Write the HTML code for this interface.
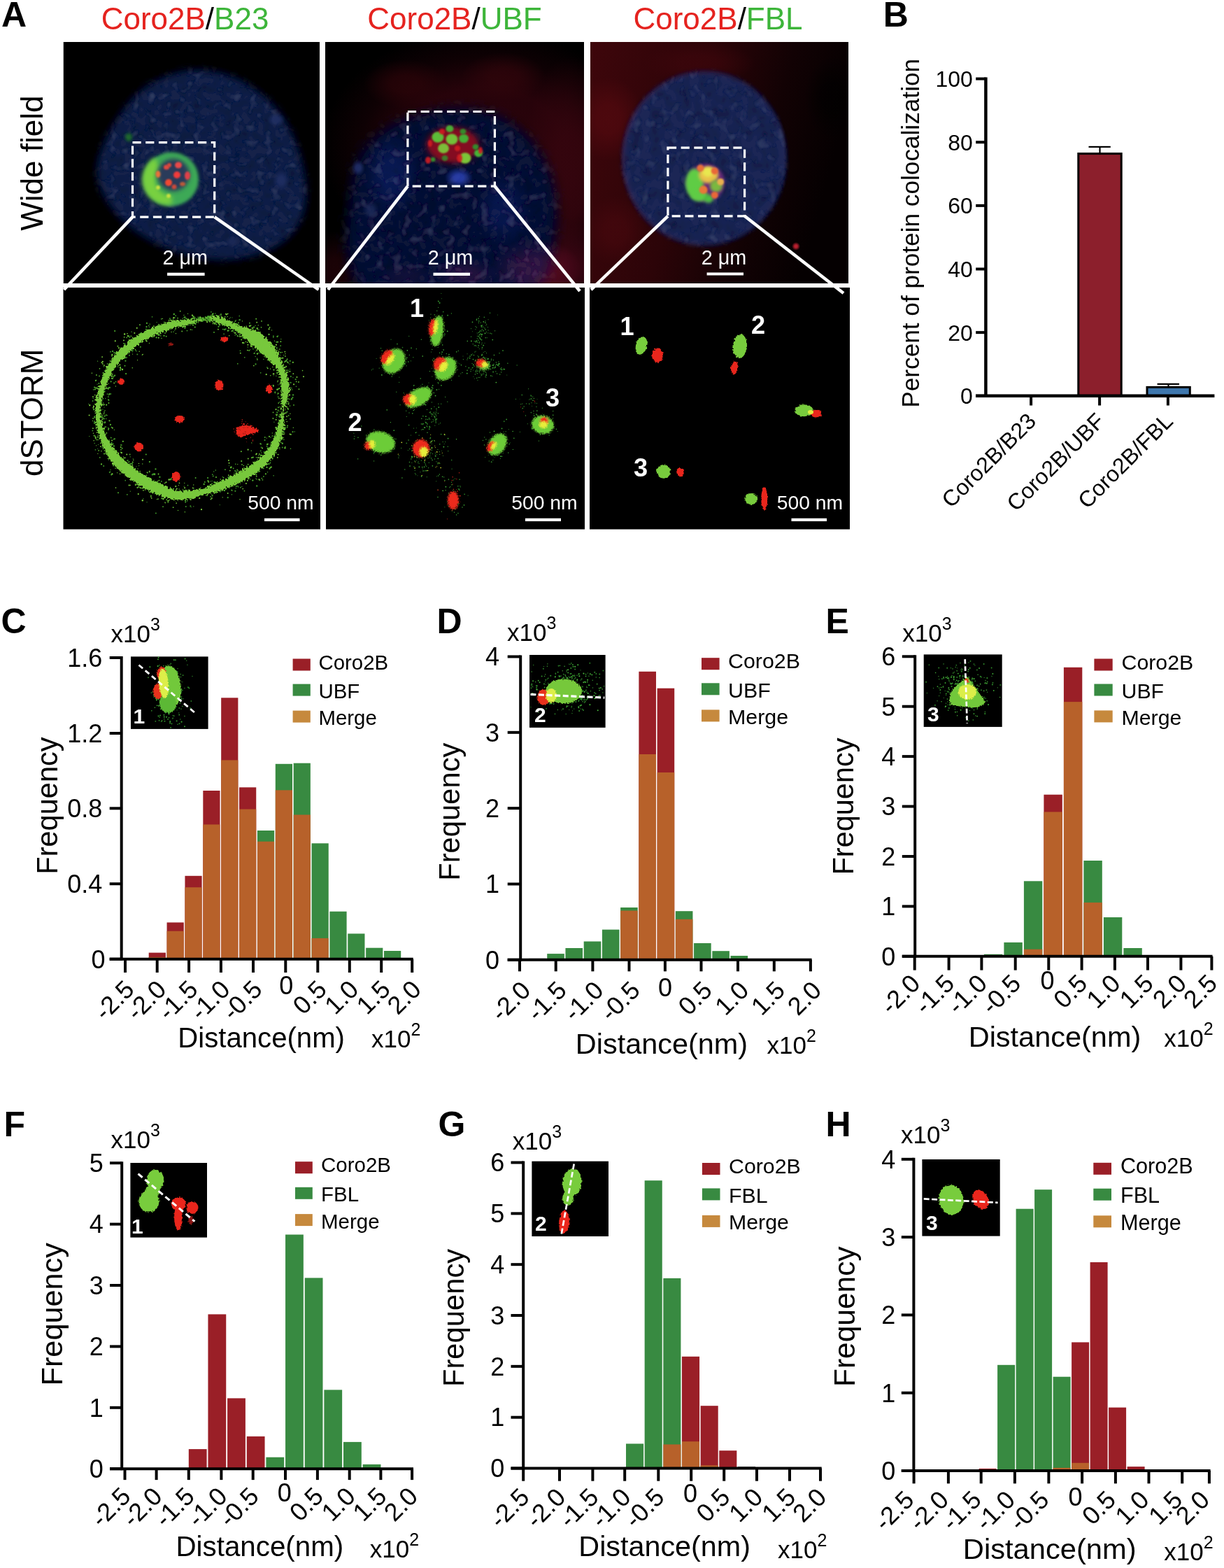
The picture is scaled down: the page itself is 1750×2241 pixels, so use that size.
<!DOCTYPE html><html><head><meta charset="utf-8"><title>Figure</title><style>html,body{margin:0;padding:0;background:#fff;}svg{display:block;}</style></head><body>
<svg xmlns="http://www.w3.org/2000/svg" width="1750" height="2241" viewBox="0 0 1750 2241" font-family='"Liberation Sans", Arial, sans-serif'>
<defs>
<radialGradient id="redbg2" cx="0.5" cy="0.35" r="0.75"><stop offset="0" stop-color="#2a0509"/><stop offset="0.5" stop-color="#22040a"/><stop offset="0.8" stop-color="#100204"/><stop offset="1" stop-color="#000"/></radialGradient>
<linearGradient id="redbg3" x1="0" y1="0" x2="1" y2="0.25"><stop offset="0" stop-color="#3e060b"/><stop offset="0.45" stop-color="#2c0408"/><stop offset="0.75" stop-color="#120204"/><stop offset="1" stop-color="#050001"/></linearGradient>
<filter id="blur05" x="-50%" y="-50%" width="200%" height="200%"><feGaussianBlur stdDeviation="0.6"/></filter>
<filter id="blur1" x="-50%" y="-50%" width="200%" height="200%"><feGaussianBlur stdDeviation="1.2"/></filter>
<filter id="blur2" x="-50%" y="-50%" width="200%" height="200%"><feGaussianBlur stdDeviation="2"/></filter>
<filter id="blur3" x="-50%" y="-50%" width="200%" height="200%"><feGaussianBlur stdDeviation="3"/></filter>
<filter id="blur4" x="-50%" y="-50%" width="200%" height="200%"><feGaussianBlur stdDeviation="4"/></filter>
<filter id="blur8" x="-50%" y="-50%" width="200%" height="200%"><feGaussianBlur stdDeviation="8"/></filter>
<filter id="blur20" x="-60%" y="-60%" width="220%" height="220%"><feGaussianBlur stdDeviation="20"/></filter>
<filter id="blur12" x="-50%" y="-50%" width="200%" height="200%"><feGaussianBlur stdDeviation="12"/></filter>
<filter id="nucblur" x="-30%" y="-30%" width="160%" height="160%"><feGaussianBlur in="SourceGraphic" stdDeviation="6" result="b"/><feTurbulence type="fractalNoise" baseFrequency="0.09" numOctaves="2" seed="7" result="t"/><feGaussianBlur in="t" stdDeviation="0.8" result="t2"/><feColorMatrix in="t2" type="matrix" values="0 0 0 0 0  0 0 0 0 0  0 0 0 0 0  0.8 0 0 0 -0.33" result="d"/><feComposite in="d" in2="b" operator="in" result="dm"/><feColorMatrix in="t2" type="matrix" values="0 0 0 0 0.1  0 0 0 0 0.13  0 0 0 0 0.28  0 0.7 0 0 -0.38" result="l"/><feComposite in="l" in2="b" operator="in" result="lm"/><feMerge><feMergeNode in="b"/><feMergeNode in="dm"/><feMergeNode in="lm"/></feMerge></filter>
<filter id="nucblur2" x="-30%" y="-30%" width="160%" height="160%"><feGaussianBlur in="SourceGraphic" stdDeviation="9" result="b"/><feTurbulence type="fractalNoise" baseFrequency="0.08" numOctaves="2" seed="4" result="t"/><feGaussianBlur in="t" stdDeviation="0.8" result="t2"/><feColorMatrix in="t2" type="matrix" values="0 0 0 0 0  0 0 0 0 0  0 0 0 0 0  0.8 0 0 0 -0.33" result="d"/><feComposite in="d" in2="b" operator="in" result="dm"/><feColorMatrix in="t2" type="matrix" values="0 0 0 0 0.1  0 0 0 0 0.13  0 0 0 0 0.28  0 0.7 0 0 -0.38" result="l"/><feComposite in="l" in2="b" operator="in" result="lm"/><feMerge><feMergeNode in="b"/><feMergeNode in="dm"/><feMergeNode in="lm"/></feMerge></filter>
<filter id="nucblur3" x="-30%" y="-30%" width="160%" height="160%"><feGaussianBlur in="SourceGraphic" stdDeviation="3" result="b"/><feTurbulence type="fractalNoise" baseFrequency="0.07" numOctaves="2" seed="11" result="t"/><feGaussianBlur in="t" stdDeviation="0.8" result="t2"/><feColorMatrix in="t2" type="matrix" values="0 0 0 0 0  0 0 0 0 0  0 0 0 0 0  0.8 0 0 0 -0.33" result="d"/><feComposite in="d" in2="b" operator="in" result="dm"/><feColorMatrix in="t2" type="matrix" values="0 0 0 0 0.1  0 0 0 0 0.13  0 0 0 0 0.28  0 0.7 0 0 -0.38" result="l"/><feComposite in="l" in2="b" operator="in" result="lm"/><feMerge><feMergeNode in="b"/><feMergeNode in="dm"/><feMergeNode in="lm"/></feMerge></filter>
<filter id="soft0" x="-50%" y="-50%" width="200%" height="200%"><feGaussianBlur stdDeviation="0.5"/></filter>
<filter id="soft1" x="-50%" y="-50%" width="200%" height="200%"><feGaussianBlur stdDeviation="1.5"/></filter>
<filter id="speck" x="-20%" y="-20%" width="140%" height="140%"><feTurbulence type="fractalNoise" baseFrequency="0.35" numOctaves="2" seed="3" result="n"/><feDisplacementMap in="SourceGraphic" in2="n" scale="9" xChannelSelector="R" yChannelSelector="G"/></filter>
<filter id="speck2" x="-50%" y="-50%" width="200%" height="200%"><feTurbulence type="fractalNoise" baseFrequency="0.5" numOctaves="2" seed="5" result="n"/><feDisplacementMap in="SourceGraphic" in2="n" scale="4" xChannelSelector="R" yChannelSelector="G"/></filter>
<filter id="speck3" x="-20%" y="-20%" width="140%" height="140%"><feGaussianBlur stdDeviation="1.3" result="b"/><feTurbulence type="fractalNoise" baseFrequency="0.6" numOctaves="1" seed="9" result="n"/><feDisplacementMap in="b" in2="n" scale="6" xChannelSelector="R" yChannelSelector="G"/></filter>
<filter id="speck5" x="-20%" y="-20%" width="140%" height="140%"><feTurbulence type="fractalNoise" baseFrequency="0.7" numOctaves="1" seed="21" result="n"/><feDisplacementMap in="SourceGraphic" in2="n" scale="5" xChannelSelector="R" yChannelSelector="G"/></filter>
<filter id="speck4" x="-20%" y="-20%" width="140%" height="140%"><feTurbulence type="fractalNoise" baseFrequency="0.3" numOctaves="2" seed="2" result="n"/><feDisplacementMap in="SourceGraphic" in2="n" scale="4" xChannelSelector="R" yChannelSelector="G"/></filter>
</defs>
<rect x="0" y="0" width="1750" height="2241" fill="#fff"/>
<text x="1.9" y="37.5" font-size="50" text-anchor="start" font-weight="bold" fill="#000">A</text>
<text x="264.5" y="41.8" font-size="44" text-anchor="middle"><tspan fill="#e5231f">Coro2B</tspan><tspan fill="#000">/</tspan><tspan fill="#3db53a">B23</tspan></text>
<text x="650" y="41.8" font-size="44" text-anchor="middle"><tspan fill="#e5231f">Coro2B</tspan><tspan fill="#000">/</tspan><tspan fill="#3db53a">UBF</tspan></text>
<text x="1026.5" y="41.8" font-size="44" text-anchor="middle"><tspan fill="#e5231f">Coro2B</tspan><tspan fill="#000">/</tspan><tspan fill="#3db53a">FBL</tspan></text>
<text x="60.9" y="233.1" font-size="44" text-anchor="middle" fill="#000" transform="rotate(-90 60.9 233.1)">Wide field</text>
<text x="60.9" y="589.8" font-size="44" text-anchor="middle" fill="#000" transform="rotate(-90 60.9 589.8)">dSTORM</text>
<svg x="90.5" y="60" width="366.5" height="345" viewBox="90.5 60 366.5 345" overflow="hidden">
<rect x="90.5" y="60" width="366.5" height="345" fill="#000"/>
<path d="M150 200 C160 178.33 180 146.67 200 130 C220 113.33 246.67 103 270 100 C293.33 97 318.33 102 340 112 C361.67 122 384.67 140.33 400 160 C415.33 179.67 426 206.67 432 230 C438 253.33 441.33 280 436 300 C430.67 320 417.67 338 400 350 C382.33 362 355 370.33 330 372 C305 373.67 275 368.67 250 360 C225 351.33 198.33 336.67 180 320 C161.67 303.33 145 280 140 260 C135 240 140 221.67 150 200Z" fill="#16214a" filter="url(#nucblur)"/>
<ellipse cx="395" cy="171" rx="13" ry="10" fill="url(#sg0)"/>
<ellipse cx="402" cy="258" rx="12" ry="15" fill="url(#sg0)"/>
<ellipse cx="332" cy="345" rx="10" ry="9" fill="url(#sg1)"/>
<ellipse cx="245" cy="256" rx="39" ry="38.5" fill="#3da957" filter="url(#blur2)"/>
<path d="M222 225 A36 36 0 0 0 246 292 L246 280 A24 24 0 0 1 228 240 Z" fill="#78d040" filter="url(#blur3)"/>
<ellipse cx="248" cy="250" rx="23" ry="23" fill="#2a3a5a" filter="url(#blur3)"/>
<ellipse cx="226" cy="249" rx="3.5" ry="5" fill="#e8703a" filter="url(#blur1)"/>
<ellipse cx="238" cy="239" rx="4" ry="3.5" fill="#e04a40" filter="url(#blur1)"/>
<ellipse cx="255" cy="236" rx="5" ry="4.5" fill="#e84a4a" filter="url(#blur1)"/>
<ellipse cx="253" cy="250" rx="5" ry="5" fill="#f03a3a" filter="url(#blur1)"/>
<ellipse cx="241" cy="261" rx="5" ry="5" fill="#f04a30" filter="url(#blur1)"/>
<ellipse cx="268" cy="251" rx="4" ry="6" fill="#e0404a" filter="url(#blur1)"/>
<ellipse cx="249" cy="267" rx="3.5" ry="3.5" fill="#c84a3a" filter="url(#blur1)"/>
<ellipse cx="261" cy="263" rx="4" ry="3" fill="#b85a3a" filter="url(#blur1)"/>
<ellipse cx="242" cy="236" rx="3" ry="3" fill="#d84a3a" filter="url(#blur1)"/>
<ellipse cx="226" cy="268" rx="3" ry="3" fill="#c8e040" filter="url(#blur1)"/>
<ellipse cx="241" cy="280" rx="3" ry="3" fill="#c8e040" filter="url(#blur1)"/>
<ellipse cx="184" cy="196" rx="5" ry="6" fill="#1f6b2a" filter="url(#blur2)"/>
<rect x="189.5" y="203.7" width="117.2" height="106.4" fill="none" stroke="#fff" stroke-width="3.2" stroke-dasharray="12.2 6.5"/>
</svg>
<svg x="465" y="60" width="370" height="345" viewBox="465 60 370 345" overflow="hidden">
<rect x="465" y="60" width="370" height="345" fill="#000"/>
<mask id="m2"><rect x="465" y="60" width="370" height="345" fill="#fff"/><path d="M498 300 C500.5 275.83 501.67 245.33 512 225 C522.33 204.67 540.33 189.5 560 178 C579.67 166.5 606.67 159 630 156 C653.33 153 679.17 153.5 700 160 C720.83 166.5 740 179.17 755 195 C770 210.83 783.33 232.5 790 255 C796.67 277.5 798.33 304.17 795 330 C791.67 355.83 794.17 391.67 770 410 C745.83 428.33 690 436.67 650 440 C610 443.33 555.5 441.67 530 430 C504.5 418.33 502.33 391.67 497 370 C491.67 348.33 495.5 324.17 498 300Z" fill="#000" filter="url(#blur8)"/></mask>
<g mask="url(#m2)">
<ellipse cx="690" cy="210" rx="230" ry="170" fill="url(#sg2)"/>
<ellipse cx="815" cy="250" rx="70" ry="170" fill="url(#sg3)"/>
<ellipse cx="790" cy="385" rx="110" ry="70" fill="url(#sg4)"/>
<ellipse cx="580" cy="120" rx="60" ry="35" fill="url(#sg5)"/>
<ellipse cx="720" cy="110" rx="60" ry="35" fill="url(#sg6)"/>
<ellipse cx="480" cy="390" rx="50" ry="60" fill="url(#sg7)"/>
</g>
<path d="M498 300 C500.5 275.83 501.67 245.33 512 225 C522.33 204.67 540.33 189.5 560 178 C579.67 166.5 606.67 159 630 156 C653.33 153 679.17 153.5 700 160 C720.83 166.5 740 179.17 755 195 C770 210.83 783.33 232.5 790 255 C796.67 277.5 798.33 304.17 795 330 C791.67 355.83 794.17 391.67 770 410 C745.83 428.33 690 436.67 650 440 C610 443.33 555.5 441.67 530 430 C504.5 418.33 502.33 391.67 497 370 C491.67 348.33 495.5 324.17 498 300Z" fill="#0f1839" filter="url(#nucblur2)" style="mix-blend-mode:screen"/>
<ellipse cx="765" cy="385" rx="65" ry="45" fill="url(#sg8)" style="mix-blend-mode:screen"/>
<ellipse cx="665" cy="392" rx="45" ry="25" fill="url(#sg9)" style="mix-blend-mode:screen"/>
<ellipse cx="580" cy="395" rx="40" ry="20" fill="url(#sg10)" style="mix-blend-mode:screen"/>
<ellipse cx="560" cy="250" rx="40" ry="60" fill="url(#sg11)" style="mix-blend-mode:screen"/>
<ellipse cx="720" cy="300" rx="40" ry="50" fill="url(#sg12)" style="mix-blend-mode:screen"/>
<ellipse cx="512" cy="240" rx="10" ry="12" fill="url(#sg13)"/>
<ellipse cx="530" cy="300" rx="12" ry="14" fill="url(#sg14)"/>
<ellipse cx="656" cy="254" rx="20" ry="15" fill="url(#sg15)"/>
<ellipse cx="648" cy="208" rx="48" ry="35" fill="url(#sg16)"/>
<ellipse cx="647" cy="207" rx="36" ry="24" fill="#8a1020" filter="url(#blur3)" opacity="0.9"/>
<ellipse cx="626" cy="196" rx="8.5" ry="7.65" fill="#5cbc38" filter="url(#blur1)"/>
<ellipse cx="643" cy="184" rx="5.5" ry="4.95" fill="#48ac34" filter="url(#blur1)"/>
<ellipse cx="646" cy="199" rx="8.5" ry="7.65" fill="#72c038" filter="url(#blur1)"/>
<ellipse cx="663" cy="198" rx="7" ry="6.3" fill="#44ac34" filter="url(#blur1)"/>
<ellipse cx="662" cy="188" rx="4.5" ry="4.05" fill="#358a2c" filter="url(#blur1)"/>
<ellipse cx="634" cy="212" rx="8" ry="7.2" fill="#7cbc38" filter="url(#blur1)"/>
<ellipse cx="665" cy="226" rx="8.5" ry="7.65" fill="#7cc438" filter="url(#blur1)"/>
<ellipse cx="684" cy="219" rx="6" ry="5.4" fill="#46b436" filter="url(#blur1)"/>
<ellipse cx="680" cy="210" rx="4.5" ry="4.05" fill="#358a2c" filter="url(#blur1)"/>
<ellipse cx="619" cy="228" rx="3.5" ry="3.15" fill="#358a2c" filter="url(#blur1)"/>
<ellipse cx="636" cy="226" rx="4.5" ry="4.05" fill="#407c2c" filter="url(#blur1)"/>
<ellipse cx="612" cy="229" rx="4" ry="5" fill="#d01a22" filter="url(#blur1)" opacity="0.9"/>
<ellipse cx="687" cy="215" rx="3" ry="5" fill="#d01a22" filter="url(#blur1)" opacity="0.9"/>
<ellipse cx="657" cy="226" rx="4" ry="6" fill="#d01a22" filter="url(#blur1)" opacity="0.9"/>
<ellipse cx="632" cy="188" rx="4" ry="4" fill="#d01a22" filter="url(#blur1)" opacity="0.9"/>
<ellipse cx="654" cy="212" rx="4" ry="4" fill="#d01a22" filter="url(#blur1)" opacity="0.9"/>
<ellipse cx="615" cy="205" rx="3" ry="5" fill="#d01a22" filter="url(#blur1)" opacity="0.9"/>
<rect x="582.9" y="159.5" width="124.5" height="106.6" fill="none" stroke="#fff" stroke-width="3.2" stroke-dasharray="12.2 6.5"/>
</svg>
<svg x="844" y="60" width="369" height="345" viewBox="844 60 369 345" overflow="hidden">
<rect x="844" y="60" width="369" height="345" fill="#000"/>
<mask id="m3"><rect x="844" y="60" width="369" height="345" fill="#fff"/><ellipse cx="1007" cy="226.5" rx="116" ry="123" fill="#000" filter="url(#blur4)"/></mask>
<g mask="url(#m3)">
<rect x="844" y="60" width="369" height="345" fill="url(#redbg3)"/>
<ellipse cx="870" cy="170" rx="50" ry="60" fill="url(#sg17)"/>
<ellipse cx="880" cy="330" rx="45" ry="50" fill="url(#sg18)"/>
<ellipse cx="1000" cy="90" rx="80" ry="30" fill="url(#sg19)"/>
<ellipse cx="1190" cy="140" rx="40" ry="60" fill="url(#sg20)"/>
</g>
<circle cx="1007" cy="226.5" r="122" fill="#1a2654" filter="url(#nucblur3)" style="mix-blend-mode:screen" transform="translate(1007 226.5) scale(0.97 1.025) translate(-1007 -226.5)"/>
<ellipse cx="1138" cy="352" rx="6" ry="6" fill="url(#sg21)"/>
<ellipse cx="1009" cy="261" rx="27" ry="27" fill="#8a2a8a" filter="url(#blur2)" opacity="0.7"/>
<ellipse cx="993" cy="262" rx="13" ry="21" fill="#5fcc44" filter="url(#blur2)"/>
<ellipse cx="1000" cy="280" rx="12" ry="8" fill="#5fcc44" filter="url(#blur2)"/>
<ellipse cx="1013" cy="250" rx="14" ry="12" fill="#e8c048" filter="url(#blur2)"/>
<ellipse cx="1012" cy="246" rx="8" ry="7" fill="#e8e850" filter="url(#blur2)"/>
<ellipse cx="1024" cy="266" rx="9" ry="9" fill="#7ab840" filter="url(#blur2)"/>
<ellipse cx="1013" cy="284" rx="7" ry="6" fill="#4cc040" filter="url(#blur2)"/>
<ellipse cx="1001.4" cy="240.2" rx="5" ry="5" fill="#e87038" filter="url(#blur1)"/>
<ellipse cx="1021.8" cy="244.4" rx="5" ry="5" fill="#e86838" filter="url(#blur1)"/>
<ellipse cx="1005.6" cy="271.2" rx="6" ry="6" fill="#e87838" filter="url(#blur1)"/>
<ellipse cx="1021.8" cy="278.9" rx="5" ry="5" fill="#e86838" filter="url(#blur1)"/>
<ellipse cx="1030.2" cy="259.9" rx="5" ry="5" fill="#e8b050" filter="url(#blur1)"/>
<rect x="954.9" y="211.1" width="109.7" height="97.7" fill="none" stroke="#fff" stroke-width="3.2" stroke-dasharray="12.2 6.5"/>
</svg>
<rect x="90.5" y="411" width="367.5" height="345.5" fill="#000"/>
<rect x="466" y="411" width="370" height="345.5" fill="#000"/>
<rect x="843" y="411" width="372" height="345.5" fill="#000"/>
<svg x="90.5" y="411" width="367.5" height="345.5" viewBox="90.5 411 367.5 345.5" overflow="hidden">
<circle cx="377.69" cy="498.94" r="1.16" fill="#78c83c"/><circle cx="336.76" cy="663.29" r="0.82" fill="#4aa82c"/><circle cx="361.28" cy="483.31" r="0.81" fill="#4aa82c"/><circle cx="137.37" cy="543.43" r="0.95" fill="#3a8f28"/><circle cx="171.51" cy="677.18" r="0.79" fill="#78c83c"/><circle cx="331.95" cy="453.97" r="0.6" fill="#3a8f28"/><circle cx="172.17" cy="664.1" r="0.66" fill="#3a8f28"/><circle cx="208.55" cy="681.18" r="1.18" fill="#4aa82c"/><circle cx="402.34" cy="617.28" r="1.04" fill="#4aa82c"/><circle cx="213.56" cy="683.3" r="0.91" fill="#3a8f28"/><circle cx="139.22" cy="615.05" r="0.69" fill="#5eb832"/><circle cx="281.17" cy="706.47" r="0.69" fill="#78c83c"/><circle cx="400.62" cy="626.04" r="1.2" fill="#3a8f28"/><circle cx="198.33" cy="684.03" r="0.73" fill="#78c83c"/><circle cx="279.67" cy="458.2" r="0.8" fill="#3a8f28"/><circle cx="364.16" cy="504.58" r="0.82" fill="#4aa82c"/><circle cx="142.98" cy="593.65" r="0.74" fill="#78c83c"/><circle cx="174.1" cy="662.41" r="0.92" fill="#4aa82c"/><circle cx="275.37" cy="459.87" r="1.1" fill="#4aa82c"/><circle cx="149.81" cy="556.9" r="0.64" fill="#3a8f28"/><circle cx="321.44" cy="465.66" r="0.82" fill="#5eb832"/><circle cx="191.62" cy="684.54" r="0.94" fill="#4aa82c"/><circle cx="275.37" cy="451.31" r="0.79" fill="#3a8f28"/><circle cx="178.5" cy="522.79" r="0.98" fill="#4aa82c"/><circle cx="234.7" cy="702.28" r="0.68" fill="#78c83c"/><circle cx="280.54" cy="461.03" r="0.76" fill="#5eb832"/><circle cx="385.55" cy="467.95" r="0.98" fill="#5eb832"/><circle cx="164.07" cy="509.37" r="0.76" fill="#5eb832"/><circle cx="344.91" cy="476.13" r="0.79" fill="#78c83c"/><circle cx="292.58" cy="457.08" r="0.87" fill="#78c83c"/><circle cx="263.16" cy="695.11" r="0.62" fill="#5eb832"/><circle cx="204.85" cy="712.69" r="0.71" fill="#3a8f28"/><circle cx="404.75" cy="594.73" r="0.65" fill="#3a8f28"/><circle cx="389.62" cy="655.67" r="0.85" fill="#5eb832"/><circle cx="157.62" cy="673.89" r="0.72" fill="#3a8f28"/><circle cx="149.07" cy="648.48" r="1.07" fill="#5eb832"/><circle cx="391.91" cy="603.25" r="0.69" fill="#3a8f28"/><circle cx="235.94" cy="717.88" r="0.7" fill="#78c83c"/><circle cx="375.42" cy="685.84" r="0.93" fill="#4aa82c"/><circle cx="391.74" cy="501.15" r="1.07" fill="#5eb832"/><circle cx="166.52" cy="644.09" r="0.87" fill="#4aa82c"/><circle cx="350.59" cy="481.05" r="1.12" fill="#5eb832"/><circle cx="401.52" cy="584.57" r="0.88" fill="#78c83c"/><circle cx="200.8" cy="495.85" r="1.08" fill="#3a8f28"/><circle cx="149.47" cy="604.12" r="1.17" fill="#3a8f28"/><circle cx="137.83" cy="554.67" r="1.16" fill="#5eb832"/><circle cx="394.81" cy="644.58" r="0.64" fill="#3a8f28"/><circle cx="264.12" cy="697.24" r="1.05" fill="#78c83c"/><circle cx="182.58" cy="658.08" r="1.15" fill="#3a8f28"/><circle cx="241.72" cy="714.79" r="0.7" fill="#4aa82c"/><circle cx="331.43" cy="463.83" r="0.94" fill="#5eb832"/><circle cx="141.51" cy="596.92" r="0.73" fill="#4aa82c"/><circle cx="358.06" cy="674.86" r="0.94" fill="#3a8f28"/><circle cx="340.99" cy="461.38" r="0.91" fill="#5eb832"/><circle cx="278.65" cy="453.59" r="0.9" fill="#3a8f28"/><circle cx="162.11" cy="539.07" r="0.8" fill="#5eb832"/><circle cx="345.51" cy="476.82" r="0.76" fill="#3a8f28"/><circle cx="186.49" cy="693.45" r="0.61" fill="#78c83c"/><circle cx="303.76" cy="448.99" r="0.62" fill="#78c83c"/><circle cx="389.96" cy="524.53" r="0.74" fill="#78c83c"/><circle cx="236.99" cy="703.21" r="0.8" fill="#4aa82c"/><circle cx="132.89" cy="612.14" r="0.91" fill="#78c83c"/><circle cx="222.72" cy="470.09" r="1.07" fill="#3a8f28"/><circle cx="357.49" cy="466.1" r="0.9" fill="#78c83c"/><circle cx="171.85" cy="528.91" r="1.14" fill="#4aa82c"/><circle cx="203.36" cy="507.22" r="0.76" fill="#5eb832"/><circle cx="403.79" cy="639.47" r="1.01" fill="#3a8f28"/><circle cx="148.48" cy="598.32" r="1.19" fill="#4aa82c"/><circle cx="262.43" cy="461.2" r="1.1" fill="#4aa82c"/><circle cx="344.09" cy="674.36" r="0.7" fill="#3a8f28"/><circle cx="392.47" cy="624.32" r="1.01" fill="#4aa82c"/><circle cx="326.7" cy="467.81" r="0.9" fill="#3a8f28"/><circle cx="420.07" cy="549.37" r="1.08" fill="#78c83c"/><circle cx="155.41" cy="612.39" r="0.88" fill="#5eb832"/><circle cx="410.89" cy="561.97" r="0.89" fill="#78c83c"/><circle cx="288" cy="728.21" r="1.15" fill="#78c83c"/><circle cx="156.92" cy="646" r="1.07" fill="#5eb832"/><circle cx="139.51" cy="605.29" r="1" fill="#4aa82c"/><circle cx="268.78" cy="456.37" r="1.17" fill="#78c83c"/><circle cx="393.21" cy="643.95" r="0.61" fill="#3a8f28"/><circle cx="146.86" cy="593.83" r="0.66" fill="#78c83c"/><circle cx="368.32" cy="658.2" r="0.68" fill="#4aa82c"/><circle cx="226.78" cy="696.16" r="0.63" fill="#78c83c"/><circle cx="156.35" cy="630.47" r="1.03" fill="#4aa82c"/><circle cx="197.72" cy="483.29" r="0.85" fill="#3a8f28"/><circle cx="372.19" cy="499.82" r="1" fill="#4aa82c"/><circle cx="277.03" cy="454.84" r="1.04" fill="#5eb832"/><circle cx="232.28" cy="455.44" r="0.68" fill="#78c83c"/><circle cx="403.45" cy="575.72" r="0.84" fill="#78c83c"/><circle cx="405.07" cy="617.2" r="1.16" fill="#3a8f28"/><circle cx="184.78" cy="666.34" r="1.13" fill="#4aa82c"/><circle cx="323.65" cy="688.81" r="0.93" fill="#4aa82c"/><circle cx="322.8" cy="698.85" r="1.03" fill="#78c83c"/><circle cx="236.4" cy="699.44" r="0.98" fill="#5eb832"/><circle cx="189.76" cy="660.54" r="1.08" fill="#5eb832"/><circle cx="387.52" cy="500.16" r="0.87" fill="#5eb832"/><circle cx="145.2" cy="594.69" r="1.08" fill="#4aa82c"/><circle cx="191.73" cy="685.96" r="0.69" fill="#3a8f28"/><circle cx="306.33" cy="702.58" r="0.73" fill="#78c83c"/><circle cx="391.11" cy="534.33" r="1.18" fill="#78c83c"/><circle cx="354.22" cy="496" r="0.73" fill="#3a8f28"/><circle cx="192.95" cy="484.73" r="1.2" fill="#4aa82c"/><circle cx="139.54" cy="516.15" r="0.71" fill="#4aa82c"/><circle cx="203.75" cy="662.97" r="0.68" fill="#5eb832"/><circle cx="177.26" cy="503.67" r="0.89" fill="#5eb832"/><circle cx="276.81" cy="723.83" r="0.62" fill="#5eb832"/><circle cx="395.66" cy="497.32" r="1.17" fill="#3a8f28"/><circle cx="338.57" cy="462.8" r="1.04" fill="#3a8f28"/><circle cx="159.44" cy="632.94" r="1.11" fill="#3a8f28"/><circle cx="354.38" cy="492.73" r="1.02" fill="#78c83c"/><circle cx="273.46" cy="705.4" r="1.14" fill="#3a8f28"/><circle cx="408.82" cy="562.22" r="0.65" fill="#78c83c"/><circle cx="222.9" cy="733.55" r="0.99" fill="#3a8f28"/><circle cx="300.12" cy="704.47" r="0.61" fill="#3a8f28"/><circle cx="137.94" cy="597.4" r="0.99" fill="#3a8f28"/><circle cx="210.59" cy="699.42" r="0.9" fill="#3a8f28"/><circle cx="386.73" cy="536.8" r="0.82" fill="#5eb832"/><circle cx="254.09" cy="454.71" r="0.88" fill="#5eb832"/><circle cx="138.83" cy="568.01" r="1.14" fill="#4aa82c"/><circle cx="161.03" cy="540.93" r="0.86" fill="#4aa82c"/><circle cx="360.42" cy="468.52" r="0.85" fill="#78c83c"/><circle cx="295.58" cy="454.76" r="0.85" fill="#78c83c"/><circle cx="196.76" cy="686.02" r="0.8" fill="#5eb832"/><circle cx="387.04" cy="625.22" r="0.81" fill="#3a8f28"/><circle cx="386.68" cy="638.81" r="0.64" fill="#78c83c"/><circle cx="322.64" cy="470.4" r="1.07" fill="#3a8f28"/><circle cx="338.33" cy="469.39" r="1.09" fill="#4aa82c"/><circle cx="320.96" cy="471" r="1.17" fill="#3a8f28"/><circle cx="142.38" cy="556.35" r="1.11" fill="#3a8f28"/><circle cx="237.67" cy="480.65" r="1" fill="#4aa82c"/><circle cx="162.63" cy="627.84" r="0.77" fill="#5eb832"/><circle cx="410.11" cy="514.17" r="0.72" fill="#4aa82c"/><circle cx="397.89" cy="613.68" r="1.16" fill="#4aa82c"/><circle cx="266.35" cy="455.43" r="1.08" fill="#4aa82c"/><circle cx="344.8" cy="473.21" r="0.68" fill="#3a8f28"/><circle cx="311.89" cy="470.65" r="0.97" fill="#78c83c"/><circle cx="401.96" cy="628.21" r="0.8" fill="#5eb832"/><circle cx="360.5" cy="479.26" r="1.07" fill="#78c83c"/><circle cx="281.68" cy="459.11" r="0.72" fill="#3a8f28"/><circle cx="162.4" cy="665.62" r="0.67" fill="#78c83c"/><circle cx="135.09" cy="602.25" r="0.9" fill="#4aa82c"/><circle cx="304.06" cy="455.47" r="0.77" fill="#78c83c"/><circle cx="407.53" cy="613.35" r="1.05" fill="#5eb832"/><circle cx="297.05" cy="683.05" r="1.06" fill="#4aa82c"/><circle cx="405.45" cy="572.98" r="0.94" fill="#5eb832"/><circle cx="155.52" cy="553.92" r="0.96" fill="#4aa82c"/><circle cx="396.86" cy="622.97" r="0.97" fill="#4aa82c"/><circle cx="382.85" cy="651.16" r="0.95" fill="#3a8f28"/><circle cx="222.82" cy="697.21" r="1.14" fill="#3a8f28"/><circle cx="159.56" cy="610.67" r="0.87" fill="#4aa82c"/><circle cx="363.18" cy="489.89" r="1.15" fill="#78c83c"/><circle cx="339.8" cy="519.8" r="0.85" fill="#4aa82c"/><circle cx="213.74" cy="673.8" r="1.04" fill="#78c83c"/><circle cx="299.05" cy="456.06" r="0.86" fill="#78c83c"/><circle cx="299.26" cy="452.74" r="0.93" fill="#4aa82c"/><circle cx="259.06" cy="458.47" r="0.99" fill="#5eb832"/><circle cx="412.02" cy="551.64" r="0.87" fill="#5eb832"/><circle cx="147.63" cy="537.9" r="1.2" fill="#3a8f28"/><circle cx="152.19" cy="578.63" r="1.12" fill="#5eb832"/><circle cx="185.88" cy="664.71" r="0.79" fill="#4aa82c"/><circle cx="230.08" cy="700.51" r="0.99" fill="#4aa82c"/><circle cx="126.63" cy="577.34" r="0.69" fill="#3a8f28"/><circle cx="417.85" cy="556.9" r="0.61" fill="#5eb832"/><circle cx="381.19" cy="626.09" r="0.6" fill="#78c83c"/><circle cx="346.01" cy="663.95" r="0.87" fill="#5eb832"/><circle cx="278.51" cy="455.04" r="0.91" fill="#5eb832"/><circle cx="174.93" cy="528.28" r="1.1" fill="#78c83c"/><circle cx="404.92" cy="550.97" r="0.95" fill="#5eb832"/><circle cx="390.39" cy="597.97" r="0.97" fill="#5eb832"/><circle cx="410.67" cy="610.64" r="0.85" fill="#4aa82c"/><circle cx="150.34" cy="549.49" r="1.07" fill="#78c83c"/><circle cx="386.37" cy="658.28" r="0.63" fill="#4aa82c"/><circle cx="379.86" cy="677.37" r="1.08" fill="#5eb832"/><circle cx="150.67" cy="541.95" r="1.11" fill="#78c83c"/><circle cx="414.75" cy="515.9" r="1.11" fill="#3a8f28"/><circle cx="364.19" cy="670.41" r="1.18" fill="#5eb832"/><circle cx="150.89" cy="539.27" r="0.72" fill="#4aa82c"/><circle cx="204.76" cy="695.39" r="0.64" fill="#78c83c"/><circle cx="239.34" cy="464.9" r="0.76" fill="#4aa82c"/><circle cx="309.51" cy="463.71" r="0.85" fill="#4aa82c"/><circle cx="231.24" cy="712.14" r="0.88" fill="#78c83c"/><circle cx="385.93" cy="513.36" r="1.06" fill="#78c83c"/><circle cx="380.73" cy="535.23" r="1.11" fill="#78c83c"/><circle cx="325.71" cy="704.96" r="0.99" fill="#78c83c"/><circle cx="283.33" cy="456.64" r="1.16" fill="#78c83c"/><circle cx="391.52" cy="536.83" r="0.61" fill="#3a8f28"/><circle cx="393.73" cy="624.86" r="0.74" fill="#4aa82c"/><circle cx="410.53" cy="567.33" r="0.71" fill="#78c83c"/><circle cx="365.5" cy="520.51" r="1.15" fill="#3a8f28"/><circle cx="398.22" cy="576.12" r="0.91" fill="#5eb832"/><circle cx="230.99" cy="483.49" r="0.7" fill="#5eb832"/><circle cx="385.72" cy="648.19" r="0.73" fill="#78c83c"/><circle cx="156.48" cy="601.31" r="1.16" fill="#5eb832"/><circle cx="162.58" cy="527.16" r="1.15" fill="#5eb832"/><circle cx="139.64" cy="607.92" r="0.81" fill="#4aa82c"/><circle cx="397.73" cy="624.03" r="0.65" fill="#5eb832"/><circle cx="372.99" cy="650.69" r="1.11" fill="#3a8f28"/><circle cx="309.6" cy="451.01" r="1" fill="#5eb832"/><circle cx="411.59" cy="532.56" r="0.6" fill="#5eb832"/><circle cx="314.62" cy="688.27" r="0.6" fill="#78c83c"/><circle cx="387.64" cy="500.03" r="1.08" fill="#5eb832"/><circle cx="378.54" cy="629.12" r="1.1" fill="#3a8f28"/><circle cx="238.77" cy="706.91" r="0.93" fill="#3a8f28"/><circle cx="371.36" cy="686.23" r="1" fill="#3a8f28"/><circle cx="160.17" cy="508.87" r="0.9" fill="#5eb832"/><circle cx="167.84" cy="652.68" r="1.19" fill="#3a8f28"/><circle cx="171.78" cy="507.83" r="0.94" fill="#5eb832"/><circle cx="395.2" cy="642.13" r="0.85" fill="#4aa82c"/><circle cx="164.15" cy="473.11" r="1.03" fill="#4aa82c"/><circle cx="373.51" cy="639.32" r="0.8" fill="#4aa82c"/><circle cx="412.42" cy="552.39" r="0.61" fill="#5eb832"/><circle cx="192.32" cy="475.98" r="1.07" fill="#78c83c"/><circle cx="325.71" cy="711.05" r="1.17" fill="#3a8f28"/><circle cx="248.41" cy="698.23" r="0.63" fill="#78c83c"/><circle cx="162.77" cy="641.02" r="1.04" fill="#5eb832"/><circle cx="215.9" cy="710.05" r="0.87" fill="#78c83c"/><circle cx="253.28" cy="463.86" r="0.71" fill="#5eb832"/><circle cx="204.15" cy="506.51" r="0.81" fill="#78c83c"/><circle cx="389.77" cy="622.92" r="0.67" fill="#5eb832"/><circle cx="279.7" cy="462.66" r="1.07" fill="#3a8f28"/><circle cx="396.46" cy="481.04" r="1.16" fill="#4aa82c"/><circle cx="183.42" cy="503.71" r="0.99" fill="#3a8f28"/><circle cx="347.48" cy="482.65" r="1.07" fill="#4aa82c"/><circle cx="182.01" cy="476.78" r="0.84" fill="#78c83c"/><circle cx="199.15" cy="502.17" r="0.73" fill="#78c83c"/><circle cx="411.73" cy="569.91" r="1.12" fill="#3a8f28"/><circle cx="160.83" cy="534.86" r="0.88" fill="#78c83c"/><circle cx="304.56" cy="460.53" r="0.69" fill="#78c83c"/><circle cx="303.64" cy="708.38" r="1.05" fill="#4aa82c"/><circle cx="272.32" cy="723.28" r="1.01" fill="#3a8f28"/><circle cx="293.94" cy="457.39" r="0.62" fill="#5eb832"/><circle cx="373.51" cy="467.8" r="0.85" fill="#5eb832"/><circle cx="361.33" cy="686.58" r="1.17" fill="#4aa82c"/><circle cx="137.66" cy="589.14" r="0.91" fill="#3a8f28"/><circle cx="418.49" cy="617.25" r="1.09" fill="#4aa82c"/><circle cx="381.84" cy="634.95" r="0.98" fill="#4aa82c"/><circle cx="264.69" cy="467.36" r="1.02" fill="#78c83c"/><circle cx="266.11" cy="462.47" r="1.04" fill="#3a8f28"/><circle cx="239.46" cy="695.8" r="0.85" fill="#5eb832"/><circle cx="291.7" cy="692.04" r="1.19" fill="#4aa82c"/><circle cx="160.12" cy="508.04" r="0.71" fill="#78c83c"/><circle cx="261.14" cy="712.19" r="0.88" fill="#3a8f28"/><circle cx="296.11" cy="458.48" r="0.93" fill="#78c83c"/><circle cx="160.41" cy="677.43" r="1.15" fill="#78c83c"/><circle cx="221.94" cy="689.53" r="1.11" fill="#4aa82c"/><circle cx="228.5" cy="701.75" r="0.77" fill="#5eb832"/><circle cx="149.56" cy="620.39" r="0.78" fill="#5eb832"/><circle cx="367.83" cy="478.17" r="0.72" fill="#3a8f28"/><circle cx="273.25" cy="456.16" r="0.94" fill="#5eb832"/><circle cx="181.2" cy="510.91" r="0.71" fill="#78c83c"/><circle cx="149.09" cy="540.07" r="1.16" fill="#4aa82c"/><circle cx="146.72" cy="596.6" r="1.09" fill="#4aa82c"/><circle cx="204.94" cy="695.06" r="0.82" fill="#5eb832"/><circle cx="264.78" cy="714.99" r="0.84" fill="#78c83c"/><circle cx="278.42" cy="458.7" r="0.87" fill="#4aa82c"/><circle cx="367.23" cy="648.34" r="0.69" fill="#4aa82c"/><circle cx="391.88" cy="630.76" r="0.63" fill="#78c83c"/><circle cx="153.35" cy="535.03" r="0.64" fill="#4aa82c"/><circle cx="222.41" cy="690.42" r="1.13" fill="#3a8f28"/><circle cx="397.65" cy="562.37" r="1.13" fill="#5eb832"/><circle cx="341.53" cy="688.46" r="0.94" fill="#78c83c"/><circle cx="401.36" cy="488.16" r="1.02" fill="#5eb832"/><circle cx="357.63" cy="685.11" r="0.76" fill="#4aa82c"/><circle cx="341.6" cy="690.01" r="0.72" fill="#78c83c"/><circle cx="209.46" cy="487.3" r="1.15" fill="#78c83c"/><circle cx="301.86" cy="445.8" r="0.91" fill="#3a8f28"/><circle cx="255.23" cy="465.29" r="0.87" fill="#5eb832"/><circle cx="421.25" cy="616.88" r="0.75" fill="#3a8f28"/><circle cx="339.76" cy="663.55" r="0.64" fill="#78c83c"/><circle cx="336.03" cy="476.13" r="0.85" fill="#78c83c"/><circle cx="146.23" cy="602.7" r="1.03" fill="#4aa82c"/><circle cx="143.26" cy="587.64" r="0.64" fill="#3a8f28"/><circle cx="288.45" cy="457.98" r="0.83" fill="#5eb832"/><circle cx="137.65" cy="565.45" r="0.72" fill="#78c83c"/><circle cx="134.09" cy="581.06" r="0.9" fill="#5eb832"/><circle cx="143.17" cy="588.53" r="0.67" fill="#3a8f28"/><circle cx="372.04" cy="488.94" r="1.05" fill="#4aa82c"/><circle cx="132.44" cy="573.44" r="0.65" fill="#3a8f28"/><circle cx="245.03" cy="474.49" r="0.78" fill="#5eb832"/><circle cx="137.63" cy="611.67" r="0.96" fill="#78c83c"/><circle cx="368.39" cy="667.74" r="0.86" fill="#78c83c"/><circle cx="294.32" cy="454.72" r="1.13" fill="#4aa82c"/><circle cx="276.45" cy="461.8" r="1.07" fill="#78c83c"/><circle cx="292.85" cy="454.86" r="0.73" fill="#78c83c"/><circle cx="343.84" cy="696.63" r="0.91" fill="#4aa82c"/><circle cx="150.03" cy="538.63" r="1.09" fill="#5eb832"/><circle cx="221.12" cy="677.27" r="1.07" fill="#5eb832"/><circle cx="157.35" cy="526.54" r="1.12" fill="#5eb832"/><circle cx="382.55" cy="674.69" r="0.8" fill="#3a8f28"/><circle cx="281.01" cy="458.32" r="0.76" fill="#4aa82c"/><circle cx="215.38" cy="688.02" r="1.18" fill="#5eb832"/><circle cx="388.26" cy="653.97" r="1.13" fill="#78c83c"/><circle cx="372.71" cy="650.67" r="0.76" fill="#3a8f28"/><circle cx="401.61" cy="534.75" r="1.1" fill="#5eb832"/><circle cx="327.91" cy="459" r="1.15" fill="#78c83c"/><circle cx="227.38" cy="686.52" r="0.89" fill="#78c83c"/><circle cx="154.98" cy="614.03" r="0.93" fill="#4aa82c"/><circle cx="356.41" cy="465.34" r="0.78" fill="#3a8f28"/><circle cx="197.29" cy="489.44" r="1.13" fill="#3a8f28"/><circle cx="387.92" cy="633.05" r="0.63" fill="#3a8f28"/><circle cx="386.57" cy="527.32" r="0.73" fill="#5eb832"/><circle cx="397.04" cy="649.6" r="0.69" fill="#78c83c"/><circle cx="210.94" cy="696.09" r="0.77" fill="#5eb832"/><circle cx="297.46" cy="456.32" r="1.14" fill="#3a8f28"/><circle cx="366.05" cy="670.97" r="1.02" fill="#3a8f28"/><circle cx="152.96" cy="531.78" r="0.95" fill="#78c83c"/><circle cx="313.71" cy="461.52" r="1" fill="#4aa82c"/><circle cx="305.01" cy="458.55" r="0.71" fill="#78c83c"/><circle cx="199.23" cy="478.83" r="0.68" fill="#5eb832"/><circle cx="410.14" cy="554.05" r="1.17" fill="#5eb832"/><circle cx="142.6" cy="627.11" r="1.04" fill="#5eb832"/><circle cx="135.84" cy="556.42" r="1.03" fill="#5eb832"/><circle cx="238.92" cy="466.1" r="1.19" fill="#3a8f28"/><circle cx="155.44" cy="576.09" r="1.01" fill="#5eb832"/><circle cx="366.83" cy="660.91" r="1.11" fill="#4aa82c"/><circle cx="386.72" cy="668.15" r="1.07" fill="#3a8f28"/><circle cx="361.07" cy="672.71" r="0.94" fill="#4aa82c"/><circle cx="318.46" cy="456.17" r="1.13" fill="#78c83c"/><circle cx="407.93" cy="505.64" r="0.68" fill="#78c83c"/><circle cx="406.67" cy="591.18" r="1.02" fill="#78c83c"/><circle cx="261.41" cy="464.62" r="1" fill="#5eb832"/><circle cx="194.97" cy="666.84" r="0.66" fill="#3a8f28"/><circle cx="148.6" cy="524.06" r="0.77" fill="#3a8f28"/><circle cx="174.44" cy="514.11" r="0.6" fill="#4aa82c"/><circle cx="397.44" cy="512.67" r="0.9" fill="#78c83c"/><circle cx="210.45" cy="693.64" r="0.81" fill="#3a8f28"/><circle cx="329.61" cy="466.66" r="0.96" fill="#5eb832"/><circle cx="226.21" cy="469.93" r="0.78" fill="#5eb832"/><circle cx="241.24" cy="460.71" r="0.94" fill="#4aa82c"/><circle cx="366.19" cy="455.71" r="0.95" fill="#5eb832"/><circle cx="163.61" cy="516.23" r="0.89" fill="#3a8f28"/><circle cx="360.23" cy="653.92" r="0.95" fill="#5eb832"/><circle cx="228.39" cy="681.78" r="1.18" fill="#3a8f28"/><circle cx="291.77" cy="457.88" r="0.78" fill="#4aa82c"/><circle cx="128.29" cy="579.27" r="1.15" fill="#78c83c"/><circle cx="369.31" cy="654.11" r="1.16" fill="#78c83c"/><circle cx="146.83" cy="516.86" r="1.16" fill="#78c83c"/><circle cx="400.09" cy="601.98" r="0.81" fill="#3a8f28"/><circle cx="246.8" cy="704.92" r="0.89" fill="#3a8f28"/><circle cx="148.6" cy="591.44" r="0.82" fill="#78c83c"/><circle cx="247.64" cy="725.14" r="0.96" fill="#5eb832"/><circle cx="296.74" cy="454.2" r="0.85" fill="#78c83c"/><circle cx="249.57" cy="685.27" r="1.13" fill="#3a8f28"/><circle cx="127.79" cy="623.56" r="0.65" fill="#4aa82c"/><circle cx="191.49" cy="488.46" r="0.63" fill="#5eb832"/><circle cx="177.11" cy="508.87" r="1.07" fill="#3a8f28"/><circle cx="305.67" cy="674.02" r="0.7" fill="#3a8f28"/><circle cx="315.84" cy="459.9" r="0.98" fill="#78c83c"/><circle cx="379.39" cy="661.24" r="0.67" fill="#5eb832"/><circle cx="336.39" cy="459.21" r="0.9" fill="#4aa82c"/><circle cx="329.56" cy="470.09" r="0.9" fill="#3a8f28"/><circle cx="262.08" cy="458.12" r="1.11" fill="#3a8f28"/><circle cx="200.64" cy="477.16" r="1.09" fill="#5eb832"/><circle cx="369.72" cy="474.51" r="0.68" fill="#4aa82c"/><circle cx="148.75" cy="613.52" r="0.88" fill="#5eb832"/><circle cx="365.16" cy="489.17" r="1.17" fill="#3a8f28"/><circle cx="242.88" cy="685.25" r="1.07" fill="#3a8f28"/><circle cx="401.46" cy="551.94" r="1.04" fill="#4aa82c"/><circle cx="171.41" cy="510.87" r="0.81" fill="#5eb832"/><circle cx="294.7" cy="456.28" r="0.69" fill="#78c83c"/><circle cx="151.12" cy="610.22" r="0.9" fill="#5eb832"/><circle cx="165.31" cy="552.01" r="0.66" fill="#78c83c"/><circle cx="384.52" cy="477.99" r="1.14" fill="#5eb832"/><circle cx="403.95" cy="620.23" r="0.7" fill="#4aa82c"/><circle cx="364.6" cy="488.6" r="0.95" fill="#78c83c"/><circle cx="307.31" cy="458.05" r="1.07" fill="#3a8f28"/><circle cx="155.27" cy="564.74" r="0.6" fill="#78c83c"/><circle cx="157.28" cy="524.02" r="0.6" fill="#5eb832"/><circle cx="341.87" cy="457.16" r="0.77" fill="#3a8f28"/><circle cx="177.58" cy="500.42" r="0.92" fill="#4aa82c"/><circle cx="388.43" cy="502.89" r="0.95" fill="#3a8f28"/><circle cx="139.26" cy="554.61" r="0.95" fill="#3a8f28"/><circle cx="303.8" cy="678.23" r="0.93" fill="#3a8f28"/><circle cx="331.3" cy="473.17" r="0.91" fill="#5eb832"/><circle cx="368.22" cy="468.68" r="0.72" fill="#78c83c"/><circle cx="141" cy="561.92" r="0.78" fill="#78c83c"/><circle cx="348.32" cy="665.54" r="0.82" fill="#5eb832"/><circle cx="304.61" cy="462.4" r="0.95" fill="#78c83c"/><circle cx="189.57" cy="506.05" r="0.61" fill="#78c83c"/><circle cx="292.84" cy="689.38" r="0.62" fill="#3a8f28"/><circle cx="281.58" cy="455.73" r="0.7" fill="#5eb832"/><circle cx="359.82" cy="632.92" r="0.66" fill="#78c83c"/><circle cx="334.64" cy="474.97" r="0.76" fill="#78c83c"/><circle cx="135.34" cy="595" r="0.84" fill="#4aa82c"/><circle cx="336.66" cy="475.5" r="1.05" fill="#5eb832"/><circle cx="415.48" cy="641.28" r="0.78" fill="#4aa82c"/><circle cx="276.9" cy="697.86" r="0.92" fill="#3a8f28"/><circle cx="133.32" cy="582.71" r="0.98" fill="#78c83c"/><circle cx="144.81" cy="579.89" r="1.03" fill="#78c83c"/><circle cx="139.96" cy="605.34" r="0.62" fill="#4aa82c"/><circle cx="361.77" cy="672.23" r="1.11" fill="#78c83c"/><circle cx="264.97" cy="467.54" r="0.83" fill="#3a8f28"/><circle cx="308.11" cy="703.83" r="1.06" fill="#5eb832"/><circle cx="379.24" cy="662.95" r="1.15" fill="#5eb832"/><circle cx="265.43" cy="712.23" r="1.04" fill="#5eb832"/><circle cx="197.54" cy="682.91" r="0.77" fill="#4aa82c"/><circle cx="309.75" cy="458.79" r="0.66" fill="#4aa82c"/><circle cx="190.14" cy="682.27" r="0.79" fill="#5eb832"/><circle cx="311.48" cy="458.87" r="1.06" fill="#5eb832"/><circle cx="325.31" cy="452.48" r="0.78" fill="#5eb832"/><circle cx="390.93" cy="551.72" r="1.04" fill="#78c83c"/><circle cx="408.28" cy="516.36" r="1.18" fill="#78c83c"/><circle cx="266.88" cy="462.53" r="0.7" fill="#78c83c"/><circle cx="397.79" cy="634.67" r="1.13" fill="#78c83c"/><circle cx="172.89" cy="500.51" r="0.88" fill="#5eb832"/><circle cx="185.3" cy="675.15" r="1.14" fill="#3a8f28"/><circle cx="397.67" cy="567.26" r="0.91" fill="#3a8f28"/><circle cx="404.05" cy="547.23" r="0.78" fill="#3a8f28"/><circle cx="396.36" cy="534.12" r="0.8" fill="#5eb832"/><circle cx="361.79" cy="653.64" r="1.16" fill="#4aa82c"/><circle cx="258.14" cy="457.78" r="1.11" fill="#78c83c"/><circle cx="404.31" cy="611.19" r="1.01" fill="#5eb832"/><circle cx="339.39" cy="467.37" r="1.03" fill="#5eb832"/><circle cx="288.49" cy="456.65" r="0.82" fill="#3a8f28"/><circle cx="370.73" cy="486.58" r="1.02" fill="#4aa82c"/><circle cx="163.19" cy="513.96" r="0.77" fill="#78c83c"/><circle cx="348.96" cy="668.57" r="0.68" fill="#78c83c"/><circle cx="339.08" cy="683.79" r="0.92" fill="#78c83c"/><circle cx="236.34" cy="702.9" r="1.1" fill="#78c83c"/><circle cx="307.18" cy="703.43" r="0.69" fill="#3a8f28"/><circle cx="164.75" cy="666.31" r="0.66" fill="#4aa82c"/><circle cx="279.8" cy="458.71" r="1.12" fill="#3a8f28"/><circle cx="335.99" cy="479" r="0.64" fill="#4aa82c"/><circle cx="261.55" cy="466.11" r="0.65" fill="#4aa82c"/><circle cx="327.7" cy="479.72" r="0.8" fill="#78c83c"/><circle cx="406.78" cy="618.91" r="0.66" fill="#78c83c"/><circle cx="300.19" cy="456.58" r="0.92" fill="#3a8f28"/><circle cx="418.85" cy="517.89" r="1.11" fill="#5eb832"/><circle cx="407.53" cy="516.49" r="1.09" fill="#3a8f28"/><circle cx="172.18" cy="663.76" r="0.8" fill="#78c83c"/><circle cx="321.83" cy="689.39" r="0.93" fill="#78c83c"/><circle cx="401.18" cy="593.36" r="1.06" fill="#4aa82c"/><circle cx="264.62" cy="711.67" r="1.2" fill="#78c83c"/><circle cx="157.33" cy="535.45" r="1.01" fill="#5eb832"/><circle cx="133.52" cy="619.24" r="0.76" fill="#78c83c"/><circle cx="204.05" cy="656.75" r="0.99" fill="#78c83c"/><circle cx="177.14" cy="491.15" r="0.62" fill="#78c83c"/><circle cx="387.57" cy="632.29" r="0.95" fill="#3a8f28"/><circle cx="186.21" cy="652.85" r="0.61" fill="#5eb832"/><circle cx="259.1" cy="463.85" r="0.82" fill="#4aa82c"/><circle cx="400.83" cy="611.59" r="1.02" fill="#4aa82c"/><circle cx="323.93" cy="449.42" r="1.13" fill="#78c83c"/><circle cx="375.08" cy="659" r="0.85" fill="#4aa82c"/><circle cx="176.03" cy="662.26" r="0.64" fill="#5eb832"/><circle cx="155.68" cy="527.65" r="0.63" fill="#4aa82c"/><circle cx="405.62" cy="596" r="0.94" fill="#5eb832"/><circle cx="196.57" cy="514.68" r="0.65" fill="#78c83c"/><circle cx="396.88" cy="592.24" r="0.77" fill="#5eb832"/><circle cx="367.38" cy="488.32" r="0.94" fill="#4aa82c"/><circle cx="411.38" cy="583.38" r="0.93" fill="#78c83c"/><circle cx="340.67" cy="695.91" r="0.72" fill="#4aa82c"/><circle cx="305.74" cy="455.26" r="1" fill="#4aa82c"/><circle cx="150.11" cy="602.5" r="0.7" fill="#4aa82c"/><circle cx="226.75" cy="482.82" r="0.98" fill="#78c83c"/><circle cx="298.76" cy="458.04" r="1.04" fill="#5eb832"/><circle cx="178.12" cy="477.53" r="1.19" fill="#78c83c"/><circle cx="408.69" cy="590.25" r="1.01" fill="#78c83c"/><circle cx="180.1" cy="534.16" r="1.04" fill="#4aa82c"/><circle cx="274.33" cy="455.16" r="1.01" fill="#4aa82c"/><circle cx="264.46" cy="453.39" r="1.08" fill="#5eb832"/><circle cx="396.83" cy="630.83" r="0.87" fill="#3a8f28"/><circle cx="395.45" cy="502.15" r="0.81" fill="#3a8f28"/><circle cx="331.43" cy="706.86" r="0.79" fill="#3a8f28"/><circle cx="168.45" cy="494.78" r="1.09" fill="#5eb832"/><circle cx="297.57" cy="686.7" r="0.82" fill="#78c83c"/><circle cx="172.12" cy="524.8" r="0.99" fill="#3a8f28"/><circle cx="144.22" cy="575.73" r="1.14" fill="#5eb832"/><circle cx="300.72" cy="452.53" r="0.77" fill="#3a8f28"/><circle cx="149.71" cy="623.18" r="0.71" fill="#4aa82c"/><circle cx="274.64" cy="471.49" r="0.62" fill="#4aa82c"/><circle cx="377.82" cy="657.72" r="0.94" fill="#4aa82c"/><circle cx="356.13" cy="501.06" r="1.02" fill="#4aa82c"/><circle cx="243.9" cy="463.23" r="0.86" fill="#3a8f28"/><circle cx="314.62" cy="702.51" r="1.19" fill="#3a8f28"/><circle cx="391.53" cy="504.13" r="1.07" fill="#5eb832"/><circle cx="354.45" cy="669.04" r="0.75" fill="#4aa82c"/><circle cx="174.88" cy="655.71" r="0.95" fill="#78c83c"/><circle cx="414.49" cy="527.65" r="0.65" fill="#3a8f28"/><circle cx="301.51" cy="713.45" r="1.02" fill="#5eb832"/><circle cx="252.83" cy="460.11" r="1.1" fill="#78c83c"/><circle cx="311.84" cy="459.77" r="0.99" fill="#78c83c"/><circle cx="287.93" cy="453.91" r="0.76" fill="#5eb832"/><circle cx="163.39" cy="504.22" r="1.13" fill="#3a8f28"/><circle cx="283.52" cy="453.69" r="1.09" fill="#3a8f28"/><circle cx="181.94" cy="667.56" r="0.75" fill="#78c83c"/><circle cx="340.2" cy="690.24" r="1.06" fill="#78c83c"/><circle cx="290.88" cy="455.66" r="0.94" fill="#5eb832"/><circle cx="318.21" cy="453.48" r="0.88" fill="#3a8f28"/><circle cx="172.66" cy="638.93" r="0.97" fill="#78c83c"/><circle cx="284.35" cy="455.6" r="1.06" fill="#5eb832"/><circle cx="321.77" cy="462.66" r="0.81" fill="#3a8f28"/><circle cx="149.39" cy="643.98" r="0.7" fill="#78c83c"/><circle cx="218.18" cy="687.97" r="0.97" fill="#4aa82c"/><circle cx="150.65" cy="569.48" r="0.75" fill="#3a8f28"/><circle cx="407.93" cy="509.06" r="0.88" fill="#78c83c"/><circle cx="268.46" cy="693.63" r="0.9" fill="#3a8f28"/><circle cx="154.86" cy="567.18" r="0.85" fill="#3a8f28"/><circle cx="271.57" cy="462.46" r="0.95" fill="#78c83c"/><circle cx="383.37" cy="464.62" r="1.1" fill="#78c83c"/><circle cx="298.93" cy="452.32" r="1.11" fill="#4aa82c"/><circle cx="339.91" cy="694.75" r="0.83" fill="#5eb832"/><circle cx="221.96" cy="688.83" r="1.19" fill="#78c83c"/><circle cx="287.37" cy="456.09" r="0.6" fill="#5eb832"/><circle cx="296.78" cy="456.49" r="0.71" fill="#5eb832"/><circle cx="274" cy="462.27" r="0.64" fill="#4aa82c"/><circle cx="294.68" cy="455.29" r="1.02" fill="#3a8f28"/><circle cx="416.36" cy="571.49" r="0.62" fill="#3a8f28"/><circle cx="213.46" cy="467.47" r="0.81" fill="#3a8f28"/><circle cx="262.25" cy="707.46" r="1.11" fill="#78c83c"/><circle cx="353.88" cy="500.55" r="0.92" fill="#78c83c"/><circle cx="147.97" cy="554.37" r="0.93" fill="#4aa82c"/><circle cx="303.05" cy="691.11" r="0.94" fill="#4aa82c"/><circle cx="299.52" cy="458.79" r="0.66" fill="#5eb832"/><circle cx="301.18" cy="687.94" r="0.61" fill="#5eb832"/><circle cx="151.5" cy="535.82" r="1.18" fill="#5eb832"/><circle cx="201.58" cy="476.11" r="1.2" fill="#3a8f28"/><circle cx="384.56" cy="470.36" r="1.16" fill="#78c83c"/><circle cx="149.64" cy="594.7" r="1.1" fill="#4aa82c"/><circle cx="405.51" cy="538.83" r="0.68" fill="#3a8f28"/><circle cx="403.32" cy="532.6" r="0.98" fill="#4aa82c"/><circle cx="419.35" cy="611.23" r="0.7" fill="#5eb832"/><circle cx="157.24" cy="524.41" r="0.77" fill="#3a8f28"/><circle cx="270.01" cy="700.01" r="0.85" fill="#4aa82c"/><circle cx="374.36" cy="683.69" r="0.83" fill="#5eb832"/><circle cx="350.08" cy="474.04" r="1.03" fill="#5eb832"/><circle cx="383.57" cy="640.4" r="1.11" fill="#4aa82c"/><circle cx="182.91" cy="663.6" r="0.83" fill="#78c83c"/><circle cx="133.91" cy="580.63" r="1.09" fill="#78c83c"/><circle cx="201.55" cy="691.67" r="0.67" fill="#5eb832"/><circle cx="136.19" cy="577.87" r="0.85" fill="#3a8f28"/><circle cx="387.28" cy="510.02" r="0.68" fill="#5eb832"/><circle cx="265.77" cy="700.66" r="1.05" fill="#3a8f28"/><circle cx="249.97" cy="454.18" r="0.81" fill="#3a8f28"/><circle cx="303.26" cy="455.39" r="1.04" fill="#3a8f28"/><circle cx="151.08" cy="635.39" r="0.83" fill="#5eb832"/><circle cx="196.51" cy="696.97" r="1.15" fill="#5eb832"/><circle cx="165.57" cy="665.79" r="0.8" fill="#78c83c"/><circle cx="350.27" cy="483.83" r="1.16" fill="#78c83c"/><circle cx="423.49" cy="552.33" r="0.83" fill="#3a8f28"/><circle cx="232.67" cy="474.16" r="1.17" fill="#4aa82c"/><circle cx="300.91" cy="454.32" r="1.03" fill="#78c83c"/><circle cx="184.63" cy="669.02" r="1.19" fill="#78c83c"/><circle cx="261.29" cy="463.03" r="0.6" fill="#3a8f28"/><circle cx="151.74" cy="648.47" r="1.07" fill="#4aa82c"/><circle cx="318.23" cy="464.42" r="1.02" fill="#5eb832"/><circle cx="287.63" cy="455.62" r="0.97" fill="#5eb832"/><circle cx="383.34" cy="513.87" r="0.85" fill="#3a8f28"/><circle cx="400.34" cy="522.97" r="1.06" fill="#3a8f28"/><circle cx="268.09" cy="459" r="0.77" fill="#78c83c"/><circle cx="349.74" cy="510.84" r="0.89" fill="#3a8f28"/><circle cx="204.34" cy="480.49" r="1.18" fill="#5eb832"/><circle cx="318.2" cy="681.31" r="0.67" fill="#4aa82c"/><circle cx="227.27" cy="708.43" r="0.72" fill="#5eb832"/><circle cx="395.07" cy="640.91" r="1.04" fill="#5eb832"/><circle cx="294.57" cy="702.13" r="0.61" fill="#3a8f28"/><circle cx="189.51" cy="500.65" r="1.13" fill="#3a8f28"/><circle cx="189.18" cy="500.4" r="1.16" fill="#3a8f28"/><circle cx="422.67" cy="542.24" r="1.13" fill="#3a8f28"/><circle cx="190.32" cy="655.57" r="0.6" fill="#4aa82c"/><circle cx="226.22" cy="698.23" r="1.09" fill="#3a8f28"/><circle cx="367.4" cy="665.74" r="0.84" fill="#4aa82c"/><circle cx="394.89" cy="592.5" r="0.91" fill="#78c83c"/><circle cx="299.4" cy="455.21" r="0.94" fill="#5eb832"/><circle cx="210.06" cy="717.66" r="0.61" fill="#3a8f28"/><circle cx="402.04" cy="592.46" r="1.17" fill="#4aa82c"/><circle cx="146.11" cy="510.17" r="0.9" fill="#78c83c"/><circle cx="399.89" cy="499.12" r="0.83" fill="#5eb832"/><circle cx="275.66" cy="697.37" r="0.91" fill="#78c83c"/><circle cx="284.24" cy="457.74" r="0.84" fill="#4aa82c"/><circle cx="402.11" cy="566.19" r="0.71" fill="#4aa82c"/><circle cx="162.79" cy="537.62" r="0.92" fill="#4aa82c"/><circle cx="374.32" cy="502.34" r="1.13" fill="#5eb832"/><circle cx="147.46" cy="623.73" r="0.95" fill="#78c83c"/><circle cx="367.21" cy="694.47" r="1.17" fill="#3a8f28"/><circle cx="383.3" cy="634.48" r="0.62" fill="#5eb832"/><circle cx="283.79" cy="708.07" r="0.62" fill="#3a8f28"/><circle cx="304.47" cy="449.57" r="0.83" fill="#78c83c"/><circle cx="309.58" cy="459.84" r="0.85" fill="#3a8f28"/><circle cx="397.28" cy="544.16" r="0.77" fill="#78c83c"/><circle cx="165.52" cy="697.13" r="0.78" fill="#78c83c"/><circle cx="226.41" cy="697.62" r="0.69" fill="#4aa82c"/><circle cx="403.49" cy="567.07" r="0.9" fill="#3a8f28"/><circle cx="296.2" cy="460.33" r="1.12" fill="#78c83c"/><circle cx="331.2" cy="466.45" r="1.03" fill="#3a8f28"/><circle cx="149.91" cy="586.79" r="0.75" fill="#5eb832"/><circle cx="184.66" cy="663.19" r="1.06" fill="#5eb832"/><circle cx="339.6" cy="466.41" r="0.82" fill="#5eb832"/><circle cx="142.71" cy="653.93" r="0.86" fill="#4aa82c"/><circle cx="351.91" cy="690.97" r="1.02" fill="#78c83c"/><circle cx="403.12" cy="554.88" r="0.88" fill="#4aa82c"/><circle cx="169.4" cy="669.39" r="0.65" fill="#4aa82c"/><circle cx="394.04" cy="636" r="0.64" fill="#3a8f28"/><circle cx="139.8" cy="641.28" r="0.61" fill="#3a8f28"/><circle cx="177.38" cy="654.57" r="0.95" fill="#78c83c"/><circle cx="389.49" cy="519.68" r="0.77" fill="#78c83c"/><circle cx="235.18" cy="460.69" r="0.67" fill="#5eb832"/><circle cx="267.8" cy="714.28" r="0.99" fill="#3a8f28"/><circle cx="195.75" cy="468.81" r="1.09" fill="#78c83c"/><circle cx="410.42" cy="588.68" r="1.16" fill="#3a8f28"/><circle cx="357.94" cy="671.91" r="1.18" fill="#3a8f28"/><circle cx="344.31" cy="684.27" r="0.75" fill="#4aa82c"/><circle cx="169.4" cy="667.93" r="1.02" fill="#78c83c"/><circle cx="387.43" cy="643.25" r="0.75" fill="#78c83c"/><circle cx="302.71" cy="693.85" r="0.65" fill="#78c83c"/><circle cx="201.89" cy="483.22" r="0.98" fill="#3a8f28"/><circle cx="386.83" cy="489.79" r="1.06" fill="#5eb832"/><circle cx="399.25" cy="615.4" r="1.18" fill="#5eb832"/><circle cx="367.18" cy="666.3" r="0.76" fill="#4aa82c"/><circle cx="252.81" cy="698.6" r="1.03" fill="#78c83c"/><circle cx="204.11" cy="485.43" r="0.86" fill="#78c83c"/><circle cx="241.63" cy="685.46" r="1.18" fill="#78c83c"/><circle cx="363.36" cy="505.11" r="0.98" fill="#4aa82c"/><circle cx="164.42" cy="659.15" r="0.97" fill="#4aa82c"/><circle cx="394.77" cy="634.94" r="0.89" fill="#3a8f28"/><circle cx="386.34" cy="511.53" r="1.15" fill="#78c83c"/><circle cx="164.08" cy="658.61" r="0.77" fill="#5eb832"/><circle cx="204.92" cy="700.8" r="0.88" fill="#78c83c"/><circle cx="280.24" cy="458.63" r="1.18" fill="#5eb832"/><circle cx="326.87" cy="686.46" r="0.72" fill="#4aa82c"/><circle cx="392.88" cy="634.54" r="1.05" fill="#78c83c"/><circle cx="350.87" cy="674.36" r="0.9" fill="#5eb832"/><circle cx="253.38" cy="458.4" r="0.8" fill="#5eb832"/><circle cx="240.22" cy="468.06" r="0.94" fill="#4aa82c"/><circle cx="360.03" cy="493.01" r="1.09" fill="#78c83c"/><circle cx="334.85" cy="679.67" r="0.71" fill="#4aa82c"/><circle cx="182.52" cy="503.98" r="0.64" fill="#5eb832"/><circle cx="350.62" cy="676.7" r="0.75" fill="#3a8f28"/><circle cx="249.85" cy="704.2" r="0.99" fill="#3a8f28"/><circle cx="312.82" cy="694.43" r="1.03" fill="#3a8f28"/><circle cx="176.68" cy="507.41" r="0.89" fill="#5eb832"/><circle cx="142.4" cy="595.29" r="0.61" fill="#78c83c"/><circle cx="174.62" cy="640.78" r="1.07" fill="#4aa82c"/><circle cx="163.39" cy="614.3" r="0.66" fill="#5eb832"/><circle cx="167.67" cy="675.64" r="0.68" fill="#5eb832"/><circle cx="357.46" cy="672.43" r="0.7" fill="#3a8f28"/><circle cx="381.34" cy="645.44" r="0.93" fill="#4aa82c"/><circle cx="296.2" cy="453.94" r="0.82" fill="#5eb832"/><circle cx="172.36" cy="501.78" r="0.75" fill="#3a8f28"/><circle cx="366.04" cy="489.83" r="0.73" fill="#78c83c"/><circle cx="406.95" cy="579.29" r="1.07" fill="#78c83c"/><circle cx="189.3" cy="525.77" r="0.83" fill="#5eb832"/><circle cx="408.02" cy="611.45" r="0.96" fill="#4aa82c"/><circle cx="370.8" cy="648.93" r="0.88" fill="#78c83c"/><circle cx="272.53" cy="471.12" r="0.92" fill="#5eb832"/><circle cx="173.09" cy="500.02" r="1.02" fill="#4aa82c"/><circle cx="401.36" cy="629.06" r="0.98" fill="#4aa82c"/><circle cx="372.39" cy="634.16" r="1.08" fill="#4aa82c"/><circle cx="329.71" cy="667.82" r="0.82" fill="#5eb832"/><circle cx="292.78" cy="688.82" r="0.9" fill="#4aa82c"/><circle cx="398.48" cy="516.5" r="0.78" fill="#5eb832"/><circle cx="192.97" cy="669.97" r="0.67" fill="#3a8f28"/><circle cx="213.42" cy="696.88" r="1.11" fill="#4aa82c"/><circle cx="367.79" cy="492.6" r="1.15" fill="#5eb832"/><circle cx="132.95" cy="567" r="0.92" fill="#78c83c"/><circle cx="260.23" cy="473.53" r="0.91" fill="#5eb832"/><circle cx="328.09" cy="455.13" r="0.64" fill="#5eb832"/><circle cx="297.44" cy="452.75" r="0.95" fill="#4aa82c"/><circle cx="304.31" cy="680.87" r="0.74" fill="#4aa82c"/><circle cx="404.22" cy="540.38" r="0.66" fill="#4aa82c"/><circle cx="394.99" cy="631.67" r="1.04" fill="#5eb832"/><circle cx="215.89" cy="470.52" r="0.83" fill="#78c83c"/><circle cx="139.92" cy="624.61" r="1.1" fill="#5eb832"/><circle cx="300.11" cy="458.92" r="0.99" fill="#4aa82c"/><circle cx="405.89" cy="602.23" r="0.83" fill="#3a8f28"/><circle cx="401.1" cy="608.32" r="0.99" fill="#4aa82c"/><circle cx="398.98" cy="527.89" r="0.89" fill="#5eb832"/><circle cx="242.42" cy="704.69" r="0.82" fill="#3a8f28"/><circle cx="403.33" cy="565.62" r="0.65" fill="#78c83c"/><circle cx="240.32" cy="715.82" r="1.13" fill="#78c83c"/><circle cx="375.07" cy="640.59" r="1" fill="#78c83c"/><circle cx="331.22" cy="700.6" r="1.03" fill="#3a8f28"/><circle cx="411.09" cy="552.03" r="1.08" fill="#78c83c"/><circle cx="363.56" cy="473.75" r="0.66" fill="#5eb832"/><circle cx="301.32" cy="453.37" r="1.14" fill="#5eb832"/><circle cx="415.92" cy="621.08" r="1.02" fill="#5eb832"/><circle cx="404.47" cy="597.42" r="0.94" fill="#78c83c"/><circle cx="342.26" cy="684.29" r="0.79" fill="#78c83c"/><circle cx="407.44" cy="640.23" r="1.18" fill="#5eb832"/><circle cx="187.39" cy="480.44" r="0.91" fill="#5eb832"/><circle cx="244.93" cy="457.95" r="1.13" fill="#78c83c"/><circle cx="146.3" cy="639.33" r="0.81" fill="#4aa82c"/><circle cx="156.79" cy="675.07" r="1.07" fill="#3a8f28"/><circle cx="384.96" cy="623.88" r="1.04" fill="#5eb832"/><circle cx="370.46" cy="685.31" r="1.14" fill="#78c83c"/><circle cx="410.78" cy="554.36" r="1.1" fill="#78c83c"/><circle cx="343.44" cy="501.41" r="0.79" fill="#3a8f28"/><circle cx="372.99" cy="634.7" r="1.04" fill="#3a8f28"/><circle cx="286.17" cy="453.46" r="1.17" fill="#78c83c"/><circle cx="199.79" cy="485.81" r="0.8" fill="#4aa82c"/><circle cx="433.98" cy="538.23" r="1.07" fill="#78c83c"/><circle cx="223.64" cy="482.48" r="1.14" fill="#4aa82c"/><circle cx="394.73" cy="526.01" r="0.98" fill="#5eb832"/><circle cx="329.34" cy="453.77" r="0.65" fill="#3a8f28"/><circle cx="197.75" cy="706.1" r="1.09" fill="#78c83c"/><circle cx="413.85" cy="564.4" r="1.19" fill="#78c83c"/><circle cx="275.35" cy="455.13" r="0.87" fill="#78c83c"/><circle cx="290.97" cy="698.94" r="0.7" fill="#5eb832"/><circle cx="398.02" cy="649.65" r="0.8" fill="#5eb832"/><circle cx="395.43" cy="488.88" r="1.13" fill="#3a8f28"/><circle cx="196.13" cy="692.12" r="1.01" fill="#5eb832"/><circle cx="397.98" cy="509.33" r="0.62" fill="#4aa82c"/><circle cx="290.32" cy="457.42" r="0.98" fill="#5eb832"/><circle cx="310.63" cy="688.55" r="0.83" fill="#4aa82c"/><circle cx="248.37" cy="454.16" r="1.18" fill="#78c83c"/><circle cx="272.45" cy="706.26" r="0.61" fill="#5eb832"/><circle cx="306.98" cy="458.3" r="0.96" fill="#4aa82c"/><circle cx="345.52" cy="475.92" r="0.9" fill="#4aa82c"/><circle cx="363.13" cy="490.63" r="1.11" fill="#4aa82c"/><circle cx="281.79" cy="460.44" r="0.61" fill="#78c83c"/><circle cx="156.54" cy="563.27" r="1.2" fill="#4aa82c"/><circle cx="163.43" cy="655.11" r="0.98" fill="#78c83c"/><circle cx="175.48" cy="509.64" r="1.01" fill="#4aa82c"/><circle cx="156.53" cy="633.92" r="0.99" fill="#78c83c"/><circle cx="354.29" cy="477.31" r="1.02" fill="#3a8f28"/><circle cx="232.29" cy="472.31" r="0.96" fill="#3a8f28"/><circle cx="337.34" cy="697.66" r="0.64" fill="#4aa82c"/><circle cx="362.73" cy="482.71" r="0.89" fill="#4aa82c"/><circle cx="140.67" cy="598.17" r="0.7" fill="#3a8f28"/><circle cx="244.16" cy="685.48" r="0.9" fill="#5eb832"/><circle cx="291.59" cy="457.33" r="0.98" fill="#4aa82c"/><circle cx="391.56" cy="634.62" r="0.71" fill="#78c83c"/><circle cx="169.07" cy="524.88" r="0.64" fill="#3a8f28"/><circle cx="371.13" cy="673.53" r="1.08" fill="#4aa82c"/><circle cx="393.36" cy="632.37" r="1" fill="#3a8f28"/><circle cx="163.22" cy="547.42" r="0.9" fill="#78c83c"/><circle cx="179.82" cy="672.13" r="0.69" fill="#3a8f28"/><circle cx="293.35" cy="452.77" r="0.8" fill="#3a8f28"/><circle cx="387.76" cy="514.82" r="0.91" fill="#4aa82c"/><circle cx="182.21" cy="672.01" r="0.91" fill="#5eb832"/><circle cx="402.79" cy="602.04" r="0.68" fill="#4aa82c"/><circle cx="268.94" cy="464.28" r="0.96" fill="#5eb832"/><circle cx="212.71" cy="465.51" r="0.8" fill="#5eb832"/><circle cx="352.95" cy="669.63" r="0.81" fill="#4aa82c"/><circle cx="167.32" cy="513.92" r="0.85" fill="#4aa82c"/><circle cx="279.64" cy="682.97" r="1" fill="#4aa82c"/><circle cx="349.44" cy="467.21" r="1.05" fill="#78c83c"/><circle cx="405.63" cy="560.78" r="0.88" fill="#3a8f28"/><circle cx="207.48" cy="688.02" r="0.78" fill="#3a8f28"/><circle cx="299.22" cy="704.04" r="1.16" fill="#78c83c"/><circle cx="316.68" cy="458.33" r="1.12" fill="#4aa82c"/><circle cx="182.07" cy="667.14" r="0.98" fill="#78c83c"/><circle cx="366.99" cy="661.98" r="1.04" fill="#3a8f28"/><circle cx="349.59" cy="687.22" r="0.81" fill="#5eb832"/><circle cx="382.38" cy="634.97" r="1.12" fill="#5eb832"/><circle cx="133.21" cy="569.27" r="0.78" fill="#3a8f28"/><circle cx="408.7" cy="567.36" r="0.62" fill="#4aa82c"/><circle cx="345.82" cy="467.96" r="0.75" fill="#78c83c"/><circle cx="258.88" cy="708.26" r="0.79" fill="#4aa82c"/><circle cx="173.03" cy="636.11" r="0.98" fill="#5eb832"/><circle cx="158.65" cy="545.36" r="1.07" fill="#4aa82c"/><circle cx="269.89" cy="456.96" r="0.99" fill="#3a8f28"/><circle cx="409.49" cy="577.02" r="1.03" fill="#4aa82c"/><circle cx="139.23" cy="592.44" r="1.07" fill="#3a8f28"/><circle cx="383.41" cy="492.64" r="0.99" fill="#5eb832"/><circle cx="414.47" cy="580.12" r="0.81" fill="#4aa82c"/><circle cx="179.05" cy="654.32" r="0.92" fill="#5eb832"/><circle cx="395.89" cy="532.89" r="0.81" fill="#4aa82c"/><circle cx="310.23" cy="696.65" r="0.7" fill="#78c83c"/><circle cx="367.67" cy="668.02" r="1.17" fill="#78c83c"/><circle cx="288.93" cy="700.66" r="0.83" fill="#78c83c"/><circle cx="303.87" cy="454.79" r="0.82" fill="#5eb832"/><circle cx="156.9" cy="553.9" r="1.19" fill="#3a8f28"/><circle cx="326.8" cy="679.19" r="0.87" fill="#78c83c"/><circle cx="302.18" cy="703" r="0.81" fill="#4aa82c"/><circle cx="327.64" cy="696.99" r="1.05" fill="#5eb832"/><circle cx="314.49" cy="461.87" r="0.63" fill="#5eb832"/><circle cx="256.44" cy="690.36" r="0.95" fill="#78c83c"/><circle cx="367.24" cy="479.44" r="0.71" fill="#3a8f28"/><circle cx="137.65" cy="636.86" r="0.64" fill="#78c83c"/><circle cx="208.79" cy="649.57" r="1" fill="#4aa82c"/><circle cx="311.82" cy="694.01" r="0.72" fill="#78c83c"/><circle cx="185.03" cy="481.97" r="0.66" fill="#3a8f28"/><circle cx="385" cy="510.48" r="0.92" fill="#4aa82c"/><circle cx="273.08" cy="724.81" r="0.62" fill="#4aa82c"/><circle cx="148.95" cy="559.2" r="0.63" fill="#3a8f28"/><circle cx="145" cy="663.39" r="1.12" fill="#5eb832"/><circle cx="351.38" cy="488.45" r="0.72" fill="#78c83c"/><circle cx="160.7" cy="540.73" r="1.05" fill="#5eb832"/><circle cx="283.58" cy="460.98" r="0.78" fill="#4aa82c"/><circle cx="396.64" cy="616.02" r="0.86" fill="#3a8f28"/><circle cx="160.68" cy="528.99" r="0.93" fill="#4aa82c"/><circle cx="184.52" cy="485.72" r="0.77" fill="#78c83c"/><circle cx="214.9" cy="474.74" r="0.69" fill="#78c83c"/><circle cx="219.83" cy="470.88" r="0.99" fill="#5eb832"/><circle cx="405.54" cy="507.63" r="0.67" fill="#4aa82c"/><circle cx="270.57" cy="706.11" r="1.05" fill="#5eb832"/><circle cx="148.85" cy="559.16" r="1.02" fill="#3a8f28"/><circle cx="163.25" cy="511.33" r="1.1" fill="#5eb832"/><circle cx="242.9" cy="455.32" r="1.05" fill="#3a8f28"/><circle cx="262.99" cy="450.57" r="0.72" fill="#5eb832"/><circle cx="267.49" cy="472.55" r="0.87" fill="#4aa82c"/><circle cx="142.9" cy="589.97" r="0.72" fill="#78c83c"/><circle cx="394.08" cy="512.88" r="0.95" fill="#4aa82c"/><circle cx="233.96" cy="697.94" r="1.13" fill="#3a8f28"/><circle cx="166.1" cy="654.23" r="0.67" fill="#3a8f28"/><circle cx="408.15" cy="525.71" r="0.69" fill="#4aa82c"/><circle cx="228.66" cy="707.31" r="0.87" fill="#4aa82c"/><circle cx="348.49" cy="472.67" r="0.89" fill="#78c83c"/><circle cx="153.41" cy="532.16" r="0.67" fill="#78c83c"/><circle cx="254.23" cy="712.29" r="1.03" fill="#78c83c"/><circle cx="296.78" cy="700.7" r="0.87" fill="#78c83c"/><circle cx="418.95" cy="539.63" r="0.71" fill="#3a8f28"/><circle cx="225.3" cy="688.98" r="1.05" fill="#4aa82c"/><circle cx="377" cy="661.46" r="1.19" fill="#3a8f28"/><circle cx="311.01" cy="452.38" r="0.85" fill="#78c83c"/><circle cx="363.45" cy="674.13" r="1.16" fill="#78c83c"/><circle cx="321.95" cy="457.96" r="1.15" fill="#78c83c"/><circle cx="304.74" cy="448.06" r="0.93" fill="#5eb832"/><circle cx="318.21" cy="710.84" r="0.71" fill="#78c83c"/><circle cx="193.58" cy="499.91" r="0.82" fill="#78c83c"/><circle cx="219.74" cy="689.32" r="1.17" fill="#5eb832"/><circle cx="165.63" cy="504.35" r="1.13" fill="#4aa82c"/><circle cx="391.23" cy="502.12" r="0.7" fill="#3a8f28"/><circle cx="380.07" cy="647.85" r="1.05" fill="#78c83c"/><circle cx="302.9" cy="452.31" r="0.61" fill="#78c83c"/><circle cx="294.54" cy="458.26" r="0.81" fill="#78c83c"/><circle cx="152.5" cy="533.41" r="0.72" fill="#4aa82c"/><circle cx="219.96" cy="677.9" r="1.16" fill="#4aa82c"/><circle cx="404.55" cy="549.56" r="0.61" fill="#78c83c"/><circle cx="366.61" cy="678.04" r="0.9" fill="#4aa82c"/><circle cx="252.1" cy="464.36" r="0.69" fill="#4aa82c"/><circle cx="220.63" cy="690.06" r="0.62" fill="#78c83c"/><circle cx="218.01" cy="678.36" r="1.18" fill="#3a8f28"/><circle cx="247.58" cy="456.22" r="0.71" fill="#4aa82c"/><circle cx="368.05" cy="671.96" r="0.75" fill="#3a8f28"/><circle cx="397.09" cy="488.73" r="1.1" fill="#5eb832"/><circle cx="244.7" cy="684.37" r="1.09" fill="#4aa82c"/><circle cx="231.59" cy="704.48" r="0.68" fill="#5eb832"/><circle cx="394.04" cy="643.71" r="0.65" fill="#4aa82c"/><circle cx="299.28" cy="694.72" r="0.95" fill="#4aa82c"/><circle cx="324.03" cy="697.51" r="0.81" fill="#5eb832"/><circle cx="415.78" cy="538.08" r="1.1" fill="#3a8f28"/><circle cx="195.49" cy="681.6" r="1.18" fill="#4aa82c"/><circle cx="221.92" cy="705.25" r="1.05" fill="#5eb832"/><circle cx="416.65" cy="554.61" r="0.97" fill="#3a8f28"/><circle cx="408.99" cy="523.78" r="1.1" fill="#78c83c"/><circle cx="386.9" cy="493.39" r="0.86" fill="#4aa82c"/><circle cx="159.67" cy="540.67" r="1.04" fill="#4aa82c"/><circle cx="306.86" cy="462.35" r="0.87" fill="#78c83c"/><circle cx="301.05" cy="709.8" r="0.87" fill="#4aa82c"/><circle cx="197.93" cy="478.23" r="0.72" fill="#5eb832"/><circle cx="260.88" cy="460.3" r="0.99" fill="#78c83c"/><circle cx="148.65" cy="578.35" r="1.08" fill="#78c83c"/><circle cx="208.9" cy="470.83" r="1.03" fill="#4aa82c"/><circle cx="388.2" cy="647.29" r="1.06" fill="#3a8f28"/><circle cx="370.38" cy="498.56" r="0.86" fill="#4aa82c"/><circle cx="392.39" cy="644.13" r="0.68" fill="#78c83c"/><circle cx="178.4" cy="502.52" r="0.72" fill="#78c83c"/><circle cx="174.66" cy="509.27" r="1.17" fill="#4aa82c"/><circle cx="312.37" cy="466.99" r="0.98" fill="#4aa82c"/><circle cx="147.03" cy="578.96" r="0.9" fill="#3a8f28"/><circle cx="244.21" cy="467.59" r="0.6" fill="#78c83c"/><circle cx="136.81" cy="543.95" r="0.95" fill="#5eb832"/><circle cx="322.91" cy="448.82" r="0.96" fill="#78c83c"/><circle cx="251.25" cy="695.07" r="1.14" fill="#78c83c"/><circle cx="432.53" cy="529.63" r="0.83" fill="#5eb832"/><circle cx="409.63" cy="539.96" r="0.65" fill="#5eb832"/><circle cx="294.62" cy="453.18" r="0.97" fill="#3a8f28"/><circle cx="330.52" cy="468.55" r="0.93" fill="#5eb832"/><circle cx="147.62" cy="611.71" r="0.78" fill="#5eb832"/><circle cx="401.15" cy="494.13" r="0.97" fill="#3a8f28"/><circle cx="224.58" cy="478.84" r="0.61" fill="#3a8f28"/><circle cx="367.23" cy="460.77" r="0.97" fill="#78c83c"/><circle cx="182.07" cy="668.46" r="0.79" fill="#3a8f28"/><circle cx="328.78" cy="672.58" r="0.85" fill="#78c83c"/><circle cx="362.06" cy="664.2" r="1.07" fill="#5eb832"/><circle cx="402.44" cy="591.41" r="0.94" fill="#3a8f28"/><circle cx="163.96" cy="627.18" r="1.01" fill="#4aa82c"/><circle cx="245.54" cy="466.83" r="0.9" fill="#5eb832"/><circle cx="131.4" cy="533.24" r="0.73" fill="#78c83c"/><circle cx="323.9" cy="690.49" r="0.98" fill="#5eb832"/><circle cx="140.14" cy="621.67" r="0.77" fill="#4aa82c"/><circle cx="410.24" cy="602.42" r="0.79" fill="#78c83c"/><circle cx="292.04" cy="456.73" r="0.66" fill="#78c83c"/><circle cx="178.5" cy="491.64" r="1.1" fill="#3a8f28"/><circle cx="148.21" cy="666" r="1.07" fill="#3a8f28"/><circle cx="150.42" cy="603.89" r="0.81" fill="#5eb832"/><circle cx="410" cy="529.2" r="1.05" fill="#4aa82c"/><circle cx="241.35" cy="701.41" r="0.74" fill="#3a8f28"/><circle cx="226.42" cy="696.77" r="0.98" fill="#3a8f28"/><circle cx="382.34" cy="640.38" r="0.68" fill="#5eb832"/><circle cx="170.01" cy="513.12" r="0.75" fill="#5eb832"/><circle cx="371.17" cy="670.2" r="0.93" fill="#5eb832"/><circle cx="228.21" cy="479.49" r="0.73" fill="#5eb832"/><circle cx="165.61" cy="545.58" r="0.91" fill="#4aa82c"/><circle cx="178.51" cy="660.52" r="1.13" fill="#4aa82c"/><circle cx="248.78" cy="449.03" r="1.2" fill="#4aa82c"/><circle cx="297.35" cy="452.23" r="1.16" fill="#4aa82c"/><circle cx="367" cy="674.35" r="0.79" fill="#5eb832"/><circle cx="145.46" cy="518.2" r="0.98" fill="#78c83c"/><circle cx="145.6" cy="554.76" r="1.02" fill="#78c83c"/><circle cx="172.87" cy="646.59" r="1.01" fill="#4aa82c"/><circle cx="370" cy="471.53" r="0.77" fill="#4aa82c"/><circle cx="285.53" cy="703.77" r="0.61" fill="#4aa82c"/><circle cx="138.3" cy="580.45" r="0.92" fill="#5eb832"/><circle cx="231.81" cy="473.03" r="0.95" fill="#4aa82c"/><circle cx="366.7" cy="648.59" r="1.16" fill="#78c83c"/><circle cx="333.67" cy="669.48" r="0.87" fill="#4aa82c"/><circle cx="280.2" cy="459.17" r="0.92" fill="#3a8f28"/><circle cx="378.52" cy="509.43" r="1.04" fill="#5eb832"/><circle cx="190.75" cy="657.45" r="0.76" fill="#78c83c"/><circle cx="251.47" cy="476.63" r="0.71" fill="#78c83c"/><circle cx="426.96" cy="546.01" r="0.94" fill="#5eb832"/><circle cx="399.21" cy="555.16" r="1.05" fill="#5eb832"/><circle cx="397.46" cy="515.61" r="0.91" fill="#5eb832"/><circle cx="216.27" cy="693.79" r="0.67" fill="#78c83c"/><circle cx="313.53" cy="465.38" r="0.97" fill="#3a8f28"/><circle cx="199.92" cy="464.19" r="0.98" fill="#5eb832"/><circle cx="169.01" cy="704.24" r="1.02" fill="#4aa82c"/><circle cx="389.36" cy="634.16" r="1.03" fill="#4aa82c"/><circle cx="165.98" cy="507.67" r="0.72" fill="#5eb832"/><circle cx="336.9" cy="472.09" r="0.83" fill="#4aa82c"/><circle cx="203.88" cy="641.01" r="0.98" fill="#3a8f28"/><circle cx="151.78" cy="593.21" r="0.96" fill="#4aa82c"/><circle cx="400.47" cy="592.52" r="0.93" fill="#78c83c"/><circle cx="183.3" cy="491.05" r="1.06" fill="#5eb832"/><circle cx="232.6" cy="466.96" r="0.83" fill="#78c83c"/><circle cx="212.56" cy="701.97" r="0.83" fill="#4aa82c"/><circle cx="403.5" cy="602.02" r="0.97" fill="#78c83c"/><circle cx="261.09" cy="455.22" r="0.66" fill="#5eb832"/><circle cx="365.15" cy="509.51" r="0.67" fill="#4aa82c"/><circle cx="387.09" cy="498.63" r="0.99" fill="#78c83c"/><circle cx="270.24" cy="460.96" r="1.09" fill="#4aa82c"/><circle cx="264.05" cy="467.58" r="0.9" fill="#3a8f28"/><circle cx="185.9" cy="676.16" r="0.83" fill="#78c83c"/><circle cx="400.66" cy="534.73" r="0.77" fill="#4aa82c"/><circle cx="394.69" cy="625.29" r="0.79" fill="#5eb832"/><circle cx="367.21" cy="478.97" r="0.71" fill="#4aa82c"/><circle cx="191.64" cy="484.89" r="0.93" fill="#5eb832"/><circle cx="198.22" cy="695.67" r="0.75" fill="#5eb832"/><circle cx="410.22" cy="572.62" r="0.66" fill="#78c83c"/><circle cx="253.45" cy="461.33" r="0.84" fill="#3a8f28"/><circle cx="286.76" cy="458.67" r="0.84" fill="#5eb832"/><circle cx="387.93" cy="667.56" r="0.96" fill="#78c83c"/><circle cx="358.43" cy="465.27" r="1" fill="#5eb832"/><circle cx="400.59" cy="619.49" r="0.8" fill="#78c83c"/><circle cx="363.9" cy="482.67" r="0.67" fill="#4aa82c"/><circle cx="265.59" cy="458.89" r="0.71" fill="#4aa82c"/><circle cx="138.32" cy="581.18" r="0.67" fill="#4aa82c"/><circle cx="283.96" cy="458.59" r="1.16" fill="#78c83c"/><circle cx="226.55" cy="677.48" r="0.91" fill="#78c83c"/><circle cx="346.99" cy="489.99" r="1.13" fill="#78c83c"/><circle cx="139.46" cy="590.13" r="0.83" fill="#5eb832"/><circle cx="194.05" cy="693.14" r="0.93" fill="#4aa82c"/><circle cx="136.87" cy="554.3" r="0.82" fill="#5eb832"/><circle cx="402.35" cy="622.86" r="0.97" fill="#78c83c"/><circle cx="239.02" cy="465.34" r="1.1" fill="#4aa82c"/><circle cx="304.14" cy="452.15" r="1.07" fill="#4aa82c"/><circle cx="277.34" cy="459.29" r="0.65" fill="#5eb832"/><circle cx="276.63" cy="452.45" r="1.2" fill="#5eb832"/><circle cx="382.2" cy="663.26" r="0.81" fill="#3a8f28"/><circle cx="223.1" cy="471.02" r="0.94" fill="#3a8f28"/><circle cx="161.51" cy="661.92" r="1.01" fill="#78c83c"/><circle cx="362.02" cy="671.89" r="0.94" fill="#3a8f28"/><circle cx="351" cy="474.17" r="0.65" fill="#78c83c"/><circle cx="399.11" cy="618.09" r="0.85" fill="#78c83c"/><circle cx="326.8" cy="682.13" r="1.11" fill="#4aa82c"/><circle cx="383.99" cy="655.42" r="1.18" fill="#78c83c"/><circle cx="406.97" cy="570.79" r="0.71" fill="#78c83c"/><circle cx="160.44" cy="522.76" r="1.19" fill="#3a8f28"/><circle cx="359.78" cy="677.21" r="0.68" fill="#5eb832"/><circle cx="263.14" cy="464.48" r="0.71" fill="#5eb832"/><circle cx="287.88" cy="457.1" r="1.13" fill="#4aa82c"/><circle cx="298.85" cy="458.6" r="1.05" fill="#5eb832"/><circle cx="210.23" cy="675.11" r="0.67" fill="#5eb832"/><circle cx="214.15" cy="463.31" r="0.72" fill="#4aa82c"/><circle cx="368.07" cy="666.72" r="0.73" fill="#78c83c"/><circle cx="376.62" cy="669.27" r="1.11" fill="#3a8f28"/><circle cx="140.88" cy="583.28" r="1.04" fill="#4aa82c"/><circle cx="194.08" cy="686.85" r="0.82" fill="#78c83c"/><circle cx="157.96" cy="606.99" r="1.15" fill="#4aa82c"/><circle cx="408.29" cy="570.67" r="1.06" fill="#4aa82c"/><circle cx="382.8" cy="485.78" r="0.67" fill="#78c83c"/><circle cx="171.64" cy="504.22" r="1.12" fill="#5eb832"/><circle cx="186.67" cy="494.03" r="0.96" fill="#5eb832"/><circle cx="331.98" cy="701.22" r="0.6" fill="#5eb832"/><circle cx="379" cy="655.92" r="0.78" fill="#4aa82c"/><circle cx="218.54" cy="704.39" r="1.12" fill="#5eb832"/><circle cx="281.99" cy="703.83" r="0.84" fill="#3a8f28"/><circle cx="404.12" cy="594.77" r="0.94" fill="#78c83c"/><circle cx="316.62" cy="690.44" r="0.63" fill="#4aa82c"/><circle cx="264.1" cy="453.61" r="0.62" fill="#78c83c"/><circle cx="417.14" cy="570.15" r="1.15" fill="#4aa82c"/><circle cx="410.1" cy="541.41" r="0.75" fill="#4aa82c"/><circle cx="358.82" cy="487.85" r="0.8" fill="#4aa82c"/><circle cx="222.48" cy="670.43" r="1.12" fill="#4aa82c"/><circle cx="370.03" cy="651.06" r="0.71" fill="#5eb832"/><circle cx="346.7" cy="480.24" r="1.15" fill="#78c83c"/><circle cx="396.35" cy="556.81" r="1.19" fill="#5eb832"/><circle cx="407.96" cy="584.7" r="0.63" fill="#78c83c"/><circle cx="261.36" cy="699.35" r="0.65" fill="#5eb832"/><circle cx="369.62" cy="668.22" r="1.17" fill="#78c83c"/><circle cx="164.04" cy="513.48" r="0.85" fill="#5eb832"/><circle cx="401.33" cy="503.81" r="1.1" fill="#4aa82c"/><circle cx="336.21" cy="672.9" r="1.09" fill="#3a8f28"/><circle cx="249.46" cy="684.08" r="0.6" fill="#4aa82c"/><circle cx="361.26" cy="468.66" r="0.79" fill="#5eb832"/><circle cx="394.86" cy="537.15" r="0.73" fill="#3a8f28"/><circle cx="320.9" cy="701.14" r="1.1" fill="#4aa82c"/><circle cx="184.68" cy="693.59" r="1.08" fill="#78c83c"/><circle cx="157.18" cy="519.01" r="0.76" fill="#78c83c"/><circle cx="412.93" cy="575.28" r="0.71" fill="#4aa82c"/><circle cx="247.56" cy="700.8" r="1.06" fill="#4aa82c"/><circle cx="194.21" cy="680.85" r="1.08" fill="#78c83c"/><circle cx="230.52" cy="472.23" r="0.65" fill="#78c83c"/><circle cx="370.03" cy="504.32" r="0.64" fill="#5eb832"/><circle cx="185.65" cy="649.54" r="0.94" fill="#4aa82c"/><circle cx="341.26" cy="687.17" r="0.91" fill="#78c83c"/><circle cx="165.83" cy="665.68" r="0.62" fill="#4aa82c"/><circle cx="347.4" cy="474.51" r="0.94" fill="#3a8f28"/><circle cx="262.8" cy="463.49" r="1.2" fill="#4aa82c"/><circle cx="360.22" cy="664.03" r="0.63" fill="#78c83c"/><circle cx="331.04" cy="469.26" r="0.94" fill="#3a8f28"/><circle cx="155.51" cy="572.02" r="1.02" fill="#3a8f28"/><circle cx="399.12" cy="594.7" r="0.86" fill="#5eb832"/><circle cx="334.96" cy="676.32" r="0.75" fill="#4aa82c"/><circle cx="216.11" cy="477.85" r="1.01" fill="#5eb832"/><circle cx="202.81" cy="478.22" r="0.96" fill="#5eb832"/><circle cx="164.13" cy="536.7" r="1.1" fill="#4aa82c"/><circle cx="308.83" cy="689.35" r="0.76" fill="#3a8f28"/><circle cx="173.88" cy="636.06" r="0.86" fill="#3a8f28"/><circle cx="169.16" cy="665.53" r="0.65" fill="#3a8f28"/><circle cx="372.65" cy="532.77" r="0.89" fill="#3a8f28"/><circle cx="356.88" cy="672.41" r="1.07" fill="#5eb832"/><circle cx="424.48" cy="539.03" r="1.05" fill="#78c83c"/><circle cx="152.36" cy="618.46" r="0.61" fill="#78c83c"/><circle cx="321.92" cy="671.22" r="0.88" fill="#4aa82c"/><circle cx="184.96" cy="507.91" r="1.01" fill="#3a8f28"/><circle cx="364.23" cy="662.29" r="0.99" fill="#78c83c"/><circle cx="234.52" cy="479.83" r="1.16" fill="#4aa82c"/><circle cx="285.78" cy="458.04" r="1.14" fill="#4aa82c"/><circle cx="413.63" cy="558.86" r="0.86" fill="#78c83c"/><circle cx="135.04" cy="604.45" r="1.18" fill="#3a8f28"/><circle cx="397.74" cy="626.36" r="0.67" fill="#4aa82c"/><circle cx="236.36" cy="690.03" r="0.66" fill="#5eb832"/><circle cx="225.91" cy="465.79" r="1.03" fill="#3a8f28"/><circle cx="175.85" cy="630.83" r="1.15" fill="#5eb832"/><circle cx="399.71" cy="629.03" r="1.14" fill="#78c83c"/><circle cx="160.1" cy="537.46" r="1.19" fill="#5eb832"/><circle cx="375.68" cy="499.45" r="1.18" fill="#78c83c"/><circle cx="414.42" cy="530.81" r="1.13" fill="#5eb832"/><circle cx="362.46" cy="660.76" r="0.82" fill="#78c83c"/><circle cx="302.09" cy="693.14" r="1.08" fill="#3a8f28"/><circle cx="314.96" cy="695.05" r="0.85" fill="#5eb832"/><circle cx="337.76" cy="695.08" r="0.99" fill="#4aa82c"/><circle cx="347.24" cy="698.6" r="0.91" fill="#78c83c"/><circle cx="155.67" cy="531.13" r="0.68" fill="#5eb832"/><circle cx="188.91" cy="669.57" r="0.63" fill="#3a8f28"/><circle cx="209.91" cy="487.65" r="0.69" fill="#78c83c"/><circle cx="315.78" cy="449.9" r="1.05" fill="#4aa82c"/><circle cx="335.36" cy="469.71" r="0.7" fill="#3a8f28"/><circle cx="216.14" cy="689.15" r="0.93" fill="#4aa82c"/><circle cx="201.87" cy="486.35" r="0.98" fill="#78c83c"/><circle cx="221.17" cy="472.75" r="0.93" fill="#4aa82c"/><circle cx="405.64" cy="589.87" r="0.96" fill="#5eb832"/><circle cx="181.91" cy="503.42" r="0.67" fill="#78c83c"/><circle cx="221.27" cy="678.1" r="1.04" fill="#4aa82c"/><circle cx="171.32" cy="521.47" r="1.09" fill="#78c83c"/><circle cx="153.63" cy="520.08" r="0.95" fill="#4aa82c"/><circle cx="179.43" cy="515.79" r="1.08" fill="#4aa82c"/><circle cx="398.53" cy="502.79" r="0.93" fill="#78c83c"/><circle cx="152.41" cy="535.19" r="1.15" fill="#78c83c"/><circle cx="310.59" cy="697.5" r="1.02" fill="#3a8f28"/><circle cx="251.1" cy="469.7" r="1.05" fill="#5eb832"/><circle cx="135.16" cy="553.61" r="1.15" fill="#4aa82c"/><circle cx="226.56" cy="479.42" r="0.72" fill="#5eb832"/><circle cx="395.21" cy="611.99" r="1.2" fill="#5eb832"/><circle cx="403.98" cy="523.79" r="0.64" fill="#78c83c"/><circle cx="342.99" cy="713.8" r="0.79" fill="#5eb832"/><circle cx="340.17" cy="672.38" r="0.73" fill="#78c83c"/><circle cx="260.93" cy="712.7" r="0.66" fill="#78c83c"/><circle cx="397.88" cy="549.89" r="0.71" fill="#3a8f28"/><circle cx="135.17" cy="633.58" r="0.78" fill="#3a8f28"/><circle cx="394.9" cy="492.87" r="1.15" fill="#78c83c"/><circle cx="173.9" cy="647.13" r="1.07" fill="#78c83c"/><circle cx="318.32" cy="694.57" r="0.66" fill="#3a8f28"/><circle cx="171.84" cy="525.48" r="1.02" fill="#78c83c"/><circle cx="318.29" cy="689.58" r="0.68" fill="#5eb832"/><circle cx="387.08" cy="637.6" r="1.05" fill="#5eb832"/><circle cx="236.01" cy="476.12" r="0.89" fill="#5eb832"/><circle cx="382.76" cy="526.39" r="0.92" fill="#78c83c"/><circle cx="299.7" cy="454.04" r="0.73" fill="#78c83c"/><circle cx="274.92" cy="450.6" r="1.12" fill="#78c83c"/><circle cx="402.23" cy="573.4" r="1.02" fill="#78c83c"/><circle cx="383.69" cy="644.33" r="0.71" fill="#4aa82c"/><circle cx="212.8" cy="689.14" r="0.86" fill="#5eb832"/><circle cx="397.79" cy="505.44" r="1.13" fill="#3a8f28"/><circle cx="148.86" cy="628.7" r="0.74" fill="#3a8f28"/><circle cx="359.29" cy="644.27" r="0.72" fill="#5eb832"/><circle cx="306.64" cy="693" r="1.2" fill="#78c83c"/><circle cx="306.33" cy="702.21" r="0.63" fill="#5eb832"/><circle cx="406.89" cy="611.23" r="0.87" fill="#5eb832"/><circle cx="150.21" cy="634.54" r="1.06" fill="#4aa82c"/><circle cx="393.31" cy="560.02" r="0.8" fill="#4aa82c"/><circle cx="184.4" cy="480.68" r="1.17" fill="#3a8f28"/><circle cx="251.2" cy="451.34" r="0.97" fill="#3a8f28"/><circle cx="402.96" cy="525.23" r="0.78" fill="#5eb832"/><circle cx="346.4" cy="472.82" r="1.13" fill="#5eb832"/><circle cx="166.18" cy="649.91" r="0.75" fill="#4aa82c"/><circle cx="204.3" cy="678.95" r="1.13" fill="#4aa82c"/><circle cx="394.58" cy="647.1" r="1.09" fill="#5eb832"/><circle cx="330.04" cy="668.44" r="1.04" fill="#5eb832"/><circle cx="185.56" cy="487.3" r="0.62" fill="#4aa82c"/><circle cx="142.05" cy="581.68" r="1.18" fill="#5eb832"/><circle cx="265.23" cy="717.67" r="1.06" fill="#3a8f28"/><circle cx="181.95" cy="658.43" r="0.68" fill="#3a8f28"/><circle cx="366.06" cy="484.17" r="0.66" fill="#4aa82c"/><circle cx="224.33" cy="713.66" r="0.67" fill="#5eb832"/><circle cx="244.4" cy="709.07" r="0.76" fill="#4aa82c"/><circle cx="233.42" cy="713.41" r="1.1" fill="#5eb832"/><circle cx="406.43" cy="524.86" r="1.16" fill="#4aa82c"/><circle cx="230.82" cy="687.95" r="1.03" fill="#3a8f28"/><circle cx="134.16" cy="629.83" r="0.78" fill="#78c83c"/><circle cx="419.33" cy="534.15" r="0.92" fill="#78c83c"/><circle cx="369.1" cy="673.89" r="0.93" fill="#4aa82c"/><circle cx="318.04" cy="453.74" r="0.94" fill="#78c83c"/><circle cx="159.94" cy="642.63" r="1.08" fill="#3a8f28"/><circle cx="272.9" cy="457.35" r="0.79" fill="#78c83c"/><circle cx="309.54" cy="694.84" r="0.67" fill="#4aa82c"/><circle cx="372.65" cy="644.4" r="0.95" fill="#3a8f28"/><circle cx="366.17" cy="649.61" r="0.9" fill="#78c83c"/><circle cx="286.45" cy="454.8" r="1.15" fill="#5eb832"/><circle cx="174.61" cy="511.32" r="1.13" fill="#4aa82c"/><circle cx="234.64" cy="467.84" r="0.64" fill="#78c83c"/><circle cx="285.61" cy="699.09" r="1.07" fill="#5eb832"/><circle cx="336.42" cy="470.03" r="0.73" fill="#5eb832"/><circle cx="231.21" cy="712.86" r="0.79" fill="#3a8f28"/><circle cx="290.58" cy="454.37" r="0.88" fill="#5eb832"/><circle cx="219.19" cy="677.23" r="0.98" fill="#3a8f28"/><circle cx="219.91" cy="466.23" r="0.95" fill="#78c83c"/><circle cx="300.42" cy="454" r="0.62" fill="#5eb832"/><circle cx="214.41" cy="481.25" r="0.89" fill="#3a8f28"/><circle cx="315.24" cy="684.94" r="0.74" fill="#78c83c"/><circle cx="296.18" cy="708.38" r="0.83" fill="#4aa82c"/><circle cx="306.41" cy="454.61" r="0.97" fill="#4aa82c"/><circle cx="140.48" cy="635.45" r="0.61" fill="#3a8f28"/><circle cx="398.94" cy="610" r="1.13" fill="#4aa82c"/><circle cx="362.41" cy="478.95" r="0.7" fill="#78c83c"/><circle cx="240.72" cy="471.9" r="0.71" fill="#3a8f28"/><circle cx="264.41" cy="469.1" r="0.88" fill="#5eb832"/><circle cx="277.84" cy="457.53" r="1.07" fill="#78c83c"/><circle cx="338.3" cy="673.65" r="0.77" fill="#3a8f28"/><circle cx="365.01" cy="465.31" r="0.66" fill="#5eb832"/><circle cx="186.29" cy="702.09" r="0.64" fill="#5eb832"/><circle cx="365.42" cy="677.05" r="0.69" fill="#4aa82c"/><circle cx="381.43" cy="667.84" r="1.04" fill="#78c83c"/><circle cx="297.54" cy="453.65" r="0.73" fill="#78c83c"/><circle cx="281.13" cy="456.12" r="0.92" fill="#5eb832"/><circle cx="399.02" cy="569.34" r="0.91" fill="#78c83c"/><circle cx="229.18" cy="703.08" r="0.99" fill="#78c83c"/><circle cx="198.48" cy="662.41" r="0.72" fill="#78c83c"/><circle cx="279.53" cy="463.42" r="0.81" fill="#3a8f28"/><circle cx="147.42" cy="550.6" r="0.75" fill="#4aa82c"/><circle cx="169.97" cy="497.23" r="1.1" fill="#78c83c"/><circle cx="366.63" cy="653.76" r="0.85" fill="#4aa82c"/><circle cx="260.54" cy="458.4" r="0.69" fill="#78c83c"/><circle cx="297.27" cy="687.53" r="1" fill="#4aa82c"/><circle cx="402.08" cy="511.97" r="0.88" fill="#78c83c"/><circle cx="337.73" cy="477.94" r="0.93" fill="#4aa82c"/><circle cx="385.16" cy="514.02" r="0.63" fill="#4aa82c"/><circle cx="156.02" cy="645.95" r="0.79" fill="#5eb832"/><circle cx="162.48" cy="637.21" r="0.81" fill="#5eb832"/><circle cx="137.91" cy="536.02" r="0.93" fill="#5eb832"/><circle cx="167.43" cy="513.74" r="1.13" fill="#78c83c"/><circle cx="384.72" cy="649.37" r="0.73" fill="#3a8f28"/><circle cx="249.84" cy="471.91" r="0.71" fill="#4aa82c"/><circle cx="277.34" cy="461.69" r="0.97" fill="#5eb832"/><circle cx="391.16" cy="495.15" r="0.92" fill="#5eb832"/><circle cx="148.86" cy="547.73" r="0.96" fill="#5eb832"/><circle cx="395.65" cy="593.78" r="0.97" fill="#5eb832"/><circle cx="308.98" cy="682.07" r="1.02" fill="#5eb832"/><circle cx="158.53" cy="625.27" r="0.73" fill="#4aa82c"/><circle cx="367.12" cy="685.24" r="0.63" fill="#5eb832"/><circle cx="135.1" cy="596.08" r="1.06" fill="#4aa82c"/><circle cx="142" cy="537.45" r="0.87" fill="#5eb832"/><circle cx="136.87" cy="604.01" r="1.09" fill="#4aa82c"/><circle cx="136.78" cy="626.38" r="0.99" fill="#78c83c"/><circle cx="353.93" cy="686.87" r="1.03" fill="#78c83c"/><circle cx="281.8" cy="457.37" r="0.8" fill="#5eb832"/><circle cx="253.19" cy="463.75" r="0.78" fill="#78c83c"/><circle cx="324.3" cy="463.38" r="1.11" fill="#4aa82c"/><circle cx="332.82" cy="472.64" r="1.17" fill="#4aa82c"/><circle cx="240.31" cy="717.77" r="0.86" fill="#5eb832"/><circle cx="162.99" cy="508.25" r="0.62" fill="#5eb832"/><circle cx="314.26" cy="721.57" r="0.62" fill="#3a8f28"/><circle cx="352.01" cy="481.34" r="0.77" fill="#5eb832"/><circle cx="162.71" cy="658.22" r="0.97" fill="#78c83c"/><circle cx="339.7" cy="480.39" r="0.97" fill="#78c83c"/><circle cx="149.69" cy="530.28" r="1.01" fill="#3a8f28"/><circle cx="164.8" cy="487.29" r="1.13" fill="#78c83c"/><circle cx="199.11" cy="675.59" r="1.12" fill="#3a8f28"/><circle cx="143.85" cy="638.16" r="0.93" fill="#78c83c"/><circle cx="204.76" cy="681.17" r="0.61" fill="#4aa82c"/><circle cx="207.07" cy="683.65" r="1.02" fill="#3a8f28"/><circle cx="136.02" cy="623.19" r="0.78" fill="#78c83c"/><circle cx="238.2" cy="707.39" r="1.16" fill="#5eb832"/><circle cx="325.67" cy="448.42" r="0.84" fill="#78c83c"/><circle cx="289.11" cy="458.35" r="0.7" fill="#3a8f28"/><circle cx="297.28" cy="455.4" r="0.63" fill="#5eb832"/><circle cx="290.66" cy="456.22" r="0.69" fill="#4aa82c"/><circle cx="220.29" cy="686.53" r="0.76" fill="#4aa82c"/><circle cx="394.14" cy="638.96" r="0.95" fill="#4aa82c"/><circle cx="314.7" cy="458.24" r="0.78" fill="#78c83c"/><circle cx="224.09" cy="460.67" r="0.64" fill="#3a8f28"/><circle cx="134.17" cy="585.19" r="1.18" fill="#4aa82c"/><circle cx="386.5" cy="654.86" r="0.76" fill="#78c83c"/><circle cx="176.88" cy="674.9" r="0.94" fill="#3a8f28"/><circle cx="288.86" cy="459.21" r="1.09" fill="#3a8f28"/><circle cx="154.33" cy="526.21" r="0.88" fill="#4aa82c"/><circle cx="165.96" cy="649.73" r="0.99" fill="#5eb832"/><circle cx="367.04" cy="469.14" r="0.84" fill="#4aa82c"/><circle cx="390.86" cy="482.2" r="0.79" fill="#4aa82c"/><circle cx="209.45" cy="467.22" r="1.14" fill="#4aa82c"/><circle cx="148.91" cy="522.15" r="0.98" fill="#78c83c"/><circle cx="162.07" cy="527.88" r="0.66" fill="#4aa82c"/><circle cx="403.94" cy="522.34" r="0.84" fill="#78c83c"/><circle cx="334.82" cy="461.27" r="0.79" fill="#78c83c"/><circle cx="160.15" cy="629.39" r="1" fill="#78c83c"/><circle cx="227.34" cy="478.27" r="0.67" fill="#3a8f28"/><circle cx="148.88" cy="559.44" r="0.77" fill="#4aa82c"/><circle cx="334.97" cy="684.05" r="1.13" fill="#3a8f28"/><circle cx="290.9" cy="456.62" r="1.11" fill="#4aa82c"/><circle cx="394.98" cy="592.63" r="0.7" fill="#4aa82c"/><circle cx="213.88" cy="660.04" r="1.13" fill="#4aa82c"/><circle cx="427.45" cy="556.29" r="0.92" fill="#5eb832"/><circle cx="223.53" cy="700.47" r="0.84" fill="#3a8f28"/><circle cx="393.2" cy="628.8" r="1.03" fill="#78c83c"/><circle cx="357.6" cy="499.8" r="0.67" fill="#4aa82c"/><circle cx="409.01" cy="599.39" r="0.71" fill="#5eb832"/><circle cx="343.84" cy="504.71" r="1.07" fill="#5eb832"/><circle cx="401.6" cy="601.12" r="1.12" fill="#5eb832"/><circle cx="394.13" cy="611.04" r="0.92" fill="#78c83c"/><circle cx="360.82" cy="678.73" r="0.66" fill="#3a8f28"/><circle cx="359.93" cy="667.27" r="0.73" fill="#5eb832"/><circle cx="369.54" cy="665.19" r="0.99" fill="#4aa82c"/><circle cx="304.23" cy="699.58" r="0.71" fill="#4aa82c"/><circle cx="327.42" cy="665.58" r="0.68" fill="#3a8f28"/><circle cx="152.62" cy="525.05" r="0.98" fill="#3a8f28"/><circle cx="397.43" cy="480.11" r="0.79" fill="#3a8f28"/><circle cx="406.29" cy="617.19" r="0.77" fill="#3a8f28"/><circle cx="204.07" cy="697.72" r="1.01" fill="#5eb832"/><circle cx="356.96" cy="461.77" r="0.99" fill="#4aa82c"/><circle cx="400.25" cy="624.89" r="0.68" fill="#3a8f28"/><circle cx="283.36" cy="455.35" r="0.72" fill="#5eb832"/><circle cx="275.03" cy="460.7" r="0.82" fill="#78c83c"/><circle cx="369.83" cy="486.53" r="0.91" fill="#3a8f28"/><circle cx="175.94" cy="674.62" r="0.77" fill="#5eb832"/><circle cx="390.76" cy="648.95" r="0.87" fill="#78c83c"/><circle cx="313.31" cy="692.6" r="0.68" fill="#3a8f28"/><circle cx="181.69" cy="663.89" r="0.64" fill="#5eb832"/><circle cx="167.43" cy="510.61" r="1.05" fill="#5eb832"/><circle cx="154.48" cy="542.35" r="1.05" fill="#4aa82c"/><circle cx="184.87" cy="660.1" r="0.89" fill="#4aa82c"/><circle cx="272.05" cy="459.43" r="0.88" fill="#5eb832"/><circle cx="363.26" cy="667.44" r="0.79" fill="#4aa82c"/><circle cx="134.64" cy="622.65" r="1.11" fill="#4aa82c"/><circle cx="320.11" cy="477.36" r="0.79" fill="#5eb832"/><circle cx="361.94" cy="498.92" r="0.83" fill="#3a8f28"/><circle cx="399.28" cy="619.96" r="0.95" fill="#3a8f28"/><circle cx="263.57" cy="453.66" r="1.18" fill="#3a8f28"/><circle cx="165.03" cy="669.15" r="0.79" fill="#5eb832"/><circle cx="369.22" cy="464.89" r="0.64" fill="#78c83c"/><circle cx="300.7" cy="703.07" r="0.62" fill="#5eb832"/><circle cx="392.48" cy="623.31" r="1.14" fill="#3a8f28"/><circle cx="368.13" cy="470" r="1.12" fill="#5eb832"/><circle cx="206.3" cy="480.18" r="1.01" fill="#4aa82c"/><circle cx="153.17" cy="593.62" r="0.7" fill="#5eb832"/><circle cx="396.3" cy="531.74" r="0.69" fill="#4aa82c"/><circle cx="371.75" cy="478.35" r="0.78" fill="#5eb832"/><circle cx="149.81" cy="553.07" r="0.67" fill="#5eb832"/><circle cx="397.37" cy="633.99" r="0.7" fill="#78c83c"/><circle cx="350.75" cy="673.52" r="1.04" fill="#4aa82c"/><circle cx="383.54" cy="663.06" r="0.92" fill="#3a8f28"/><circle cx="263.36" cy="463.57" r="0.91" fill="#5eb832"/><circle cx="179.48" cy="511.21" r="1.17" fill="#3a8f28"/><circle cx="182.9" cy="480.19" r="1.14" fill="#78c83c"/><circle cx="238.23" cy="714.15" r="0.89" fill="#5eb832"/><circle cx="392.73" cy="504.16" r="0.94" fill="#5eb832"/><circle cx="299.88" cy="455.81" r="0.75" fill="#5eb832"/><circle cx="339.7" cy="479.75" r="0.91" fill="#3a8f28"/><circle cx="302.84" cy="712.08" r="0.96" fill="#78c83c"/><circle cx="388.55" cy="471.96" r="0.63" fill="#5eb832"/><circle cx="144.64" cy="577.13" r="1.07" fill="#78c83c"/><circle cx="385.19" cy="514.91" r="0.7" fill="#5eb832"/><circle cx="392.57" cy="487.22" r="0.73" fill="#4aa82c"/><circle cx="144.88" cy="556.12" r="0.8" fill="#78c83c"/><circle cx="145.28" cy="560.13" r="0.88" fill="#4aa82c"/><circle cx="155.35" cy="657.12" r="0.76" fill="#3a8f28"/><circle cx="310.54" cy="458.77" r="0.86" fill="#4aa82c"/><circle cx="411.27" cy="517.63" r="1.07" fill="#5eb832"/><circle cx="153.18" cy="542.79" r="1.05" fill="#3a8f28"/><circle cx="386.42" cy="661.5" r="0.9" fill="#4aa82c"/><circle cx="375.99" cy="654.93" r="1.06" fill="#3a8f28"/><circle cx="139.95" cy="628.51" r="0.85" fill="#5eb832"/><circle cx="303.28" cy="687.46" r="0.74" fill="#3a8f28"/><circle cx="176.84" cy="501.8" r="0.78" fill="#3a8f28"/><circle cx="322.77" cy="453.29" r="0.77" fill="#3a8f28"/><circle cx="177.69" cy="481.84" r="0.96" fill="#5eb832"/><circle cx="364.62" cy="491.62" r="1.14" fill="#78c83c"/><circle cx="320.22" cy="691.94" r="1.15" fill="#78c83c"/><circle cx="302.43" cy="458.37" r="0.94" fill="#4aa82c"/><circle cx="240.3" cy="461.44" r="1.05" fill="#5eb832"/><circle cx="173.97" cy="513.41" r="0.67" fill="#78c83c"/><circle cx="320.08" cy="461.51" r="0.77" fill="#5eb832"/><circle cx="394.2" cy="618.43" r="0.88" fill="#4aa82c"/><circle cx="154.75" cy="555.65" r="1.12" fill="#5eb832"/><circle cx="418.38" cy="568.06" r="1.18" fill="#3a8f28"/><circle cx="381.06" cy="656.27" r="0.68" fill="#5eb832"/><circle cx="279.28" cy="462.91" r="0.61" fill="#5eb832"/><circle cx="198.64" cy="665.63" r="0.6" fill="#4aa82c"/><circle cx="274.04" cy="461.94" r="0.94" fill="#78c83c"/><circle cx="402.09" cy="606.49" r="1.06" fill="#5eb832"/><circle cx="385.48" cy="669.84" r="1.14" fill="#5eb832"/><circle cx="237.62" cy="689.33" r="0.97" fill="#78c83c"/><circle cx="152.98" cy="619.09" r="0.66" fill="#4aa82c"/><circle cx="210.74" cy="675.57" r="0.98" fill="#5eb832"/><circle cx="365.33" cy="486" r="0.8" fill="#78c83c"/><circle cx="396.85" cy="545.64" r="0.74" fill="#5eb832"/><circle cx="342.7" cy="689.31" r="0.79" fill="#3a8f28"/><circle cx="261.6" cy="458.59" r="1.19" fill="#4aa82c"/><circle cx="400.69" cy="513.77" r="1.15" fill="#3a8f28"/><circle cx="305.02" cy="697.5" r="1.16" fill="#4aa82c"/><circle cx="161.08" cy="502.09" r="1.16" fill="#4aa82c"/><circle cx="181.24" cy="649.54" r="1.04" fill="#78c83c"/><circle cx="384.02" cy="651.31" r="0.98" fill="#3a8f28"/><circle cx="289.12" cy="456.93" r="0.6" fill="#4aa82c"/><circle cx="273.12" cy="456.23" r="0.84" fill="#5eb832"/><circle cx="137.27" cy="608.73" r="0.82" fill="#4aa82c"/><circle cx="272.68" cy="714.04" r="1.15" fill="#78c83c"/><circle cx="181.22" cy="482.39" r="0.89" fill="#4aa82c"/><circle cx="354.6" cy="642.69" r="1.08" fill="#78c83c"/><circle cx="222.96" cy="704.83" r="1.08" fill="#3a8f28"/><circle cx="349.43" cy="701.59" r="0.91" fill="#4aa82c"/><circle cx="235.1" cy="690.63" r="0.68" fill="#78c83c"/><circle cx="389.69" cy="654.89" r="0.88" fill="#5eb832"/><circle cx="297.46" cy="453.83" r="1.14" fill="#3a8f28"/><circle cx="376.89" cy="680.91" r="1.02" fill="#3a8f28"/><circle cx="383.31" cy="650.7" r="0.79" fill="#4aa82c"/><circle cx="141.26" cy="581.83" r="1.08" fill="#78c83c"/><circle cx="160.45" cy="513.84" r="1.03" fill="#5eb832"/><circle cx="399.58" cy="639.87" r="1.16" fill="#3a8f28"/><circle cx="321.36" cy="463.85" r="0.97" fill="#3a8f28"/><circle cx="356.85" cy="466.14" r="0.96" fill="#78c83c"/><circle cx="145.04" cy="619.99" r="0.75" fill="#4aa82c"/><circle cx="381.9" cy="525.02" r="0.88" fill="#3a8f28"/><circle cx="287.17" cy="457.05" r="0.71" fill="#5eb832"/><circle cx="285.15" cy="457.28" r="0.66" fill="#5eb832"/><circle cx="266.22" cy="461.83" r="0.7" fill="#4aa82c"/><circle cx="373.15" cy="651.23" r="0.65" fill="#5eb832"/><circle cx="406.04" cy="607.55" r="0.66" fill="#78c83c"/><circle cx="326.31" cy="682.53" r="1.06" fill="#3a8f28"/><circle cx="405.58" cy="529.01" r="1.17" fill="#5eb832"/><circle cx="339.14" cy="671.31" r="0.92" fill="#4aa82c"/><circle cx="378.04" cy="648.2" r="0.75" fill="#5eb832"/><circle cx="185.18" cy="496.66" r="0.75" fill="#78c83c"/><circle cx="162.23" cy="637.56" r="0.67" fill="#4aa82c"/><circle cx="176.81" cy="490.78" r="0.78" fill="#4aa82c"/><circle cx="394.61" cy="637.85" r="1.17" fill="#3a8f28"/><circle cx="394.54" cy="585.16" r="1.05" fill="#78c83c"/><circle cx="158.63" cy="523.76" r="0.85" fill="#3a8f28"/><circle cx="298.22" cy="688.82" r="1.05" fill="#78c83c"/><circle cx="383.46" cy="643.4" r="1.02" fill="#5eb832"/><circle cx="377.63" cy="646.22" r="1" fill="#3a8f28"/><circle cx="161.19" cy="515.23" r="1.05" fill="#4aa82c"/><circle cx="254.53" cy="729.48" r="0.72" fill="#5eb832"/><circle cx="342.02" cy="464.78" r="0.86" fill="#3a8f28"/><circle cx="380.87" cy="664.61" r="1.02" fill="#3a8f28"/><circle cx="386.34" cy="496.6" r="0.89" fill="#78c83c"/><circle cx="398.84" cy="630.09" r="1.08" fill="#3a8f28"/><circle cx="147.55" cy="547.31" r="1.05" fill="#78c83c"/><circle cx="139.06" cy="549.19" r="0.63" fill="#3a8f28"/><circle cx="256.01" cy="702.58" r="1.07" fill="#4aa82c"/><circle cx="229.74" cy="476.59" r="0.89" fill="#78c83c"/><circle cx="215.84" cy="708.39" r="0.98" fill="#4aa82c"/><circle cx="226.86" cy="471.53" r="0.61" fill="#5eb832"/><circle cx="293.43" cy="457.58" r="0.92" fill="#4aa82c"/><circle cx="135.14" cy="597.04" r="0.79" fill="#4aa82c"/><circle cx="158.34" cy="562.97" r="0.89" fill="#3a8f28"/><circle cx="288.24" cy="455.67" r="0.72" fill="#4aa82c"/><circle cx="287.62" cy="454.95" r="0.79" fill="#3a8f28"/><circle cx="224.32" cy="475.68" r="0.88" fill="#78c83c"/><circle cx="277.79" cy="461.13" r="1.12" fill="#78c83c"/><circle cx="258.67" cy="463.48" r="0.7" fill="#3a8f28"/><circle cx="383.13" cy="645.12" r="0.96" fill="#3a8f28"/><circle cx="140.97" cy="591.04" r="1.05" fill="#78c83c"/><circle cx="404.47" cy="522.57" r="1.17" fill="#78c83c"/><circle cx="410.67" cy="513.14" r="0.9" fill="#4aa82c"/><circle cx="230.75" cy="455.88" r="0.83" fill="#4aa82c"/><circle cx="209.52" cy="679.25" r="0.75" fill="#78c83c"/><circle cx="189.44" cy="665.04" r="0.9" fill="#78c83c"/><circle cx="265.02" cy="715.62" r="1.13" fill="#4aa82c"/><circle cx="401.17" cy="519.81" r="1.08" fill="#5eb832"/><circle cx="286.06" cy="456.54" r="0.95" fill="#5eb832"/><circle cx="197.05" cy="669.9" r="0.7" fill="#5eb832"/><circle cx="237.7" cy="469.96" r="0.89" fill="#4aa82c"/><circle cx="180.96" cy="671.1" r="1.12" fill="#4aa82c"/><circle cx="311.13" cy="693.73" r="1.1" fill="#3a8f28"/><circle cx="185.59" cy="482.45" r="0.78" fill="#3a8f28"/><circle cx="151.22" cy="550.15" r="1.1" fill="#78c83c"/><circle cx="248.14" cy="474.33" r="0.75" fill="#4aa82c"/><circle cx="391.52" cy="528.59" r="1.08" fill="#5eb832"/><circle cx="149.83" cy="559.85" r="0.81" fill="#5eb832"/><circle cx="228.59" cy="700.91" r="1.07" fill="#5eb832"/><circle cx="275.29" cy="462.65" r="0.89" fill="#4aa82c"/><circle cx="342.86" cy="478.65" r="0.95" fill="#4aa82c"/><circle cx="386.61" cy="639.34" r="0.69" fill="#3a8f28"/><circle cx="162.07" cy="665.42" r="0.97" fill="#4aa82c"/><circle cx="175.09" cy="527.93" r="1.12" fill="#78c83c"/><circle cx="340.77" cy="464.26" r="0.73" fill="#3a8f28"/><circle cx="306.22" cy="689.05" r="1.14" fill="#3a8f28"/><circle cx="399.98" cy="538.74" r="0.87" fill="#78c83c"/><circle cx="153.65" cy="543.09" r="1.06" fill="#5eb832"/><circle cx="202.52" cy="477.98" r="0.87" fill="#3a8f28"/><circle cx="375.87" cy="493.37" r="1.2" fill="#78c83c"/><circle cx="368.38" cy="670.5" r="1.14" fill="#5eb832"/><circle cx="398.94" cy="531.65" r="1.12" fill="#5eb832"/><circle cx="410.3" cy="534.02" r="0.63" fill="#3a8f28"/><circle cx="249.24" cy="458.82" r="0.88" fill="#3a8f28"/><circle cx="243.42" cy="457.28" r="0.89" fill="#4aa82c"/><circle cx="398.07" cy="620.41" r="0.98" fill="#3a8f28"/><circle cx="161.42" cy="634.58" r="1.15" fill="#4aa82c"/><circle cx="149.66" cy="548.35" r="0.73" fill="#4aa82c"/><circle cx="138.09" cy="576.5" r="1.05" fill="#78c83c"/><circle cx="157.4" cy="654.92" r="0.86" fill="#5eb832"/><circle cx="401.83" cy="577.29" r="0.78" fill="#78c83c"/><circle cx="264.53" cy="460.24" r="1.14" fill="#3a8f28"/><circle cx="355.17" cy="485.23" r="1.04" fill="#3a8f28"/><circle cx="233.65" cy="465.47" r="0.92" fill="#78c83c"/><circle cx="393.32" cy="561.27" r="1" fill="#4aa82c"/><circle cx="179.36" cy="669.3" r="1.11" fill="#3a8f28"/><circle cx="148.08" cy="561.03" r="0.73" fill="#78c83c"/><circle cx="336.92" cy="673.94" r="0.8" fill="#3a8f28"/><circle cx="163" cy="637.58" r="1.14" fill="#4aa82c"/><circle cx="374.21" cy="501.8" r="0.61" fill="#3a8f28"/><circle cx="387.22" cy="499.34" r="1.16" fill="#4aa82c"/><circle cx="326.93" cy="658.12" r="1.02" fill="#78c83c"/><circle cx="336.35" cy="701.78" r="1.14" fill="#3a8f28"/><circle cx="366.01" cy="684.08" r="0.76" fill="#4aa82c"/><circle cx="139.84" cy="648.31" r="0.68" fill="#78c83c"/><circle cx="412.63" cy="593.84" r="0.89" fill="#5eb832"/><circle cx="399.78" cy="595.93" r="1.09" fill="#4aa82c"/><circle cx="366.75" cy="680.85" r="0.97" fill="#5eb832"/><circle cx="334.29" cy="685.65" r="0.72" fill="#3a8f28"/><circle cx="194.7" cy="501.65" r="0.83" fill="#3a8f28"/><circle cx="188.26" cy="485.55" r="0.79" fill="#78c83c"/><circle cx="381.67" cy="637.75" r="1.01" fill="#3a8f28"/><circle cx="312.99" cy="695" r="0.8" fill="#78c83c"/><circle cx="382.31" cy="658.6" r="0.84" fill="#4aa82c"/><circle cx="290.26" cy="706.02" r="1.1" fill="#78c83c"/><circle cx="243.29" cy="461.54" r="0.86" fill="#3a8f28"/><circle cx="366.54" cy="671.88" r="1.17" fill="#5eb832"/><circle cx="406.9" cy="557.27" r="1.1" fill="#5eb832"/><circle cx="160.37" cy="506.84" r="1.16" fill="#78c83c"/><circle cx="372.91" cy="665.76" r="0.65" fill="#3a8f28"/><circle cx="189.59" cy="672.26" r="0.98" fill="#3a8f28"/><circle cx="182.89" cy="490.76" r="0.85" fill="#78c83c"/><circle cx="268.56" cy="448.42" r="0.64" fill="#5eb832"/><circle cx="189" cy="662.77" r="1.17" fill="#3a8f28"/><circle cx="140.95" cy="589.99" r="0.61" fill="#4aa82c"/><circle cx="266.1" cy="703.26" r="0.73" fill="#78c83c"/><circle cx="397.38" cy="625.64" r="0.95" fill="#3a8f28"/><circle cx="189.59" cy="502.73" r="0.65" fill="#3a8f28"/><circle cx="215.1" cy="691.21" r="1.08" fill="#4aa82c"/><circle cx="345.2" cy="485.54" r="1.07" fill="#5eb832"/><circle cx="132.61" cy="573.05" r="0.96" fill="#3a8f28"/><circle cx="284.23" cy="455.09" r="0.73" fill="#3a8f28"/><circle cx="371.73" cy="658.5" r="0.68" fill="#78c83c"/><circle cx="370.65" cy="479.91" r="0.84" fill="#5eb832"/><circle cx="390.13" cy="515.18" r="0.65" fill="#3a8f28"/><circle cx="366.85" cy="492.31" r="1.11" fill="#3a8f28"/><circle cx="352.71" cy="666.53" r="1.13" fill="#5eb832"/><circle cx="151.73" cy="598.6" r="0.73" fill="#4aa82c"/><circle cx="196.34" cy="506.54" r="1.01" fill="#3a8f28"/><circle cx="395.93" cy="623.04" r="1.18" fill="#4aa82c"/><circle cx="308.42" cy="450.93" r="0.64" fill="#4aa82c"/><circle cx="244.74" cy="464.77" r="0.68" fill="#4aa82c"/><circle cx="144.96" cy="644.79" r="0.75" fill="#78c83c"/><circle cx="168.81" cy="669.44" r="1.08" fill="#3a8f28"/><circle cx="136.45" cy="571.4" r="1.18" fill="#78c83c"/><circle cx="411.71" cy="531.4" r="0.62" fill="#78c83c"/><circle cx="313.44" cy="454.8" r="1.04" fill="#5eb832"/><circle cx="143.81" cy="550.4" r="0.65" fill="#5eb832"/><circle cx="376.47" cy="506.2" r="1" fill="#78c83c"/><circle cx="399.97" cy="581.63" r="0.6" fill="#78c83c"/><circle cx="136.44" cy="642.77" r="0.86" fill="#3a8f28"/><circle cx="241.61" cy="467.78" r="0.87" fill="#5eb832"/><circle cx="364.87" cy="481.87" r="0.93" fill="#4aa82c"/><circle cx="143.99" cy="614.07" r="1.02" fill="#78c83c"/><circle cx="312.82" cy="455.81" r="0.66" fill="#4aa82c"/><circle cx="165.56" cy="649.81" r="1.08" fill="#3a8f28"/><circle cx="157.61" cy="642.56" r="0.82" fill="#3a8f28"/><circle cx="160.87" cy="611.64" r="0.98" fill="#78c83c"/><circle cx="217.54" cy="452.89" r="0.8" fill="#3a8f28"/><circle cx="213.89" cy="675.34" r="0.63" fill="#3a8f28"/><circle cx="146.77" cy="519.9" r="0.88" fill="#78c83c"/><circle cx="205.05" cy="684.15" r="1.03" fill="#3a8f28"/><circle cx="173.17" cy="664.88" r="0.63" fill="#5eb832"/><circle cx="411.95" cy="584.87" r="1.14" fill="#4aa82c"/><circle cx="213.49" cy="490.54" r="0.73" fill="#5eb832"/><circle cx="217.84" cy="688.85" r="1.02" fill="#5eb832"/><circle cx="398.93" cy="603.54" r="1.2" fill="#5eb832"/><circle cx="154.33" cy="633.32" r="0.93" fill="#3a8f28"/><circle cx="140.84" cy="613.53" r="0.94" fill="#4aa82c"/><circle cx="141.11" cy="643.94" r="0.87" fill="#5eb832"/><circle cx="399.93" cy="641.87" r="0.64" fill="#78c83c"/><circle cx="405.24" cy="567.67" r="0.76" fill="#5eb832"/><circle cx="245.27" cy="466.16" r="0.99" fill="#4aa82c"/><circle cx="280.98" cy="708.76" r="1.17" fill="#78c83c"/><circle cx="146.82" cy="585.15" r="0.72" fill="#3a8f28"/><circle cx="153.52" cy="563.2" r="0.86" fill="#3a8f28"/><circle cx="318.73" cy="470.53" r="0.89" fill="#4aa82c"/><circle cx="188.07" cy="474.26" r="0.67" fill="#4aa82c"/><circle cx="385.2" cy="491.3" r="0.93" fill="#78c83c"/><circle cx="396.24" cy="589.46" r="1.14" fill="#3a8f28"/><circle cx="307.84" cy="461.77" r="0.77" fill="#78c83c"/><circle cx="410.16" cy="535.79" r="0.79" fill="#3a8f28"/><circle cx="276.27" cy="461.17" r="1.14" fill="#78c83c"/><circle cx="261.28" cy="467.25" r="1.18" fill="#78c83c"/><circle cx="387.4" cy="502.39" r="0.66" fill="#78c83c"/><circle cx="377.52" cy="489.43" r="0.79" fill="#3a8f28"/><circle cx="146.27" cy="602.71" r="0.79" fill="#78c83c"/><circle cx="256.11" cy="699.09" r="0.72" fill="#5eb832"/><circle cx="308.7" cy="459.53" r="1.08" fill="#5eb832"/><circle cx="346.49" cy="458.91" r="0.64" fill="#78c83c"/><circle cx="373.76" cy="647.23" r="0.64" fill="#5eb832"/><circle cx="423.69" cy="545.39" r="0.9" fill="#5eb832"/><circle cx="285.84" cy="458.18" r="0.93" fill="#78c83c"/><circle cx="285.26" cy="711.88" r="1.14" fill="#78c83c"/><circle cx="391.04" cy="509.51" r="0.8" fill="#4aa82c"/><circle cx="401.91" cy="576.82" r="0.98" fill="#4aa82c"/><circle cx="225.69" cy="700.91" r="0.92" fill="#5eb832"/><circle cx="235.27" cy="702.71" r="0.72" fill="#5eb832"/><circle cx="395.24" cy="623.78" r="1.12" fill="#4aa82c"/><circle cx="186.03" cy="490.21" r="0.9" fill="#5eb832"/><circle cx="136.83" cy="584.84" r="0.74" fill="#78c83c"/><circle cx="159.65" cy="643.35" r="0.71" fill="#4aa82c"/><circle cx="362.6" cy="664.14" r="1.06" fill="#3a8f28"/><circle cx="147.57" cy="533.1" r="1.04" fill="#5eb832"/><circle cx="154.99" cy="571.19" r="0.93" fill="#4aa82c"/><circle cx="397.55" cy="586.35" r="0.9" fill="#5eb832"/><circle cx="261.76" cy="701.34" r="0.8" fill="#4aa82c"/><circle cx="297.07" cy="696.03" r="1.15" fill="#78c83c"/><circle cx="226.03" cy="713.15" r="0.85" fill="#5eb832"/><circle cx="191.6" cy="687.5" r="0.97" fill="#4aa82c"/><circle cx="204.7" cy="696.41" r="0.94" fill="#78c83c"/><circle cx="403.14" cy="573.9" r="1.14" fill="#5eb832"/><circle cx="144.7" cy="622.72" r="1.13" fill="#78c83c"/><circle cx="397.63" cy="556.29" r="1.02" fill="#5eb832"/><circle cx="395.36" cy="596.62" r="0.66" fill="#3a8f28"/><circle cx="414.54" cy="620.46" r="0.99" fill="#78c83c"/><circle cx="337.96" cy="685.48" r="1.08" fill="#78c83c"/><circle cx="321.84" cy="687.9" r="0.8" fill="#3a8f28"/><circle cx="271.75" cy="464.77" r="0.79" fill="#3a8f28"/><circle cx="149.05" cy="588.92" r="1.03" fill="#3a8f28"/><circle cx="256.75" cy="705.68" r="0.92" fill="#4aa82c"/><circle cx="390.71" cy="550.85" r="1.13" fill="#4aa82c"/><circle cx="245.23" cy="707.32" r="0.69" fill="#5eb832"/><circle cx="183.38" cy="660.42" r="0.77" fill="#5eb832"/><circle cx="365.5" cy="488.34" r="0.72" fill="#78c83c"/><circle cx="144.75" cy="621.18" r="0.7" fill="#5eb832"/><circle cx="407.86" cy="638.49" r="0.79" fill="#5eb832"/><circle cx="310.23" cy="450.97" r="0.99" fill="#4aa82c"/><circle cx="306.21" cy="454.18" r="1.04" fill="#78c83c"/><circle cx="159.33" cy="678.42" r="1.07" fill="#4aa82c"/><circle cx="376.88" cy="660.65" r="0.79" fill="#3a8f28"/><circle cx="258.5" cy="458.52" r="0.85" fill="#4aa82c"/><circle cx="127.61" cy="593.46" r="1.03" fill="#78c83c"/><circle cx="396.3" cy="507.63" r="0.88" fill="#3a8f28"/><circle cx="390.07" cy="636.18" r="1.14" fill="#3a8f28"/><circle cx="348.06" cy="684.26" r="0.63" fill="#78c83c"/><circle cx="273.82" cy="704.43" r="1" fill="#78c83c"/><circle cx="187.7" cy="684.02" r="0.86" fill="#4aa82c"/><circle cx="193.28" cy="681.52" r="1.09" fill="#5eb832"/><circle cx="138.43" cy="618.11" r="0.78" fill="#78c83c"/><circle cx="352.22" cy="466.35" r="0.75" fill="#78c83c"/><circle cx="148.5" cy="540.29" r="0.82" fill="#78c83c"/><circle cx="177.09" cy="497.57" r="1.1" fill="#78c83c"/><circle cx="319.83" cy="459.32" r="1.03" fill="#3a8f28"/><circle cx="290.72" cy="455.22" r="0.66" fill="#4aa82c"/><circle cx="198.04" cy="695.8" r="0.86" fill="#5eb832"/><circle cx="377.74" cy="645.82" r="0.68" fill="#4aa82c"/><circle cx="276" cy="464.77" r="0.97" fill="#5eb832"/><circle cx="278.74" cy="467.59" r="1.05" fill="#4aa82c"/><circle cx="225.17" cy="699.87" r="0.97" fill="#3a8f28"/><circle cx="132.44" cy="601.55" r="0.7" fill="#5eb832"/><circle cx="280.81" cy="460.26" r="0.85" fill="#5eb832"/><circle cx="147.16" cy="563.5" r="0.78" fill="#78c83c"/><circle cx="263.77" cy="690.44" r="0.66" fill="#5eb832"/><circle cx="403.8" cy="633.71" r="1.18" fill="#4aa82c"/><circle cx="257.67" cy="444.79" r="0.92" fill="#5eb832"/><circle cx="414.87" cy="591.23" r="0.66" fill="#78c83c"/><circle cx="406.06" cy="531.63" r="0.95" fill="#78c83c"/><circle cx="402.07" cy="565.34" r="0.9" fill="#78c83c"/><circle cx="372.68" cy="650.51" r="0.85" fill="#5eb832"/><circle cx="159.28" cy="516.73" r="1.17" fill="#3a8f28"/><circle cx="212.01" cy="471.74" r="1.06" fill="#4aa82c"/><circle cx="231.76" cy="471.81" r="0.91" fill="#78c83c"/><circle cx="298.06" cy="700.86" r="0.71" fill="#4aa82c"/><circle cx="181.81" cy="706.85" r="0.86" fill="#4aa82c"/><circle cx="329.26" cy="460.02" r="1.16" fill="#78c83c"/><circle cx="397.85" cy="620.55" r="1.03" fill="#5eb832"/><circle cx="407.33" cy="502.64" r="0.91" fill="#78c83c"/><circle cx="372.23" cy="662.83" r="0.96" fill="#4aa82c"/><circle cx="276.72" cy="693.04" r="0.69" fill="#5eb832"/><circle cx="193.78" cy="693.11" r="1.06" fill="#5eb832"/><circle cx="334.59" cy="461.96" r="0.94" fill="#4aa82c"/><circle cx="359.83" cy="654.58" r="0.75" fill="#5eb832"/><circle cx="274.89" cy="458.73" r="0.98" fill="#78c83c"/><circle cx="246.24" cy="469.37" r="1.11" fill="#5eb832"/><circle cx="339.62" cy="687.56" r="0.96" fill="#3a8f28"/><circle cx="270.85" cy="701.78" r="1.04" fill="#78c83c"/><circle cx="303.84" cy="449.14" r="1.11" fill="#4aa82c"/><circle cx="200.25" cy="696.79" r="0.88" fill="#78c83c"/><circle cx="399" cy="538.88" r="0.87" fill="#5eb832"/><circle cx="233.03" cy="724.18" r="0.9" fill="#4aa82c"/><circle cx="384.55" cy="663.17" r="1.14" fill="#3a8f28"/><circle cx="411.13" cy="608.51" r="0.95" fill="#4aa82c"/><circle cx="147.03" cy="570.23" r="0.71" fill="#3a8f28"/><circle cx="323.14" cy="461.27" r="0.72" fill="#5eb832"/><circle cx="397.94" cy="582.27" r="0.99" fill="#4aa82c"/><circle cx="300.3" cy="457.24" r="0.66" fill="#4aa82c"/><circle cx="138.21" cy="572.83" r="0.98" fill="#78c83c"/><circle cx="169.35" cy="522.67" r="0.61" fill="#78c83c"/><circle cx="402.03" cy="584.95" r="0.67" fill="#78c83c"/><circle cx="285.3" cy="456.8" r="0.82" fill="#78c83c"/><circle cx="401.81" cy="558.56" r="0.94" fill="#5eb832"/><circle cx="264.34" cy="731.7" r="0.77" fill="#5eb832"/><circle cx="172.97" cy="642.77" r="0.85" fill="#5eb832"/><circle cx="367.89" cy="514.02" r="0.94" fill="#4aa82c"/><circle cx="286.47" cy="458.35" r="1" fill="#78c83c"/><circle cx="395.6" cy="635.9" r="1.13" fill="#78c83c"/><circle cx="158.31" cy="519.95" r="1.15" fill="#5eb832"/><circle cx="191.69" cy="483.11" r="0.71" fill="#78c83c"/><circle cx="302.51" cy="456.88" r="0.98" fill="#78c83c"/><circle cx="141.35" cy="585.53" r="0.77" fill="#78c83c"/><circle cx="299.59" cy="458.1" r="0.75" fill="#5eb832"/><circle cx="386.62" cy="668.2" r="1.05" fill="#4aa82c"/><circle cx="303.75" cy="451.51" r="1.01" fill="#78c83c"/><circle cx="342.23" cy="451.66" r="0.83" fill="#3a8f28"/><circle cx="158.06" cy="671.36" r="0.64" fill="#4aa82c"/><circle cx="166.15" cy="507.5" r="0.75" fill="#3a8f28"/><circle cx="204.2" cy="478.02" r="0.89" fill="#4aa82c"/><circle cx="271.12" cy="708.74" r="0.77" fill="#78c83c"/><circle cx="306.27" cy="705.21" r="0.82" fill="#78c83c"/><circle cx="367.67" cy="512.14" r="0.63" fill="#5eb832"/><circle cx="306.25" cy="461.15" r="0.8" fill="#5eb832"/><circle cx="404.68" cy="606.41" r="0.72" fill="#4aa82c"/><circle cx="325.79" cy="472.63" r="1.02" fill="#78c83c"/><circle cx="342.84" cy="457.14" r="1.14" fill="#3a8f28"/><circle cx="381.89" cy="668.11" r="0.86" fill="#3a8f28"/><circle cx="345.2" cy="659.04" r="1.09" fill="#5eb832"/><circle cx="391.13" cy="679.87" r="0.82" fill="#3a8f28"/><circle cx="150.02" cy="535.57" r="0.68" fill="#5eb832"/><circle cx="368.82" cy="485.15" r="0.75" fill="#78c83c"/><circle cx="229.03" cy="464.42" r="0.6" fill="#5eb832"/><circle cx="140.7" cy="577" r="0.61" fill="#78c83c"/><circle cx="409.51" cy="515.16" r="0.99" fill="#4aa82c"/><circle cx="409.76" cy="531.92" r="0.92" fill="#5eb832"/><circle cx="404.32" cy="559.21" r="0.63" fill="#5eb832"/><circle cx="307.25" cy="689.36" r="1.05" fill="#5eb832"/><circle cx="145.58" cy="611.48" r="1.13" fill="#3a8f28"/><circle cx="342.52" cy="481.01" r="0.92" fill="#5eb832"/><circle cx="215.36" cy="479.67" r="0.8" fill="#78c83c"/><circle cx="153.25" cy="554.69" r="0.98" fill="#4aa82c"/><circle cx="149.01" cy="581.98" r="0.65" fill="#3a8f28"/><circle cx="244.42" cy="712.49" r="1.15" fill="#5eb832"/><circle cx="312.07" cy="454.73" r="0.88" fill="#5eb832"/><circle cx="394.37" cy="630.25" r="0.69" fill="#4aa82c"/><circle cx="171.56" cy="503.81" r="0.78" fill="#5eb832"/><circle cx="140.53" cy="552.38" r="0.94" fill="#78c83c"/><circle cx="404.23" cy="511.66" r="1.17" fill="#5eb832"/><circle cx="393.45" cy="641.11" r="1.02" fill="#4aa82c"/><circle cx="397.19" cy="523.55" r="0.86" fill="#5eb832"/><circle cx="216.73" cy="712.18" r="0.82" fill="#78c83c"/><circle cx="300.89" cy="692.96" r="1.12" fill="#78c83c"/><circle cx="171.72" cy="509.5" r="1" fill="#78c83c"/><circle cx="203.8" cy="715.19" r="1.19" fill="#78c83c"/><circle cx="187.09" cy="662.67" r="1.03" fill="#4aa82c"/><circle cx="375.79" cy="491.42" r="0.65" fill="#78c83c"/><circle cx="351.29" cy="678.3" r="1.02" fill="#78c83c"/><circle cx="266.29" cy="701.28" r="0.67" fill="#5eb832"/><circle cx="302.63" cy="706.53" r="0.62" fill="#3a8f28"/><circle cx="396.6" cy="563.99" r="0.61" fill="#3a8f28"/><circle cx="367.98" cy="505.49" r="1.18" fill="#5eb832"/><circle cx="333.15" cy="682.66" r="0.64" fill="#5eb832"/><circle cx="401.84" cy="484.67" r="0.62" fill="#5eb832"/><circle cx="224.24" cy="689.49" r="0.79" fill="#78c83c"/><circle cx="256.12" cy="461.85" r="0.98" fill="#5eb832"/><circle cx="290.39" cy="456.37" r="0.68" fill="#5eb832"/><circle cx="344.4" cy="480.99" r="0.93" fill="#78c83c"/><circle cx="385.56" cy="497.84" r="0.97" fill="#78c83c"/><circle cx="178.99" cy="664.49" r="1.14" fill="#78c83c"/><circle cx="301.82" cy="450.67" r="0.93" fill="#4aa82c"/><circle cx="225.35" cy="475.11" r="0.85" fill="#78c83c"/><circle cx="286.62" cy="707.8" r="0.79" fill="#3a8f28"/><circle cx="252.34" cy="459.05" r="0.96" fill="#5eb832"/><circle cx="297.4" cy="454.05" r="0.78" fill="#4aa82c"/><circle cx="397.58" cy="625.83" r="0.93" fill="#5eb832"/><circle cx="339.82" cy="674.62" r="0.7" fill="#5eb832"/><circle cx="366.44" cy="663.06" r="0.78" fill="#3a8f28"/><circle cx="280.39" cy="455.27" r="0.66" fill="#3a8f28"/><circle cx="197.8" cy="684.79" r="0.63" fill="#5eb832"/><circle cx="169.53" cy="504.83" r="0.66" fill="#3a8f28"/><circle cx="412.51" cy="577.28" r="1.11" fill="#78c83c"/><circle cx="306" cy="474.88" r="0.98" fill="#4aa82c"/><circle cx="404" cy="524.92" r="0.66" fill="#78c83c"/><circle cx="138.49" cy="589.54" r="0.79" fill="#78c83c"/><circle cx="376.51" cy="653.62" r="0.73" fill="#3a8f28"/><circle cx="307.29" cy="462.82" r="1.06" fill="#5eb832"/><circle cx="386.88" cy="653.9" r="1.02" fill="#78c83c"/><circle cx="204.69" cy="685.23" r="0.62" fill="#5eb832"/><circle cx="374.01" cy="458.99" r="0.87" fill="#5eb832"/><circle cx="290.22" cy="454.78" r="1.18" fill="#5eb832"/><circle cx="338.82" cy="473.08" r="1.18" fill="#4aa82c"/><circle cx="391.65" cy="652.47" r="1.01" fill="#3a8f28"/><circle cx="278.55" cy="459.07" r="1.18" fill="#5eb832"/><circle cx="415.09" cy="598.79" r="1.12" fill="#3a8f28"/><circle cx="384.51" cy="509.95" r="1.03" fill="#3a8f28"/><circle cx="289.64" cy="454.74" r="1.01" fill="#5eb832"/><circle cx="403.12" cy="522.01" r="0.79" fill="#78c83c"/><circle cx="167.66" cy="650.62" r="0.82" fill="#3a8f28"/><circle cx="337.2" cy="457.88" r="0.74" fill="#5eb832"/><circle cx="157.97" cy="502.73" r="0.91" fill="#3a8f28"/><circle cx="390.9" cy="480.53" r="1.08" fill="#3a8f28"/><circle cx="305.3" cy="680.25" r="0.78" fill="#3a8f28"/><circle cx="142.16" cy="599.78" r="0.81" fill="#78c83c"/><circle cx="371.7" cy="497.41" r="0.62" fill="#4aa82c"/><circle cx="378.77" cy="624.95" r="0.93" fill="#4aa82c"/><circle cx="234.53" cy="460.59" r="0.78" fill="#4aa82c"/><circle cx="294.66" cy="453.91" r="0.95" fill="#78c83c"/><circle cx="291.69" cy="701.29" r="0.81" fill="#3a8f28"/><circle cx="388.41" cy="642.07" r="0.91" fill="#3a8f28"/><circle cx="387.94" cy="490.89" r="1.15" fill="#5eb832"/><circle cx="142.46" cy="526.78" r="0.85" fill="#5eb832"/><circle cx="300.11" cy="460.29" r="0.73" fill="#78c83c"/><circle cx="340.89" cy="475.25" r="0.65" fill="#5eb832"/><circle cx="274.19" cy="456.88" r="0.75" fill="#5eb832"/><circle cx="375.73" cy="657.79" r="1.05" fill="#3a8f28"/><circle cx="344.62" cy="682.08" r="1.04" fill="#4aa82c"/><circle cx="412.12" cy="529.27" r="0.8" fill="#4aa82c"/><circle cx="392.45" cy="634.12" r="1.18" fill="#5eb832"/><circle cx="392.16" cy="494.48" r="0.78" fill="#4aa82c"/><circle cx="197.14" cy="676.89" r="0.64" fill="#4aa82c"/><circle cx="414.26" cy="520.03" r="0.64" fill="#5eb832"/><circle cx="288.95" cy="458.84" r="0.83" fill="#4aa82c"/><circle cx="154.36" cy="611.15" r="0.63" fill="#3a8f28"/><circle cx="344.88" cy="645.17" r="1.02" fill="#5eb832"/><circle cx="348.41" cy="490.18" r="1.13" fill="#5eb832"/><circle cx="390.52" cy="589.41" r="0.85" fill="#5eb832"/><circle cx="366.47" cy="678.93" r="0.63" fill="#78c83c"/><circle cx="393.02" cy="512.88" r="1" fill="#4aa82c"/><circle cx="187.15" cy="686.18" r="0.61" fill="#3a8f28"/><circle cx="179.24" cy="686.72" r="0.86" fill="#3a8f28"/><circle cx="395.13" cy="610.84" r="1.09" fill="#5eb832"/><circle cx="397.27" cy="520.26" r="0.72" fill="#78c83c"/><circle cx="322.25" cy="687.95" r="0.68" fill="#3a8f28"/><circle cx="135.79" cy="564.62" r="0.81" fill="#78c83c"/><circle cx="209.89" cy="461.94" r="1.12" fill="#4aa82c"/><circle cx="144.54" cy="596.41" r="1.08" fill="#5eb832"/><circle cx="275.81" cy="462.02" r="1.19" fill="#5eb832"/><circle cx="240.35" cy="469.02" r="1.16" fill="#3a8f28"/><circle cx="372.49" cy="504.23" r="1.13" fill="#3a8f28"/><circle cx="410.12" cy="595.26" r="0.95" fill="#78c83c"/><circle cx="405.06" cy="625.55" r="0.89" fill="#5eb832"/><circle cx="255.39" cy="693.73" r="0.61" fill="#78c83c"/><circle cx="147.62" cy="637.97" r="0.95" fill="#5eb832"/><circle cx="414.02" cy="570.45" r="0.7" fill="#5eb832"/><circle cx="187.81" cy="494.54" r="1.17" fill="#5eb832"/><circle cx="337.18" cy="692.14" r="0.66" fill="#4aa82c"/><circle cx="403.93" cy="596.7" r="0.77" fill="#5eb832"/><circle cx="167.88" cy="523.7" r="0.69" fill="#3a8f28"/><circle cx="218.25" cy="689.17" r="1.03" fill="#78c83c"/><circle cx="268.33" cy="703.13" r="1.15" fill="#3a8f28"/><circle cx="241.56" cy="457.85" r="0.93" fill="#78c83c"/><circle cx="147.45" cy="559.16" r="1.14" fill="#78c83c"/><circle cx="172.53" cy="526.77" r="1.04" fill="#5eb832"/><circle cx="290.63" cy="456.98" r="0.83" fill="#5eb832"/><circle cx="276.4" cy="461.45" r="0.61" fill="#78c83c"/><circle cx="133.04" cy="598.08" r="0.84" fill="#78c83c"/><circle cx="362.23" cy="670.95" r="0.74" fill="#4aa82c"/><circle cx="330.7" cy="667.61" r="1.15" fill="#5eb832"/><circle cx="343.88" cy="471.49" r="1.15" fill="#5eb832"/><circle cx="288.27" cy="458.68" r="1.1" fill="#78c83c"/><circle cx="235.11" cy="467.66" r="0.75" fill="#78c83c"/><circle cx="252.46" cy="705.45" r="1.2" fill="#78c83c"/><circle cx="371.98" cy="478.47" r="0.94" fill="#3a8f28"/><circle cx="297.1" cy="695.78" r="1.13" fill="#5eb832"/><circle cx="184.82" cy="666.42" r="1.15" fill="#78c83c"/><circle cx="132.35" cy="615.51" r="0.94" fill="#3a8f28"/><circle cx="363.06" cy="467.7" r="1.16" fill="#4aa82c"/><circle cx="272.46" cy="462.05" r="0.75" fill="#78c83c"/><circle cx="404.29" cy="618.7" r="0.89" fill="#5eb832"/><circle cx="407.75" cy="608.43" r="0.89" fill="#3a8f28"/><circle cx="273.6" cy="458.52" r="0.78" fill="#78c83c"/><circle cx="133.72" cy="556.84" r="0.86" fill="#3a8f28"/><circle cx="186.41" cy="486.9" r="0.77" fill="#4aa82c"/><circle cx="152.64" cy="632.74" r="1.18" fill="#3a8f28"/><circle cx="136.63" cy="625.11" r="1.17" fill="#5eb832"/><circle cx="376.92" cy="513.56" r="0.78" fill="#3a8f28"/><circle cx="394.65" cy="599.7" r="1.03" fill="#78c83c"/><circle cx="319.54" cy="682.72" r="0.97" fill="#4aa82c"/><circle cx="392.47" cy="646.1" r="1.19" fill="#78c83c"/><circle cx="357.82" cy="669.01" r="0.73" fill="#78c83c"/><circle cx="420.01" cy="578.89" r="0.93" fill="#4aa82c"/><circle cx="191.62" cy="678.55" r="1.02" fill="#5eb832"/><circle cx="316.01" cy="448.6" r="0.79" fill="#3a8f28"/><circle cx="355.75" cy="683.16" r="0.7" fill="#5eb832"/><circle cx="152.87" cy="539.49" r="1.18" fill="#3a8f28"/><circle cx="366.74" cy="658.6" r="0.64" fill="#3a8f28"/><circle cx="402.71" cy="592.63" r="1" fill="#5eb832"/><circle cx="345.83" cy="695.39" r="0.67" fill="#3a8f28"/><circle cx="387.14" cy="490.16" r="0.6" fill="#78c83c"/><circle cx="286.1" cy="456.01" r="0.91" fill="#5eb832"/><circle cx="406.71" cy="531.43" r="1.01" fill="#3a8f28"/><circle cx="367.86" cy="661.3" r="0.87" fill="#5eb832"/><circle cx="389.37" cy="618.93" r="0.66" fill="#5eb832"/><circle cx="400.22" cy="604.05" r="1.06" fill="#4aa82c"/><circle cx="335.22" cy="462.48" r="0.72" fill="#4aa82c"/><circle cx="290.12" cy="458.96" r="0.7" fill="#3a8f28"/><circle cx="149.43" cy="538" r="0.92" fill="#5eb832"/><circle cx="287.46" cy="457.35" r="1.06" fill="#78c83c"/><circle cx="380.39" cy="651.5" r="0.96" fill="#3a8f28"/><circle cx="409.14" cy="566.33" r="0.78" fill="#4aa82c"/><circle cx="161.61" cy="515.71" r="0.93" fill="#5eb832"/><circle cx="415.6" cy="546.89" r="1.11" fill="#3a8f28"/><circle cx="158.91" cy="625.84" r="0.82" fill="#4aa82c"/><circle cx="265.78" cy="724.05" r="1.01" fill="#3a8f28"/><circle cx="323.13" cy="463.41" r="0.68" fill="#5eb832"/><circle cx="297.13" cy="455.51" r="0.73" fill="#4aa82c"/><circle cx="402.25" cy="546.56" r="1" fill="#78c83c"/><circle cx="308.66" cy="704.14" r="1.04" fill="#5eb832"/><circle cx="225.99" cy="473.2" r="1.09" fill="#4aa82c"/><circle cx="267.7" cy="716.24" r="0.75" fill="#3a8f28"/><circle cx="354.67" cy="663.65" r="0.88" fill="#5eb832"/><circle cx="365.27" cy="501.95" r="0.65" fill="#3a8f28"/><circle cx="140.89" cy="610.25" r="0.82" fill="#5eb832"/><circle cx="402.67" cy="610.65" r="1.11" fill="#4aa82c"/><circle cx="331.94" cy="468.9" r="0.77" fill="#78c83c"/><circle cx="244.2" cy="470.25" r="0.64" fill="#78c83c"/><circle cx="326.8" cy="472.28" r="1.13" fill="#3a8f28"/><circle cx="396.78" cy="653.92" r="0.86" fill="#78c83c"/><circle cx="307.87" cy="447.99" r="0.77" fill="#4aa82c"/><circle cx="265.9" cy="710.2" r="0.87" fill="#3a8f28"/><circle cx="362.8" cy="522.67" r="0.81" fill="#78c83c"/><circle cx="173.85" cy="664.41" r="0.66" fill="#3a8f28"/><circle cx="236.36" cy="718.83" r="0.79" fill="#5eb832"/><circle cx="280.7" cy="457.88" r="1.16" fill="#78c83c"/><circle cx="137.85" cy="628.38" r="0.86" fill="#4aa82c"/><circle cx="398.93" cy="587.63" r="0.73" fill="#4aa82c"/><circle cx="199.35" cy="693.7" r="0.99" fill="#5eb832"/><circle cx="344.3" cy="673.26" r="1.02" fill="#78c83c"/><circle cx="342.87" cy="674.21" r="1.13" fill="#5eb832"/><circle cx="139.76" cy="555.94" r="0.67" fill="#3a8f28"/><circle cx="374.87" cy="656.74" r="0.84" fill="#4aa82c"/><circle cx="147.79" cy="575.96" r="0.7" fill="#5eb832"/><circle cx="419.07" cy="564.42" r="1.19" fill="#3a8f28"/><circle cx="399.43" cy="574.79" r="0.83" fill="#3a8f28"/><circle cx="147.51" cy="641.07" r="0.8" fill="#5eb832"/><circle cx="142.76" cy="623.88" r="0.65" fill="#3a8f28"/><circle cx="292.76" cy="456.53" r="0.89" fill="#5eb832"/><circle cx="296.92" cy="453.36" r="1.09" fill="#4aa82c"/><circle cx="348.11" cy="483.23" r="0.77" fill="#4aa82c"/><circle cx="304.4" cy="455.59" r="1.06" fill="#4aa82c"/><circle cx="385.1" cy="508.38" r="0.69" fill="#5eb832"/><circle cx="309.14" cy="462.38" r="0.62" fill="#3a8f28"/><circle cx="274.76" cy="455.65" r="0.62" fill="#5eb832"/><circle cx="316.01" cy="456.17" r="0.86" fill="#78c83c"/><circle cx="141.42" cy="547.99" r="0.93" fill="#4aa82c"/><circle cx="406.26" cy="612.4" r="1.15" fill="#4aa82c"/><circle cx="142.72" cy="563.85" r="1.08" fill="#4aa82c"/><circle cx="226.58" cy="477.93" r="1.12" fill="#4aa82c"/><circle cx="156.28" cy="628.85" r="0.67" fill="#5eb832"/><circle cx="375.16" cy="496.37" r="0.7" fill="#5eb832"/><circle cx="403.53" cy="503.61" r="0.66" fill="#78c83c"/><circle cx="297.45" cy="457.23" r="0.89" fill="#3a8f28"/><circle cx="176.96" cy="486.43" r="0.97" fill="#78c83c"/><circle cx="327.56" cy="661.66" r="1.01" fill="#78c83c"/><circle cx="317.95" cy="686.34" r="0.78" fill="#3a8f28"/><circle cx="412.26" cy="518.94" r="0.64" fill="#5eb832"/><circle cx="354.77" cy="655.54" r="0.92" fill="#78c83c"/><circle cx="155.3" cy="548.11" r="0.64" fill="#78c83c"/><circle cx="188.12" cy="491.04" r="0.78" fill="#3a8f28"/><circle cx="252.15" cy="719.05" r="0.86" fill="#78c83c"/><circle cx="291.16" cy="700.51" r="1.19" fill="#78c83c"/><circle cx="405.78" cy="628.17" r="0.77" fill="#5eb832"/><circle cx="316.55" cy="686.72" r="0.84" fill="#4aa82c"/><circle cx="229.94" cy="479.96" r="0.73" fill="#4aa82c"/><circle cx="310.63" cy="691.02" r="0.68" fill="#3a8f28"/><circle cx="142.38" cy="608.55" r="0.96" fill="#4aa82c"/><circle cx="137.62" cy="568.34" r="1.15" fill="#5eb832"/><circle cx="140.24" cy="618.13" r="0.74" fill="#3a8f28"/><circle cx="308.3" cy="672.05" r="0.8" fill="#4aa82c"/><circle cx="310.29" cy="703.64" r="0.89" fill="#78c83c"/><circle cx="321.2" cy="700.7" r="1.02" fill="#4aa82c"/><circle cx="405.2" cy="599.48" r="0.77" fill="#3a8f28"/><circle cx="372.42" cy="497.58" r="0.94" fill="#78c83c"/><circle cx="389.17" cy="623.18" r="0.65" fill="#5eb832"/><circle cx="143.9" cy="552.24" r="0.71" fill="#4aa82c"/><circle cx="228.09" cy="703.22" r="0.77" fill="#4aa82c"/><circle cx="195.32" cy="482.99" r="0.6" fill="#4aa82c"/>
<g filter="url(#speck)" fill="#78c83c">
<circle cx="270" cy="460" r="3.5"/>
<circle cx="267.75" cy="460.4" r="3.7"/>
<circle cx="265.23" cy="460.8" r="3.9"/>
<circle cx="262.48" cy="461.22" r="4.1"/>
<circle cx="259.54" cy="461.68" r="4.3"/>
<circle cx="256.44" cy="462.19" r="4.5"/>
<circle cx="253.22" cy="462.76" r="4.7"/>
<circle cx="249.93" cy="463.41" r="4.9"/>
<circle cx="246.61" cy="464.16" r="5.1"/>
<circle cx="243.28" cy="465.02" r="5.3"/>
<circle cx="240" cy="466" r="5.5"/>
<circle cx="236.67" cy="467.11" r="5.55"/>
<circle cx="233.21" cy="468.33" r="5.6"/>
<circle cx="229.65" cy="469.65" r="5.65"/>
<circle cx="226.02" cy="471.06" r="5.7"/>
<circle cx="222.38" cy="472.56" r="5.75"/>
<circle cx="218.74" cy="474.14" r="5.8"/>
<circle cx="215.14" cy="475.78" r="5.85"/>
<circle cx="211.63" cy="477.47" r="5.9"/>
<circle cx="208.24" cy="479.22" r="5.95"/>
<circle cx="205" cy="481" r="6"/>
<circle cx="201.88" cy="482.83" r="6.05"/>
<circle cx="198.82" cy="484.74" r="6.1"/>
<circle cx="195.83" cy="486.7" r="6.15"/>
<circle cx="192.91" cy="488.73" r="6.2"/>
<circle cx="190.06" cy="490.81" r="6.25"/>
<circle cx="187.29" cy="492.95" r="6.3"/>
<circle cx="184.59" cy="495.14" r="6.35"/>
<circle cx="181.98" cy="497.38" r="6.4"/>
<circle cx="179.44" cy="499.67" r="6.45"/>
<circle cx="177" cy="502" r="6.5"/>
<circle cx="174.64" cy="504.38" r="6.35"/>
<circle cx="172.36" cy="506.82" r="6.2"/>
<circle cx="170.16" cy="509.31" r="6.05"/>
<circle cx="168.04" cy="511.85" r="5.9"/>
<circle cx="166" cy="514.44" r="5.75"/>
<circle cx="164.04" cy="517.07" r="5.6"/>
<circle cx="162.16" cy="519.75" r="5.45"/>
<circle cx="160.36" cy="522.46" r="5.3"/>
<circle cx="158.64" cy="525.22" r="5.15"/>
<circle cx="157" cy="528" r="5"/>
<circle cx="155.44" cy="530.83" r="4.95"/>
<circle cx="153.98" cy="533.71" r="4.9"/>
<circle cx="152.59" cy="536.64" r="4.85"/>
<circle cx="151.29" cy="539.62" r="4.8"/>
<circle cx="150.06" cy="542.62" r="4.75"/>
<circle cx="148.91" cy="545.66" r="4.7"/>
<circle cx="147.83" cy="548.73" r="4.65"/>
<circle cx="146.82" cy="551.81" r="4.6"/>
<circle cx="145.88" cy="554.9" r="4.55"/>
<circle cx="145" cy="558" r="4.5"/>
<circle cx="144.16" cy="561.11" r="4.4"/>
<circle cx="143.36" cy="564.24" r="4.3"/>
<circle cx="142.61" cy="567.39" r="4.2"/>
<circle cx="141.92" cy="570.56" r="4.1"/>
<circle cx="141.31" cy="573.75" r="4"/>
<circle cx="140.8" cy="576.96" r="3.9"/>
<circle cx="140.4" cy="580.19" r="3.8"/>
<circle cx="140.12" cy="583.44" r="3.7"/>
<circle cx="139.98" cy="586.71" r="3.6"/>
<circle cx="140" cy="590" r="3.5"/>
<circle cx="140.16" cy="593.33" r="3.65"/>
<circle cx="140.46" cy="596.72" r="3.8"/>
<circle cx="140.87" cy="600.15" r="3.95"/>
<circle cx="141.41" cy="603.6" r="4.1"/>
<circle cx="142.06" cy="607.06" r="4.25"/>
<circle cx="142.83" cy="610.52" r="4.4"/>
<circle cx="143.71" cy="613.96" r="4.55"/>
<circle cx="144.7" cy="617.36" r="4.7"/>
<circle cx="145.8" cy="620.71" r="4.85"/>
<circle cx="147" cy="624" r="5"/>
<circle cx="148.31" cy="627.25" r="5.25"/>
<circle cx="149.74" cy="630.49" r="5.5"/>
<circle cx="151.28" cy="633.71" r="5.75"/>
<circle cx="152.93" cy="636.9" r="6"/>
<circle cx="154.69" cy="640.06" r="6.25"/>
<circle cx="156.55" cy="643.18" r="6.5"/>
<circle cx="158.52" cy="646.24" r="6.75"/>
<circle cx="160.58" cy="649.23" r="7"/>
<circle cx="162.75" cy="652.16" r="7.25"/>
<circle cx="165" cy="655" r="7.5"/>
<circle cx="167.38" cy="657.77" r="7.6"/>
<circle cx="169.9" cy="660.5" r="7.7"/>
<circle cx="172.54" cy="663.16" r="7.8"/>
<circle cx="175.29" cy="665.77" r="7.9"/>
<circle cx="178.12" cy="668.31" r="8"/>
<circle cx="181.03" cy="670.79" r="8.1"/>
<circle cx="183.99" cy="673.2" r="8.2"/>
<circle cx="186.98" cy="675.54" r="8.3"/>
<circle cx="189.99" cy="677.81" r="8.4"/>
<circle cx="193" cy="680" r="8.5"/>
<circle cx="196.05" cy="682.12" r="8.45"/>
<circle cx="199.18" cy="684.18" r="8.4"/>
<circle cx="202.37" cy="686.17" r="8.35"/>
<circle cx="205.61" cy="688.09" r="8.3"/>
<circle cx="208.88" cy="689.94" r="8.25"/>
<circle cx="212.15" cy="691.71" r="8.2"/>
<circle cx="215.42" cy="693.41" r="8.15"/>
<circle cx="218.66" cy="695.02" r="8.1"/>
<circle cx="221.86" cy="696.56" r="8.05"/>
<circle cx="225" cy="698" r="8"/>
<circle cx="228.06" cy="699.39" r="7.9"/>
<circle cx="231.05" cy="700.75" r="7.8"/>
<circle cx="233.99" cy="702.06" r="7.7"/>
<circle cx="236.9" cy="703.3" r="7.6"/>
<circle cx="239.81" cy="704.44" r="7.5"/>
<circle cx="242.74" cy="705.46" r="7.4"/>
<circle cx="245.7" cy="706.35" r="7.3"/>
<circle cx="248.71" cy="707.09" r="7.2"/>
<circle cx="251.81" cy="707.64" r="7.1"/>
<circle cx="255" cy="708" r="7"/>
<circle cx="258.32" cy="708.13" r="6.75"/>
<circle cx="261.74" cy="708.06" r="6.5"/>
<circle cx="265.26" cy="707.79" r="6.25"/>
<circle cx="268.83" cy="707.37" r="6"/>
<circle cx="272.44" cy="706.81" r="5.75"/>
<circle cx="276.05" cy="706.15" r="5.5"/>
<circle cx="279.64" cy="705.41" r="5.25"/>
<circle cx="283.18" cy="704.62" r="5"/>
<circle cx="286.64" cy="703.81" r="4.75"/>
<circle cx="290" cy="703" r="4.5"/>
<circle cx="293.27" cy="702.16" r="4.7"/>
<circle cx="296.49" cy="701.23" r="4.9"/>
<circle cx="299.66" cy="700.24" r="5.1"/>
<circle cx="302.78" cy="699.18" r="5.3"/>
<circle cx="305.88" cy="698.06" r="5.5"/>
<circle cx="308.94" cy="696.9" r="5.7"/>
<circle cx="311.97" cy="695.71" r="5.9"/>
<circle cx="314.99" cy="694.49" r="6.1"/>
<circle cx="318" cy="693.25" r="6.3"/>
<circle cx="321" cy="692" r="6.5"/>
<circle cx="324" cy="690.74" r="6.55"/>
<circle cx="326.99" cy="689.46" r="6.6"/>
<circle cx="329.97" cy="688.15" r="6.65"/>
<circle cx="332.94" cy="686.81" r="6.7"/>
<circle cx="335.88" cy="685.44" r="6.75"/>
<circle cx="338.78" cy="684.03" r="6.8"/>
<circle cx="341.66" cy="682.59" r="6.85"/>
<circle cx="344.49" cy="681.1" r="6.9"/>
<circle cx="347.27" cy="679.58" r="6.95"/>
<circle cx="350" cy="678" r="7"/>
<circle cx="352.7" cy="676.38" r="6.95"/>
<circle cx="355.38" cy="674.72" r="6.9"/>
<circle cx="358.05" cy="673.02" r="6.85"/>
<circle cx="360.67" cy="671.28" r="6.8"/>
<circle cx="363.25" cy="669.5" r="6.75"/>
<circle cx="365.77" cy="667.68" r="6.7"/>
<circle cx="368.21" cy="665.82" r="6.65"/>
<circle cx="370.58" cy="663.92" r="6.6"/>
<circle cx="372.84" cy="661.98" r="6.55"/>
<circle cx="375" cy="660" r="6.5"/>
<circle cx="377.06" cy="657.97" r="6.4"/>
<circle cx="379.04" cy="655.89" r="6.3"/>
<circle cx="380.94" cy="653.76" r="6.2"/>
<circle cx="382.76" cy="651.58" r="6.1"/>
<circle cx="384.5" cy="649.38" r="6"/>
<circle cx="386.16" cy="647.14" r="5.9"/>
<circle cx="387.74" cy="644.87" r="5.8"/>
<circle cx="389.24" cy="642.59" r="5.7"/>
<circle cx="390.66" cy="640.3" r="5.6"/>
<circle cx="392" cy="638" r="5.5"/>
<circle cx="393.25" cy="635.68" r="5.4"/>
<circle cx="394.41" cy="633.33" r="5.3"/>
<circle cx="395.48" cy="630.95" r="5.2"/>
<circle cx="396.46" cy="628.54" r="5.1"/>
<circle cx="397.38" cy="626.12" r="5"/>
<circle cx="398.22" cy="623.7" r="4.9"/>
<circle cx="398.99" cy="621.26" r="4.8"/>
<circle cx="399.71" cy="618.83" r="4.7"/>
<circle cx="400.38" cy="616.41" r="4.6"/>
<circle cx="401" cy="614" r="4.5"/>
<circle cx="401.54" cy="611.64" r="4.2"/>
<circle cx="401.97" cy="609.36" r="3.9"/>
<circle cx="402.31" cy="607.12" r="3.6"/>
<circle cx="402.58" cy="604.88" r="3.3"/>
<circle cx="402.81" cy="602.62" r="3"/>
<circle cx="403.02" cy="600.32" r="2.7"/>
<circle cx="403.22" cy="597.94" r="2.4"/>
<circle cx="403.43" cy="595.44" r="2.1"/>
<circle cx="403.69" cy="592.8" r="1.8"/>
<circle cx="404" cy="590" r="1.5"/>
<circle cx="404.4" cy="586.98" r="1.95"/>
<circle cx="404.9" cy="583.74" r="2.4"/>
<circle cx="405.44" cy="580.35" r="2.85"/>
<circle cx="406.01" cy="576.83" r="3.3"/>
<circle cx="406.56" cy="573.25" r="3.75"/>
<circle cx="407.07" cy="569.65" r="4.2"/>
<circle cx="407.5" cy="566.07" r="4.65"/>
<circle cx="407.82" cy="562.58" r="5.1"/>
<circle cx="408" cy="559.2" r="5.55"/>
<circle cx="408" cy="556" r="6"/>
<circle cx="407.85" cy="552.93" r="5.85"/>
<circle cx="407.58" cy="549.94" r="5.7"/>
<circle cx="407.22" cy="547" r="5.55"/>
<circle cx="406.75" cy="544.13" r="5.4"/>
<circle cx="406.19" cy="541.31" r="5.25"/>
<circle cx="405.53" cy="538.55" r="5.1"/>
<circle cx="404.78" cy="535.84" r="4.95"/>
<circle cx="403.94" cy="533.18" r="4.8"/>
<circle cx="403.01" cy="530.57" r="4.65"/>
<circle cx="402" cy="528" r="4.5"/>
<circle cx="400.89" cy="525.48" r="4.95"/>
<circle cx="399.67" cy="523.03" r="5.4"/>
<circle cx="398.35" cy="520.64" r="5.85"/>
<circle cx="396.94" cy="518.3" r="6.3"/>
<circle cx="395.44" cy="516" r="6.75"/>
<circle cx="393.86" cy="513.74" r="7.2"/>
<circle cx="392.22" cy="511.52" r="7.65"/>
<circle cx="390.53" cy="509.33" r="8.1"/>
<circle cx="388.78" cy="507.16" r="8.55"/>
<circle cx="387" cy="505" r="9"/>
<circle cx="385.17" cy="502.86" r="9.2"/>
<circle cx="383.26" cy="500.74" r="9.4"/>
<circle cx="381.3" cy="498.65" r="9.6"/>
<circle cx="379.27" cy="496.59" r="9.8"/>
<circle cx="377.19" cy="494.56" r="10"/>
<circle cx="375.05" cy="492.57" r="10.2"/>
<circle cx="372.86" cy="490.61" r="10.4"/>
<circle cx="370.62" cy="488.7" r="10.6"/>
<circle cx="368.33" cy="486.82" r="10.8"/>
<circle cx="366" cy="485" r="11"/>
<circle cx="363.61" cy="483.22" r="10.3"/>
<circle cx="361.14" cy="481.48" r="9.6"/>
<circle cx="358.6" cy="479.78" r="8.9"/>
<circle cx="356.01" cy="478.12" r="8.2"/>
<circle cx="353.38" cy="476.5" r="7.5"/>
<circle cx="350.71" cy="474.92" r="6.8"/>
<circle cx="348.03" cy="473.38" r="6.1"/>
<circle cx="345.34" cy="471.88" r="5.4"/>
<circle cx="342.66" cy="470.42" r="4.7"/>
<circle cx="340" cy="469" r="4"/>
<circle cx="337.3" cy="467.59" r="4.1"/>
<circle cx="334.5" cy="466.18" r="4.2"/>
<circle cx="331.66" cy="464.79" r="4.3"/>
<circle cx="328.79" cy="463.43" r="4.4"/>
<circle cx="325.94" cy="462.12" r="4.5"/>
<circle cx="323.13" cy="460.89" r="4.6"/>
<circle cx="320.4" cy="459.74" r="4.7"/>
<circle cx="317.78" cy="458.7" r="4.8"/>
<circle cx="315.3" cy="457.78" r="4.9"/>
<circle cx="313" cy="457" r="5"/>
<circle cx="310.88" cy="456.37" r="4.5"/>
<circle cx="308.91" cy="455.88" r="4"/>
<circle cx="307.07" cy="455.51" r="3.5"/>
<circle cx="305.34" cy="455.24" r="3"/>
<circle cx="303.69" cy="455.06" r="2.5"/>
<circle cx="302.1" cy="454.96" r="2"/>
<circle cx="300.56" cy="454.92" r="1.5"/>
<circle cx="277.92" cy="458.68" r="1.4"/>
<circle cx="277" cy="458.81" r="1.75"/>
<circle cx="276" cy="458.96" r="2.1"/>
<circle cx="274.86" cy="459.14" r="2.45"/>
<circle cx="273.52" cy="459.36" r="2.8"/>
<circle cx="271.92" cy="459.64" r="3.15"/>
</g>
<g filter="url(#speck2)">
<ellipse cx="321" cy="485" rx="6" ry="3.5" fill="#e8261e"/>
<ellipse cx="173.5" cy="545.6" rx="4.5" ry="4.5" fill="#e8261e"/>
<ellipse cx="313.5" cy="550.6" rx="6" ry="7.5" fill="#e8261e"/>
<ellipse cx="385" cy="556" rx="4.5" ry="6.5" fill="#e8261e"/>
<ellipse cx="257" cy="599" rx="7" ry="5" fill="#e8261e"/>
<ellipse cx="345" cy="617" rx="7" ry="6" fill="#e8261e"/>
<ellipse cx="198.5" cy="639" rx="6.5" ry="6.5" fill="#e8261e"/>
<ellipse cx="251.7" cy="681" rx="6" ry="7" fill="#e8261e"/>
<path d="M338 611 Q350 606 358 609 Q368 613 371 617 Q358 620 350 623 Q341 627 338 620 Z" fill="#e8261e" filter="url(#blur05)"/>
<ellipse cx="244" cy="492" rx="4" ry="2" fill="#e8261e" opacity="0.6"/>
<circle cx="359.81" cy="608.66" r="0.75" fill="#e8261e"/><circle cx="342.24" cy="622.67" r="0.54" fill="#b01c16"/><circle cx="352.38" cy="626.75" r="0.75" fill="#b01c16"/><circle cx="353.03" cy="630.6" r="0.65" fill="#b01c16"/><circle cx="354.25" cy="610.94" r="0.89" fill="#b01c16"/><circle cx="350.03" cy="620.27" r="0.84" fill="#b01c16"/><circle cx="359.4" cy="618.65" r="0.67" fill="#e8261e"/><circle cx="335.67" cy="618.14" r="0.6" fill="#b01c16"/><circle cx="356.49" cy="610.41" r="0.72" fill="#e8261e"/><circle cx="349.18" cy="611.98" r="0.67" fill="#b01c16"/><circle cx="363.17" cy="613.86" r="0.61" fill="#e8261e"/><circle cx="367.38" cy="614.19" r="0.86" fill="#b01c16"/><circle cx="350.94" cy="602.8" r="0.64" fill="#e8261e"/><circle cx="347.93" cy="619.65" r="0.82" fill="#b01c16"/><circle cx="342.75" cy="615.38" r="0.68" fill="#b01c16"/><circle cx="357.86" cy="607.56" r="0.65" fill="#b01c16"/><circle cx="349.21" cy="606.54" r="0.85" fill="#b01c16"/><circle cx="348.77" cy="618.83" r="0.73" fill="#e8261e"/><circle cx="343.48" cy="614.49" r="0.54" fill="#b01c16"/><circle cx="335.24" cy="616.35" r="0.69" fill="#e8261e"/><circle cx="356.49" cy="617.21" r="0.8" fill="#e8261e"/><circle cx="334.27" cy="612.89" r="0.82" fill="#b01c16"/><circle cx="366.44" cy="612.14" r="0.84" fill="#b01c16"/><circle cx="353.07" cy="610.48" r="0.54" fill="#b01c16"/><circle cx="357.92" cy="610.51" r="0.85" fill="#e8261e"/><circle cx="346.37" cy="600" r="0.68" fill="#e8261e"/><circle cx="366.07" cy="612.72" r="0.77" fill="#e8261e"/><circle cx="346.02" cy="605.15" r="0.77" fill="#e8261e"/><circle cx="362.06" cy="613.05" r="0.68" fill="#e8261e"/><circle cx="353.59" cy="605.09" r="0.73" fill="#b01c16"/><circle cx="341.68" cy="620.73" r="0.67" fill="#b01c16"/><circle cx="357.88" cy="618.43" r="0.72" fill="#e8261e"/><circle cx="346.07" cy="602.65" r="0.62" fill="#e8261e"/><circle cx="344.2" cy="609.14" r="0.56" fill="#b01c16"/><circle cx="355.74" cy="609.24" r="0.7" fill="#e8261e"/><circle cx="352.38" cy="616.83" r="0.57" fill="#e8261e"/><circle cx="348.43" cy="605.21" r="0.71" fill="#b01c16"/><circle cx="348.75" cy="605.64" r="0.84" fill="#e8261e"/><circle cx="363.38" cy="613.47" r="0.56" fill="#b01c16"/><circle cx="344.71" cy="624.77" r="0.66" fill="#e8261e"/><circle cx="360.45" cy="618.94" r="0.63" fill="#b01c16"/><circle cx="358.23" cy="625.1" r="0.58" fill="#e8261e"/><circle cx="338.17" cy="611.56" r="0.8" fill="#e8261e"/><circle cx="361.73" cy="620.82" r="0.89" fill="#e8261e"/><circle cx="361.38" cy="630.07" r="0.74" fill="#e8261e"/><circle cx="352.16" cy="606.78" r="0.77" fill="#b01c16"/><circle cx="346.16" cy="615.33" r="0.7" fill="#e8261e"/><circle cx="350.67" cy="617.24" r="0.71" fill="#b01c16"/><circle cx="352.01" cy="620.04" r="0.68" fill="#e8261e"/><circle cx="342.88" cy="616.16" r="0.76" fill="#e8261e"/><circle cx="349.82" cy="611.31" r="0.83" fill="#e8261e"/><circle cx="360.89" cy="618.3" r="0.74" fill="#b01c16"/><circle cx="339.94" cy="621.12" r="0.88" fill="#b01c16"/><circle cx="342.45" cy="621.11" r="0.87" fill="#b01c16"/><circle cx="351.94" cy="617.34" r="0.63" fill="#b01c16"/><circle cx="361.61" cy="612.55" r="0.61" fill="#b01c16"/><circle cx="348.69" cy="610.47" r="0.83" fill="#b01c16"/><circle cx="341.53" cy="612.93" r="0.82" fill="#b01c16"/><circle cx="353.2" cy="610.04" r="0.52" fill="#e8261e"/><circle cx="346.25" cy="616.12" r="0.78" fill="#e8261e"/>
</g>
</svg>
<svg x="466" y="411" width="370" height="345.5" viewBox="466 411 370 345.5" overflow="hidden">
<circle cx="628.28" cy="433.31" r="0.76" fill="#3aa032"/><circle cx="626.27" cy="464.04" r="0.53" fill="#2f8a2a"/><circle cx="632.51" cy="480.5" r="0.53" fill="#2f8a2a"/><circle cx="620.2" cy="512.4" r="0.8" fill="#2a7a26"/><circle cx="625.09" cy="489.31" r="0.6" fill="#46b03a"/><circle cx="630.42" cy="453.33" r="0.69" fill="#3aa032"/><circle cx="625.71" cy="456" r="0.85" fill="#46b03a"/><circle cx="626.72" cy="439.33" r="0.6" fill="#3aa032"/><circle cx="626.93" cy="459.46" r="0.89" fill="#3aa032"/><circle cx="615.37" cy="487.01" r="0.68" fill="#2f8a2a"/><circle cx="628.94" cy="481.37" r="0.63" fill="#46b03a"/><circle cx="626.62" cy="430.28" r="0.86" fill="#2f8a2a"/><circle cx="632.86" cy="465.01" r="0.71" fill="#2f8a2a"/><circle cx="628.93" cy="472.55" r="0.81" fill="#46b03a"/><circle cx="613.33" cy="457.82" r="0.62" fill="#2a7a26"/><circle cx="621.28" cy="449.82" r="0.88" fill="#2a7a26"/><circle cx="618.14" cy="456.69" r="0.63" fill="#2f8a2a"/><circle cx="640.07" cy="450.65" r="0.85" fill="#3aa032"/><circle cx="622.83" cy="519.46" r="0.9" fill="#2a7a26"/><circle cx="632.42" cy="475.01" r="0.82" fill="#3aa032"/><circle cx="630.38" cy="463.41" r="0.69" fill="#46b03a"/><circle cx="634.18" cy="474.39" r="0.64" fill="#3aa032"/><circle cx="602.45" cy="485.29" r="0.81" fill="#2f8a2a"/><circle cx="618.61" cy="514.68" r="0.68" fill="#46b03a"/><circle cx="620.15" cy="477.12" r="0.69" fill="#46b03a"/><circle cx="616.09" cy="485.28" r="0.9" fill="#2a7a26"/><circle cx="622.93" cy="452.2" r="0.57" fill="#2f8a2a"/><circle cx="631.94" cy="452.04" r="0.8" fill="#3aa032"/><circle cx="620.77" cy="475.14" r="0.7" fill="#2f8a2a"/><circle cx="645.45" cy="448.04" r="0.67" fill="#2f8a2a"/><circle cx="636.06" cy="471.43" r="0.68" fill="#2f8a2a"/><circle cx="625.44" cy="491.82" r="0.64" fill="#3aa032"/><circle cx="626.3" cy="464.89" r="0.66" fill="#2a7a26"/><circle cx="631.91" cy="469.19" r="0.85" fill="#46b03a"/><circle cx="623.39" cy="463.57" r="0.87" fill="#2f8a2a"/><circle cx="626.9" cy="472.35" r="0.76" fill="#46b03a"/><circle cx="635.98" cy="477.62" r="0.87" fill="#2a7a26"/><circle cx="617.81" cy="499.5" r="0.63" fill="#46b03a"/><circle cx="630.88" cy="419.34" r="0.59" fill="#2a7a26"/><circle cx="616.45" cy="503.03" r="0.5" fill="#46b03a"/><circle cx="625.76" cy="484.2" r="0.58" fill="#46b03a"/><circle cx="632.67" cy="493.02" r="0.76" fill="#46b03a"/><circle cx="627.82" cy="491.83" r="0.82" fill="#3aa032"/><circle cx="614.83" cy="461.05" r="0.82" fill="#2a7a26"/><circle cx="631.5" cy="457.95" r="0.79" fill="#3aa032"/><circle cx="620.41" cy="464.5" r="0.83" fill="#46b03a"/><circle cx="639.76" cy="473.48" r="0.88" fill="#46b03a"/><circle cx="624.52" cy="479.08" r="0.89" fill="#46b03a"/><circle cx="624.77" cy="444.33" r="0.77" fill="#2f8a2a"/><circle cx="633.03" cy="465.29" r="0.58" fill="#2a7a26"/><circle cx="626.98" cy="481.58" r="0.65" fill="#2f8a2a"/><circle cx="630.97" cy="481.49" r="0.62" fill="#3aa032"/><circle cx="632.33" cy="450.7" r="0.76" fill="#3aa032"/><circle cx="631.33" cy="426.81" r="0.51" fill="#2f8a2a"/><circle cx="615.99" cy="449.11" r="0.59" fill="#46b03a"/><circle cx="631.48" cy="470.77" r="0.63" fill="#3aa032"/><circle cx="625.57" cy="474.33" r="0.79" fill="#46b03a"/><circle cx="626.67" cy="458.8" r="0.82" fill="#3aa032"/><circle cx="635.6" cy="479.86" r="0.68" fill="#3aa032"/><circle cx="624.27" cy="468.39" r="0.54" fill="#3aa032"/><circle cx="628.74" cy="432.97" r="0.89" fill="#2f8a2a"/><circle cx="619.96" cy="457.62" r="0.57" fill="#2f8a2a"/><circle cx="625.49" cy="481.41" r="0.81" fill="#3aa032"/><circle cx="624.97" cy="476.18" r="0.78" fill="#3aa032"/><circle cx="616.26" cy="491.83" r="0.66" fill="#46b03a"/><circle cx="625.73" cy="476.53" r="0.59" fill="#2f8a2a"/><circle cx="625.88" cy="489.7" r="0.65" fill="#2a7a26"/><circle cx="626.88" cy="471.57" r="0.64" fill="#2a7a26"/><circle cx="633.72" cy="445.62" r="0.86" fill="#2a7a26"/><circle cx="629.61" cy="481.42" r="0.81" fill="#46b03a"/><circle cx="628.82" cy="483.02" r="0.61" fill="#2f8a2a"/><circle cx="630.99" cy="490.06" r="0.57" fill="#2f8a2a"/><circle cx="626.77" cy="483.7" r="0.56" fill="#46b03a"/><circle cx="615.49" cy="454.19" r="0.63" fill="#2a7a26"/><circle cx="621.95" cy="469.97" r="0.67" fill="#2a7a26"/><circle cx="624.64" cy="477.38" r="0.88" fill="#2f8a2a"/><circle cx="628.74" cy="483.77" r="0.78" fill="#46b03a"/><circle cx="619.22" cy="481.26" r="0.87" fill="#2a7a26"/><circle cx="630.74" cy="461.93" r="0.69" fill="#46b03a"/><circle cx="628.61" cy="486.5" r="0.53" fill="#2f8a2a"/><circle cx="623.14" cy="467.27" r="0.51" fill="#46b03a"/><circle cx="621.63" cy="477.07" r="0.64" fill="#46b03a"/><circle cx="626.1" cy="467.43" r="0.76" fill="#3aa032"/><circle cx="626.28" cy="496.31" r="0.61" fill="#2a7a26"/><circle cx="619.5" cy="488.52" r="0.79" fill="#3aa032"/><circle cx="627.77" cy="456.32" r="0.74" fill="#2f8a2a"/><circle cx="622.58" cy="474.91" r="0.65" fill="#46b03a"/><circle cx="627.53" cy="431.08" r="0.64" fill="#46b03a"/><circle cx="626.7" cy="462.72" r="0.79" fill="#46b03a"/><circle cx="631.61" cy="478.17" r="0.78" fill="#3aa032"/>
<circle cx="567.95" cy="491.6" r="0.87" fill="#2f8a2a"/><circle cx="533.17" cy="527.39" r="0.59" fill="#2f8a2a"/><circle cx="568.79" cy="503.83" r="0.77" fill="#46b03a"/><circle cx="564.57" cy="527.61" r="0.5" fill="#46b03a"/><circle cx="546.21" cy="512.95" r="0.7" fill="#2f8a2a"/><circle cx="560.74" cy="522.76" r="0.9" fill="#2a7a26"/><circle cx="558.27" cy="530.59" r="0.67" fill="#2a7a26"/><circle cx="551.46" cy="510.3" r="0.73" fill="#46b03a"/><circle cx="570.89" cy="539.09" r="0.6" fill="#2a7a26"/><circle cx="580.97" cy="522.86" r="0.65" fill="#46b03a"/><circle cx="547.29" cy="514.88" r="0.87" fill="#2a7a26"/><circle cx="554.24" cy="514.13" r="0.8" fill="#2a7a26"/><circle cx="578.91" cy="520.26" r="0.68" fill="#46b03a"/><circle cx="580.76" cy="517.49" r="0.59" fill="#2a7a26"/><circle cx="546.28" cy="501.25" r="0.7" fill="#3aa032"/><circle cx="567.98" cy="511.38" r="0.51" fill="#2f8a2a"/><circle cx="573.02" cy="508.26" r="0.56" fill="#46b03a"/><circle cx="562.9" cy="512.35" r="0.82" fill="#2f8a2a"/><circle cx="569.56" cy="498.81" r="0.58" fill="#2f8a2a"/><circle cx="552.65" cy="526.51" r="0.55" fill="#2f8a2a"/><circle cx="604.21" cy="509.06" r="0.83" fill="#46b03a"/><circle cx="559.66" cy="522.97" r="0.55" fill="#3aa032"/><circle cx="587.44" cy="515.84" r="0.64" fill="#2f8a2a"/><circle cx="561.62" cy="514.51" r="0.66" fill="#2a7a26"/><circle cx="550.75" cy="515.14" r="0.57" fill="#46b03a"/><circle cx="567.39" cy="520.11" r="0.83" fill="#2f8a2a"/><circle cx="580.75" cy="513.45" r="0.62" fill="#3aa032"/><circle cx="583.81" cy="517.05" r="0.86" fill="#2f8a2a"/><circle cx="550.01" cy="533" r="0.56" fill="#2a7a26"/><circle cx="563.14" cy="532.5" r="0.78" fill="#3aa032"/><circle cx="549.55" cy="522.14" r="0.71" fill="#2a7a26"/><circle cx="576.58" cy="521.38" r="0.69" fill="#2a7a26"/><circle cx="548.9" cy="518.41" r="0.9" fill="#2a7a26"/><circle cx="561.28" cy="517.22" r="0.82" fill="#46b03a"/><circle cx="552.27" cy="522.21" r="0.7" fill="#46b03a"/><circle cx="571.08" cy="518.1" r="0.89" fill="#2a7a26"/><circle cx="561.35" cy="535.55" r="0.69" fill="#3aa032"/><circle cx="543.82" cy="511.33" r="0.77" fill="#46b03a"/><circle cx="577.18" cy="508.44" r="0.52" fill="#46b03a"/><circle cx="558.67" cy="500.83" r="0.79" fill="#46b03a"/><circle cx="560.01" cy="502.02" r="0.77" fill="#2f8a2a"/><circle cx="559.04" cy="485.17" r="0.55" fill="#2f8a2a"/><circle cx="588.03" cy="497.42" r="0.83" fill="#3aa032"/><circle cx="576.31" cy="511.22" r="0.87" fill="#46b03a"/><circle cx="595.35" cy="498.66" r="0.64" fill="#46b03a"/><circle cx="544.55" cy="497.74" r="0.7" fill="#2f8a2a"/><circle cx="575.24" cy="515.16" r="0.74" fill="#3aa032"/><circle cx="584.76" cy="480.5" r="0.64" fill="#2a7a26"/><circle cx="531.36" cy="528.86" r="0.65" fill="#2f8a2a"/><circle cx="570.86" cy="523.73" r="0.74" fill="#3aa032"/><circle cx="542.19" cy="526.15" r="0.56" fill="#3aa032"/><circle cx="552.01" cy="501.61" r="0.61" fill="#3aa032"/><circle cx="557.26" cy="534.7" r="0.88" fill="#2f8a2a"/><circle cx="556" cy="532.44" r="0.65" fill="#2f8a2a"/><circle cx="573.93" cy="509.02" r="0.7" fill="#2a7a26"/><circle cx="545.86" cy="535.89" r="0.84" fill="#46b03a"/><circle cx="564.24" cy="497.28" r="0.54" fill="#2a7a26"/><circle cx="574.36" cy="505.63" r="0.9" fill="#2a7a26"/><circle cx="559.74" cy="508.89" r="0.84" fill="#2f8a2a"/><circle cx="568.96" cy="501.74" r="0.79" fill="#2f8a2a"/><circle cx="550.71" cy="525.77" r="0.77" fill="#2f8a2a"/><circle cx="577.77" cy="516.52" r="0.81" fill="#3aa032"/><circle cx="575.52" cy="496.47" r="0.84" fill="#2a7a26"/><circle cx="551.42" cy="520.43" r="0.89" fill="#2f8a2a"/><circle cx="563.38" cy="503.48" r="0.76" fill="#2f8a2a"/><circle cx="560.17" cy="530.88" r="0.88" fill="#3aa032"/><circle cx="570.62" cy="524.86" r="0.56" fill="#46b03a"/><circle cx="576.25" cy="515.76" r="0.84" fill="#3aa032"/><circle cx="564.42" cy="512.68" r="0.8" fill="#2a7a26"/><circle cx="575.95" cy="521.36" r="0.89" fill="#2a7a26"/><circle cx="581.86" cy="511.2" r="0.81" fill="#46b03a"/><circle cx="582.39" cy="500.83" r="0.85" fill="#46b03a"/><circle cx="565.61" cy="509.99" r="0.5" fill="#2a7a26"/><circle cx="561.25" cy="530.16" r="0.51" fill="#2f8a2a"/><circle cx="557.24" cy="513.74" r="0.51" fill="#46b03a"/><circle cx="575.89" cy="506.63" r="0.53" fill="#2a7a26"/><circle cx="568.74" cy="527.97" r="0.79" fill="#46b03a"/><circle cx="556.34" cy="507.15" r="0.78" fill="#2f8a2a"/><circle cx="562.1" cy="529.56" r="0.54" fill="#3aa032"/><circle cx="538.15" cy="512.34" r="0.56" fill="#2f8a2a"/><circle cx="555.83" cy="528.08" r="0.66" fill="#2a7a26"/><circle cx="560.23" cy="538.17" r="0.81" fill="#2a7a26"/><circle cx="570.61" cy="546.41" r="0.67" fill="#2a7a26"/><circle cx="585.34" cy="507.4" r="0.63" fill="#3aa032"/><circle cx="569.3" cy="517.32" r="0.82" fill="#2f8a2a"/><circle cx="590.91" cy="510.74" r="0.64" fill="#2f8a2a"/><circle cx="559.67" cy="528.19" r="0.56" fill="#3aa032"/><circle cx="557.19" cy="506.81" r="0.8" fill="#2f8a2a"/><circle cx="545.89" cy="522.28" r="0.73" fill="#2a7a26"/><circle cx="578.64" cy="519.31" r="0.87" fill="#46b03a"/>
<circle cx="601.24" cy="540.99" r="0.75" fill="#3aa032"/><circle cx="612.97" cy="559.09" r="0.58" fill="#3aa032"/><circle cx="631.35" cy="537.69" r="0.55" fill="#2a7a26"/><circle cx="642.82" cy="529.08" r="0.7" fill="#2a7a26"/><circle cx="614.49" cy="530.69" r="0.61" fill="#46b03a"/><circle cx="632.17" cy="503.22" r="0.9" fill="#3aa032"/><circle cx="634.09" cy="500.08" r="0.83" fill="#46b03a"/><circle cx="630.47" cy="528.57" r="0.59" fill="#46b03a"/><circle cx="647.76" cy="515.81" r="0.51" fill="#2a7a26"/><circle cx="639.8" cy="532.7" r="0.53" fill="#2a7a26"/><circle cx="660.72" cy="532.26" r="0.59" fill="#2a7a26"/><circle cx="627.66" cy="556.18" r="0.54" fill="#46b03a"/><circle cx="621.06" cy="522.88" r="0.76" fill="#2f8a2a"/><circle cx="617.88" cy="537.99" r="0.57" fill="#3aa032"/><circle cx="628.56" cy="504.33" r="0.8" fill="#2f8a2a"/><circle cx="643.17" cy="524.89" r="0.58" fill="#46b03a"/><circle cx="637.59" cy="521.93" r="0.6" fill="#2a7a26"/><circle cx="627.34" cy="537.78" r="0.7" fill="#3aa032"/><circle cx="625.6" cy="536.89" r="0.69" fill="#2a7a26"/><circle cx="620.24" cy="516.3" r="0.84" fill="#2f8a2a"/><circle cx="646.42" cy="527.3" r="0.7" fill="#2f8a2a"/><circle cx="653" cy="516.06" r="0.66" fill="#3aa032"/><circle cx="643.38" cy="520.9" r="0.55" fill="#3aa032"/><circle cx="622.66" cy="542.26" r="0.67" fill="#2a7a26"/><circle cx="613" cy="547.06" r="0.57" fill="#2a7a26"/><circle cx="634.21" cy="528.73" r="0.84" fill="#2f8a2a"/><circle cx="617.29" cy="526.37" r="0.59" fill="#2a7a26"/><circle cx="641.22" cy="518.77" r="0.62" fill="#2a7a26"/><circle cx="632.53" cy="511.1" r="0.63" fill="#3aa032"/><circle cx="638.35" cy="505.46" r="0.69" fill="#2f8a2a"/><circle cx="640.07" cy="512.21" r="0.66" fill="#2a7a26"/><circle cx="657.21" cy="519.9" r="0.56" fill="#2a7a26"/><circle cx="623.68" cy="539.98" r="0.85" fill="#2f8a2a"/><circle cx="644.44" cy="532.57" r="0.87" fill="#3aa032"/><circle cx="628.01" cy="512.71" r="0.57" fill="#2f8a2a"/><circle cx="637.37" cy="523.75" r="0.54" fill="#2f8a2a"/><circle cx="642.18" cy="532.39" r="0.59" fill="#2a7a26"/><circle cx="649.91" cy="517.36" r="0.87" fill="#2a7a26"/><circle cx="652.47" cy="523.01" r="0.52" fill="#46b03a"/><circle cx="658.8" cy="534.04" r="0.56" fill="#3aa032"/><circle cx="625.73" cy="529.75" r="0.7" fill="#2a7a26"/><circle cx="639.42" cy="521.78" r="0.61" fill="#46b03a"/><circle cx="638.48" cy="513.52" r="0.55" fill="#2a7a26"/><circle cx="633.02" cy="524.53" r="0.8" fill="#3aa032"/><circle cx="655.34" cy="501.52" r="0.75" fill="#2f8a2a"/><circle cx="647.49" cy="510.68" r="0.78" fill="#2f8a2a"/><circle cx="625.83" cy="522.05" r="0.53" fill="#46b03a"/><circle cx="652.72" cy="502.87" r="0.86" fill="#2f8a2a"/><circle cx="659.45" cy="521.78" r="0.78" fill="#46b03a"/><circle cx="627.06" cy="528.58" r="0.85" fill="#3aa032"/><circle cx="633.65" cy="528.48" r="0.73" fill="#2f8a2a"/><circle cx="662.36" cy="513.64" r="0.57" fill="#3aa032"/><circle cx="622.21" cy="532.3" r="0.86" fill="#3aa032"/><circle cx="631.32" cy="506.1" r="0.8" fill="#2a7a26"/><circle cx="628.12" cy="518.23" r="0.88" fill="#3aa032"/><circle cx="622.68" cy="534.72" r="0.81" fill="#2a7a26"/><circle cx="650.77" cy="532.73" r="0.56" fill="#3aa032"/><circle cx="628.25" cy="523.25" r="0.65" fill="#2a7a26"/><circle cx="640.41" cy="523.46" r="0.59" fill="#2a7a26"/><circle cx="632.2" cy="514.93" r="0.89" fill="#2a7a26"/><circle cx="644.11" cy="534.35" r="0.81" fill="#2a7a26"/><circle cx="629.03" cy="538.01" r="0.71" fill="#3aa032"/><circle cx="645.54" cy="543.5" r="0.69" fill="#2a7a26"/><circle cx="619.44" cy="530.45" r="0.8" fill="#2f8a2a"/><circle cx="608.11" cy="565.28" r="0.51" fill="#46b03a"/><circle cx="652.05" cy="516.82" r="0.71" fill="#2f8a2a"/><circle cx="630.92" cy="550.8" r="0.87" fill="#3aa032"/><circle cx="632.81" cy="509.96" r="0.88" fill="#2a7a26"/><circle cx="641.94" cy="506.62" r="0.8" fill="#46b03a"/><circle cx="661.29" cy="532.53" r="0.65" fill="#2a7a26"/><circle cx="654.42" cy="528.06" r="0.59" fill="#2a7a26"/><circle cx="632.42" cy="527.5" r="0.68" fill="#2f8a2a"/><circle cx="643.07" cy="523.12" r="0.61" fill="#2a7a26"/><circle cx="633.15" cy="533.25" r="0.58" fill="#46b03a"/><circle cx="640.79" cy="527.2" r="0.72" fill="#2a7a26"/><circle cx="642.86" cy="512.74" r="0.64" fill="#46b03a"/><circle cx="627.59" cy="523.51" r="0.66" fill="#2a7a26"/><circle cx="641.64" cy="509.63" r="0.81" fill="#3aa032"/><circle cx="636.54" cy="539.33" r="0.52" fill="#2f8a2a"/><circle cx="642.43" cy="532.86" r="0.86" fill="#2a7a26"/><circle cx="629.66" cy="522.75" r="0.83" fill="#2a7a26"/><circle cx="632.4" cy="540.01" r="0.58" fill="#46b03a"/><circle cx="656.09" cy="537.52" r="0.71" fill="#2a7a26"/><circle cx="640.98" cy="535.09" r="0.55" fill="#2a7a26"/><circle cx="654.99" cy="518.96" r="0.57" fill="#2a7a26"/><circle cx="621.66" cy="514.13" r="0.69" fill="#2f8a2a"/><circle cx="642.71" cy="528.64" r="0.57" fill="#46b03a"/><circle cx="638.37" cy="522.01" r="0.54" fill="#2a7a26"/><circle cx="633.41" cy="528.38" r="0.57" fill="#3aa032"/><circle cx="634.72" cy="528.31" r="0.87" fill="#46b03a"/>
<circle cx="618.77" cy="554.98" r="0.81" fill="#3aa032"/><circle cx="611.12" cy="570.31" r="0.71" fill="#46b03a"/><circle cx="603.37" cy="571.99" r="0.78" fill="#2a7a26"/><circle cx="603.92" cy="549.2" r="0.74" fill="#2f8a2a"/><circle cx="617.58" cy="553.66" r="0.83" fill="#46b03a"/><circle cx="598.14" cy="561.32" r="0.58" fill="#46b03a"/><circle cx="590.36" cy="569.4" r="0.6" fill="#2f8a2a"/><circle cx="589.8" cy="567.65" r="0.75" fill="#3aa032"/><circle cx="607.11" cy="577.86" r="0.81" fill="#3aa032"/><circle cx="589.74" cy="571.09" r="0.69" fill="#2f8a2a"/><circle cx="596.03" cy="573.54" r="0.67" fill="#2f8a2a"/><circle cx="591.63" cy="551.62" r="0.6" fill="#2a7a26"/><circle cx="603.01" cy="571.74" r="0.54" fill="#46b03a"/><circle cx="587.72" cy="573.59" r="0.56" fill="#3aa032"/><circle cx="586.11" cy="569.72" r="0.7" fill="#2a7a26"/><circle cx="588.26" cy="573.2" r="0.73" fill="#46b03a"/><circle cx="601.79" cy="551.05" r="0.55" fill="#2f8a2a"/><circle cx="608.97" cy="554.26" r="0.68" fill="#2f8a2a"/><circle cx="593.84" cy="566.01" r="0.64" fill="#2f8a2a"/><circle cx="587.49" cy="579.02" r="0.55" fill="#2f8a2a"/><circle cx="589.75" cy="590.77" r="0.89" fill="#2f8a2a"/><circle cx="608.6" cy="578.72" r="0.86" fill="#3aa032"/><circle cx="586.38" cy="568.61" r="0.85" fill="#2f8a2a"/><circle cx="617.42" cy="574.88" r="0.68" fill="#2f8a2a"/><circle cx="591.86" cy="550.82" r="0.79" fill="#46b03a"/><circle cx="618.68" cy="550.89" r="0.89" fill="#3aa032"/><circle cx="624.65" cy="556.97" r="0.8" fill="#3aa032"/><circle cx="611.71" cy="557.91" r="0.8" fill="#2f8a2a"/><circle cx="610.56" cy="585.55" r="0.56" fill="#46b03a"/><circle cx="585.02" cy="589.94" r="0.74" fill="#2a7a26"/><circle cx="590.02" cy="567.12" r="0.69" fill="#46b03a"/><circle cx="609.41" cy="553.17" r="0.76" fill="#2f8a2a"/><circle cx="605.71" cy="577.68" r="0.74" fill="#2a7a26"/><circle cx="615.6" cy="564.9" r="0.86" fill="#2f8a2a"/><circle cx="594.56" cy="578.88" r="0.56" fill="#2f8a2a"/><circle cx="592.5" cy="585.42" r="0.53" fill="#3aa032"/><circle cx="588.6" cy="566.72" r="0.59" fill="#2f8a2a"/><circle cx="591.13" cy="556.69" r="0.85" fill="#46b03a"/><circle cx="592.96" cy="574.23" r="0.75" fill="#46b03a"/><circle cx="608.48" cy="563.15" r="0.58" fill="#2f8a2a"/><circle cx="606.28" cy="564.86" r="0.55" fill="#2a7a26"/><circle cx="601.39" cy="575.51" r="0.63" fill="#2a7a26"/><circle cx="603.33" cy="569.64" r="0.72" fill="#2a7a26"/><circle cx="598.52" cy="574" r="0.53" fill="#2a7a26"/><circle cx="584.98" cy="568.91" r="0.85" fill="#2a7a26"/><circle cx="607.17" cy="561.5" r="0.6" fill="#2a7a26"/><circle cx="602.5" cy="564.62" r="0.54" fill="#2a7a26"/><circle cx="613.89" cy="566.15" r="0.78" fill="#46b03a"/><circle cx="626.72" cy="547.98" r="0.64" fill="#46b03a"/><circle cx="590.96" cy="577.98" r="0.61" fill="#3aa032"/><circle cx="598.84" cy="568.62" r="0.85" fill="#46b03a"/><circle cx="626.3" cy="546.77" r="0.83" fill="#2f8a2a"/><circle cx="566.8" cy="560.19" r="0.7" fill="#2a7a26"/><circle cx="587.49" cy="576.67" r="0.51" fill="#2f8a2a"/><circle cx="599.61" cy="563.36" r="0.62" fill="#46b03a"/><circle cx="580.74" cy="566.4" r="0.7" fill="#2a7a26"/><circle cx="610.05" cy="562.4" r="0.68" fill="#2a7a26"/><circle cx="584.5" cy="572.97" r="0.78" fill="#3aa032"/><circle cx="598.91" cy="569.81" r="0.57" fill="#2f8a2a"/><circle cx="580.71" cy="577.57" r="0.86" fill="#3aa032"/><circle cx="607.45" cy="564.77" r="0.76" fill="#2f8a2a"/><circle cx="602.63" cy="572.91" r="0.87" fill="#3aa032"/><circle cx="611.23" cy="564.59" r="0.71" fill="#2a7a26"/><circle cx="620.25" cy="561.44" r="0.77" fill="#46b03a"/><circle cx="610.79" cy="552.92" r="0.83" fill="#3aa032"/><circle cx="580.69" cy="587.36" r="0.76" fill="#2a7a26"/><circle cx="615.89" cy="568.35" r="0.63" fill="#46b03a"/><circle cx="622.55" cy="565.56" r="0.9" fill="#46b03a"/><circle cx="592.28" cy="572.45" r="0.79" fill="#2f8a2a"/><circle cx="612.91" cy="557.74" r="0.55" fill="#2a7a26"/><circle cx="578.09" cy="567.22" r="0.67" fill="#2f8a2a"/><circle cx="577.14" cy="561.65" r="0.55" fill="#3aa032"/><circle cx="584.37" cy="565.44" r="0.64" fill="#2f8a2a"/><circle cx="572.06" cy="578.65" r="0.58" fill="#46b03a"/><circle cx="607.41" cy="567.3" r="0.61" fill="#46b03a"/><circle cx="602.04" cy="559.77" r="0.56" fill="#46b03a"/><circle cx="604.02" cy="569.86" r="0.75" fill="#46b03a"/><circle cx="608.97" cy="561.85" r="0.61" fill="#46b03a"/><circle cx="617.52" cy="556.89" r="0.88" fill="#2f8a2a"/><circle cx="553.27" cy="585.92" r="0.8" fill="#3aa032"/><circle cx="623.92" cy="557.19" r="0.63" fill="#46b03a"/><circle cx="587.79" cy="576.37" r="0.79" fill="#2f8a2a"/><circle cx="613.78" cy="563.05" r="0.52" fill="#3aa032"/><circle cx="589.51" cy="578.11" r="0.74" fill="#3aa032"/><circle cx="611.31" cy="551.18" r="0.58" fill="#2f8a2a"/><circle cx="591.25" cy="586.55" r="0.81" fill="#3aa032"/><circle cx="584.66" cy="574.96" r="0.75" fill="#2f8a2a"/><circle cx="581.28" cy="595.45" r="0.62" fill="#2f8a2a"/><circle cx="595.65" cy="566.3" r="0.63" fill="#2a7a26"/><circle cx="602.71" cy="567.79" r="0.86" fill="#2f8a2a"/>
<circle cx="536.57" cy="637.14" r="0.76" fill="#3aa032"/><circle cx="553.62" cy="635.09" r="0.55" fill="#46b03a"/><circle cx="534.33" cy="631.75" r="0.66" fill="#2a7a26"/><circle cx="534.43" cy="636.2" r="0.53" fill="#3aa032"/><circle cx="550.95" cy="638.17" r="0.68" fill="#2f8a2a"/><circle cx="529.81" cy="621.59" r="0.84" fill="#3aa032"/><circle cx="554.1" cy="622.93" r="0.5" fill="#2f8a2a"/><circle cx="570.3" cy="651.3" r="0.64" fill="#46b03a"/><circle cx="559.9" cy="645.48" r="0.56" fill="#46b03a"/><circle cx="560.54" cy="641.51" r="0.77" fill="#2a7a26"/><circle cx="555.17" cy="628.71" r="0.62" fill="#2a7a26"/><circle cx="534.84" cy="614.05" r="0.71" fill="#3aa032"/><circle cx="531.75" cy="629.86" r="0.84" fill="#2f8a2a"/><circle cx="534.57" cy="658.96" r="0.63" fill="#3aa032"/><circle cx="541.15" cy="620.8" r="0.72" fill="#2f8a2a"/><circle cx="559.38" cy="628.15" r="0.56" fill="#2f8a2a"/><circle cx="547.2" cy="638.27" r="0.73" fill="#3aa032"/><circle cx="550.69" cy="637.92" r="0.53" fill="#3aa032"/><circle cx="553.33" cy="641.26" r="0.53" fill="#3aa032"/><circle cx="560.13" cy="625" r="0.64" fill="#46b03a"/><circle cx="562.97" cy="639.29" r="0.55" fill="#3aa032"/><circle cx="529.97" cy="619.68" r="0.88" fill="#46b03a"/><circle cx="563.27" cy="615.24" r="0.88" fill="#3aa032"/><circle cx="516.8" cy="609.02" r="0.78" fill="#2f8a2a"/><circle cx="536.87" cy="630.83" r="0.83" fill="#46b03a"/><circle cx="524.11" cy="641.52" r="0.7" fill="#3aa032"/><circle cx="547.05" cy="644.88" r="0.5" fill="#2f8a2a"/><circle cx="555.78" cy="638.76" r="0.61" fill="#3aa032"/><circle cx="547.93" cy="626.41" r="0.75" fill="#3aa032"/><circle cx="557.85" cy="630.08" r="0.79" fill="#46b03a"/><circle cx="544.77" cy="650.81" r="0.7" fill="#2f8a2a"/><circle cx="534.52" cy="648.1" r="0.82" fill="#2a7a26"/><circle cx="505.83" cy="619.14" r="0.61" fill="#2f8a2a"/><circle cx="522.21" cy="638.63" r="0.75" fill="#46b03a"/><circle cx="542.22" cy="626.94" r="0.5" fill="#3aa032"/><circle cx="539.48" cy="634.17" r="0.62" fill="#46b03a"/><circle cx="564.32" cy="641.47" r="0.7" fill="#2f8a2a"/><circle cx="523.59" cy="621.96" r="0.6" fill="#46b03a"/><circle cx="564.37" cy="630.89" r="0.78" fill="#3aa032"/><circle cx="550.26" cy="639.26" r="0.88" fill="#3aa032"/><circle cx="511.61" cy="655.89" r="0.79" fill="#2a7a26"/><circle cx="549.74" cy="641.94" r="0.66" fill="#46b03a"/><circle cx="506.45" cy="627.06" r="0.88" fill="#2a7a26"/><circle cx="531.04" cy="637.47" r="0.89" fill="#46b03a"/><circle cx="562.28" cy="631.48" r="0.71" fill="#3aa032"/><circle cx="535.08" cy="646.2" r="0.89" fill="#2f8a2a"/><circle cx="537.8" cy="623.06" r="0.77" fill="#2a7a26"/><circle cx="548.34" cy="619.16" r="0.88" fill="#3aa032"/><circle cx="552.36" cy="630.05" r="0.61" fill="#3aa032"/><circle cx="543.89" cy="636.51" r="0.72" fill="#46b03a"/><circle cx="555.21" cy="620.49" r="0.6" fill="#2f8a2a"/><circle cx="555.93" cy="644.14" r="0.77" fill="#2f8a2a"/><circle cx="551.66" cy="629.97" r="0.9" fill="#2f8a2a"/><circle cx="547.69" cy="637.05" r="0.73" fill="#2f8a2a"/><circle cx="552.84" cy="645.93" r="0.56" fill="#2a7a26"/><circle cx="553.33" cy="630.66" r="0.64" fill="#2a7a26"/><circle cx="545.69" cy="635.67" r="0.71" fill="#2a7a26"/><circle cx="544.42" cy="633.14" r="0.72" fill="#46b03a"/><circle cx="565.97" cy="627.45" r="0.65" fill="#46b03a"/><circle cx="558.41" cy="603.7" r="0.63" fill="#46b03a"/><circle cx="545.72" cy="638.07" r="0.54" fill="#3aa032"/><circle cx="551.01" cy="631.04" r="0.88" fill="#2a7a26"/><circle cx="550.65" cy="628.49" r="0.58" fill="#2a7a26"/><circle cx="537.81" cy="638.32" r="0.68" fill="#2a7a26"/><circle cx="554" cy="629.66" r="0.66" fill="#2f8a2a"/><circle cx="552.37" cy="621.97" r="0.84" fill="#3aa032"/><circle cx="528.01" cy="637.15" r="0.56" fill="#2f8a2a"/><circle cx="558.17" cy="632.64" r="0.66" fill="#2a7a26"/><circle cx="535.13" cy="627.06" r="0.82" fill="#46b03a"/><circle cx="581.24" cy="633.38" r="0.89" fill="#2a7a26"/><circle cx="536.65" cy="645.45" r="0.75" fill="#3aa032"/><circle cx="542.7" cy="620.8" r="0.77" fill="#3aa032"/><circle cx="544.43" cy="649.3" r="0.53" fill="#2a7a26"/><circle cx="543.73" cy="645.25" r="0.88" fill="#2f8a2a"/><circle cx="534.67" cy="643.62" r="0.56" fill="#2a7a26"/><circle cx="573.67" cy="640.52" r="0.73" fill="#2a7a26"/><circle cx="548.82" cy="638.63" r="0.6" fill="#46b03a"/><circle cx="569.9" cy="654.2" r="0.75" fill="#2a7a26"/><circle cx="506.88" cy="623.66" r="0.67" fill="#2f8a2a"/><circle cx="540.89" cy="637.22" r="0.76" fill="#2f8a2a"/><circle cx="547.66" cy="633.71" r="0.51" fill="#3aa032"/><circle cx="540.29" cy="631.1" r="0.61" fill="#46b03a"/><circle cx="552.42" cy="620.26" r="0.75" fill="#2f8a2a"/><circle cx="511.96" cy="625.32" r="0.82" fill="#3aa032"/><circle cx="552.42" cy="634" r="0.7" fill="#2f8a2a"/><circle cx="550.29" cy="639.26" r="0.67" fill="#3aa032"/><circle cx="558.57" cy="627.09" r="0.75" fill="#2a7a26"/><circle cx="555.79" cy="640.92" r="0.61" fill="#46b03a"/><circle cx="532.87" cy="629.03" r="0.81" fill="#2a7a26"/><circle cx="539.82" cy="616.72" r="0.57" fill="#2f8a2a"/>
<circle cx="717.52" cy="612.41" r="0.85" fill="#3aa032"/><circle cx="698.26" cy="635.98" r="0.55" fill="#46b03a"/><circle cx="709.56" cy="626.89" r="0.74" fill="#2a7a26"/><circle cx="711.84" cy="647.15" r="0.65" fill="#2f8a2a"/><circle cx="702.06" cy="649.39" r="0.9" fill="#46b03a"/><circle cx="690.47" cy="629.47" r="0.82" fill="#2a7a26"/><circle cx="711.97" cy="631.29" r="0.58" fill="#2a7a26"/><circle cx="724.56" cy="625.62" r="0.76" fill="#2f8a2a"/><circle cx="713" cy="634.95" r="0.58" fill="#2f8a2a"/><circle cx="723.13" cy="616.84" r="0.64" fill="#46b03a"/><circle cx="717.98" cy="631.21" r="0.89" fill="#2a7a26"/><circle cx="715.96" cy="652.21" r="0.84" fill="#46b03a"/><circle cx="710.29" cy="646.79" r="0.57" fill="#2f8a2a"/><circle cx="714.61" cy="621.63" r="0.74" fill="#2f8a2a"/><circle cx="714.75" cy="624.96" r="0.87" fill="#46b03a"/><circle cx="708.54" cy="634.68" r="0.82" fill="#2f8a2a"/><circle cx="716.92" cy="626.4" r="0.89" fill="#2a7a26"/><circle cx="706.84" cy="630.51" r="0.89" fill="#2f8a2a"/><circle cx="710.98" cy="638.8" r="0.79" fill="#2f8a2a"/><circle cx="706.36" cy="645.64" r="0.58" fill="#2f8a2a"/><circle cx="709.04" cy="643.67" r="0.65" fill="#2f8a2a"/><circle cx="713.03" cy="631.53" r="0.74" fill="#46b03a"/><circle cx="715.41" cy="655.48" r="0.63" fill="#2a7a26"/><circle cx="719.05" cy="634.38" r="0.8" fill="#46b03a"/><circle cx="715.2" cy="632.89" r="0.68" fill="#46b03a"/><circle cx="711.2" cy="651.05" r="0.69" fill="#3aa032"/><circle cx="698.89" cy="641.15" r="0.78" fill="#2a7a26"/><circle cx="720.29" cy="636" r="0.68" fill="#2f8a2a"/><circle cx="702.41" cy="660.17" r="0.68" fill="#46b03a"/><circle cx="728.27" cy="634.54" r="0.87" fill="#2a7a26"/><circle cx="713.7" cy="640.52" r="0.6" fill="#2f8a2a"/><circle cx="734.84" cy="626.33" r="0.82" fill="#3aa032"/><circle cx="719.14" cy="637.85" r="0.61" fill="#2f8a2a"/><circle cx="719.1" cy="647.87" r="0.53" fill="#3aa032"/><circle cx="698.19" cy="650.27" r="0.5" fill="#2a7a26"/><circle cx="711.83" cy="645.42" r="0.79" fill="#46b03a"/><circle cx="720.19" cy="622.78" r="0.85" fill="#3aa032"/><circle cx="704.83" cy="657.56" r="0.64" fill="#3aa032"/><circle cx="712.54" cy="643.77" r="0.73" fill="#2f8a2a"/><circle cx="717.61" cy="639.37" r="0.78" fill="#2f8a2a"/><circle cx="699.49" cy="645.37" r="0.65" fill="#3aa032"/><circle cx="692.69" cy="625.02" r="0.79" fill="#2a7a26"/><circle cx="700.49" cy="617.93" r="0.74" fill="#2f8a2a"/><circle cx="709.64" cy="638.61" r="0.77" fill="#2f8a2a"/><circle cx="711.52" cy="648.14" r="0.75" fill="#46b03a"/><circle cx="703.1" cy="660.32" r="0.72" fill="#2a7a26"/><circle cx="701.2" cy="636.2" r="0.6" fill="#3aa032"/><circle cx="703.04" cy="627.53" r="0.87" fill="#2f8a2a"/><circle cx="693.75" cy="653.47" r="0.54" fill="#3aa032"/><circle cx="701.33" cy="648.68" r="0.56" fill="#2a7a26"/><circle cx="720.64" cy="642.66" r="0.58" fill="#3aa032"/><circle cx="733.18" cy="616.47" r="0.8" fill="#3aa032"/><circle cx="702.48" cy="633.01" r="0.83" fill="#2a7a26"/><circle cx="708.25" cy="635.09" r="0.56" fill="#2f8a2a"/><circle cx="719.75" cy="641.14" r="0.57" fill="#3aa032"/><circle cx="694.91" cy="627.96" r="0.73" fill="#3aa032"/><circle cx="722.85" cy="627.45" r="0.7" fill="#3aa032"/><circle cx="707" cy="624.57" r="0.57" fill="#46b03a"/><circle cx="704.09" cy="639.76" r="0.68" fill="#3aa032"/><circle cx="715.99" cy="637.52" r="0.72" fill="#2f8a2a"/><circle cx="706.44" cy="635.41" r="0.54" fill="#2f8a2a"/><circle cx="717.78" cy="652.19" r="0.75" fill="#2f8a2a"/><circle cx="724.15" cy="599.44" r="0.84" fill="#3aa032"/><circle cx="710.01" cy="639.11" r="0.63" fill="#2a7a26"/><circle cx="706.55" cy="616.39" r="0.85" fill="#46b03a"/><circle cx="720.07" cy="617.11" r="0.72" fill="#2a7a26"/><circle cx="692.51" cy="636.04" r="0.69" fill="#46b03a"/><circle cx="714.54" cy="620.5" r="0.78" fill="#2f8a2a"/><circle cx="713.55" cy="641.75" r="0.65" fill="#3aa032"/><circle cx="716.25" cy="639.26" r="0.81" fill="#3aa032"/><circle cx="697.8" cy="643.48" r="0.65" fill="#3aa032"/><circle cx="720.74" cy="602.25" r="0.88" fill="#2a7a26"/><circle cx="697.45" cy="644.54" r="0.64" fill="#2a7a26"/><circle cx="717.64" cy="635.93" r="0.68" fill="#46b03a"/><circle cx="700.27" cy="643.37" r="0.8" fill="#2f8a2a"/><circle cx="696.3" cy="639.41" r="0.52" fill="#2f8a2a"/><circle cx="704.04" cy="640.23" r="0.73" fill="#46b03a"/><circle cx="704.02" cy="633.25" r="0.64" fill="#2f8a2a"/><circle cx="707.01" cy="653.4" r="0.52" fill="#2a7a26"/><circle cx="709.17" cy="640.12" r="0.75" fill="#2a7a26"/><circle cx="714.66" cy="620.76" r="0.74" fill="#2f8a2a"/><circle cx="727.26" cy="613.7" r="0.5" fill="#46b03a"/><circle cx="733.45" cy="642.43" r="0.63" fill="#3aa032"/><circle cx="715.82" cy="634.64" r="0.72" fill="#46b03a"/><circle cx="699.32" cy="658.91" r="0.68" fill="#2a7a26"/><circle cx="706.84" cy="636.99" r="0.51" fill="#2a7a26"/><circle cx="705.8" cy="648.53" r="0.69" fill="#2f8a2a"/><circle cx="726.73" cy="647.14" r="0.8" fill="#2a7a26"/><circle cx="717.88" cy="635.4" r="0.52" fill="#2a7a26"/><circle cx="729.26" cy="632.73" r="0.51" fill="#2f8a2a"/>
<circle cx="775.39" cy="596.64" r="0.84" fill="#2a7a26"/><circle cx="775.54" cy="620.78" r="0.51" fill="#2a7a26"/><circle cx="765.18" cy="610.41" r="0.59" fill="#46b03a"/><circle cx="788.09" cy="603.88" r="0.62" fill="#2f8a2a"/><circle cx="777.03" cy="607.98" r="0.57" fill="#3aa032"/><circle cx="795.41" cy="613.29" r="0.86" fill="#2f8a2a"/><circle cx="772.19" cy="611.77" r="0.51" fill="#3aa032"/><circle cx="782.35" cy="594.61" r="0.55" fill="#3aa032"/><circle cx="790" cy="612.42" r="0.57" fill="#2f8a2a"/><circle cx="777.18" cy="593.63" r="0.78" fill="#2a7a26"/><circle cx="785.06" cy="603.64" r="0.82" fill="#3aa032"/><circle cx="777.68" cy="610.01" r="0.71" fill="#46b03a"/><circle cx="780.24" cy="604.84" r="0.79" fill="#3aa032"/><circle cx="785.15" cy="621.99" r="0.78" fill="#2a7a26"/><circle cx="763.66" cy="594.18" r="0.89" fill="#3aa032"/><circle cx="772.01" cy="607.65" r="0.78" fill="#3aa032"/><circle cx="760.53" cy="612.8" r="0.89" fill="#3aa032"/><circle cx="775.38" cy="583.24" r="0.64" fill="#2a7a26"/><circle cx="781.58" cy="600.33" r="0.5" fill="#3aa032"/><circle cx="775.22" cy="605.11" r="0.79" fill="#3aa032"/><circle cx="771.53" cy="597.73" r="0.54" fill="#46b03a"/><circle cx="777.68" cy="594.85" r="0.73" fill="#3aa032"/><circle cx="765.79" cy="613.93" r="0.9" fill="#3aa032"/><circle cx="778.99" cy="616.87" r="0.74" fill="#3aa032"/><circle cx="782.12" cy="606.39" r="0.82" fill="#2f8a2a"/><circle cx="779.97" cy="600.44" r="0.74" fill="#46b03a"/><circle cx="766.95" cy="581.4" r="0.6" fill="#3aa032"/><circle cx="743.38" cy="617.31" r="0.55" fill="#3aa032"/><circle cx="772.56" cy="605.96" r="0.54" fill="#2a7a26"/><circle cx="777.63" cy="604.96" r="0.51" fill="#2f8a2a"/><circle cx="770.03" cy="614.64" r="0.71" fill="#3aa032"/><circle cx="786.12" cy="612.57" r="0.74" fill="#3aa032"/><circle cx="765.1" cy="616.12" r="0.7" fill="#2f8a2a"/><circle cx="770.37" cy="630.06" r="0.63" fill="#46b03a"/><circle cx="771.52" cy="609.91" r="0.82" fill="#2a7a26"/><circle cx="776.25" cy="604.02" r="0.8" fill="#46b03a"/><circle cx="790.71" cy="587.61" r="0.72" fill="#46b03a"/><circle cx="751.43" cy="593.78" r="0.63" fill="#46b03a"/><circle cx="754.22" cy="605.84" r="0.51" fill="#46b03a"/><circle cx="778.68" cy="606.15" r="0.72" fill="#2a7a26"/><circle cx="767.3" cy="592.52" r="0.89" fill="#3aa032"/><circle cx="770.9" cy="601.82" r="0.74" fill="#2a7a26"/><circle cx="778.78" cy="613.64" r="0.67" fill="#2f8a2a"/><circle cx="767.82" cy="587.08" r="0.9" fill="#2f8a2a"/><circle cx="773.87" cy="593.47" r="0.62" fill="#46b03a"/><circle cx="778.8" cy="610.69" r="0.52" fill="#3aa032"/><circle cx="778.96" cy="608.46" r="0.72" fill="#2f8a2a"/><circle cx="782.58" cy="603.03" r="0.72" fill="#46b03a"/><circle cx="771.02" cy="604.59" r="0.53" fill="#2f8a2a"/><circle cx="764.98" cy="575.91" r="0.5" fill="#46b03a"/><circle cx="782.71" cy="615.25" r="0.72" fill="#3aa032"/><circle cx="797.18" cy="616.58" r="0.59" fill="#2f8a2a"/><circle cx="790.49" cy="597.87" r="0.59" fill="#3aa032"/><circle cx="773.95" cy="597.87" r="0.69" fill="#2f8a2a"/><circle cx="770.14" cy="613.04" r="0.73" fill="#46b03a"/><circle cx="762.12" cy="597.79" r="0.53" fill="#2f8a2a"/><circle cx="782.37" cy="608.74" r="0.82" fill="#2a7a26"/><circle cx="785.01" cy="609.2" r="0.72" fill="#3aa032"/><circle cx="777.76" cy="601.04" r="0.77" fill="#46b03a"/><circle cx="775.23" cy="602.43" r="0.85" fill="#2f8a2a"/><circle cx="765.76" cy="604.57" r="0.61" fill="#46b03a"/><circle cx="775.59" cy="606.36" r="0.66" fill="#2a7a26"/><circle cx="785.21" cy="618.96" r="0.86" fill="#2f8a2a"/><circle cx="779.85" cy="607.54" r="0.79" fill="#3aa032"/><circle cx="772.39" cy="621.18" r="0.75" fill="#46b03a"/><circle cx="783.38" cy="602.78" r="0.9" fill="#2f8a2a"/><circle cx="762.94" cy="587.47" r="0.72" fill="#2f8a2a"/><circle cx="783.99" cy="612.34" r="0.73" fill="#2a7a26"/><circle cx="775.14" cy="616.46" r="0.56" fill="#46b03a"/><circle cx="785.66" cy="606.79" r="0.65" fill="#2a7a26"/><circle cx="771.62" cy="611.91" r="0.61" fill="#3aa032"/><circle cx="768.81" cy="605.39" r="0.54" fill="#3aa032"/><circle cx="778.38" cy="618.31" r="0.77" fill="#46b03a"/><circle cx="780.03" cy="602.08" r="0.81" fill="#46b03a"/><circle cx="773.3" cy="605.15" r="0.68" fill="#46b03a"/><circle cx="770.56" cy="596.47" r="0.87" fill="#46b03a"/><circle cx="763.14" cy="591.18" r="0.63" fill="#2f8a2a"/><circle cx="784.14" cy="617.14" r="0.55" fill="#46b03a"/><circle cx="766.63" cy="591.95" r="0.59" fill="#46b03a"/><circle cx="775.34" cy="604.33" r="0.75" fill="#2a7a26"/><circle cx="767.41" cy="613.56" r="0.74" fill="#3aa032"/><circle cx="773.77" cy="593.79" r="0.77" fill="#2a7a26"/><circle cx="776.34" cy="606.71" r="0.73" fill="#2a7a26"/><circle cx="790.71" cy="593.17" r="0.76" fill="#46b03a"/><circle cx="772.52" cy="607.49" r="0.62" fill="#46b03a"/><circle cx="770.11" cy="600.36" r="0.89" fill="#3aa032"/><circle cx="779.01" cy="607.07" r="0.64" fill="#2a7a26"/><circle cx="774.91" cy="606.61" r="0.87" fill="#3aa032"/><circle cx="784.4" cy="604.23" r="0.65" fill="#2a7a26"/><circle cx="767.05" cy="614.11" r="0.74" fill="#46b03a"/>
<circle cx="679.47" cy="515.74" r="0.8" fill="#46b03a"/><circle cx="680.38" cy="532.12" r="0.52" fill="#46b03a"/><circle cx="691.53" cy="534.34" r="0.72" fill="#2f8a2a"/><circle cx="712.99" cy="521.26" r="0.75" fill="#3aa032"/><circle cx="673.5" cy="527.92" r="0.64" fill="#46b03a"/><circle cx="688.94" cy="526.55" r="0.86" fill="#46b03a"/><circle cx="714.62" cy="535.14" r="0.82" fill="#2a7a26"/><circle cx="687.82" cy="537.07" r="0.65" fill="#2a7a26"/><circle cx="705.41" cy="514.56" r="0.68" fill="#46b03a"/><circle cx="697.83" cy="513.19" r="0.66" fill="#46b03a"/><circle cx="695.06" cy="536.21" r="0.9" fill="#46b03a"/><circle cx="668.04" cy="505.77" r="0.52" fill="#3aa032"/><circle cx="690.76" cy="511.41" r="0.89" fill="#2f8a2a"/><circle cx="693.6" cy="531.63" r="0.61" fill="#3aa032"/><circle cx="692.97" cy="522.08" r="0.66" fill="#3aa032"/><circle cx="717.5" cy="528.64" r="0.74" fill="#3aa032"/><circle cx="687.63" cy="534.55" r="0.53" fill="#3aa032"/><circle cx="694.22" cy="519.12" r="0.72" fill="#2f8a2a"/><circle cx="686.47" cy="528.08" r="0.7" fill="#46b03a"/><circle cx="704.98" cy="525.44" r="0.6" fill="#46b03a"/><circle cx="684.53" cy="523.49" r="0.71" fill="#2f8a2a"/><circle cx="692.87" cy="515.62" r="0.86" fill="#2f8a2a"/><circle cx="689.78" cy="523.72" r="0.52" fill="#46b03a"/><circle cx="705.15" cy="531.69" r="0.83" fill="#3aa032"/><circle cx="693.58" cy="513.16" r="0.53" fill="#46b03a"/><circle cx="673.82" cy="507.06" r="0.72" fill="#3aa032"/><circle cx="695.41" cy="534.11" r="0.53" fill="#3aa032"/><circle cx="675.8" cy="505.86" r="0.56" fill="#2f8a2a"/><circle cx="690.6" cy="519.69" r="0.74" fill="#46b03a"/><circle cx="672.03" cy="509.17" r="0.82" fill="#3aa032"/><circle cx="698.79" cy="526.78" r="0.9" fill="#46b03a"/><circle cx="698.15" cy="512.52" r="0.67" fill="#46b03a"/><circle cx="709.92" cy="521.15" r="0.81" fill="#2a7a26"/><circle cx="712.94" cy="516.9" r="0.57" fill="#46b03a"/><circle cx="678.26" cy="541.12" r="0.54" fill="#2a7a26"/><circle cx="677.5" cy="507.64" r="0.73" fill="#46b03a"/><circle cx="668.05" cy="529.18" r="0.78" fill="#46b03a"/><circle cx="699.83" cy="517.3" r="0.68" fill="#2a7a26"/><circle cx="694.61" cy="514.06" r="0.68" fill="#3aa032"/><circle cx="701.81" cy="536.98" r="0.8" fill="#46b03a"/><circle cx="668.73" cy="511.98" r="0.64" fill="#46b03a"/><circle cx="700.19" cy="520.51" r="0.79" fill="#2a7a26"/><circle cx="688.74" cy="536.08" r="0.75" fill="#46b03a"/><circle cx="691.34" cy="515.25" r="0.84" fill="#2a7a26"/><circle cx="676.91" cy="538.26" r="0.54" fill="#2a7a26"/><circle cx="670.37" cy="525.74" r="0.88" fill="#2f8a2a"/><circle cx="693.06" cy="511.18" r="0.75" fill="#46b03a"/><circle cx="695.94" cy="511.86" r="0.66" fill="#2f8a2a"/><circle cx="709.37" cy="546.53" r="0.87" fill="#46b03a"/><circle cx="677.94" cy="523.21" r="0.7" fill="#3aa032"/><circle cx="682.32" cy="524.86" r="0.64" fill="#3aa032"/><circle cx="694.96" cy="532.37" r="0.52" fill="#3aa032"/><circle cx="699.55" cy="520.72" r="0.72" fill="#46b03a"/><circle cx="694.94" cy="524.94" r="0.57" fill="#2f8a2a"/><circle cx="716.67" cy="531.93" r="0.62" fill="#46b03a"/><circle cx="708.83" cy="530.9" r="0.57" fill="#46b03a"/><circle cx="706.45" cy="507.46" r="0.73" fill="#46b03a"/><circle cx="713.64" cy="519.65" r="0.88" fill="#46b03a"/><circle cx="681.72" cy="522.49" r="0.84" fill="#46b03a"/><circle cx="710.57" cy="533.91" r="0.68" fill="#46b03a"/><circle cx="704.43" cy="525.78" r="0.74" fill="#46b03a"/><circle cx="688.14" cy="512.57" r="0.51" fill="#2a7a26"/><circle cx="686.81" cy="529.24" r="0.6" fill="#46b03a"/><circle cx="697.1" cy="523.17" r="0.7" fill="#2a7a26"/><circle cx="699.45" cy="519.39" r="0.7" fill="#3aa032"/><circle cx="708.15" cy="522.11" r="0.58" fill="#2f8a2a"/><circle cx="694.01" cy="517.66" r="0.71" fill="#3aa032"/><circle cx="685.66" cy="530.75" r="0.74" fill="#46b03a"/><circle cx="683.04" cy="530.23" r="0.76" fill="#46b03a"/><circle cx="691.98" cy="528.71" r="0.65" fill="#3aa032"/><circle cx="687.36" cy="514.91" r="0.89" fill="#46b03a"/><circle cx="700.43" cy="517.37" r="0.78" fill="#46b03a"/><circle cx="681.22" cy="524.79" r="0.66" fill="#3aa032"/><circle cx="705.08" cy="522.13" r="0.83" fill="#46b03a"/><circle cx="695.13" cy="524.37" r="0.67" fill="#2f8a2a"/><circle cx="694.24" cy="538.48" r="0.85" fill="#2a7a26"/><circle cx="698.4" cy="516.89" r="0.89" fill="#3aa032"/><circle cx="720.33" cy="527.55" r="0.86" fill="#46b03a"/><circle cx="701.52" cy="527.56" r="0.81" fill="#3aa032"/><circle cx="702.31" cy="515.04" r="0.73" fill="#2a7a26"/><circle cx="714.12" cy="520.02" r="0.6" fill="#3aa032"/><circle cx="712" cy="521.93" r="0.9" fill="#46b03a"/><circle cx="713.46" cy="523.7" r="0.69" fill="#2a7a26"/><circle cx="667.75" cy="533.71" r="0.88" fill="#3aa032"/><circle cx="719" cy="501.07" r="0.84" fill="#3aa032"/><circle cx="701" cy="523.4" r="0.64" fill="#2a7a26"/><circle cx="704.48" cy="531.24" r="0.56" fill="#2a7a26"/><circle cx="691.23" cy="531.36" r="0.74" fill="#46b03a"/><circle cx="724.78" cy="535.93" r="0.5" fill="#2f8a2a"/><circle cx="704.54" cy="526.07" r="0.6" fill="#3aa032"/><circle cx="676.79" cy="521.27" r="0.88" fill="#3aa032"/><circle cx="716.94" cy="525.65" r="0.57" fill="#46b03a"/><circle cx="687.03" cy="517.48" r="0.68" fill="#2a7a26"/><circle cx="691.2" cy="521.3" r="0.67" fill="#3aa032"/><circle cx="686.66" cy="520.56" r="0.65" fill="#3aa032"/><circle cx="685.46" cy="516.9" r="0.6" fill="#2f8a2a"/><circle cx="692.56" cy="529.67" r="0.52" fill="#46b03a"/><circle cx="682.9" cy="543.37" r="0.72" fill="#2a7a26"/><circle cx="688.32" cy="514.66" r="0.55" fill="#2a7a26"/><circle cx="725.88" cy="519.27" r="0.7" fill="#3aa032"/><circle cx="721.38" cy="527.73" r="0.84" fill="#2f8a2a"/><circle cx="688.27" cy="525.37" r="0.76" fill="#2a7a26"/><circle cx="709.91" cy="520.48" r="0.6" fill="#3aa032"/><circle cx="681.33" cy="528.98" r="0.6" fill="#2a7a26"/><circle cx="706" cy="520.4" r="0.64" fill="#3aa032"/><circle cx="685.94" cy="539.54" r="0.76" fill="#2a7a26"/><circle cx="686.27" cy="524.07" r="0.62" fill="#2f8a2a"/><circle cx="661.98" cy="508.96" r="0.51" fill="#2f8a2a"/><circle cx="709.24" cy="517.79" r="0.65" fill="#2a7a26"/><circle cx="712.8" cy="519.86" r="0.81" fill="#2f8a2a"/><circle cx="670.25" cy="510.81" r="0.53" fill="#2a7a26"/><circle cx="665.82" cy="523.76" r="0.81" fill="#2a7a26"/><circle cx="693.18" cy="516.96" r="0.65" fill="#2a7a26"/><circle cx="708.15" cy="524.15" r="0.86" fill="#2a7a26"/><circle cx="706.99" cy="525.8" r="0.87" fill="#2a7a26"/><circle cx="672.99" cy="530.76" r="0.81" fill="#2a7a26"/><circle cx="686.57" cy="521.39" r="0.67" fill="#2f8a2a"/><circle cx="695.14" cy="539.06" r="0.51" fill="#2a7a26"/><circle cx="716.19" cy="527.48" r="0.88" fill="#3aa032"/><circle cx="681.62" cy="540.35" r="0.84" fill="#2a7a26"/><circle cx="675.75" cy="525.4" r="0.5" fill="#2f8a2a"/><circle cx="704.38" cy="521.95" r="0.7" fill="#46b03a"/><circle cx="683.32" cy="524.75" r="0.62" fill="#2a7a26"/><circle cx="680.46" cy="530.35" r="0.85" fill="#3aa032"/><circle cx="682.68" cy="524.54" r="0.67" fill="#2f8a2a"/><circle cx="689.65" cy="534.33" r="0.67" fill="#2a7a26"/><circle cx="676.68" cy="528.98" r="0.54" fill="#2f8a2a"/><circle cx="693.43" cy="502.21" r="0.52" fill="#2f8a2a"/><circle cx="705.16" cy="522.73" r="0.72" fill="#3aa032"/><circle cx="671.64" cy="511.88" r="0.81" fill="#3aa032"/><circle cx="684.06" cy="539.36" r="0.62" fill="#3aa032"/><circle cx="648.86" cy="527.78" r="0.71" fill="#2a7a26"/><circle cx="685.37" cy="532.71" r="0.59" fill="#2a7a26"/><circle cx="718.32" cy="527.73" r="0.52" fill="#2f8a2a"/><circle cx="690.95" cy="527.03" r="0.68" fill="#2f8a2a"/><circle cx="682.33" cy="533.7" r="0.72" fill="#3aa032"/><circle cx="675.89" cy="525.23" r="0.77" fill="#2a7a26"/><circle cx="694.81" cy="524.01" r="0.5" fill="#3aa032"/><circle cx="685.43" cy="520.42" r="0.55" fill="#46b03a"/><circle cx="714.04" cy="504.72" r="0.79" fill="#2f8a2a"/><circle cx="695.59" cy="504.6" r="0.58" fill="#3aa032"/><circle cx="681.8" cy="527.4" r="0.57" fill="#2a7a26"/><circle cx="679.43" cy="535.1" r="0.77" fill="#3aa032"/><circle cx="699.14" cy="518.48" r="0.81" fill="#3aa032"/><circle cx="708.09" cy="525.41" r="0.59" fill="#46b03a"/><circle cx="691.91" cy="520.11" r="0.69" fill="#3aa032"/><circle cx="687.34" cy="524.5" r="0.57" fill="#2a7a26"/><circle cx="667.86" cy="514.04" r="0.66" fill="#3aa032"/><circle cx="683.21" cy="516.05" r="0.61" fill="#46b03a"/><circle cx="692.27" cy="519.05" r="0.54" fill="#3aa032"/><circle cx="680.1" cy="514.49" r="0.72" fill="#3aa032"/><circle cx="676.51" cy="513.59" r="0.84" fill="#3aa032"/><circle cx="739.15" cy="521.97" r="0.72" fill="#2a7a26"/><circle cx="709.58" cy="518.07" r="0.55" fill="#46b03a"/><circle cx="702.66" cy="513.17" r="0.78" fill="#2f8a2a"/><circle cx="711.14" cy="521.65" r="0.53" fill="#46b03a"/><circle cx="675.3" cy="525.72" r="0.74" fill="#2f8a2a"/><circle cx="703.87" cy="537.7" r="0.58" fill="#2f8a2a"/><circle cx="696.64" cy="517.14" r="0.87" fill="#2a7a26"/><circle cx="698.83" cy="526.69" r="0.74" fill="#3aa032"/>
<circle cx="693.86" cy="461.28" r="0.82" fill="#46b03a"/><circle cx="688.31" cy="466.11" r="0.83" fill="#2a7a26"/><circle cx="678.22" cy="487.78" r="0.72" fill="#2f8a2a"/><circle cx="697.18" cy="513.21" r="0.8" fill="#46b03a"/><circle cx="688.83" cy="507.57" r="0.89" fill="#46b03a"/><circle cx="684.37" cy="475.51" r="0.68" fill="#3aa032"/><circle cx="682.78" cy="513.86" r="0.65" fill="#3aa032"/><circle cx="673.84" cy="481.04" r="0.55" fill="#3aa032"/><circle cx="689.22" cy="490.01" r="0.63" fill="#2f8a2a"/><circle cx="675.47" cy="460.36" r="0.85" fill="#3aa032"/><circle cx="694.02" cy="470.96" r="0.77" fill="#46b03a"/><circle cx="681.25" cy="486.66" r="0.72" fill="#2a7a26"/><circle cx="700.52" cy="447.37" r="0.83" fill="#2a7a26"/><circle cx="693.23" cy="502.44" r="0.55" fill="#2a7a26"/><circle cx="693.5" cy="476.47" r="0.87" fill="#46b03a"/><circle cx="680.71" cy="494.22" r="0.72" fill="#2f8a2a"/><circle cx="682.91" cy="489.67" r="0.66" fill="#2a7a26"/><circle cx="675.47" cy="473.75" r="0.53" fill="#2a7a26"/><circle cx="674.6" cy="507.57" r="0.69" fill="#2f8a2a"/><circle cx="688.15" cy="477.54" r="0.52" fill="#46b03a"/><circle cx="688.43" cy="473.06" r="0.73" fill="#2a7a26"/><circle cx="684.42" cy="480.64" r="0.86" fill="#3aa032"/><circle cx="688.48" cy="485.85" r="0.81" fill="#2a7a26"/><circle cx="692.93" cy="469.01" r="0.77" fill="#2f8a2a"/><circle cx="687.01" cy="484.61" r="0.86" fill="#46b03a"/><circle cx="685.96" cy="483.05" r="0.88" fill="#2f8a2a"/><circle cx="668.29" cy="487.5" r="0.79" fill="#46b03a"/><circle cx="691.19" cy="503.66" r="0.61" fill="#2a7a26"/><circle cx="684.18" cy="493.73" r="0.78" fill="#46b03a"/><circle cx="683.74" cy="486.3" r="0.77" fill="#3aa032"/><circle cx="682.41" cy="480.31" r="0.54" fill="#46b03a"/><circle cx="680" cy="466.8" r="0.73" fill="#2a7a26"/><circle cx="687.71" cy="513.5" r="0.87" fill="#2f8a2a"/><circle cx="685.89" cy="482.35" r="0.68" fill="#3aa032"/><circle cx="679.41" cy="493.63" r="0.62" fill="#2f8a2a"/><circle cx="695.47" cy="474.62" r="0.64" fill="#3aa032"/><circle cx="685.47" cy="474.2" r="0.77" fill="#2f8a2a"/><circle cx="684.38" cy="461.49" r="0.72" fill="#2a7a26"/><circle cx="688.19" cy="465.4" r="0.81" fill="#46b03a"/><circle cx="682.43" cy="476.92" r="0.54" fill="#2a7a26"/><circle cx="694.01" cy="458.93" r="0.58" fill="#3aa032"/><circle cx="693.01" cy="490.23" r="0.57" fill="#2a7a26"/><circle cx="689.07" cy="498.79" r="0.55" fill="#46b03a"/><circle cx="689.58" cy="464.89" r="0.76" fill="#2f8a2a"/><circle cx="685.44" cy="489.03" r="0.83" fill="#3aa032"/><circle cx="688.4" cy="467.33" r="0.77" fill="#46b03a"/><circle cx="691.06" cy="472.71" r="0.74" fill="#46b03a"/><circle cx="682.15" cy="475.75" r="0.54" fill="#2a7a26"/><circle cx="680.17" cy="502.16" r="0.6" fill="#2a7a26"/><circle cx="675.04" cy="519.5" r="0.59" fill="#46b03a"/><circle cx="673.85" cy="487.41" r="0.86" fill="#46b03a"/><circle cx="693.21" cy="512.35" r="0.88" fill="#2a7a26"/><circle cx="688.67" cy="485.83" r="0.74" fill="#2f8a2a"/><circle cx="684.24" cy="510.16" r="0.83" fill="#2f8a2a"/><circle cx="689.5" cy="496.57" r="0.85" fill="#3aa032"/><circle cx="700.85" cy="476.25" r="0.86" fill="#2a7a26"/><circle cx="680.4" cy="488.63" r="0.78" fill="#46b03a"/><circle cx="694.97" cy="465.05" r="0.55" fill="#46b03a"/><circle cx="676.3" cy="491.7" r="0.71" fill="#2a7a26"/><circle cx="689.31" cy="470.74" r="0.81" fill="#2f8a2a"/><circle cx="685.44" cy="478.53" r="0.83" fill="#3aa032"/><circle cx="687" cy="478.81" r="0.52" fill="#3aa032"/><circle cx="678.88" cy="503.12" r="0.71" fill="#2f8a2a"/><circle cx="698.08" cy="456.67" r="0.5" fill="#46b03a"/><circle cx="697.44" cy="467.68" r="0.6" fill="#2a7a26"/><circle cx="683.15" cy="508.62" r="0.68" fill="#2a7a26"/><circle cx="696.3" cy="482.66" r="0.55" fill="#2f8a2a"/><circle cx="678.24" cy="493.89" r="0.74" fill="#2a7a26"/><circle cx="690.54" cy="467.15" r="0.61" fill="#3aa032"/><circle cx="689.24" cy="477.54" r="0.75" fill="#2f8a2a"/><circle cx="688.71" cy="492.16" r="0.63" fill="#2a7a26"/><circle cx="681.69" cy="455.81" r="0.5" fill="#3aa032"/><circle cx="694.23" cy="482.76" r="0.76" fill="#3aa032"/><circle cx="673.57" cy="469.64" r="0.67" fill="#2a7a26"/><circle cx="704.3" cy="485.55" r="0.87" fill="#3aa032"/><circle cx="695.66" cy="463.28" r="0.58" fill="#46b03a"/><circle cx="686.91" cy="477.11" r="0.87" fill="#2f8a2a"/><circle cx="681.56" cy="486.86" r="0.54" fill="#2a7a26"/><circle cx="689.72" cy="507.05" r="0.66" fill="#46b03a"/><circle cx="683.68" cy="496.23" r="0.67" fill="#2a7a26"/><circle cx="691.3" cy="459.83" r="0.87" fill="#46b03a"/><circle cx="685.64" cy="452.35" r="0.58" fill="#2f8a2a"/><circle cx="681.39" cy="468.03" r="0.71" fill="#2a7a26"/><circle cx="684.24" cy="459.48" r="0.67" fill="#2a7a26"/><circle cx="685.88" cy="458.97" r="0.57" fill="#2f8a2a"/><circle cx="688.26" cy="480.67" r="0.61" fill="#46b03a"/><circle cx="673.31" cy="481.52" r="0.55" fill="#2f8a2a"/><circle cx="692.4" cy="453.48" r="0.86" fill="#2a7a26"/><circle cx="681.54" cy="457.45" r="0.9" fill="#2a7a26"/><circle cx="698.07" cy="472" r="0.69" fill="#2a7a26"/><circle cx="707.58" cy="472.81" r="0.63" fill="#46b03a"/><circle cx="691.26" cy="510.26" r="0.88" fill="#2a7a26"/><circle cx="691.25" cy="493.65" r="0.89" fill="#3aa032"/><circle cx="680.64" cy="487.36" r="0.69" fill="#3aa032"/><circle cx="684.62" cy="457.9" r="0.6" fill="#2f8a2a"/><circle cx="682.36" cy="483.69" r="0.62" fill="#3aa032"/><circle cx="684.08" cy="455.11" r="0.85" fill="#2f8a2a"/><circle cx="689.17" cy="505.99" r="0.59" fill="#46b03a"/><circle cx="681.34" cy="456.53" r="0.59" fill="#46b03a"/><circle cx="711.4" cy="449.96" r="0.56" fill="#2a7a26"/><circle cx="685.26" cy="498.6" r="0.61" fill="#2a7a26"/><circle cx="690.54" cy="467.54" r="0.63" fill="#2f8a2a"/><circle cx="697.86" cy="475.91" r="0.66" fill="#2a7a26"/><circle cx="686.63" cy="472.99" r="0.88" fill="#2a7a26"/><circle cx="679.95" cy="470.64" r="0.57" fill="#2a7a26"/><circle cx="687.37" cy="461.19" r="0.62" fill="#2f8a2a"/><circle cx="702.83" cy="477.08" r="0.79" fill="#2f8a2a"/><circle cx="688.95" cy="478.37" r="0.86" fill="#46b03a"/><circle cx="682.5" cy="488.43" r="0.68" fill="#2a7a26"/><circle cx="685.19" cy="490.34" r="0.61" fill="#46b03a"/>
<circle cx="625.93" cy="661.22" r="0.63" fill="#3aa032"/><circle cx="615.44" cy="642.34" r="0.8" fill="#3aa032"/><circle cx="617.39" cy="640.37" r="0.88" fill="#c8d030"/><circle cx="604.15" cy="640.81" r="0.55" fill="#c8d030"/><circle cx="622.72" cy="651.97" r="0.88" fill="#3aa032"/><circle cx="585.46" cy="660.59" r="0.75" fill="#3aa032"/><circle cx="603.79" cy="667.71" r="0.79" fill="#46b03a"/><circle cx="623.91" cy="659.68" r="0.53" fill="#46b03a"/><circle cx="602.66" cy="680.78" r="0.89" fill="#46b03a"/><circle cx="618.48" cy="648.48" r="0.72" fill="#2a7a26"/><circle cx="604.86" cy="634.18" r="0.6" fill="#c8d030"/><circle cx="632.35" cy="647.26" r="0.59" fill="#c8d030"/><circle cx="614.15" cy="643.2" r="0.6" fill="#c8d030"/><circle cx="635.54" cy="620.99" r="0.88" fill="#c8d030"/><circle cx="610.45" cy="640.73" r="0.63" fill="#c8d030"/><circle cx="640.26" cy="638.28" r="0.8" fill="#2a7a26"/><circle cx="599.12" cy="641.37" r="0.77" fill="#3aa032"/><circle cx="574.3" cy="632.26" r="0.88" fill="#c8d030"/><circle cx="617.32" cy="643.36" r="0.79" fill="#2f8a2a"/><circle cx="598.53" cy="644.25" r="0.83" fill="#2a7a26"/><circle cx="591.94" cy="667.01" r="0.72" fill="#3aa032"/><circle cx="618.03" cy="629.64" r="0.88" fill="#2a7a26"/><circle cx="606.81" cy="660.95" r="0.83" fill="#2a7a26"/><circle cx="587.51" cy="622.08" r="0.5" fill="#3aa032"/><circle cx="604.58" cy="645.87" r="0.73" fill="#46b03a"/><circle cx="613.94" cy="609.27" r="0.66" fill="#46b03a"/><circle cx="588.95" cy="644.13" r="0.86" fill="#2a7a26"/><circle cx="600.36" cy="645.67" r="0.62" fill="#c8d030"/><circle cx="593.06" cy="642.2" r="0.77" fill="#2a7a26"/><circle cx="593.06" cy="639.85" r="0.56" fill="#c8d030"/><circle cx="603.72" cy="645.78" r="0.79" fill="#2a7a26"/><circle cx="599.96" cy="642.21" r="0.83" fill="#2f8a2a"/><circle cx="588.91" cy="661.33" r="0.55" fill="#2f8a2a"/><circle cx="621.03" cy="629.48" r="0.54" fill="#c8d030"/><circle cx="569.37" cy="649.19" r="0.67" fill="#c8d030"/><circle cx="592.38" cy="652.77" r="0.82" fill="#c8d030"/><circle cx="592.77" cy="669.49" r="0.55" fill="#2f8a2a"/><circle cx="615.03" cy="626.76" r="0.7" fill="#3aa032"/><circle cx="602.43" cy="658.26" r="0.78" fill="#2f8a2a"/><circle cx="609.05" cy="650.6" r="0.62" fill="#c8d030"/><circle cx="593.89" cy="660.12" r="0.59" fill="#c8d030"/><circle cx="589.81" cy="643.43" r="0.58" fill="#46b03a"/><circle cx="621.43" cy="656.01" r="0.65" fill="#2f8a2a"/><circle cx="607.69" cy="656.29" r="0.75" fill="#3aa032"/><circle cx="599.22" cy="655.86" r="0.58" fill="#2a7a26"/><circle cx="616.82" cy="654.35" r="0.53" fill="#3aa032"/><circle cx="622.37" cy="650.12" r="0.57" fill="#46b03a"/><circle cx="607.31" cy="658.13" r="0.81" fill="#c8d030"/><circle cx="636.76" cy="631.59" r="0.59" fill="#3aa032"/><circle cx="635.88" cy="621.64" r="0.69" fill="#46b03a"/><circle cx="624.66" cy="666.18" r="0.5" fill="#c8d030"/><circle cx="598.08" cy="659.72" r="0.66" fill="#2a7a26"/><circle cx="622.3" cy="639.6" r="0.59" fill="#c8d030"/><circle cx="606.7" cy="660.17" r="0.68" fill="#2f8a2a"/><circle cx="621.31" cy="630.67" r="0.68" fill="#2f8a2a"/><circle cx="592.87" cy="643.98" r="0.58" fill="#2a7a26"/><circle cx="593.29" cy="672.19" r="0.65" fill="#2f8a2a"/><circle cx="596.28" cy="654.12" r="0.85" fill="#46b03a"/><circle cx="600.89" cy="631.73" r="0.76" fill="#2f8a2a"/><circle cx="633.16" cy="631.6" r="0.64" fill="#3aa032"/><circle cx="588.71" cy="652.14" r="0.72" fill="#46b03a"/><circle cx="589.35" cy="652.91" r="0.82" fill="#46b03a"/><circle cx="620.56" cy="629.3" r="0.62" fill="#2a7a26"/><circle cx="628.29" cy="645.83" r="0.71" fill="#2f8a2a"/><circle cx="604.98" cy="673.12" r="0.8" fill="#46b03a"/><circle cx="592.99" cy="658.98" r="0.66" fill="#46b03a"/><circle cx="612.83" cy="642.06" r="0.63" fill="#3aa032"/><circle cx="612.58" cy="668.66" r="0.71" fill="#2f8a2a"/><circle cx="616.97" cy="630.98" r="0.79" fill="#c8d030"/><circle cx="597" cy="679.8" r="0.51" fill="#2a7a26"/><circle cx="585.65" cy="641.47" r="0.84" fill="#2a7a26"/><circle cx="633.48" cy="651.23" r="0.56" fill="#3aa032"/><circle cx="618.36" cy="665.82" r="0.86" fill="#3aa032"/><circle cx="614.93" cy="648.88" r="0.55" fill="#3aa032"/><circle cx="627.72" cy="661.65" r="0.62" fill="#c8d030"/><circle cx="603.18" cy="630.99" r="0.83" fill="#c8d030"/><circle cx="610.54" cy="646.42" r="0.76" fill="#46b03a"/><circle cx="593.52" cy="676.6" r="0.54" fill="#46b03a"/><circle cx="595.54" cy="640.39" r="0.54" fill="#2f8a2a"/><circle cx="623.11" cy="667.78" r="0.64" fill="#c8d030"/><circle cx="586.07" cy="666" r="0.87" fill="#46b03a"/><circle cx="626.26" cy="655.39" r="0.78" fill="#3aa032"/><circle cx="615.01" cy="633.02" r="0.58" fill="#c8d030"/><circle cx="591.45" cy="612.1" r="0.54" fill="#3aa032"/><circle cx="609.71" cy="666.37" r="0.65" fill="#3aa032"/><circle cx="596.43" cy="639.11" r="0.61" fill="#2a7a26"/><circle cx="602.91" cy="640.8" r="0.7" fill="#2f8a2a"/><circle cx="609.55" cy="629.38" r="0.55" fill="#46b03a"/><circle cx="615.43" cy="625.64" r="0.8" fill="#2f8a2a"/><circle cx="595.09" cy="652.73" r="0.73" fill="#2f8a2a"/><circle cx="614.27" cy="636.52" r="0.61" fill="#2f8a2a"/><circle cx="583.41" cy="643.61" r="0.64" fill="#2a7a26"/><circle cx="584.58" cy="607.54" r="0.85" fill="#2f8a2a"/><circle cx="628.7" cy="634.84" r="0.85" fill="#2f8a2a"/><circle cx="588.79" cy="653.42" r="0.69" fill="#3aa032"/><circle cx="603.88" cy="626.09" r="0.8" fill="#c8d030"/><circle cx="594.66" cy="630.06" r="0.7" fill="#3aa032"/><circle cx="608.09" cy="662.74" r="0.71" fill="#2a7a26"/><circle cx="616.79" cy="655.62" r="0.67" fill="#2a7a26"/><circle cx="630.64" cy="620.66" r="0.87" fill="#2a7a26"/><circle cx="615.84" cy="647.1" r="0.79" fill="#2a7a26"/><circle cx="613.28" cy="661.17" r="0.72" fill="#2a7a26"/><circle cx="635.2" cy="634.51" r="0.6" fill="#2a7a26"/><circle cx="626.58" cy="680.01" r="0.66" fill="#46b03a"/><circle cx="608.76" cy="646.94" r="0.74" fill="#2a7a26"/><circle cx="599.15" cy="662.32" r="0.65" fill="#2f8a2a"/><circle cx="612.03" cy="654.75" r="0.83" fill="#2a7a26"/><circle cx="606.4" cy="637.69" r="0.85" fill="#46b03a"/><circle cx="601" cy="674.66" r="0.58" fill="#2a7a26"/><circle cx="604.26" cy="670.07" r="0.59" fill="#2a7a26"/><circle cx="611.44" cy="672.51" r="0.86" fill="#c8d030"/><circle cx="607" cy="672.97" r="0.65" fill="#3aa032"/><circle cx="640.58" cy="626.64" r="0.9" fill="#3aa032"/><circle cx="574.88" cy="682.94" r="0.8" fill="#3aa032"/><circle cx="593.14" cy="649.73" r="0.55" fill="#3aa032"/><circle cx="606.64" cy="667.33" r="0.89" fill="#3aa032"/><circle cx="599.71" cy="636.47" r="0.9" fill="#3aa032"/><circle cx="598.15" cy="646.8" r="0.5" fill="#2f8a2a"/><circle cx="603.37" cy="636.3" r="0.79" fill="#c8d030"/><circle cx="604.54" cy="645.05" r="0.56" fill="#c8d030"/><circle cx="578.73" cy="671.02" r="0.75" fill="#3aa032"/><circle cx="592.45" cy="668.93" r="0.53" fill="#c8d030"/><circle cx="621.71" cy="637.25" r="0.59" fill="#c8d030"/><circle cx="589.81" cy="637.45" r="0.52" fill="#3aa032"/><circle cx="595.46" cy="657.8" r="0.62" fill="#2a7a26"/><circle cx="594.48" cy="678.3" r="0.68" fill="#2a7a26"/><circle cx="608.55" cy="664.76" r="0.71" fill="#2f8a2a"/><circle cx="589.02" cy="654.18" r="0.55" fill="#46b03a"/><circle cx="609.36" cy="672.66" r="0.87" fill="#46b03a"/><circle cx="624.54" cy="649.78" r="0.5" fill="#3aa032"/><circle cx="624.36" cy="680.85" r="0.6" fill="#2a7a26"/><circle cx="613.21" cy="645.78" r="0.54" fill="#46b03a"/><circle cx="618.11" cy="657.44" r="0.8" fill="#46b03a"/><circle cx="617.27" cy="634.32" r="0.56" fill="#3aa032"/><circle cx="631.6" cy="644.59" r="0.51" fill="#2a7a26"/><circle cx="592.41" cy="639.04" r="0.81" fill="#3aa032"/><circle cx="598.04" cy="651.71" r="0.68" fill="#3aa032"/><circle cx="603.2" cy="679.42" r="0.67" fill="#c8d030"/><circle cx="584.09" cy="628.97" r="0.74" fill="#46b03a"/><circle cx="628.74" cy="662.23" r="0.76" fill="#2f8a2a"/><circle cx="645.69" cy="657.48" r="0.84" fill="#2a7a26"/><circle cx="597.71" cy="661.24" r="0.59" fill="#3aa032"/><circle cx="622.51" cy="647.45" r="0.65" fill="#2a7a26"/><circle cx="617.59" cy="639.79" r="0.89" fill="#46b03a"/><circle cx="634.37" cy="638.64" r="0.9" fill="#46b03a"/><circle cx="614.49" cy="651.55" r="0.83" fill="#2f8a2a"/><circle cx="628.29" cy="677.99" r="0.75" fill="#3aa032"/><circle cx="630.16" cy="668.52" r="0.85" fill="#c8d030"/><circle cx="606.85" cy="637.29" r="0.62" fill="#3aa032"/><circle cx="652.56" cy="627.83" r="0.73" fill="#46b03a"/><circle cx="610.3" cy="681.66" r="0.6" fill="#2a7a26"/><circle cx="616.08" cy="631.73" r="0.87" fill="#46b03a"/><circle cx="600.1" cy="643.96" r="0.63" fill="#2f8a2a"/><circle cx="593.46" cy="668.99" r="0.63" fill="#c8d030"/><circle cx="614.32" cy="653.95" r="0.58" fill="#3aa032"/><circle cx="615.71" cy="621.36" r="0.55" fill="#c8d030"/><circle cx="587.82" cy="656" r="0.74" fill="#3aa032"/><circle cx="607.24" cy="649.1" r="0.81" fill="#c8d030"/><circle cx="624.73" cy="645.94" r="0.89" fill="#c8d030"/><circle cx="600" cy="646.7" r="0.86" fill="#2f8a2a"/><circle cx="593.18" cy="638.57" r="0.5" fill="#c8d030"/><circle cx="609.15" cy="651.39" r="0.73" fill="#46b03a"/><circle cx="557.14" cy="634.37" r="0.69" fill="#2f8a2a"/><circle cx="588.83" cy="636.89" r="0.68" fill="#c8d030"/><circle cx="603.6" cy="639" r="0.57" fill="#3aa032"/><circle cx="626.05" cy="662.83" r="0.82" fill="#2f8a2a"/><circle cx="592.13" cy="635.72" r="0.66" fill="#46b03a"/><circle cx="628.66" cy="649.42" r="0.66" fill="#3aa032"/><circle cx="625.89" cy="642.51" r="0.63" fill="#3aa032"/><circle cx="599.32" cy="667.31" r="0.88" fill="#46b03a"/>
<circle cx="617.09" cy="592.46" r="0.54" fill="#3aa032"/><circle cx="611.63" cy="599.46" r="0.82" fill="#3aa032"/><circle cx="611.01" cy="610.32" r="0.56" fill="#2a7a26"/><circle cx="609.61" cy="604.94" r="0.65" fill="#2a7a26"/><circle cx="619.12" cy="599.81" r="0.65" fill="#3aa032"/><circle cx="622.99" cy="599.5" r="0.88" fill="#46b03a"/><circle cx="603.88" cy="605.59" r="0.53" fill="#2f8a2a"/><circle cx="617.56" cy="603.04" r="0.57" fill="#3aa032"/><circle cx="626.39" cy="590.67" r="0.71" fill="#3aa032"/><circle cx="639.8" cy="574.13" r="0.68" fill="#2f8a2a"/><circle cx="595.37" cy="611.7" r="0.57" fill="#2a7a26"/><circle cx="619.19" cy="602.32" r="0.57" fill="#3aa032"/><circle cx="594.44" cy="618.4" r="0.82" fill="#3aa032"/><circle cx="617.58" cy="591.4" r="0.71" fill="#3aa032"/><circle cx="599.12" cy="622.12" r="0.64" fill="#46b03a"/><circle cx="608.88" cy="603.75" r="0.87" fill="#2f8a2a"/><circle cx="621.18" cy="591.76" r="0.54" fill="#3aa032"/><circle cx="627.46" cy="606.05" r="0.61" fill="#2f8a2a"/><circle cx="604.81" cy="594.63" r="0.86" fill="#2a7a26"/><circle cx="614.22" cy="589.64" r="0.65" fill="#46b03a"/><circle cx="604.81" cy="613.7" r="0.81" fill="#2a7a26"/><circle cx="607.34" cy="611.14" r="0.89" fill="#46b03a"/><circle cx="623.44" cy="589.03" r="0.85" fill="#2a7a26"/><circle cx="602.81" cy="598.18" r="0.72" fill="#46b03a"/><circle cx="621.83" cy="596.89" r="0.85" fill="#2f8a2a"/><circle cx="621.27" cy="595.34" r="0.83" fill="#46b03a"/><circle cx="602.48" cy="614.19" r="0.57" fill="#3aa032"/><circle cx="615.87" cy="591.08" r="0.78" fill="#2a7a26"/><circle cx="621.82" cy="608.12" r="0.55" fill="#3aa032"/><circle cx="626.86" cy="577.18" r="0.74" fill="#2a7a26"/><circle cx="615.35" cy="588.76" r="0.87" fill="#2f8a2a"/><circle cx="607.9" cy="601.79" r="0.51" fill="#2a7a26"/><circle cx="623.52" cy="594.23" r="0.82" fill="#2f8a2a"/><circle cx="611.02" cy="618.2" r="0.7" fill="#46b03a"/><circle cx="606.42" cy="611.02" r="0.7" fill="#2f8a2a"/><circle cx="620.96" cy="581.27" r="0.68" fill="#2a7a26"/><circle cx="614.62" cy="610.4" r="0.87" fill="#2a7a26"/><circle cx="613.53" cy="597.7" r="0.88" fill="#2a7a26"/><circle cx="611.07" cy="606.54" r="0.54" fill="#46b03a"/><circle cx="616.69" cy="603.17" r="0.52" fill="#3aa032"/><circle cx="613.74" cy="613.16" r="0.84" fill="#2f8a2a"/><circle cx="618.88" cy="592.76" r="0.7" fill="#3aa032"/><circle cx="620.49" cy="589.13" r="0.67" fill="#2f8a2a"/><circle cx="614.13" cy="610.83" r="0.78" fill="#3aa032"/><circle cx="614.43" cy="599.26" r="0.74" fill="#2f8a2a"/><circle cx="629.55" cy="604.64" r="0.58" fill="#2f8a2a"/><circle cx="630.73" cy="577.27" r="0.68" fill="#2a7a26"/><circle cx="624.21" cy="586.18" r="0.54" fill="#3aa032"/><circle cx="620.05" cy="590.4" r="0.58" fill="#2a7a26"/><circle cx="624" cy="584.37" r="0.88" fill="#2a7a26"/><circle cx="616.77" cy="584.06" r="0.85" fill="#3aa032"/><circle cx="605.12" cy="605.67" r="0.85" fill="#2f8a2a"/><circle cx="608.86" cy="595.17" r="0.89" fill="#3aa032"/><circle cx="609.03" cy="599.35" r="0.74" fill="#46b03a"/><circle cx="636.73" cy="567.34" r="0.61" fill="#46b03a"/><circle cx="620.36" cy="594.31" r="0.5" fill="#3aa032"/><circle cx="623.29" cy="603.99" r="0.85" fill="#2f8a2a"/><circle cx="623.03" cy="591.82" r="0.81" fill="#3aa032"/><circle cx="610.34" cy="609.09" r="0.8" fill="#3aa032"/><circle cx="595.8" cy="617.76" r="0.52" fill="#2f8a2a"/><circle cx="617.31" cy="594.76" r="0.75" fill="#2a7a26"/><circle cx="603.93" cy="606.64" r="0.79" fill="#2a7a26"/><circle cx="627.28" cy="582.08" r="0.89" fill="#46b03a"/><circle cx="608.72" cy="603.69" r="0.71" fill="#46b03a"/><circle cx="602.27" cy="605.89" r="0.61" fill="#46b03a"/><circle cx="624.4" cy="598.76" r="0.88" fill="#2f8a2a"/><circle cx="620.41" cy="600.67" r="0.51" fill="#2a7a26"/><circle cx="623.11" cy="601.66" r="0.88" fill="#2a7a26"/><circle cx="610.94" cy="605.28" r="0.78" fill="#2f8a2a"/><circle cx="604.55" cy="613.63" r="0.71" fill="#46b03a"/>
<circle cx="646.37" cy="710.46" r="0.52" fill="#46b03a"/><circle cx="643.84" cy="695.47" r="0.69" fill="#2a7a26"/><circle cx="637.44" cy="695.63" r="0.85" fill="#3aa032"/><circle cx="625.94" cy="700.08" r="0.56" fill="#3aa032"/><circle cx="646.87" cy="726.31" r="0.89" fill="#2a7a26"/><circle cx="643" cy="713.52" r="0.7" fill="#3aa032"/><circle cx="650.66" cy="705.64" r="0.77" fill="#c02018"/><circle cx="641.47" cy="704.84" r="0.85" fill="#2a7a26"/><circle cx="643.17" cy="715.98" r="0.73" fill="#c02018"/><circle cx="652.44" cy="709.84" r="0.82" fill="#3aa032"/><circle cx="643.77" cy="720.05" r="0.85" fill="#2a7a26"/><circle cx="637.1" cy="700.69" r="0.71" fill="#2f8a2a"/><circle cx="656.56" cy="698.98" r="0.63" fill="#3aa032"/><circle cx="643.74" cy="710.11" r="0.69" fill="#46b03a"/><circle cx="623.75" cy="687.85" r="0.53" fill="#2f8a2a"/><circle cx="657.09" cy="685.19" r="0.77" fill="#3aa032"/><circle cx="640.76" cy="644.68" r="0.57" fill="#3aa032"/><circle cx="649.51" cy="732.22" r="0.65" fill="#46b03a"/><circle cx="652.66" cy="735.87" r="0.83" fill="#2f8a2a"/><circle cx="648.95" cy="702.59" r="0.52" fill="#3aa032"/><circle cx="654.11" cy="712.62" r="0.59" fill="#46b03a"/><circle cx="650.55" cy="684.08" r="0.54" fill="#46b03a"/><circle cx="648.21" cy="686.11" r="0.68" fill="#3aa032"/><circle cx="625.96" cy="710.53" r="0.7" fill="#46b03a"/><circle cx="643.75" cy="710.51" r="0.54" fill="#c02018"/><circle cx="648.49" cy="699.25" r="0.74" fill="#c02018"/><circle cx="631.27" cy="731.1" r="0.7" fill="#46b03a"/><circle cx="658.5" cy="696.01" r="0.57" fill="#2f8a2a"/><circle cx="664.13" cy="706.43" r="0.83" fill="#2f8a2a"/><circle cx="650.74" cy="714.24" r="0.88" fill="#2a7a26"/><circle cx="656.76" cy="700.19" r="0.78" fill="#3aa032"/><circle cx="646.1" cy="729.21" r="0.53" fill="#c02018"/><circle cx="648.42" cy="718.01" r="0.54" fill="#46b03a"/><circle cx="635.83" cy="724.79" r="0.57" fill="#2f8a2a"/><circle cx="643.21" cy="708.86" r="0.75" fill="#c02018"/><circle cx="650.16" cy="707.75" r="0.81" fill="#2a7a26"/><circle cx="651.36" cy="702.75" r="0.65" fill="#3aa032"/><circle cx="644.02" cy="719.14" r="0.79" fill="#2f8a2a"/><circle cx="634.64" cy="681.91" r="0.71" fill="#2f8a2a"/><circle cx="645.52" cy="689.18" r="0.72" fill="#2f8a2a"/><circle cx="651.82" cy="713.81" r="0.79" fill="#2f8a2a"/><circle cx="654.28" cy="718.74" r="0.79" fill="#2f8a2a"/><circle cx="647.56" cy="721.91" r="0.75" fill="#3aa032"/><circle cx="655.19" cy="721.36" r="0.64" fill="#46b03a"/><circle cx="633.21" cy="701.36" r="0.85" fill="#46b03a"/><circle cx="637.18" cy="695.86" r="0.58" fill="#46b03a"/><circle cx="626.14" cy="700.38" r="0.78" fill="#c02018"/><circle cx="646.08" cy="692.72" r="0.85" fill="#2f8a2a"/><circle cx="652.84" cy="684.66" r="0.68" fill="#c02018"/><circle cx="651.06" cy="727.16" r="0.66" fill="#46b03a"/><circle cx="641.36" cy="685.25" r="0.89" fill="#2a7a26"/><circle cx="642.9" cy="706.64" r="0.55" fill="#46b03a"/><circle cx="646.31" cy="686.76" r="0.72" fill="#c02018"/><circle cx="656" cy="694.65" r="0.56" fill="#2a7a26"/><circle cx="639.49" cy="741.79" r="0.57" fill="#c02018"/><circle cx="663.51" cy="721.78" r="0.86" fill="#3aa032"/><circle cx="669.11" cy="708.09" r="0.66" fill="#2a7a26"/><circle cx="653.27" cy="722.4" r="0.86" fill="#c02018"/><circle cx="646.07" cy="670.2" r="0.61" fill="#2f8a2a"/><circle cx="650.02" cy="719.88" r="0.57" fill="#2f8a2a"/><circle cx="632.54" cy="681.29" r="0.75" fill="#46b03a"/><circle cx="654.04" cy="702.14" r="0.82" fill="#c02018"/><circle cx="647.15" cy="692.06" r="0.66" fill="#c02018"/><circle cx="651.13" cy="727.68" r="0.82" fill="#2a7a26"/><circle cx="635.6" cy="687.8" r="0.59" fill="#c02018"/><circle cx="654.34" cy="694.87" r="0.74" fill="#3aa032"/><circle cx="642.86" cy="696.71" r="0.74" fill="#2a7a26"/><circle cx="642.45" cy="714.12" r="0.63" fill="#c02018"/><circle cx="645.55" cy="715.43" r="0.9" fill="#46b03a"/><circle cx="652.64" cy="699.59" r="0.5" fill="#c02018"/><circle cx="647.81" cy="700.83" r="0.69" fill="#46b03a"/><circle cx="645.15" cy="704.06" r="0.56" fill="#2a7a26"/><circle cx="645.48" cy="704.7" r="0.6" fill="#2a7a26"/><circle cx="639.24" cy="717.24" r="0.62" fill="#2a7a26"/><circle cx="655.18" cy="698.79" r="0.58" fill="#3aa032"/><circle cx="635.86" cy="686.66" r="0.89" fill="#2f8a2a"/><circle cx="661.02" cy="724.89" r="0.76" fill="#3aa032"/><circle cx="657.91" cy="708.66" r="0.87" fill="#c02018"/><circle cx="647.18" cy="681.74" r="0.78" fill="#c02018"/><circle cx="655.73" cy="699.27" r="0.55" fill="#3aa032"/><circle cx="658.13" cy="694.87" r="0.6" fill="#3aa032"/><circle cx="655.75" cy="719.6" r="0.81" fill="#2f8a2a"/><circle cx="640.8" cy="722.7" r="0.77" fill="#2a7a26"/><circle cx="640.56" cy="711.4" r="0.51" fill="#46b03a"/><circle cx="643.74" cy="717.12" r="0.56" fill="#2f8a2a"/><circle cx="656.55" cy="675.75" r="0.75" fill="#c02018"/><circle cx="646.26" cy="730.2" r="0.6" fill="#3aa032"/><circle cx="649.36" cy="712.16" r="0.64" fill="#2f8a2a"/><circle cx="654.93" cy="733.47" r="0.73" fill="#3aa032"/><circle cx="650.53" cy="723.74" r="0.51" fill="#2a7a26"/>
<circle cx="767.43" cy="576.45" r="0.58" fill="#2a7a26"/><circle cx="757.99" cy="570.14" r="0.54" fill="#2a7a26"/><circle cx="746.21" cy="584.62" r="0.44" fill="#2f8a2a"/><circle cx="761.94" cy="572.23" r="0.79" fill="#46b03a"/><circle cx="764.59" cy="573.93" r="0.58" fill="#c02018"/><circle cx="751.79" cy="594.81" r="0.41" fill="#3aa032"/><circle cx="744.77" cy="577.64" r="0.58" fill="#3aa032"/><circle cx="737.5" cy="570.39" r="0.55" fill="#2f8a2a"/><circle cx="746.26" cy="564.53" r="0.79" fill="#3aa032"/><circle cx="756.77" cy="577.28" r="0.75" fill="#3aa032"/><circle cx="763.37" cy="569.38" r="0.62" fill="#46b03a"/><circle cx="757.68" cy="570.2" r="0.44" fill="#3aa032"/><circle cx="752.53" cy="576.9" r="0.67" fill="#2f8a2a"/><circle cx="763.83" cy="572.77" r="0.57" fill="#c02018"/><circle cx="768.05" cy="570.44" r="0.45" fill="#2f8a2a"/><circle cx="748.76" cy="588.44" r="0.51" fill="#c02018"/><circle cx="744.58" cy="581.81" r="0.51" fill="#c02018"/><circle cx="761.72" cy="567.05" r="0.64" fill="#3aa032"/><circle cx="755.61" cy="555.74" r="0.6" fill="#46b03a"/><circle cx="743.09" cy="570.19" r="0.42" fill="#2a7a26"/><circle cx="759.64" cy="569.93" r="0.76" fill="#46b03a"/><circle cx="747.37" cy="583.48" r="0.77" fill="#3aa032"/><circle cx="760.74" cy="580.25" r="0.47" fill="#46b03a"/><circle cx="749.12" cy="581.05" r="0.68" fill="#3aa032"/><circle cx="759.47" cy="566.05" r="0.71" fill="#3aa032"/><circle cx="746.9" cy="577.12" r="0.54" fill="#46b03a"/><circle cx="758.95" cy="564.96" r="0.72" fill="#2f8a2a"/><circle cx="756.53" cy="571.14" r="0.49" fill="#46b03a"/><circle cx="759.37" cy="589.63" r="0.76" fill="#2f8a2a"/><circle cx="759.97" cy="575.66" r="0.68" fill="#2a7a26"/>
<g filter="url(#speck3)">
<ellipse cx="625" cy="473" rx="9" ry="22" fill="#6ccc38" transform="rotate(8 625 473)"/>
<ellipse cx="563" cy="516" rx="15" ry="19" fill="#6ccc38" transform="rotate(35 563 516)"/>
<ellipse cx="637" cy="527" rx="14" ry="18" fill="#6ccc38" transform="rotate(35 637 527)"/>
<ellipse cx="598" cy="568" rx="21" ry="12" fill="#6ccc38" transform="rotate(-30 598 568)"/>
<ellipse cx="544" cy="632" rx="21" ry="15" fill="#6ccc38" transform="rotate(15 544 632)"/>
<ellipse cx="711" cy="635" rx="12" ry="17" fill="#6ccc38" transform="rotate(35 711 635)"/>
<ellipse cx="776" cy="607" rx="16" ry="13" fill="#6ccc38" transform="rotate(10 776 607)"/>
<ellipse cx="692" cy="523" rx="9" ry="6" fill="#5cb834"/>
<ellipse cx="618" cy="468" rx="5" ry="12" fill="#ec2a1e" transform="rotate(8 618 468)"/>
<ellipse cx="553" cy="510" rx="7" ry="11" fill="#ec2a1e" transform="rotate(35 553 510)"/>
<ellipse cx="629" cy="520" rx="9" ry="10" fill="#ec2a1e" transform="rotate(35 629 520)"/>
<ellipse cx="585" cy="571" rx="9" ry="8" fill="#ec2a1e"/>
<ellipse cx="527" cy="637" rx="6" ry="6" fill="#ec2a1e"/>
<ellipse cx="702" cy="638" rx="5" ry="8" fill="#ec2a1e" transform="rotate(35 702 638)"/>
<ellipse cx="778" cy="602" rx="6" ry="6" fill="#ec2a1e"/>
<ellipse cx="602" cy="641" rx="12" ry="13" fill="#ec2a1e"/>
<ellipse cx="648" cy="715" rx="8" ry="13" fill="#ec2a1e"/>
<ellipse cx="688" cy="519" rx="8" ry="6" fill="#ec2a1e"/>
<ellipse cx="623" cy="467" rx="3" ry="10" fill="#e6ee3a" transform="rotate(8 623 467)"/>
<ellipse cx="558" cy="514" rx="4" ry="9" fill="#e6ee3a" transform="rotate(35 558 514)"/>
<ellipse cx="634" cy="524" rx="5" ry="8" fill="#e6ee3a" transform="rotate(35 634 524)"/>
<ellipse cx="590" cy="571" rx="5" ry="7" fill="#e6ee3a"/>
<ellipse cx="532" cy="635" rx="4" ry="6" fill="#e6ee3a"/>
<ellipse cx="706" cy="637" rx="3" ry="6" fill="#e6ee3a" transform="rotate(35 706 637)"/>
<ellipse cx="777" cy="607" rx="6" ry="5" fill="#e6ee3a"/>
<ellipse cx="606" cy="646" rx="6" ry="7" fill="#e6ee3a"/>
<ellipse cx="693" cy="521" rx="4" ry="4" fill="#e6ee3a"/>
</g>
</svg>
<g filter="url(#speck4)">
<ellipse cx="917" cy="494" rx="8" ry="13" fill="#78cc3c" transform="rotate(15 917 494)"/>
<ellipse cx="940" cy="508" rx="8" ry="10" fill="#e8261e"/>
<ellipse cx="1058" cy="495" rx="10" ry="17" fill="#78cc3c" transform="rotate(5 1058 495)"/>
<ellipse cx="1050" cy="525.6" rx="5" ry="9.5" fill="#e8261e" transform="rotate(5 1050 525.6)"/>
<ellipse cx="1149.6" cy="586.7" rx="13" ry="8.5" fill="#78cc3c"/>
<ellipse cx="1167" cy="591" rx="8" ry="5.5" fill="#e8261e"/>
<ellipse cx="948.8" cy="674" rx="10" ry="10" fill="#78cc3c"/>
<ellipse cx="972.4" cy="675" rx="5" ry="6.5" fill="#e8261e" transform="rotate(-20 972.4 675)"/>
<ellipse cx="1074.3" cy="713" rx="9" ry="8" fill="#78cc3c"/>
<ellipse cx="1092.8" cy="713" rx="4.5" ry="16.5" fill="#e8261e"/>
</g>
<ellipse cx="1159" cy="589" rx="4" ry="3" fill="#e0ee40"/>
<text x="596" y="452.8" font-size="36.2" text-anchor="middle" font-weight="bold" fill="#fff">1</text>
<text x="507.5" y="615.8" font-size="36.2" text-anchor="middle" font-weight="bold" fill="#fff">2</text>
<text x="790" y="580.8" font-size="36.2" text-anchor="middle" font-weight="bold" fill="#fff">3</text>
<text x="896.5" y="478.8" font-size="36.2" text-anchor="middle" font-weight="bold" fill="#fff">1</text>
<text x="1084" y="476.8" font-size="36.2" text-anchor="middle" font-weight="bold" fill="#fff">2</text>
<text x="916" y="680.8" font-size="36.2" text-anchor="middle" font-weight="bold" fill="#fff">3</text>
<line x1="189.5" y1="310.1" x2="91.5" y2="414" stroke="#fff" stroke-width="4.5"/>
<line x1="306.7" y1="310.1" x2="455.5" y2="414" stroke="#fff" stroke-width="4.5"/>
<line x1="582.9" y1="266.1" x2="469" y2="414" stroke="#fff" stroke-width="4.5"/>
<line x1="707.4" y1="266.1" x2="829" y2="416" stroke="#fff" stroke-width="4.5"/>
<line x1="954.9" y1="308.8" x2="845" y2="414" stroke="#fff" stroke-width="4.5"/>
<line x1="1064.6" y1="308.8" x2="1206" y2="419" stroke="#fff" stroke-width="4.5"/>
<text x="264.7" y="377.9" font-size="28.8" text-anchor="middle" fill="#fff">2 μm</text>
<line x1="239.1" y1="391.9" x2="292.6" y2="391.9" stroke="#fff" stroke-width="4.2"/>
<text x="644" y="377.9" font-size="28.8" text-anchor="middle" fill="#fff">2 μm</text>
<line x1="619.5" y1="391.9" x2="672" y2="391.9" stroke="#fff" stroke-width="4.2"/>
<text x="1035" y="377.9" font-size="28.8" text-anchor="middle" fill="#fff">2 μm</text>
<line x1="1010.6" y1="391.5" x2="1063" y2="391.5" stroke="#fff" stroke-width="4.2"/>
<text x="401.5" y="728.2" font-size="28.3" text-anchor="middle" fill="#fff">500 nm</text>
<line x1="378" y1="742.8" x2="428.5" y2="742.8" stroke="#fff" stroke-width="4.2"/>
<text x="778.5" y="728.2" font-size="28.3" text-anchor="middle" fill="#fff">500 nm</text>
<line x1="751" y1="742.8" x2="802" y2="742.8" stroke="#fff" stroke-width="4.2"/>
<text x="1158" y="728.2" font-size="28.3" text-anchor="middle" fill="#fff">500 nm</text>
<line x1="1131.5" y1="742.8" x2="1182" y2="742.8" stroke="#fff" stroke-width="4.2"/>
<text x="1262.8" y="37.5" font-size="50" text-anchor="start" font-weight="bold" fill="#000">B</text>
<rect x="1541.8" y="219.6" width="61.4" height="346" fill="#8c1f2c" stroke="#000" stroke-width="3"/>
<rect x="1640" y="553.4" width="61.3" height="13" fill="#3e77ad" stroke="#000" stroke-width="3"/>
<line x1="1572.5" y1="219" x2="1572.5" y2="209.9" stroke="#000" stroke-width="2.2"/>
<line x1="1556.5" y1="209.9" x2="1587.8" y2="209.9" stroke="#000" stroke-width="2.2"/>
<line x1="1670.5" y1="552.5" x2="1670.5" y2="548.9" stroke="#000" stroke-width="2.2"/>
<line x1="1654.6" y1="548.9" x2="1686" y2="548.9" stroke="#000" stroke-width="2.2"/>
<line x1="1409.4" y1="110.5" x2="1409.4" y2="567.8" stroke="#000" stroke-width="4.5"/>
<line x1="1395" y1="565.8" x2="1736.4" y2="565.8" stroke="#000" stroke-width="4.5"/>
<line x1="1395.2" y1="565.8" x2="1409.4" y2="565.8" stroke="#000" stroke-width="4"/>
<text x="1390.8" y="577.2" font-size="32" text-anchor="end" fill="#000">0</text>
<line x1="1395.2" y1="475.16" x2="1409.4" y2="475.16" stroke="#000" stroke-width="4"/>
<text x="1390.8" y="486.56" font-size="32" text-anchor="end" fill="#000">20</text>
<line x1="1395.2" y1="384.52" x2="1409.4" y2="384.52" stroke="#000" stroke-width="4"/>
<text x="1390.8" y="395.92" font-size="32" text-anchor="end" fill="#000">40</text>
<line x1="1395.2" y1="293.88" x2="1409.4" y2="293.88" stroke="#000" stroke-width="4"/>
<text x="1390.8" y="305.28" font-size="32" text-anchor="end" fill="#000">60</text>
<line x1="1395.2" y1="203.24" x2="1409.4" y2="203.24" stroke="#000" stroke-width="4"/>
<text x="1390.8" y="214.64" font-size="32" text-anchor="end" fill="#000">80</text>
<line x1="1395.2" y1="112.6" x2="1409.4" y2="112.6" stroke="#000" stroke-width="4"/>
<text x="1390.8" y="124" font-size="32" text-anchor="end" fill="#000">100</text>
<line x1="1474.1" y1="565.8" x2="1474.1" y2="579.5" stroke="#000" stroke-width="4"/>
<line x1="1572.1" y1="565.8" x2="1572.1" y2="579.5" stroke="#000" stroke-width="4"/>
<line x1="1669.9" y1="565.8" x2="1669.9" y2="579.5" stroke="#000" stroke-width="4"/>
<text x="1483.1" y="604" font-size="32" text-anchor="end" fill="#000" transform="rotate(-45 1483.1 604)">Coro2B/B23</text>
<text x="1581.1" y="604" font-size="32" text-anchor="end" fill="#000" transform="rotate(-45 1581.1 604)">Coro2B/UBF</text>
<text x="1678.9" y="604" font-size="32" text-anchor="end" fill="#000" transform="rotate(-45 1678.9 604)">Coro2B/FBL</text>
<text x="1314.5" y="333.3" font-size="35.2" text-anchor="middle" fill="#000" transform="rotate(-90 1314.5 333.3)">Percent of protein colocalization</text>
<rect x="212.7" y="1361.6" width="24.2" height="9.1" fill="#9a1f27"/>
<rect x="212.7" y="1368" width="24.2" height="2.7" fill="#b7612a"/>
<rect x="238.57" y="1318.4" width="24.2" height="52.3" fill="#9a1f27"/>
<rect x="238.57" y="1330.7" width="24.2" height="40" fill="#b7612a"/>
<rect x="264.44" y="1251.8" width="24.2" height="118.9" fill="#9a1f27"/>
<rect x="264.44" y="1268.2" width="24.2" height="102.5" fill="#b7612a"/>
<rect x="290.31" y="1130" width="24.2" height="240.7" fill="#9a1f27"/>
<rect x="290.31" y="1178.4" width="24.2" height="192.3" fill="#b7612a"/>
<rect x="316.18" y="997.3" width="24.2" height="373.4" fill="#9a1f27"/>
<rect x="316.18" y="1086.4" width="24.2" height="284.3" fill="#b7612a"/>
<rect x="342.05" y="1125.3" width="24.2" height="245.4" fill="#9a1f27"/>
<rect x="342.05" y="1156.5" width="24.2" height="214.2" fill="#b7612a"/>
<rect x="367.92" y="1187" width="24.2" height="183.7" fill="#388a41"/>
<rect x="367.92" y="1202.7" width="24.2" height="168" fill="#b7612a"/>
<rect x="393.79" y="1091.8" width="24.2" height="278.9" fill="#388a41"/>
<rect x="393.79" y="1129.3" width="24.2" height="241.4" fill="#b7612a"/>
<rect x="419.66" y="1090.7" width="24.2" height="280" fill="#388a41"/>
<rect x="419.66" y="1164.5" width="24.2" height="206.2" fill="#b7612a"/>
<rect x="445.53" y="1205.3" width="24.2" height="165.4" fill="#388a41"/>
<rect x="445.53" y="1340.9" width="24.2" height="29.8" fill="#b7612a"/>
<rect x="471.4" y="1302.7" width="24.2" height="68" fill="#388a41"/>
<rect x="497.27" y="1334.4" width="24.2" height="36.3" fill="#388a41"/>
<rect x="523.14" y="1354.7" width="24.2" height="16" fill="#388a41"/>
<rect x="549.01" y="1359" width="24.2" height="11.7" fill="#388a41"/>
<line x1="173.7" y1="938" x2="173.7" y2="1372.7" stroke="#000" stroke-width="4"/>
<line x1="156.7" y1="1370.7" x2="590.7" y2="1370.7" stroke="#000" stroke-width="4"/>
<line x1="156.7" y1="1370.7" x2="173.7" y2="1370.7" stroke="#000" stroke-width="4"/>
<text x="150.6" y="1383.5" font-size="36" text-anchor="end" fill="#000">0</text>
<line x1="156.7" y1="1263.2" x2="173.7" y2="1263.2" stroke="#000" stroke-width="4"/>
<text x="146.2" y="1276" font-size="36" text-anchor="end" fill="#000">0.4</text>
<line x1="156.7" y1="1155.3" x2="173.7" y2="1155.3" stroke="#000" stroke-width="4"/>
<text x="146.2" y="1168.1" font-size="36" text-anchor="end" fill="#000">0.8</text>
<line x1="156.7" y1="1048" x2="173.7" y2="1048" stroke="#000" stroke-width="4"/>
<text x="146.2" y="1060.8" font-size="36" text-anchor="end" fill="#000">1.2</text>
<line x1="156.7" y1="940" x2="173.7" y2="940" stroke="#000" stroke-width="4"/>
<text x="146.2" y="952.8" font-size="36" text-anchor="end" fill="#000">1.6</text>
<line x1="179" y1="1370.7" x2="179" y2="1390" stroke="#000" stroke-width="4"/>
<text x="193.9" y="1416.3" font-size="36" text-anchor="end" fill="#000" transform="rotate(-45 193.9 1416.3)">-2.5</text>
<line x1="224.7" y1="1370.7" x2="224.7" y2="1390" stroke="#000" stroke-width="4"/>
<text x="239.6" y="1416.3" font-size="36" text-anchor="end" fill="#000" transform="rotate(-45 239.6 1416.3)">-2.0</text>
<line x1="270.1" y1="1370.7" x2="270.1" y2="1390" stroke="#000" stroke-width="4"/>
<text x="285" y="1416.3" font-size="36" text-anchor="end" fill="#000" transform="rotate(-45 285 1416.3)">-1.5</text>
<line x1="315.9" y1="1370.7" x2="315.9" y2="1390" stroke="#000" stroke-width="4"/>
<text x="330.8" y="1416.3" font-size="36" text-anchor="end" fill="#000" transform="rotate(-45 330.8 1416.3)">-1.0</text>
<line x1="362" y1="1370.7" x2="362" y2="1390" stroke="#000" stroke-width="4"/>
<text x="376.9" y="1416.3" font-size="36" text-anchor="end" fill="#000" transform="rotate(-45 376.9 1416.3)">-0.5</text>
<line x1="408.3" y1="1370.7" x2="408.3" y2="1390" stroke="#000" stroke-width="4"/>
<text x="409.2" y="1421.3" font-size="36" text-anchor="middle" fill="#000">0</text>
<line x1="454.3" y1="1370.7" x2="454.3" y2="1390" stroke="#000" stroke-width="4"/>
<text x="469.2" y="1416.3" font-size="36" text-anchor="end" fill="#000" transform="rotate(-45 469.2 1416.3)">0.5</text>
<line x1="499.8" y1="1370.7" x2="499.8" y2="1390" stroke="#000" stroke-width="4"/>
<text x="514.7" y="1416.3" font-size="36" text-anchor="end" fill="#000" transform="rotate(-45 514.7 1416.3)">1.0</text>
<line x1="545.2" y1="1370.7" x2="545.2" y2="1390" stroke="#000" stroke-width="4"/>
<text x="560.1" y="1416.3" font-size="36" text-anchor="end" fill="#000" transform="rotate(-45 560.1 1416.3)">1.5</text>
<line x1="589.2" y1="1370.7" x2="589.2" y2="1390" stroke="#000" stroke-width="4"/>
<text x="604.1" y="1416.3" font-size="36" text-anchor="end" fill="#000" transform="rotate(-45 604.1 1416.3)">2.0</text>
<text x="158.6" y="917.8" font-size="35">x10<tspan font-size="25" dy="-17">3</tspan></text>
<text x="82.4" y="1151.6" font-size="42" text-anchor="middle" textLength="196.19" lengthAdjust="spacingAndGlyphs" transform="rotate(-90 82.4 1151.6)">Frequency</text>
<text x="373.7" y="1496.9" font-size="40" text-anchor="middle" textLength="238.62" lengthAdjust="spacingAndGlyphs">Distance(nm)</text>
<text x="531" y="1496.9" font-size="35">x10<tspan font-size="25" dy="-17">2</tspan></text>
<rect x="418.6" y="941.5" width="25.2" height="17" fill="#9a1f27"/>
<text x="455.5" y="956.7" font-size="29.4" text-anchor="start" fill="#000">Coro2B</text>
<rect x="418.6" y="977.6" width="25.2" height="17" fill="#388a41"/>
<text x="455.5" y="998.1" font-size="29.4" text-anchor="start" fill="#000">UBF</text>
<rect x="418.6" y="1015.6" width="25.2" height="17" fill="#c6893d"/>
<text x="455.5" y="1036.1" font-size="29.4" text-anchor="start" fill="#000">Merge</text>
<text x="1.5" y="904.5" font-size="50" text-anchor="start" font-weight="bold" fill="#000">C</text>
<rect x="187" y="938.4" width="110.6" height="103.5" fill="#000"/>
<g><circle cx="243.15" cy="1033.28" r="0.91" fill="#46b03a"/><circle cx="256.25" cy="1021.54" r="0.86" fill="#46b03a"/><circle cx="259.35" cy="987.75" r="0.97" fill="#2a7a26"/><circle cx="246.39" cy="977.75" r="0.8" fill="#2f8a2a"/><circle cx="247.3" cy="1022.75" r="0.82" fill="#2f8a2a"/><circle cx="243.88" cy="985.09" r="0.63" fill="#2a7a26"/><circle cx="250.53" cy="1011.38" r="0.89" fill="#2f8a2a"/><circle cx="231.1" cy="979.99" r="0.74" fill="#2a7a26"/><circle cx="223.86" cy="1000.47" r="0.99" fill="#46b03a"/><circle cx="223.81" cy="980.47" r="0.62" fill="#2a7a26"/><circle cx="260.84" cy="974.69" r="0.62" fill="#2a7a26"/><circle cx="233.6" cy="993.71" r="0.78" fill="#46b03a"/><circle cx="241.69" cy="1013.65" r="0.73" fill="#3aa032"/><circle cx="275.01" cy="966.57" r="0.76" fill="#2a7a26"/><circle cx="236.88" cy="1011.13" r="1.01" fill="#3aa032"/><circle cx="251.77" cy="987.21" r="1.05" fill="#3aa032"/><circle cx="238.51" cy="975.25" r="1" fill="#2a7a26"/><circle cx="227.29" cy="1008.72" r="1.04" fill="#46b03a"/><circle cx="239.05" cy="995.02" r="0.64" fill="#2a7a26"/><circle cx="258.57" cy="989.89" r="1.04" fill="#46b03a"/><circle cx="240.37" cy="991.33" r="0.83" fill="#2f8a2a"/><circle cx="226.61" cy="996.76" r="0.8" fill="#2f8a2a"/><circle cx="249.56" cy="964.17" r="0.83" fill="#2f8a2a"/><circle cx="239.01" cy="987.52" r="0.86" fill="#2f8a2a"/><circle cx="254.46" cy="990.39" r="0.67" fill="#46b03a"/><circle cx="251.03" cy="966.84" r="0.89" fill="#46b03a"/><circle cx="234.23" cy="988.64" r="0.68" fill="#2f8a2a"/><circle cx="242.29" cy="972.88" r="0.86" fill="#46b03a"/><circle cx="273.34" cy="1001.99" r="0.94" fill="#2a7a26"/><circle cx="241.54" cy="1020.54" r="0.86" fill="#46b03a"/><circle cx="250.44" cy="960.54" r="0.86" fill="#3aa032"/><circle cx="247.25" cy="1026.18" r="0.79" fill="#3aa032"/><circle cx="245.03" cy="993.81" r="0.8" fill="#2a7a26"/><circle cx="231.35" cy="993.36" r="0.75" fill="#2f8a2a"/><circle cx="224.62" cy="989.69" r="0.89" fill="#3aa032"/><circle cx="226.03" cy="999.26" r="1.1" fill="#2a7a26"/><circle cx="230.66" cy="977.65" r="0.88" fill="#46b03a"/><circle cx="270.39" cy="983.43" r="0.85" fill="#3aa032"/><circle cx="225.62" cy="951.99" r="1.1" fill="#46b03a"/><circle cx="251.32" cy="990.98" r="1" fill="#2a7a26"/><circle cx="240.46" cy="1008.31" r="1.01" fill="#3aa032"/><circle cx="258.5" cy="967.58" r="0.67" fill="#46b03a"/><circle cx="230.6" cy="1031.26" r="0.82" fill="#2f8a2a"/><circle cx="233.26" cy="990.83" r="1.06" fill="#46b03a"/><circle cx="241.98" cy="996.32" r="1.09" fill="#2f8a2a"/><circle cx="233.65" cy="966.25" r="0.98" fill="#2a7a26"/><circle cx="252.34" cy="994.53" r="0.65" fill="#2a7a26"/><circle cx="239.43" cy="967.98" r="0.81" fill="#46b03a"/><circle cx="248.98" cy="1001.12" r="0.79" fill="#3aa032"/><circle cx="232.44" cy="990.77" r="0.7" fill="#2a7a26"/><circle cx="249.99" cy="998.27" r="0.73" fill="#2a7a26"/><circle cx="272.1" cy="1012.12" r="1.01" fill="#2a7a26"/><circle cx="228.69" cy="1001.93" r="1.08" fill="#3aa032"/><circle cx="234.86" cy="1027.73" r="0.69" fill="#46b03a"/><circle cx="256.55" cy="1034.21" r="1.03" fill="#2f8a2a"/><circle cx="243.43" cy="1016.9" r="0.72" fill="#3aa032"/><circle cx="248.96" cy="1014.14" r="0.89" fill="#46b03a"/><circle cx="243.35" cy="1030.84" r="0.75" fill="#2a7a26"/><circle cx="257.78" cy="1028.04" r="0.83" fill="#2a7a26"/><circle cx="244.47" cy="991.9" r="1.06" fill="#2a7a26"/><circle cx="222.58" cy="997.87" r="0.84" fill="#46b03a"/><circle cx="239.69" cy="971.14" r="0.69" fill="#46b03a"/><circle cx="218.12" cy="988.94" r="0.89" fill="#2a7a26"/><circle cx="228.26" cy="996.88" r="0.91" fill="#46b03a"/><circle cx="233.54" cy="1003.49" r="0.89" fill="#2a7a26"/><circle cx="259" cy="1013.13" r="0.74" fill="#3aa032"/><circle cx="248.74" cy="943.19" r="0.93" fill="#46b03a"/><circle cx="268.94" cy="982.37" r="1.02" fill="#2f8a2a"/><circle cx="257.06" cy="985.83" r="0.91" fill="#3aa032"/><circle cx="245.29" cy="979.95" r="0.81" fill="#2f8a2a"/><circle cx="259.33" cy="996.09" r="0.94" fill="#3aa032"/><circle cx="237.74" cy="982.7" r="0.76" fill="#46b03a"/><circle cx="259.47" cy="985.54" r="0.72" fill="#46b03a"/><circle cx="230.31" cy="983.99" r="0.94" fill="#2f8a2a"/><circle cx="236.55" cy="1015.89" r="1.06" fill="#46b03a"/><circle cx="219.84" cy="993.51" r="1" fill="#3aa032"/><circle cx="244.52" cy="1003.47" r="0.79" fill="#46b03a"/><circle cx="258.21" cy="999.71" r="0.94" fill="#46b03a"/><circle cx="238.07" cy="1024.79" r="1.06" fill="#3aa032"/><circle cx="236.64" cy="975.5" r="0.76" fill="#3aa032"/><circle cx="241.53" cy="1025.66" r="0.81" fill="#3aa032"/><circle cx="260.72" cy="1009.47" r="0.68" fill="#46b03a"/><circle cx="256.37" cy="1012.07" r="1.04" fill="#2a7a26"/><circle cx="241.42" cy="995.15" r="1.08" fill="#2a7a26"/><circle cx="211.96" cy="968.37" r="0.83" fill="#46b03a"/><circle cx="244.17" cy="960.39" r="1.09" fill="#3aa032"/><circle cx="252.87" cy="981.87" r="1.04" fill="#2f8a2a"/><circle cx="244.62" cy="967.69" r="0.79" fill="#2f8a2a"/><circle cx="236.52" cy="987.27" r="1.03" fill="#46b03a"/><circle cx="239.18" cy="989.35" r="0.71" fill="#46b03a"/><circle cx="234.45" cy="1021.84" r="0.88" fill="#46b03a"/><circle cx="266.71" cy="944.2" r="0.65" fill="#3aa032"/><circle cx="255.87" cy="969.79" r="0.98" fill="#2f8a2a"/><circle cx="229.33" cy="1006.99" r="0.99" fill="#2a7a26"/><circle cx="248.1" cy="976.9" r="0.83" fill="#46b03a"/><circle cx="253.7" cy="977" r="0.97" fill="#46b03a"/><circle cx="241.19" cy="994.93" r="0.9" fill="#46b03a"/><circle cx="239.23" cy="997.64" r="0.71" fill="#3aa032"/><circle cx="253.99" cy="1035.27" r="0.72" fill="#3aa032"/><circle cx="214.35" cy="953.19" r="0.89" fill="#46b03a"/><circle cx="239.83" cy="999.22" r="0.93" fill="#3aa032"/><circle cx="229.11" cy="973.82" r="0.99" fill="#3aa032"/><circle cx="235.14" cy="1010.28" r="0.75" fill="#46b03a"/><circle cx="243.83" cy="1012.95" r="0.74" fill="#46b03a"/><circle cx="252.13" cy="998.6" r="1.08" fill="#46b03a"/><circle cx="234.79" cy="1024.64" r="1.02" fill="#2a7a26"/><circle cx="253.09" cy="989.38" r="0.63" fill="#2a7a26"/><circle cx="237.61" cy="998.77" r="1.07" fill="#3aa032"/><circle cx="253.26" cy="982.22" r="0.67" fill="#3aa032"/><circle cx="259.56" cy="1031.65" r="1.07" fill="#3aa032"/><circle cx="248.18" cy="987.71" r="1.06" fill="#3aa032"/><circle cx="245.21" cy="983.12" r="0.66" fill="#3aa032"/><circle cx="253.21" cy="981.13" r="0.91" fill="#3aa032"/><circle cx="245.71" cy="997.74" r="1.03" fill="#46b03a"/><circle cx="242.77" cy="984.52" r="0.99" fill="#3aa032"/><circle cx="237.98" cy="1013.02" r="0.96" fill="#46b03a"/><circle cx="227.58" cy="1029.71" r="1.06" fill="#2a7a26"/><circle cx="231" cy="973.32" r="0.73" fill="#2a7a26"/><circle cx="231.51" cy="983.3" r="0.86" fill="#3aa032"/><circle cx="250.47" cy="963.23" r="0.78" fill="#3aa032"/><circle cx="245.28" cy="1015.31" r="1" fill="#46b03a"/><circle cx="254" cy="955.58" r="0.63" fill="#46b03a"/><circle cx="219.35" cy="967.4" r="0.75" fill="#2a7a26"/><circle cx="224.67" cy="1008.36" r="0.92" fill="#46b03a"/><circle cx="231.52" cy="1030.12" r="0.99" fill="#3aa032"/><circle cx="241.34" cy="965.96" r="0.78" fill="#2f8a2a"/><circle cx="244.26" cy="948.41" r="0.95" fill="#2f8a2a"/><circle cx="231.64" cy="977.19" r="0.76" fill="#2a7a26"/><circle cx="232.49" cy="988.11" r="0.79" fill="#2f8a2a"/><circle cx="263.96" cy="1023.58" r="0.76" fill="#3aa032"/><circle cx="249.71" cy="996.82" r="0.7" fill="#2a7a26"/><circle cx="230.77" cy="1001.83" r="0.65" fill="#3aa032"/><circle cx="229.05" cy="984.67" r="0.84" fill="#46b03a"/><circle cx="241.56" cy="973.41" r="1.09" fill="#2f8a2a"/><circle cx="243.07" cy="999.75" r="0.96" fill="#2f8a2a"/><circle cx="240.27" cy="1006.09" r="0.79" fill="#46b03a"/><circle cx="226.53" cy="1023.39" r="1.07" fill="#2f8a2a"/><circle cx="261.62" cy="965.17" r="0.81" fill="#3aa032"/><circle cx="253.46" cy="960.24" r="1.06" fill="#3aa032"/><circle cx="221.36" cy="1011.26" r="0.76" fill="#46b03a"/><circle cx="247.48" cy="978.92" r="0.72" fill="#2f8a2a"/><circle cx="223.76" cy="998.96" r="1.1" fill="#2f8a2a"/><circle cx="226.97" cy="991.68" r="0.72" fill="#2f8a2a"/><circle cx="229.12" cy="997.74" r="0.93" fill="#2f8a2a"/><circle cx="235.61" cy="994.78" r="0.91" fill="#46b03a"/><circle cx="251.34" cy="980.61" r="1.06" fill="#2f8a2a"/><circle cx="230.81" cy="995.25" r="0.83" fill="#2f8a2a"/><circle cx="241.05" cy="993.01" r="0.63" fill="#46b03a"/><circle cx="241.37" cy="1019.59" r="1.08" fill="#46b03a"/><circle cx="222.33" cy="1030.83" r="0.95" fill="#2f8a2a"/><circle cx="238.28" cy="997.7" r="0.99" fill="#2f8a2a"/><circle cx="248.16" cy="998.11" r="0.82" fill="#2f8a2a"/><circle cx="242" cy="996.38" r="1.03" fill="#3aa032"/><circle cx="236.34" cy="966.73" r="0.89" fill="#46b03a"/><circle cx="252.46" cy="960.9" r="0.77" fill="#2f8a2a"/><circle cx="220.31" cy="995.88" r="0.94" fill="#2f8a2a"/><circle cx="251.42" cy="1009.64" r="0.86" fill="#2a7a26"/><circle cx="237" cy="994.38" r="0.76" fill="#3aa032"/><circle cx="244.13" cy="1039.85" r="0.9" fill="#3aa032"/><circle cx="234.61" cy="1024.57" r="0.68" fill="#46b03a"/><circle cx="258.85" cy="1001.75" r="0.8" fill="#2a7a26"/><circle cx="254.85" cy="988.37" r="0.85" fill="#2f8a2a"/><circle cx="264.02" cy="1038.25" r="1" fill="#3aa032"/><circle cx="228.18" cy="1004.5" r="0.67" fill="#3aa032"/><circle cx="260.9" cy="986.52" r="0.73" fill="#3aa032"/><circle cx="264.6" cy="941.47" r="0.97" fill="#3aa032"/><circle cx="259.64" cy="998.76" r="0.93" fill="#3aa032"/><circle cx="255.83" cy="984.22" r="0.64" fill="#2a7a26"/><circle cx="241" cy="991.64" r="0.88" fill="#3aa032"/><circle cx="244.06" cy="989.59" r="0.99" fill="#46b03a"/><circle cx="242.74" cy="1009.3" r="0.63" fill="#46b03a"/><circle cx="234.09" cy="1015.14" r="0.84" fill="#3aa032"/><circle cx="241.67" cy="1004.91" r="1.09" fill="#46b03a"/><circle cx="246.44" cy="978.17" r="0.84" fill="#2a7a26"/><circle cx="252.17" cy="959.32" r="0.94" fill="#46b03a"/><circle cx="236.4" cy="997.64" r="0.76" fill="#2a7a26"/><circle cx="267.94" cy="950.18" r="0.75" fill="#2a7a26"/><circle cx="251.27" cy="959.62" r="0.79" fill="#2f8a2a"/><circle cx="243.6" cy="995.11" r="0.98" fill="#3aa032"/><circle cx="246.43" cy="1027.14" r="0.63" fill="#2a7a26"/><circle cx="216.31" cy="990.13" r="0.74" fill="#46b03a"/><circle cx="258.16" cy="963.61" r="0.81" fill="#2f8a2a"/><circle cx="227.54" cy="967.26" r="0.87" fill="#2a7a26"/><circle cx="236.22" cy="993.96" r="0.86" fill="#46b03a"/><circle cx="262.11" cy="998.68" r="0.63" fill="#2f8a2a"/><circle cx="246.06" cy="1016.51" r="0.71" fill="#2a7a26"/><circle cx="254.15" cy="962.48" r="0.66" fill="#3aa032"/><circle cx="257.3" cy="1004.86" r="1.09" fill="#2a7a26"/><circle cx="248.91" cy="1023.24" r="0.88" fill="#2a7a26"/><circle cx="252.63" cy="1030.38" r="1.02" fill="#2f8a2a"/><circle cx="248.7" cy="986.44" r="1.05" fill="#2f8a2a"/><circle cx="228.09" cy="1025.05" r="0.86" fill="#2a7a26"/><circle cx="244.72" cy="962.58" r="0.76" fill="#2a7a26"/><circle cx="243.39" cy="961.56" r="1.03" fill="#2f8a2a"/><circle cx="235.48" cy="1030.73" r="1.05" fill="#2f8a2a"/><circle cx="233.94" cy="951.66" r="0.73" fill="#46b03a"/><circle cx="233.97" cy="998.22" r="0.81" fill="#2a7a26"/><circle cx="242.97" cy="993.02" r="1.04" fill="#46b03a"/><circle cx="229.07" cy="1022.49" r="1.08" fill="#2f8a2a"/><circle cx="252.85" cy="987.08" r="0.71" fill="#2a7a26"/><circle cx="243.37" cy="975.88" r="0.71" fill="#2f8a2a"/><circle cx="248.2" cy="981.84" r="0.89" fill="#2a7a26"/><circle cx="236.77" cy="972.74" r="1.07" fill="#2a7a26"/><circle cx="245.5" cy="1034.33" r="0.95" fill="#3aa032"/><circle cx="245.35" cy="1016.17" r="0.91" fill="#2f8a2a"/><circle cx="248.51" cy="976.97" r="0.9" fill="#46b03a"/><circle cx="253.29" cy="984.54" r="0.87" fill="#2f8a2a"/><circle cx="236.52" cy="1018.47" r="1.09" fill="#46b03a"/><circle cx="237.08" cy="997.51" r="0.79" fill="#2a7a26"/><circle cx="225.95" cy="942.33" r="0.95" fill="#46b03a"/><circle cx="234.97" cy="1003.76" r="1.04" fill="#2a7a26"/><circle cx="216.81" cy="1015.82" r="0.81" fill="#3aa032"/><circle cx="244.88" cy="999.99" r="0.63" fill="#3aa032"/><circle cx="260.54" cy="1009.39" r="0.65" fill="#2a7a26"/><circle cx="232.67" cy="984.44" r="0.61" fill="#2f8a2a"/><circle cx="230.93" cy="993.16" r="1.01" fill="#46b03a"/><circle cx="239.46" cy="1008.11" r="0.79" fill="#3aa032"/><circle cx="248.93" cy="977.67" r="1.09" fill="#46b03a"/><circle cx="230.3" cy="984.7" r="1.03" fill="#2f8a2a"/><circle cx="240.38" cy="965.75" r="0.89" fill="#2a7a26"/><circle cx="241.29" cy="1017.04" r="0.84" fill="#46b03a"/><circle cx="249.37" cy="993.56" r="0.72" fill="#2f8a2a"/><circle cx="226.6" cy="939.51" r="0.98" fill="#46b03a"/><circle cx="225.58" cy="991.45" r="1.02" fill="#2a7a26"/><circle cx="247.69" cy="1009.79" r="0.61" fill="#2f8a2a"/><circle cx="226.16" cy="994.87" r="0.61" fill="#46b03a"/><circle cx="243.26" cy="1031.04" r="1.07" fill="#3aa032"/><circle cx="228.87" cy="1007.34" r="0.72" fill="#2f8a2a"/><circle cx="229.09" cy="1012.85" r="0.6" fill="#3aa032"/><circle cx="242.25" cy="1010.2" r="0.74" fill="#2a7a26"/><circle cx="255.75" cy="1018.92" r="0.71" fill="#2a7a26"/><circle cx="240.05" cy="1027.88" r="0.86" fill="#3aa032"/><circle cx="236.6" cy="955.27" r="0.9" fill="#2a7a26"/><circle cx="234.64" cy="1016.67" r="0.61" fill="#46b03a"/><circle cx="253.05" cy="1014.84" r="0.63" fill="#2f8a2a"/><circle cx="227.7" cy="950.69" r="0.71" fill="#3aa032"/><circle cx="263.88" cy="983.49" r="0.82" fill="#2a7a26"/><circle cx="242.76" cy="993.85" r="0.69" fill="#46b03a"/><circle cx="232.08" cy="983.05" r="0.93" fill="#3aa032"/><circle cx="231.66" cy="978.5" r="0.64" fill="#46b03a"/><circle cx="253.01" cy="978.72" r="0.71" fill="#2f8a2a"/><circle cx="235.07" cy="963.17" r="0.88" fill="#2f8a2a"/><circle cx="250.92" cy="943.17" r="1.03" fill="#2f8a2a"/><circle cx="241.13" cy="1015.19" r="0.84" fill="#46b03a"/><circle cx="251.34" cy="966.25" r="0.63" fill="#46b03a"/><g filter="url(#speck5)"><ellipse cx="243.5" cy="981" rx="15" ry="30" fill="#72c83a" transform="rotate(-6 243.5 981)"/><ellipse cx="240" cy="1005" rx="12" ry="14" fill="#5cb834" transform="rotate(-6 240 1005)"/><ellipse cx="231" cy="963" rx="6.5" ry="10" fill="#e8321e"/><ellipse cx="226" cy="988" rx="7" ry="11" fill="#e8321e"/><ellipse cx="234" cy="977" rx="7" ry="21" fill="#dcee48" transform="rotate(-5 234 977)"/></g></g><line x1="198.5" y1="950.5" x2="279.4" y2="1019.3" stroke="#fff" stroke-width="2.8" stroke-dasharray="7.4 4.7"/>
<text x="190.5" y="1033.8" font-size="30" text-anchor="start" font-weight="bold" fill="#fff">1</text>
<rect x="756" y="1369.5" width="24.6" height="2.3" fill="#cfcfcf"/>
<rect x="782.23" y="1363.1" width="24.6" height="8.7" fill="#388a41"/>
<rect x="808.46" y="1355" width="24.6" height="16.8" fill="#388a41"/>
<rect x="834.69" y="1345.5" width="24.6" height="26.3" fill="#388a41"/>
<rect x="860.92" y="1328.6" width="24.6" height="43.2" fill="#388a41"/>
<rect x="887.15" y="1297" width="24.6" height="74.8" fill="#388a41"/>
<rect x="887.15" y="1301.5" width="24.6" height="70.3" fill="#b7612a"/>
<rect x="913.38" y="959.8" width="24.6" height="412" fill="#9a1f27"/>
<rect x="913.38" y="1078" width="24.6" height="293.8" fill="#b7612a"/>
<rect x="939.61" y="983.7" width="24.6" height="388.1" fill="#9a1f27"/>
<rect x="939.61" y="1104" width="24.6" height="267.8" fill="#b7612a"/>
<rect x="965.84" y="1302.2" width="24.6" height="69.6" fill="#388a41"/>
<rect x="965.84" y="1313.8" width="24.6" height="58" fill="#b7612a"/>
<rect x="992.07" y="1348" width="24.6" height="23.8" fill="#388a41"/>
<rect x="1018.3" y="1359.2" width="24.6" height="12.6" fill="#388a41"/>
<rect x="1044.53" y="1366" width="24.6" height="5.8" fill="#388a41"/>
<line x1="744.2" y1="936.5" x2="744.2" y2="1373.8" stroke="#000" stroke-width="4"/>
<line x1="725.7" y1="1371.8" x2="1160.6" y2="1371.8" stroke="#000" stroke-width="4"/>
<line x1="725.7" y1="1371.8" x2="744.2" y2="1371.8" stroke="#000" stroke-width="4"/>
<text x="714" y="1384.6" font-size="36" text-anchor="end" fill="#000">0</text>
<line x1="725.7" y1="1263.47" x2="744.2" y2="1263.47" stroke="#000" stroke-width="4"/>
<text x="714" y="1276.27" font-size="36" text-anchor="end" fill="#000">1</text>
<line x1="725.7" y1="1155.14" x2="744.2" y2="1155.14" stroke="#000" stroke-width="4"/>
<text x="714" y="1167.94" font-size="36" text-anchor="end" fill="#000">2</text>
<line x1="725.7" y1="1046.81" x2="744.2" y2="1046.81" stroke="#000" stroke-width="4"/>
<text x="714" y="1059.61" font-size="36" text-anchor="end" fill="#000">3</text>
<line x1="725.7" y1="938.48" x2="744.2" y2="938.48" stroke="#000" stroke-width="4"/>
<text x="714" y="951.28" font-size="36" text-anchor="end" fill="#000">4</text>
<line x1="743" y1="1371.8" x2="743" y2="1388.3" stroke="#000" stroke-width="4"/>
<text x="760.6" y="1417.7" font-size="36" text-anchor="end" fill="#000" transform="rotate(-45 760.6 1417.7)">-2.0</text>
<line x1="794.7" y1="1371.8" x2="794.7" y2="1388.3" stroke="#000" stroke-width="4"/>
<text x="812.3" y="1417.7" font-size="36" text-anchor="end" fill="#000" transform="rotate(-45 812.3 1417.7)">-1.5</text>
<line x1="847.4" y1="1371.8" x2="847.4" y2="1388.3" stroke="#000" stroke-width="4"/>
<text x="865" y="1417.7" font-size="36" text-anchor="end" fill="#000" transform="rotate(-45 865 1417.7)">-1.0</text>
<line x1="899.5" y1="1371.8" x2="899.5" y2="1388.3" stroke="#000" stroke-width="4"/>
<text x="917.1" y="1417.7" font-size="36" text-anchor="end" fill="#000" transform="rotate(-45 917.1 1417.7)">-0.5</text>
<line x1="950.9" y1="1371.8" x2="950.9" y2="1388.3" stroke="#000" stroke-width="4"/>
<text x="950.9" y="1423.5" font-size="36" text-anchor="middle" fill="#000">0</text>
<line x1="1002.5" y1="1371.8" x2="1002.5" y2="1388.3" stroke="#000" stroke-width="4"/>
<text x="1020.1" y="1417.7" font-size="36" text-anchor="end" fill="#000" transform="rotate(-45 1020.1 1417.7)">0.5</text>
<line x1="1055" y1="1371.8" x2="1055" y2="1388.3" stroke="#000" stroke-width="4"/>
<text x="1072.6" y="1417.7" font-size="36" text-anchor="end" fill="#000" transform="rotate(-45 1072.6 1417.7)">1.0</text>
<line x1="1106.8" y1="1371.8" x2="1106.8" y2="1388.3" stroke="#000" stroke-width="4"/>
<text x="1124.4" y="1417.7" font-size="36" text-anchor="end" fill="#000" transform="rotate(-45 1124.4 1417.7)">1.5</text>
<line x1="1158.9" y1="1371.8" x2="1158.9" y2="1388.3" stroke="#000" stroke-width="4"/>
<text x="1176.5" y="1417.7" font-size="36" text-anchor="end" fill="#000" transform="rotate(-45 1176.5 1417.7)">2.0</text>
<text x="725" y="915.7" font-size="35">x10<tspan font-size="25" dy="-17">3</tspan></text>
<text x="656.8" y="1160.2" font-size="42" text-anchor="middle" textLength="197.32" lengthAdjust="spacingAndGlyphs" transform="rotate(-90 656.8 1160.2)">Frequency</text>
<text x="946" y="1505.7" font-size="40" text-anchor="middle" textLength="246.24" lengthAdjust="spacingAndGlyphs">Distance(nm)</text>
<text x="1096.5" y="1505.7" font-size="35">x10<tspan font-size="25" dy="-17">2</tspan></text>
<rect x="1003" y="940.2" width="25.6" height="17" fill="#9a1f27"/>
<text x="1041" y="955.4" font-size="30.4" text-anchor="start" fill="#000">Coro2B</text>
<rect x="1003" y="976.3" width="25.6" height="17" fill="#388a41"/>
<text x="1041" y="996.8" font-size="30.4" text-anchor="start" fill="#000">UBF</text>
<rect x="1003" y="1014.4" width="25.6" height="17" fill="#c6893d"/>
<text x="1041" y="1034.9" font-size="30.4" text-anchor="start" fill="#000">Merge</text>
<text x="624.6" y="904.6" font-size="50" text-anchor="start" font-weight="bold" fill="#000">D</text>
<rect x="757" y="936" width="108.6" height="103.9" fill="#000"/>
<g><circle cx="802.63" cy="995" r="1.07" fill="#3aa032"/><circle cx="817.66" cy="967.18" r="0.93" fill="#2f8a2a"/><circle cx="826.22" cy="950.32" r="1" fill="#46b03a"/><circle cx="810.6" cy="971.99" r="0.89" fill="#2f8a2a"/><circle cx="799.15" cy="980.47" r="1.06" fill="#2f8a2a"/><circle cx="829.9" cy="997.71" r="0.95" fill="#2f8a2a"/><circle cx="799.4" cy="974.22" r="0.99" fill="#3aa032"/><circle cx="787.04" cy="1005.66" r="0.75" fill="#46b03a"/><circle cx="799.31" cy="1003.6" r="0.6" fill="#2f8a2a"/><circle cx="857.04" cy="986.63" r="0.78" fill="#46b03a"/><circle cx="803.69" cy="982.68" r="0.73" fill="#2f8a2a"/><circle cx="799.47" cy="965.9" r="0.81" fill="#46b03a"/><circle cx="823.39" cy="1002.95" r="0.91" fill="#46b03a"/><circle cx="792.14" cy="977.18" r="0.86" fill="#3aa032"/><circle cx="846.36" cy="964.4" r="0.96" fill="#46b03a"/><circle cx="795.8" cy="980.12" r="0.63" fill="#2f8a2a"/><circle cx="805.93" cy="980.29" r="0.79" fill="#2f8a2a"/><circle cx="779.81" cy="987.72" r="0.81" fill="#46b03a"/><circle cx="777.48" cy="952.52" r="0.63" fill="#2f8a2a"/><circle cx="783.57" cy="976.24" r="0.64" fill="#2f8a2a"/><circle cx="819.12" cy="974.72" r="0.9" fill="#46b03a"/><circle cx="767.15" cy="982.42" r="1.04" fill="#2a7a26"/><circle cx="782.4" cy="988.86" r="0.73" fill="#46b03a"/><circle cx="827.94" cy="962.84" r="0.9" fill="#2a7a26"/><circle cx="826.84" cy="982.34" r="1.02" fill="#2a7a26"/><circle cx="794.39" cy="963.77" r="0.61" fill="#2a7a26"/><circle cx="838.41" cy="1000.34" r="1.02" fill="#2a7a26"/><circle cx="773.97" cy="996.37" r="0.87" fill="#46b03a"/><circle cx="815.57" cy="993.31" r="1.06" fill="#46b03a"/><circle cx="779.95" cy="989.71" r="0.83" fill="#2a7a26"/><circle cx="844.42" cy="987.71" r="0.87" fill="#2a7a26"/><circle cx="798.79" cy="973.99" r="0.94" fill="#2f8a2a"/><circle cx="807.81" cy="981.05" r="0.72" fill="#3aa032"/><circle cx="792.83" cy="973.85" r="1.02" fill="#3aa032"/><circle cx="769.71" cy="972.69" r="0.88" fill="#46b03a"/><circle cx="817.04" cy="995.81" r="0.95" fill="#3aa032"/><circle cx="819.14" cy="976.5" r="1.1" fill="#3aa032"/><circle cx="787.08" cy="965.62" r="0.84" fill="#2f8a2a"/><circle cx="812.97" cy="996.49" r="0.67" fill="#46b03a"/><circle cx="813.1" cy="966.85" r="0.7" fill="#3aa032"/><circle cx="798.35" cy="973.48" r="0.67" fill="#2a7a26"/><circle cx="790.41" cy="989.55" r="0.92" fill="#2f8a2a"/><circle cx="817.63" cy="991.1" r="0.76" fill="#46b03a"/><circle cx="816.32" cy="954.89" r="1.04" fill="#2a7a26"/><circle cx="810.68" cy="1009.33" r="1.08" fill="#46b03a"/><circle cx="793.55" cy="995.59" r="1.07" fill="#3aa032"/><circle cx="796.51" cy="992.57" r="0.65" fill="#2a7a26"/><circle cx="808.96" cy="973.03" r="0.8" fill="#2f8a2a"/><circle cx="784.81" cy="977.99" r="1.06" fill="#3aa032"/><circle cx="771.61" cy="975.19" r="1.04" fill="#3aa032"/><circle cx="840.56" cy="994.69" r="0.68" fill="#2a7a26"/><circle cx="843.31" cy="947.69" r="0.94" fill="#2a7a26"/><circle cx="807.99" cy="998.03" r="0.93" fill="#2f8a2a"/><circle cx="812.7" cy="981.79" r="0.87" fill="#3aa032"/><circle cx="791.49" cy="992.76" r="0.86" fill="#3aa032"/><circle cx="800.63" cy="996.23" r="0.62" fill="#46b03a"/><circle cx="853.64" cy="977.61" r="0.84" fill="#46b03a"/><circle cx="780.36" cy="1003.49" r="1.07" fill="#2f8a2a"/><circle cx="760.33" cy="977.88" r="1.07" fill="#2a7a26"/><circle cx="824.15" cy="979.31" r="0.77" fill="#3aa032"/><circle cx="816.29" cy="975.72" r="0.99" fill="#46b03a"/><circle cx="818.91" cy="949.93" r="1.04" fill="#2f8a2a"/><circle cx="842.06" cy="979.31" r="1.06" fill="#46b03a"/><circle cx="810.78" cy="988.02" r="0.83" fill="#2f8a2a"/><circle cx="810.47" cy="971.2" r="0.97" fill="#2f8a2a"/><circle cx="810.09" cy="959.94" r="0.67" fill="#3aa032"/><circle cx="781.78" cy="991.93" r="0.89" fill="#2f8a2a"/><circle cx="805.34" cy="993.19" r="0.84" fill="#46b03a"/><circle cx="850.24" cy="960.86" r="1.08" fill="#2a7a26"/><circle cx="799.01" cy="986.41" r="0.98" fill="#2a7a26"/><circle cx="814.56" cy="985.93" r="1.01" fill="#2f8a2a"/><circle cx="810.46" cy="1003.64" r="0.98" fill="#2a7a26"/><circle cx="863.68" cy="980.66" r="0.76" fill="#3aa032"/><circle cx="812.45" cy="981.65" r="0.85" fill="#2f8a2a"/><circle cx="790.4" cy="978.73" r="0.9" fill="#46b03a"/><circle cx="818.6" cy="1015.77" r="0.63" fill="#2f8a2a"/><circle cx="821.33" cy="975.8" r="0.69" fill="#2a7a26"/><circle cx="814.12" cy="991.09" r="0.65" fill="#3aa032"/><circle cx="803.59" cy="979.73" r="0.83" fill="#2f8a2a"/><circle cx="798.52" cy="994.75" r="0.74" fill="#2f8a2a"/><circle cx="843.37" cy="1007.15" r="1.08" fill="#3aa032"/><circle cx="825.3" cy="971.17" r="1.01" fill="#46b03a"/><circle cx="792.84" cy="981.04" r="0.87" fill="#2a7a26"/><circle cx="814.28" cy="997.85" r="0.92" fill="#46b03a"/><circle cx="807.13" cy="952.26" r="0.8" fill="#3aa032"/><circle cx="798.69" cy="985.1" r="1.01" fill="#3aa032"/><circle cx="851.6" cy="991.19" r="1.04" fill="#2a7a26"/><circle cx="815.2" cy="949.41" r="0.71" fill="#2f8a2a"/><circle cx="840.09" cy="971.83" r="1.1" fill="#3aa032"/><circle cx="805.28" cy="990.39" r="0.74" fill="#2f8a2a"/><circle cx="819.63" cy="972.08" r="0.82" fill="#46b03a"/><circle cx="761.43" cy="991.07" r="1.05" fill="#46b03a"/><circle cx="843.05" cy="979.49" r="0.75" fill="#2a7a26"/><circle cx="790.63" cy="993.37" r="0.73" fill="#2a7a26"/><circle cx="821.74" cy="996.09" r="0.81" fill="#46b03a"/><circle cx="813.12" cy="979.51" r="0.85" fill="#2a7a26"/><circle cx="818.41" cy="989.7" r="0.67" fill="#3aa032"/><circle cx="830.52" cy="971.89" r="0.81" fill="#2a7a26"/><circle cx="836.8" cy="999.97" r="0.74" fill="#2a7a26"/><circle cx="839.13" cy="989.12" r="0.98" fill="#2a7a26"/><circle cx="812.47" cy="996.97" r="0.99" fill="#2a7a26"/><circle cx="769.91" cy="1018.19" r="0.64" fill="#46b03a"/><circle cx="822.64" cy="968.71" r="1.01" fill="#2a7a26"/><circle cx="849.95" cy="989.89" r="0.86" fill="#2f8a2a"/><circle cx="831.89" cy="997.02" r="1.01" fill="#46b03a"/><circle cx="786.59" cy="1005.61" r="0.65" fill="#3aa032"/><circle cx="861.18" cy="984.95" r="0.9" fill="#2a7a26"/><circle cx="819.48" cy="952.79" r="0.95" fill="#3aa032"/><circle cx="783.92" cy="998.73" r="0.88" fill="#2a7a26"/><circle cx="816.38" cy="992.39" r="0.99" fill="#3aa032"/><circle cx="791.67" cy="993.39" r="0.97" fill="#2a7a26"/><circle cx="806.82" cy="989.16" r="0.98" fill="#2f8a2a"/><circle cx="801.72" cy="993.87" r="0.8" fill="#3aa032"/><circle cx="798.66" cy="977.44" r="0.76" fill="#46b03a"/><circle cx="836.73" cy="974.48" r="0.92" fill="#3aa032"/><circle cx="759.19" cy="983.23" r="1.06" fill="#2a7a26"/><circle cx="806.11" cy="996.01" r="0.81" fill="#46b03a"/><circle cx="821.8" cy="978.59" r="0.67" fill="#3aa032"/><circle cx="862.43" cy="958.52" r="0.96" fill="#2a7a26"/><circle cx="812.32" cy="974.72" r="0.76" fill="#2a7a26"/><circle cx="807.98" cy="978.43" r="0.92" fill="#2a7a26"/><circle cx="810.18" cy="957.98" r="0.77" fill="#3aa032"/><circle cx="815.95" cy="987.65" r="0.91" fill="#2f8a2a"/><circle cx="804.06" cy="977.09" r="0.86" fill="#2f8a2a"/><circle cx="784.37" cy="997.27" r="0.62" fill="#3aa032"/><circle cx="854.71" cy="1015.31" r="1.03" fill="#46b03a"/><circle cx="821.5" cy="966" r="0.92" fill="#3aa032"/><circle cx="823.39" cy="994.82" r="0.83" fill="#3aa032"/><circle cx="852.4" cy="962.91" r="0.91" fill="#2f8a2a"/><circle cx="800.02" cy="976.68" r="0.61" fill="#2f8a2a"/><circle cx="857.64" cy="993.79" r="0.87" fill="#3aa032"/><circle cx="776.87" cy="955.84" r="1.02" fill="#2a7a26"/><circle cx="823.74" cy="992.9" r="0.77" fill="#2a7a26"/><circle cx="805.02" cy="994.62" r="0.92" fill="#3aa032"/><circle cx="819.93" cy="977.2" r="0.61" fill="#46b03a"/><circle cx="817.95" cy="1019.55" r="0.71" fill="#2a7a26"/><circle cx="837.53" cy="966.46" r="0.89" fill="#3aa032"/><circle cx="819.89" cy="980.12" r="0.64" fill="#2a7a26"/><circle cx="821.7" cy="976.57" r="0.91" fill="#46b03a"/><circle cx="832.82" cy="981.45" r="1.04" fill="#2a7a26"/><circle cx="793.48" cy="1020.34" r="0.84" fill="#2f8a2a"/><circle cx="777.71" cy="990.75" r="0.97" fill="#3aa032"/><circle cx="821.52" cy="993.16" r="0.62" fill="#3aa032"/><circle cx="816.11" cy="986.67" r="1.02" fill="#3aa032"/><circle cx="810.19" cy="968.96" r="0.99" fill="#2f8a2a"/><circle cx="838.6" cy="981.12" r="0.71" fill="#2a7a26"/><circle cx="835.43" cy="1004.18" r="0.71" fill="#2f8a2a"/><circle cx="826.47" cy="997.52" r="0.9" fill="#2f8a2a"/><circle cx="796.4" cy="992.12" r="0.63" fill="#3aa032"/><circle cx="836.51" cy="987.96" r="0.67" fill="#3aa032"/><circle cx="858.89" cy="983.02" r="0.92" fill="#46b03a"/><circle cx="787.93" cy="979.33" r="0.79" fill="#46b03a"/><circle cx="794.84" cy="979.42" r="0.94" fill="#2a7a26"/><circle cx="817.53" cy="969.96" r="0.68" fill="#2f8a2a"/><circle cx="811.67" cy="991.16" r="0.6" fill="#2a7a26"/><circle cx="820.05" cy="987.85" r="0.74" fill="#2f8a2a"/><circle cx="820.22" cy="985.67" r="0.73" fill="#2a7a26"/><circle cx="829.02" cy="989.97" r="0.77" fill="#2f8a2a"/><circle cx="794.33" cy="962.42" r="0.88" fill="#2f8a2a"/><circle cx="758.85" cy="978.92" r="0.77" fill="#2a7a26"/><circle cx="791.53" cy="1005.89" r="1.09" fill="#2a7a26"/><circle cx="835.59" cy="988.91" r="1" fill="#46b03a"/><circle cx="815.79" cy="990.39" r="1.09" fill="#3aa032"/><circle cx="803.78" cy="990.89" r="0.65" fill="#46b03a"/><circle cx="810.1" cy="990.57" r="0.98" fill="#3aa032"/><circle cx="798.66" cy="951.55" r="1.1" fill="#2a7a26"/><circle cx="839.21" cy="982.46" r="0.78" fill="#3aa032"/><circle cx="809.23" cy="976.57" r="0.89" fill="#2f8a2a"/><circle cx="804.11" cy="991.78" r="0.79" fill="#2f8a2a"/><circle cx="856.75" cy="983.6" r="0.91" fill="#46b03a"/><circle cx="783.54" cy="1000.13" r="1.09" fill="#2f8a2a"/><circle cx="760.61" cy="980.2" r="0.66" fill="#46b03a"/><circle cx="820.02" cy="973.77" r="0.72" fill="#2f8a2a"/><circle cx="803.1" cy="1014.85" r="0.69" fill="#2a7a26"/><circle cx="777.96" cy="977.49" r="0.92" fill="#3aa032"/><circle cx="832.61" cy="1013.56" r="0.91" fill="#2a7a26"/><circle cx="817.17" cy="981.55" r="0.72" fill="#2f8a2a"/><circle cx="827.83" cy="977.06" r="0.63" fill="#3aa032"/><circle cx="813.17" cy="1008.92" r="0.69" fill="#2a7a26"/><circle cx="814.9" cy="968.1" r="0.97" fill="#3aa032"/><circle cx="840.99" cy="990.82" r="0.92" fill="#2f8a2a"/><circle cx="829.8" cy="988.43" r="0.7" fill="#3aa032"/><circle cx="794.78" cy="995.92" r="0.96" fill="#2f8a2a"/><circle cx="804.25" cy="981.42" r="0.97" fill="#2a7a26"/><circle cx="801.73" cy="996.01" r="0.92" fill="#2a7a26"/><circle cx="783.69" cy="989.66" r="0.9" fill="#3aa032"/><circle cx="825.1" cy="973.01" r="0.77" fill="#46b03a"/><circle cx="768.52" cy="1013.2" r="0.75" fill="#3aa032"/><circle cx="799.44" cy="998.33" r="0.81" fill="#46b03a"/><circle cx="812.27" cy="961.38" r="0.99" fill="#3aa032"/><circle cx="818.06" cy="994.56" r="0.96" fill="#2f8a2a"/><circle cx="793.53" cy="967.66" r="0.69" fill="#46b03a"/><circle cx="830.03" cy="957.82" r="0.6" fill="#2f8a2a"/><circle cx="822.19" cy="952.8" r="1.06" fill="#46b03a"/><circle cx="817.76" cy="995.97" r="0.66" fill="#46b03a"/><circle cx="837.3" cy="963.44" r="0.75" fill="#3aa032"/><circle cx="765.72" cy="974.65" r="0.72" fill="#46b03a"/><circle cx="813.09" cy="973.17" r="1.09" fill="#3aa032"/><circle cx="830.48" cy="987.2" r="0.63" fill="#2a7a26"/><circle cx="816.73" cy="967.34" r="0.92" fill="#3aa032"/><circle cx="795.77" cy="982.8" r="1.03" fill="#2f8a2a"/><circle cx="840.41" cy="961.96" r="0.73" fill="#2a7a26"/><circle cx="809.01" cy="987.67" r="0.64" fill="#2f8a2a"/><circle cx="803.76" cy="984.31" r="0.64" fill="#2a7a26"/><circle cx="831.79" cy="970.21" r="0.73" fill="#46b03a"/><circle cx="813.79" cy="1014.3" r="0.64" fill="#2f8a2a"/><circle cx="831.88" cy="998.79" r="0.96" fill="#3aa032"/><circle cx="775.13" cy="997.22" r="0.76" fill="#46b03a"/><circle cx="798.83" cy="976.77" r="0.72" fill="#3aa032"/><circle cx="802.78" cy="996.5" r="0.63" fill="#3aa032"/><circle cx="767.81" cy="980.2" r="0.91" fill="#3aa032"/><circle cx="843.83" cy="963.24" r="1.03" fill="#46b03a"/><circle cx="828.16" cy="1015.96" r="0.92" fill="#3aa032"/><circle cx="824.99" cy="987.98" r="0.74" fill="#46b03a"/><circle cx="760.26" cy="959.99" r="0.64" fill="#3aa032"/><circle cx="840.48" cy="991.11" r="1.07" fill="#3aa032"/><circle cx="811.32" cy="969.06" r="1.09" fill="#46b03a"/><circle cx="797.83" cy="999.52" r="1" fill="#46b03a"/><circle cx="778.65" cy="982.43" r="0.92" fill="#3aa032"/><circle cx="762.71" cy="950.41" r="0.72" fill="#2a7a26"/><circle cx="833.98" cy="1014.96" r="1.02" fill="#2a7a26"/><circle cx="833.5" cy="994.6" r="0.61" fill="#3aa032"/><circle cx="817.04" cy="1011.1" r="0.64" fill="#3aa032"/><circle cx="819.3" cy="997.95" r="1.02" fill="#3aa032"/><circle cx="825.08" cy="965.33" r="0.75" fill="#3aa032"/><circle cx="834.24" cy="975.22" r="0.95" fill="#46b03a"/><circle cx="818.04" cy="982.03" r="0.74" fill="#46b03a"/><circle cx="786.57" cy="1004.97" r="1.01" fill="#46b03a"/><circle cx="834.98" cy="1000.11" r="1.09" fill="#2a7a26"/><circle cx="796.37" cy="992.71" r="0.66" fill="#2a7a26"/><circle cx="808.54" cy="1002.07" r="0.78" fill="#2a7a26"/><circle cx="780.2" cy="978.07" r="0.63" fill="#2f8a2a"/><circle cx="809.81" cy="982.32" r="0.72" fill="#2a7a26"/><circle cx="779.68" cy="963.9" r="0.68" fill="#46b03a"/><circle cx="851.6" cy="998" r="0.99" fill="#2a7a26"/><circle cx="857.15" cy="968.53" r="0.74" fill="#3aa032"/><circle cx="839.77" cy="974.67" r="0.83" fill="#46b03a"/><circle cx="814.99" cy="985.48" r="0.71" fill="#2f8a2a"/><circle cx="822.16" cy="956.46" r="1.01" fill="#2a7a26"/><circle cx="776.25" cy="991.05" r="0.98" fill="#46b03a"/><circle cx="828.86" cy="995.27" r="0.81" fill="#46b03a"/><circle cx="827.48" cy="963.47" r="0.98" fill="#3aa032"/><circle cx="829.48" cy="984.37" r="1" fill="#46b03a"/><circle cx="813.67" cy="949.16" r="0.67" fill="#2f8a2a"/><circle cx="815.33" cy="983.3" r="0.75" fill="#46b03a"/><circle cx="800.63" cy="951.23" r="0.68" fill="#3aa032"/><circle cx="784.86" cy="993.39" r="0.71" fill="#2a7a26"/><circle cx="808.42" cy="965.51" r="0.6" fill="#3aa032"/><circle cx="827.2" cy="1009.9" r="0.88" fill="#3aa032"/><circle cx="813.09" cy="997.98" r="1.04" fill="#46b03a"/><circle cx="776.23" cy="1000.07" r="0.89" fill="#3aa032"/><circle cx="849.44" cy="993.96" r="0.97" fill="#3aa032"/><circle cx="833.2" cy="1002.81" r="0.79" fill="#3aa032"/><circle cx="816.36" cy="1001.78" r="0.63" fill="#2f8a2a"/><circle cx="828.08" cy="997.6" r="0.86" fill="#2f8a2a"/><circle cx="800.4" cy="980.95" r="1" fill="#3aa032"/><circle cx="791.19" cy="999.98" r="1.04" fill="#2a7a26"/><circle cx="815.42" cy="963.07" r="0.95" fill="#2a7a26"/><circle cx="821.63" cy="963.81" r="0.62" fill="#2a7a26"/><circle cx="817.43" cy="995.39" r="0.96" fill="#46b03a"/><circle cx="801.95" cy="966.03" r="0.78" fill="#46b03a"/><circle cx="787.8" cy="985.32" r="0.78" fill="#3aa032"/><circle cx="808.12" cy="996.59" r="0.69" fill="#2a7a26"/><circle cx="809.2" cy="984.13" r="0.96" fill="#2a7a26"/><circle cx="819.26" cy="965.64" r="1.05" fill="#3aa032"/><circle cx="793.01" cy="979.61" r="0.6" fill="#2f8a2a"/><circle cx="819.23" cy="990.07" r="1.01" fill="#46b03a"/><circle cx="804.45" cy="991.45" r="0.68" fill="#3aa032"/><circle cx="827.38" cy="1001.29" r="1" fill="#2a7a26"/><circle cx="767.76" cy="985.71" r="1.1" fill="#46b03a"/><circle cx="786.64" cy="1003.75" r="0.8" fill="#46b03a"/><circle cx="802.51" cy="971.08" r="0.68" fill="#2f8a2a"/><circle cx="812.42" cy="989.46" r="0.75" fill="#46b03a"/><circle cx="809.19" cy="1020.39" r="0.74" fill="#2a7a26"/><circle cx="794.92" cy="979.03" r="0.86" fill="#2a7a26"/><circle cx="798.04" cy="979.36" r="0.66" fill="#2a7a26"/><circle cx="793.66" cy="998.64" r="1.06" fill="#2a7a26"/><circle cx="792.16" cy="976.04" r="0.92" fill="#2a7a26"/><circle cx="816.51" cy="962.86" r="1.04" fill="#2a7a26"/><circle cx="857.27" cy="963.44" r="1.01" fill="#2f8a2a"/><circle cx="835.62" cy="997.48" r="0.63" fill="#46b03a"/><circle cx="813.13" cy="981.77" r="0.82" fill="#46b03a"/><circle cx="780.64" cy="994.41" r="1.04" fill="#2a7a26"/><circle cx="782.43" cy="952.15" r="0.68" fill="#46b03a"/><circle cx="818.07" cy="968.93" r="0.8" fill="#46b03a"/><circle cx="842.91" cy="993.09" r="0.7" fill="#2f8a2a"/><circle cx="804.24" cy="958.78" r="0.68" fill="#46b03a"/><circle cx="778.91" cy="994.65" r="0.94" fill="#2a7a26"/><circle cx="782.84" cy="948.86" r="0.72" fill="#46b03a"/><circle cx="803.68" cy="985.38" r="1.04" fill="#2a7a26"/><circle cx="792.1" cy="975.77" r="0.91" fill="#3aa032"/><circle cx="836.51" cy="1002.87" r="1.04" fill="#2f8a2a"/><circle cx="818.31" cy="982.92" r="0.85" fill="#2a7a26"/><circle cx="793.86" cy="967.26" r="1.03" fill="#46b03a"/><circle cx="805.77" cy="963.65" r="0.94" fill="#2a7a26"/><circle cx="794.42" cy="988.25" r="0.64" fill="#46b03a"/><circle cx="806.29" cy="991.58" r="0.73" fill="#2a7a26"/><circle cx="807.76" cy="1005.26" r="0.83" fill="#2f8a2a"/><circle cx="804.97" cy="1013.2" r="1.04" fill="#2f8a2a"/><circle cx="829.7" cy="1008.5" r="1.06" fill="#46b03a"/><circle cx="806.29" cy="978.78" r="0.89" fill="#3aa032"/><circle cx="797.34" cy="1014.47" r="0.74" fill="#3aa032"/><circle cx="810.02" cy="1010.7" r="0.82" fill="#2f8a2a"/><circle cx="762.05" cy="973.28" r="0.95" fill="#3aa032"/><circle cx="849.43" cy="994.56" r="0.98" fill="#3aa032"/><circle cx="805.49" cy="1001.93" r="1.1" fill="#46b03a"/><circle cx="828.35" cy="966.31" r="1.09" fill="#46b03a"/><circle cx="823.3" cy="990.9" r="0.67" fill="#2a7a26"/><circle cx="766.95" cy="984.92" r="0.78" fill="#46b03a"/><circle cx="809.11" cy="967.02" r="0.81" fill="#46b03a"/><circle cx="785.49" cy="995.9" r="0.91" fill="#3aa032"/><circle cx="831.09" cy="1007.73" r="1.02" fill="#3aa032"/><circle cx="808.14" cy="964.65" r="0.73" fill="#46b03a"/><circle cx="799.52" cy="966.72" r="1.05" fill="#2a7a26"/><circle cx="839.93" cy="998.71" r="0.9" fill="#46b03a"/><circle cx="812.34" cy="972.14" r="0.8" fill="#3aa032"/><circle cx="823.91" cy="988.05" r="0.67" fill="#2f8a2a"/><circle cx="800.08" cy="986.85" r="1.02" fill="#2a7a26"/><circle cx="823.52" cy="987.06" r="0.86" fill="#3aa032"/><circle cx="778.53" cy="966.62" r="0.76" fill="#2f8a2a"/><circle cx="820.77" cy="1013.08" r="0.64" fill="#2f8a2a"/><circle cx="788.26" cy="1005.5" r="1.08" fill="#2f8a2a"/><circle cx="776.41" cy="988.09" r="0.81" fill="#2a7a26"/><circle cx="766.75" cy="979.93" r="0.94" fill="#2a7a26"/><circle cx="817.29" cy="1009.63" r="0.9" fill="#2a7a26"/><circle cx="821.19" cy="989.72" r="0.92" fill="#2f8a2a"/><circle cx="803.61" cy="970.29" r="0.7" fill="#3aa032"/><circle cx="798.01" cy="1001.44" r="1.04" fill="#3aa032"/><circle cx="798.48" cy="999.02" r="0.81" fill="#2f8a2a"/><circle cx="758.7" cy="1010.78" r="0.8" fill="#2a7a26"/><circle cx="787.38" cy="965.68" r="1.02" fill="#2a7a26"/><circle cx="761.66" cy="981.84" r="0.76" fill="#2a7a26"/><circle cx="831.96" cy="994.06" r="0.63" fill="#3aa032"/><circle cx="786.14" cy="994.63" r="0.74" fill="#2f8a2a"/><circle cx="834.26" cy="995.66" r="1.04" fill="#3aa032"/><circle cx="793.79" cy="992.97" r="1.02" fill="#46b03a"/><circle cx="847.19" cy="972.16" r="0.73" fill="#3aa032"/><circle cx="821.46" cy="970.32" r="0.79" fill="#2a7a26"/><circle cx="817.98" cy="1005.3" r="0.71" fill="#2f8a2a"/><circle cx="805.82" cy="968.22" r="1.09" fill="#2f8a2a"/><circle cx="814.85" cy="1000.31" r="0.78" fill="#3aa032"/><circle cx="836.98" cy="975.25" r="0.85" fill="#46b03a"/><circle cx="781.05" cy="1012.81" r="1.05" fill="#2a7a26"/><circle cx="798.71" cy="990.3" r="0.61" fill="#2f8a2a"/><circle cx="861.84" cy="989.96" r="0.62" fill="#46b03a"/><circle cx="827.35" cy="1011.23" r="0.97" fill="#46b03a"/><circle cx="835.31" cy="989.14" r="0.61" fill="#2f8a2a"/><circle cx="825.62" cy="989.12" r="0.77" fill="#46b03a"/><circle cx="816.65" cy="998.35" r="1" fill="#46b03a"/><circle cx="812.49" cy="992.94" r="0.75" fill="#3aa032"/><circle cx="781.52" cy="994.31" r="0.69" fill="#3aa032"/><circle cx="789.17" cy="988.98" r="0.94" fill="#46b03a"/><circle cx="803.66" cy="1001.44" r="0.7" fill="#2f8a2a"/><circle cx="831.66" cy="999.79" r="0.74" fill="#3aa032"/><circle cx="785.54" cy="1006.01" r="0.7" fill="#2f8a2a"/><circle cx="830.01" cy="999.16" r="0.89" fill="#46b03a"/><circle cx="804.2" cy="1005.45" r="0.78" fill="#46b03a"/><circle cx="800.25" cy="981.2" r="0.71" fill="#3aa032"/><circle cx="821.76" cy="980.79" r="0.73" fill="#2a7a26"/><circle cx="782.45" cy="970.62" r="0.72" fill="#2f8a2a"/><circle cx="834.43" cy="962.57" r="1.08" fill="#46b03a"/><circle cx="812.13" cy="957.24" r="1.03" fill="#46b03a"/><circle cx="829.94" cy="984.94" r="0.61" fill="#3aa032"/><circle cx="780.24" cy="971.85" r="1.04" fill="#2a7a26"/><circle cx="811.37" cy="979.25" r="0.87" fill="#2a7a26"/><circle cx="833.87" cy="987.59" r="0.95" fill="#2f8a2a"/><circle cx="816.76" cy="947.88" r="0.81" fill="#2f8a2a"/><circle cx="809.43" cy="985.91" r="0.82" fill="#2a7a26"/><circle cx="774.61" cy="966.44" r="1.03" fill="#2f8a2a"/><circle cx="808.33" cy="977.04" r="0.89" fill="#2f8a2a"/><circle cx="829.86" cy="984.79" r="0.8" fill="#46b03a"/><circle cx="839.5" cy="996.51" r="0.93" fill="#3aa032"/><circle cx="837.99" cy="963.77" r="0.6" fill="#3aa032"/><circle cx="835.44" cy="974.53" r="0.6" fill="#46b03a"/><circle cx="804.79" cy="969.27" r="0.89" fill="#2a7a26"/><circle cx="807.5" cy="994.23" r="1.1" fill="#3aa032"/><circle cx="800.32" cy="966.97" r="0.87" fill="#3aa032"/><circle cx="783.73" cy="969.36" r="0.84" fill="#2f8a2a"/><circle cx="850.23" cy="998.19" r="1.01" fill="#46b03a"/><circle cx="779.41" cy="974.62" r="0.63" fill="#2f8a2a"/><circle cx="776.39" cy="992.95" r="1.03" fill="#2f8a2a"/><circle cx="837.98" cy="986.39" r="0.91" fill="#2f8a2a"/><circle cx="806.11" cy="970.1" r="0.63" fill="#46b03a"/><circle cx="782.72" cy="1004.93" r="0.87" fill="#2f8a2a"/><circle cx="797.63" cy="960.66" r="0.88" fill="#3aa032"/><circle cx="780.65" cy="992.6" r="1.08" fill="#2a7a26"/><circle cx="794.57" cy="988.56" r="0.99" fill="#2f8a2a"/><circle cx="799.9" cy="997.83" r="0.64" fill="#2f8a2a"/><circle cx="831.74" cy="1000.38" r="0.97" fill="#2a7a26"/><circle cx="855.86" cy="994.21" r="0.78" fill="#3aa032"/><circle cx="829.97" cy="1013.05" r="0.6" fill="#3aa032"/><circle cx="852.27" cy="967.93" r="0.77" fill="#2f8a2a"/><circle cx="793.11" cy="1000.47" r="0.84" fill="#46b03a"/><circle cx="784.18" cy="981" r="0.82" fill="#3aa032"/><circle cx="832.91" cy="993.57" r="1.06" fill="#2a7a26"/><circle cx="847.44" cy="982.9" r="0.77" fill="#2f8a2a"/><circle cx="814.41" cy="968.64" r="0.77" fill="#2f8a2a"/><circle cx="827.92" cy="1000.8" r="0.65" fill="#2f8a2a"/><circle cx="832.84" cy="986.84" r="0.95" fill="#2f8a2a"/><circle cx="829.3" cy="981.61" r="0.63" fill="#3aa032"/><circle cx="841.96" cy="966.19" r="0.81" fill="#2f8a2a"/><circle cx="827.32" cy="1002.48" r="0.66" fill="#3aa032"/><g filter="url(#speck5)"><ellipse cx="806" cy="988" rx="26" ry="17.5" fill="#76c83a"/><ellipse cx="777" cy="996.5" rx="9" ry="11" fill="#e8321e"/><ellipse cx="788" cy="994" rx="8" ry="10" fill="#dcee48"/></g></g><line x1="758.4" y1="992.4" x2="864.3" y2="997.1" stroke="#fff" stroke-width="3.2" stroke-dasharray="8 3.6"/>
<text x="764" y="1031.8" font-size="30" text-anchor="start" font-weight="bold" fill="#fff">2</text>
<rect x="1406.9" y="1363.8" width="26.4" height="3" fill="#388a41"/>
<rect x="1435.4" y="1346.9" width="26.4" height="19.9" fill="#388a41"/>
<rect x="1463.9" y="1259.3" width="26.4" height="107.5" fill="#388a41"/>
<rect x="1463.9" y="1356.7" width="26.4" height="10.1" fill="#b7612a"/>
<rect x="1492.4" y="1135.7" width="26.4" height="231.1" fill="#9a1f27"/>
<rect x="1492.4" y="1160.4" width="26.4" height="206.4" fill="#b7612a"/>
<rect x="1520.9" y="953.8" width="26.4" height="413" fill="#9a1f27"/>
<rect x="1520.9" y="1003.1" width="26.4" height="363.7" fill="#b7612a"/>
<rect x="1549.4" y="1230" width="26.4" height="136.8" fill="#388a41"/>
<rect x="1549.4" y="1289.9" width="26.4" height="76.9" fill="#b7612a"/>
<rect x="1577.9" y="1311" width="26.4" height="55.8" fill="#388a41"/>
<rect x="1606.4" y="1355" width="26.4" height="11.8" fill="#388a41"/>
<line x1="1308.2" y1="936.3" x2="1308.2" y2="1368.8" stroke="#000" stroke-width="4"/>
<line x1="1289.8" y1="1366.8" x2="1733.5" y2="1366.8" stroke="#000" stroke-width="4"/>
<line x1="1289.8" y1="1366.8" x2="1308.2" y2="1366.8" stroke="#000" stroke-width="4"/>
<text x="1280.2" y="1379.6" font-size="36" text-anchor="end" fill="#000">0</text>
<line x1="1289.8" y1="1295.38" x2="1308.2" y2="1295.38" stroke="#000" stroke-width="4"/>
<text x="1280.2" y="1308.18" font-size="36" text-anchor="end" fill="#000">1</text>
<line x1="1289.8" y1="1223.96" x2="1308.2" y2="1223.96" stroke="#000" stroke-width="4"/>
<text x="1280.2" y="1236.76" font-size="36" text-anchor="end" fill="#000">2</text>
<line x1="1289.8" y1="1152.54" x2="1308.2" y2="1152.54" stroke="#000" stroke-width="4"/>
<text x="1280.2" y="1165.34" font-size="36" text-anchor="end" fill="#000">3</text>
<line x1="1289.8" y1="1081.12" x2="1308.2" y2="1081.12" stroke="#000" stroke-width="4"/>
<text x="1280.2" y="1093.92" font-size="36" text-anchor="end" fill="#000">4</text>
<line x1="1289.8" y1="1009.7" x2="1308.2" y2="1009.7" stroke="#000" stroke-width="4"/>
<text x="1280.2" y="1022.5" font-size="36" text-anchor="end" fill="#000">5</text>
<line x1="1289.8" y1="938.28" x2="1308.2" y2="938.28" stroke="#000" stroke-width="4"/>
<text x="1280.2" y="951.08" font-size="36" text-anchor="end" fill="#000">6</text>
<line x1="1307.7" y1="1366.8" x2="1307.7" y2="1386.6" stroke="#000" stroke-width="4"/>
<text x="1317.8" y="1407.9" font-size="36" text-anchor="end" fill="#000" transform="rotate(-45 1317.8 1407.9)">-2.0</text>
<line x1="1356.6" y1="1366.8" x2="1356.6" y2="1386.6" stroke="#000" stroke-width="4"/>
<text x="1366.7" y="1407.9" font-size="36" text-anchor="end" fill="#000" transform="rotate(-45 1366.7 1407.9)">-1.5</text>
<line x1="1403.4" y1="1366.8" x2="1403.4" y2="1386.6" stroke="#000" stroke-width="4"/>
<text x="1413.5" y="1407.9" font-size="36" text-anchor="end" fill="#000" transform="rotate(-45 1413.5 1407.9)">-1.0</text>
<line x1="1451.7" y1="1366.8" x2="1451.7" y2="1386.6" stroke="#000" stroke-width="4"/>
<text x="1461.8" y="1407.9" font-size="36" text-anchor="end" fill="#000" transform="rotate(-45 1461.8 1407.9)">-0.5</text>
<line x1="1499.3" y1="1366.8" x2="1499.3" y2="1386.6" stroke="#000" stroke-width="4"/>
<text x="1497.5" y="1413.6" font-size="36" text-anchor="middle" fill="#000">0</text>
<line x1="1546.6" y1="1366.8" x2="1546.6" y2="1386.6" stroke="#000" stroke-width="4"/>
<text x="1556.7" y="1407.9" font-size="36" text-anchor="end" fill="#000" transform="rotate(-45 1556.7 1407.9)">0.5</text>
<line x1="1593.9" y1="1366.8" x2="1593.9" y2="1386.6" stroke="#000" stroke-width="4"/>
<text x="1604" y="1407.9" font-size="36" text-anchor="end" fill="#000" transform="rotate(-45 1604 1407.9)">1.0</text>
<line x1="1641" y1="1366.8" x2="1641" y2="1386.6" stroke="#000" stroke-width="4"/>
<text x="1651.1" y="1407.9" font-size="36" text-anchor="end" fill="#000" transform="rotate(-45 1651.1 1407.9)">1.5</text>
<line x1="1688.4" y1="1366.8" x2="1688.4" y2="1386.6" stroke="#000" stroke-width="4"/>
<text x="1698.5" y="1407.9" font-size="36" text-anchor="end" fill="#000" transform="rotate(-45 1698.5 1407.9)">2.0</text>
<line x1="1732.4" y1="1366.8" x2="1732.4" y2="1386.6" stroke="#000" stroke-width="4"/>
<text x="1742.5" y="1407.9" font-size="36" text-anchor="end" fill="#000" transform="rotate(-45 1742.5 1407.9)">2.5</text>
<text x="1290.3" y="916.9" font-size="35">x10<tspan font-size="25" dy="-17">3</tspan></text>
<text x="1219.8" y="1152.5" font-size="42" text-anchor="middle" textLength="195.98" lengthAdjust="spacingAndGlyphs" transform="rotate(-90 1219.8 1152.5)">Frequency</text>
<text x="1508" y="1496.2" font-size="40" text-anchor="middle" textLength="246.65" lengthAdjust="spacingAndGlyphs">Distance(nm)</text>
<text x="1664.3" y="1496.2" font-size="35">x10<tspan font-size="25" dy="-17">2</tspan></text>
<rect x="1564.4" y="941.5" width="26.3" height="17" fill="#9a1f27"/>
<text x="1603.5" y="956.7" font-size="30.3" text-anchor="start" fill="#000">Coro2B</text>
<rect x="1564.4" y="977.5" width="26.3" height="17" fill="#388a41"/>
<text x="1603.5" y="998" font-size="30.3" text-anchor="start" fill="#000">UBF</text>
<rect x="1564.4" y="1015.4" width="26.3" height="17" fill="#c6893d"/>
<text x="1603.5" y="1035.9" font-size="30.3" text-anchor="start" fill="#000">Merge</text>
<text x="1180.5" y="904.8" font-size="50" text-anchor="start" font-weight="bold" fill="#000">E</text>
<rect x="1320.7" y="935.4" width="112" height="103.5" fill="#000"/>
<g><circle cx="1376.79" cy="978.18" r="0.87" fill="#3aa032"/><circle cx="1369.14" cy="998.59" r="1.05" fill="#46b03a"/><circle cx="1374.58" cy="1005.39" r="0.64" fill="#46b03a"/><circle cx="1365.15" cy="977.82" r="0.89" fill="#2f8a2a"/><circle cx="1397.15" cy="979.27" r="0.85" fill="#46b03a"/><circle cx="1387.4" cy="979.88" r="0.73" fill="#3aa032"/><circle cx="1389.68" cy="971.49" r="0.98" fill="#2a7a26"/><circle cx="1356.39" cy="969.26" r="0.91" fill="#3aa032"/><circle cx="1380.7" cy="967.6" r="0.97" fill="#46b03a"/><circle cx="1357.09" cy="973.36" r="0.92" fill="#2a7a26"/><circle cx="1381.28" cy="993.62" r="0.94" fill="#2a7a26"/><circle cx="1360.57" cy="981.12" r="1.08" fill="#2f8a2a"/><circle cx="1392.5" cy="949.06" r="0.9" fill="#2a7a26"/><circle cx="1387.33" cy="1007.74" r="0.86" fill="#2a7a26"/><circle cx="1354.73" cy="966.76" r="0.64" fill="#46b03a"/><circle cx="1375.8" cy="995.54" r="1.05" fill="#2a7a26"/><circle cx="1411.6" cy="989.24" r="0.69" fill="#2f8a2a"/><circle cx="1382.22" cy="1001.44" r="0.9" fill="#2a7a26"/><circle cx="1400.05" cy="955.01" r="1.02" fill="#3aa032"/><circle cx="1403.09" cy="967.74" r="0.86" fill="#2a7a26"/><circle cx="1376.76" cy="974.69" r="0.68" fill="#46b03a"/><circle cx="1351.22" cy="987.46" r="0.65" fill="#2a7a26"/><circle cx="1344.37" cy="986.01" r="0.98" fill="#3aa032"/><circle cx="1366.28" cy="953.56" r="0.8" fill="#2f8a2a"/><circle cx="1381.17" cy="972.02" r="0.66" fill="#3aa032"/><circle cx="1388.95" cy="985.34" r="0.86" fill="#3aa032"/><circle cx="1396.89" cy="957.54" r="0.98" fill="#2a7a26"/><circle cx="1410.84" cy="976.78" r="0.95" fill="#46b03a"/><circle cx="1385.18" cy="968.7" r="0.94" fill="#2a7a26"/><circle cx="1344.33" cy="990.19" r="0.62" fill="#3aa032"/><circle cx="1393.83" cy="950.88" r="0.7" fill="#2f8a2a"/><circle cx="1397.8" cy="984.18" r="0.85" fill="#3aa032"/><circle cx="1354.98" cy="1007.37" r="0.65" fill="#2f8a2a"/><circle cx="1383.61" cy="1008.04" r="0.62" fill="#2a7a26"/><circle cx="1413.06" cy="1007.12" r="1.03" fill="#3aa032"/><circle cx="1363.76" cy="971.18" r="0.95" fill="#46b03a"/><circle cx="1378.37" cy="993.71" r="1" fill="#2a7a26"/><circle cx="1371.65" cy="991.79" r="0.65" fill="#2f8a2a"/><circle cx="1357.65" cy="1007.26" r="0.89" fill="#46b03a"/><circle cx="1373.81" cy="976.8" r="1.05" fill="#2a7a26"/><circle cx="1354.46" cy="999.1" r="0.82" fill="#3aa032"/><circle cx="1380.55" cy="982.24" r="0.96" fill="#2a7a26"/><circle cx="1376.16" cy="967.23" r="0.8" fill="#46b03a"/><circle cx="1394.43" cy="989.75" r="0.65" fill="#2a7a26"/><circle cx="1365.46" cy="1010.51" r="0.68" fill="#2a7a26"/><circle cx="1352.78" cy="991.41" r="0.8" fill="#46b03a"/><circle cx="1362.88" cy="986.21" r="0.99" fill="#46b03a"/><circle cx="1376.77" cy="988.7" r="0.62" fill="#46b03a"/><circle cx="1408.99" cy="975.14" r="0.71" fill="#2f8a2a"/><circle cx="1363.92" cy="996.85" r="0.78" fill="#46b03a"/><circle cx="1380.04" cy="1003.92" r="0.86" fill="#46b03a"/><circle cx="1368.52" cy="1017.4" r="0.68" fill="#46b03a"/><circle cx="1411.16" cy="1001.63" r="0.9" fill="#2f8a2a"/><circle cx="1354.24" cy="954.8" r="0.94" fill="#2f8a2a"/><circle cx="1366.56" cy="976.92" r="0.8" fill="#46b03a"/><circle cx="1394.23" cy="973.36" r="0.95" fill="#2a7a26"/><circle cx="1391.36" cy="1028.89" r="0.85" fill="#2a7a26"/><circle cx="1372.95" cy="1006.26" r="0.67" fill="#3aa032"/><circle cx="1394.71" cy="995.25" r="0.95" fill="#3aa032"/><circle cx="1384.44" cy="987.67" r="0.73" fill="#46b03a"/><circle cx="1390.78" cy="976.46" r="0.82" fill="#3aa032"/><circle cx="1376.51" cy="978" r="0.99" fill="#3aa032"/><circle cx="1392.94" cy="998.07" r="0.96" fill="#3aa032"/><circle cx="1386.54" cy="1004.47" r="0.99" fill="#2a7a26"/><circle cx="1372.89" cy="1008.43" r="0.82" fill="#2f8a2a"/><circle cx="1372.92" cy="947.56" r="0.83" fill="#2a7a26"/><circle cx="1402.96" cy="986.29" r="0.98" fill="#2a7a26"/><circle cx="1346.03" cy="1002.79" r="0.76" fill="#46b03a"/><circle cx="1357.06" cy="985.62" r="0.86" fill="#46b03a"/><circle cx="1360.09" cy="977.53" r="0.98" fill="#3aa032"/><circle cx="1384.24" cy="993.99" r="0.67" fill="#2a7a26"/><circle cx="1367.16" cy="977.6" r="1.09" fill="#3aa032"/><circle cx="1407.68" cy="997.87" r="0.94" fill="#2a7a26"/><circle cx="1334.56" cy="983.52" r="0.69" fill="#2a7a26"/><circle cx="1417.63" cy="954.5" r="0.95" fill="#2f8a2a"/><circle cx="1351.37" cy="1010.48" r="0.61" fill="#46b03a"/><circle cx="1386.04" cy="972.2" r="0.84" fill="#2f8a2a"/><circle cx="1372.96" cy="990.59" r="0.85" fill="#2a7a26"/><circle cx="1389.23" cy="1001.95" r="0.91" fill="#46b03a"/><circle cx="1401.64" cy="977.61" r="0.87" fill="#46b03a"/><circle cx="1376.67" cy="985.65" r="0.61" fill="#2f8a2a"/><circle cx="1385.09" cy="998.71" r="0.67" fill="#2f8a2a"/><circle cx="1336.91" cy="1007.82" r="1.08" fill="#2a7a26"/><circle cx="1342.21" cy="954.49" r="1.02" fill="#2a7a26"/><circle cx="1345.63" cy="982.56" r="0.81" fill="#46b03a"/><circle cx="1396.39" cy="984.6" r="0.99" fill="#3aa032"/><circle cx="1375.49" cy="995.08" r="0.65" fill="#2a7a26"/><circle cx="1383.45" cy="983.69" r="1.07" fill="#3aa032"/><circle cx="1376.99" cy="965.07" r="0.72" fill="#2f8a2a"/><circle cx="1349.31" cy="969.61" r="0.96" fill="#2a7a26"/><circle cx="1366.21" cy="974.33" r="0.7" fill="#2a7a26"/><circle cx="1429.69" cy="996.44" r="0.75" fill="#46b03a"/><circle cx="1380.75" cy="994.32" r="0.87" fill="#46b03a"/><circle cx="1396.15" cy="988.4" r="0.69" fill="#46b03a"/><circle cx="1419.37" cy="963.08" r="1.01" fill="#3aa032"/><circle cx="1372.85" cy="965.71" r="1.06" fill="#2a7a26"/><circle cx="1430.29" cy="979.02" r="1.08" fill="#2a7a26"/><circle cx="1381.66" cy="998.19" r="0.95" fill="#3aa032"/><circle cx="1378.75" cy="978.78" r="0.85" fill="#2f8a2a"/><circle cx="1368.2" cy="958.86" r="0.81" fill="#3aa032"/><circle cx="1371.99" cy="966.17" r="1.04" fill="#3aa032"/><circle cx="1360" cy="967.84" r="0.98" fill="#46b03a"/><circle cx="1375.2" cy="959.44" r="0.79" fill="#2f8a2a"/><circle cx="1418.93" cy="978.41" r="1.09" fill="#2a7a26"/><circle cx="1368.83" cy="954.82" r="0.6" fill="#2a7a26"/><circle cx="1376.5" cy="986.69" r="0.64" fill="#2f8a2a"/><circle cx="1381.74" cy="979.79" r="0.71" fill="#2f8a2a"/><circle cx="1410.43" cy="986.28" r="0.92" fill="#2f8a2a"/><circle cx="1371.08" cy="972.6" r="0.87" fill="#2a7a26"/><circle cx="1374.95" cy="955.43" r="0.77" fill="#2a7a26"/><circle cx="1360.97" cy="965.8" r="0.78" fill="#3aa032"/><circle cx="1394.82" cy="1022.88" r="0.68" fill="#46b03a"/><circle cx="1384.46" cy="984.46" r="1" fill="#46b03a"/><circle cx="1363.68" cy="968.65" r="0.92" fill="#46b03a"/><circle cx="1344.35" cy="978.04" r="0.74" fill="#3aa032"/><circle cx="1368.68" cy="1002.97" r="0.9" fill="#3aa032"/><circle cx="1365.97" cy="1017.66" r="0.84" fill="#46b03a"/><circle cx="1340.12" cy="1001.64" r="0.75" fill="#2f8a2a"/><circle cx="1386.31" cy="972.56" r="0.95" fill="#46b03a"/><circle cx="1411.76" cy="974.48" r="0.81" fill="#46b03a"/><circle cx="1392.13" cy="982.34" r="0.87" fill="#2f8a2a"/><circle cx="1369.56" cy="977.27" r="0.72" fill="#46b03a"/><circle cx="1397.91" cy="1006.88" r="1.05" fill="#3aa032"/><circle cx="1390.2" cy="969.56" r="0.99" fill="#46b03a"/><circle cx="1349.29" cy="997.44" r="0.61" fill="#2a7a26"/><circle cx="1362.03" cy="955.92" r="0.81" fill="#2a7a26"/><circle cx="1354.93" cy="969.36" r="1.02" fill="#46b03a"/><circle cx="1358.32" cy="975.87" r="0.66" fill="#3aa032"/><circle cx="1398.09" cy="964.25" r="0.73" fill="#46b03a"/><circle cx="1406.88" cy="996.24" r="0.67" fill="#46b03a"/><circle cx="1349.11" cy="967.9" r="0.91" fill="#46b03a"/><circle cx="1355.68" cy="1015.03" r="0.85" fill="#2f8a2a"/><circle cx="1381.09" cy="1025.55" r="0.86" fill="#46b03a"/><circle cx="1397.27" cy="1013.07" r="0.98" fill="#2f8a2a"/><circle cx="1363.25" cy="993.58" r="0.76" fill="#2a7a26"/><circle cx="1386.46" cy="1015.47" r="0.76" fill="#2f8a2a"/><circle cx="1374.05" cy="996.52" r="0.99" fill="#2f8a2a"/><circle cx="1380.45" cy="988.5" r="0.71" fill="#2a7a26"/><circle cx="1369.52" cy="976.65" r="0.93" fill="#46b03a"/><circle cx="1359.72" cy="976.99" r="1.02" fill="#2f8a2a"/><circle cx="1392.59" cy="970.13" r="1.09" fill="#3aa032"/><circle cx="1370.92" cy="991.49" r="0.71" fill="#46b03a"/><circle cx="1386.73" cy="954.75" r="0.95" fill="#3aa032"/><circle cx="1374.57" cy="996.53" r="0.73" fill="#2f8a2a"/><circle cx="1324.1" cy="974.72" r="0.94" fill="#2f8a2a"/><circle cx="1419.49" cy="975.74" r="0.97" fill="#2a7a26"/><circle cx="1384.8" cy="956.99" r="0.92" fill="#3aa032"/><circle cx="1349.07" cy="948.88" r="0.72" fill="#3aa032"/><circle cx="1364.21" cy="993.85" r="1.06" fill="#2a7a26"/><circle cx="1420.73" cy="987.04" r="0.93" fill="#3aa032"/><circle cx="1397.35" cy="992.61" r="0.61" fill="#2a7a26"/><circle cx="1360.68" cy="989.83" r="0.84" fill="#3aa032"/><circle cx="1361.61" cy="976.56" r="1.08" fill="#2f8a2a"/><circle cx="1392.42" cy="1020.2" r="0.9" fill="#3aa032"/><circle cx="1384.13" cy="959.68" r="0.79" fill="#46b03a"/><circle cx="1385" cy="946.92" r="0.65" fill="#3aa032"/><circle cx="1352.07" cy="1009.51" r="1.1" fill="#46b03a"/><circle cx="1364.08" cy="987.92" r="0.61" fill="#46b03a"/><circle cx="1385.97" cy="1011.05" r="0.65" fill="#2f8a2a"/><circle cx="1384.75" cy="1030.16" r="0.84" fill="#2a7a26"/><circle cx="1383.05" cy="1008.56" r="0.74" fill="#2f8a2a"/><circle cx="1364.19" cy="960.66" r="0.7" fill="#46b03a"/><circle cx="1368.3" cy="968.04" r="1.06" fill="#2a7a26"/><circle cx="1372.42" cy="996.06" r="0.96" fill="#3aa032"/><circle cx="1373.59" cy="1014.75" r="1.03" fill="#46b03a"/><circle cx="1397.29" cy="989.81" r="0.64" fill="#2a7a26"/><circle cx="1389.2" cy="985.9" r="0.93" fill="#3aa032"/><circle cx="1378.57" cy="985.19" r="0.62" fill="#46b03a"/><circle cx="1367.16" cy="1001.29" r="0.71" fill="#46b03a"/><circle cx="1426.27" cy="982.83" r="0.65" fill="#3aa032"/><circle cx="1363.48" cy="1006.14" r="0.81" fill="#2f8a2a"/><circle cx="1380.38" cy="972.48" r="0.87" fill="#46b03a"/><circle cx="1367.33" cy="950.71" r="0.9" fill="#2a7a26"/><circle cx="1382.03" cy="967.8" r="0.94" fill="#2f8a2a"/><circle cx="1362.72" cy="961.92" r="0.75" fill="#46b03a"/><circle cx="1390.35" cy="994.15" r="0.67" fill="#2a7a26"/><circle cx="1396.81" cy="988.27" r="0.95" fill="#46b03a"/><circle cx="1385.18" cy="967.48" r="0.65" fill="#46b03a"/><circle cx="1346.9" cy="970.18" r="0.89" fill="#2f8a2a"/><circle cx="1392.53" cy="1014.62" r="0.85" fill="#2f8a2a"/><circle cx="1384.36" cy="983.31" r="0.61" fill="#3aa032"/><circle cx="1352.66" cy="993.3" r="0.62" fill="#46b03a"/><circle cx="1387.15" cy="1006.8" r="0.79" fill="#2a7a26"/><circle cx="1340.48" cy="981.2" r="0.85" fill="#3aa032"/><circle cx="1401.87" cy="966.92" r="1.08" fill="#2a7a26"/><circle cx="1362.87" cy="1003.59" r="1.05" fill="#46b03a"/><circle cx="1362.74" cy="999.03" r="1.03" fill="#2a7a26"/><circle cx="1387.49" cy="944.83" r="0.94" fill="#3aa032"/><circle cx="1348.37" cy="981.87" r="0.94" fill="#46b03a"/><circle cx="1409" cy="972.47" r="0.7" fill="#3aa032"/><circle cx="1373.87" cy="984.41" r="0.94" fill="#2a7a26"/><circle cx="1408.51" cy="976.55" r="0.93" fill="#46b03a"/><circle cx="1399.61" cy="980.57" r="0.81" fill="#46b03a"/><circle cx="1365.42" cy="1013.56" r="0.82" fill="#2a7a26"/><circle cx="1356.35" cy="983.35" r="0.98" fill="#46b03a"/><circle cx="1356.66" cy="971.58" r="0.7" fill="#46b03a"/><circle cx="1356.82" cy="1011.97" r="1.09" fill="#2a7a26"/><circle cx="1358.02" cy="989.78" r="0.73" fill="#3aa032"/><circle cx="1382.11" cy="976.65" r="0.68" fill="#2a7a26"/><circle cx="1341.92" cy="966.68" r="0.62" fill="#46b03a"/><circle cx="1411.39" cy="969.08" r="1.09" fill="#2f8a2a"/><circle cx="1377.02" cy="970.49" r="1.08" fill="#2f8a2a"/><circle cx="1369.84" cy="973.63" r="0.97" fill="#3aa032"/><circle cx="1364.92" cy="1007.3" r="0.98" fill="#46b03a"/><circle cx="1371.53" cy="996.28" r="0.69" fill="#2a7a26"/><circle cx="1386.41" cy="988.29" r="0.78" fill="#2a7a26"/><circle cx="1363.77" cy="967.02" r="1.03" fill="#46b03a"/><circle cx="1352.49" cy="1005.03" r="0.62" fill="#46b03a"/><circle cx="1384.38" cy="987.03" r="1.06" fill="#2f8a2a"/><circle cx="1374.23" cy="957.26" r="0.88" fill="#2f8a2a"/><circle cx="1358.99" cy="977.5" r="0.66" fill="#3aa032"/><circle cx="1337.63" cy="961.46" r="0.79" fill="#46b03a"/><circle cx="1352.65" cy="968.15" r="1.02" fill="#46b03a"/><circle cx="1351.52" cy="975.93" r="0.96" fill="#3aa032"/><circle cx="1375.12" cy="1004.58" r="0.61" fill="#2a7a26"/><circle cx="1384.06" cy="978.59" r="0.66" fill="#46b03a"/><circle cx="1372.18" cy="968.9" r="0.69" fill="#46b03a"/><circle cx="1374.73" cy="959.75" r="1.06" fill="#2a7a26"/><circle cx="1342.68" cy="970.7" r="0.8" fill="#2a7a26"/><circle cx="1406.69" cy="987.4" r="0.83" fill="#46b03a"/><circle cx="1367.78" cy="972.31" r="0.88" fill="#46b03a"/><circle cx="1408.28" cy="1020.12" r="1.01" fill="#2f8a2a"/><circle cx="1368.7" cy="1022.71" r="0.73" fill="#46b03a"/><circle cx="1376.22" cy="956.97" r="0.76" fill="#3aa032"/><circle cx="1365.57" cy="1003.99" r="0.7" fill="#2a7a26"/><circle cx="1348.55" cy="980.78" r="0.72" fill="#2a7a26"/><circle cx="1383.76" cy="985.39" r="0.67" fill="#2a7a26"/><circle cx="1325.39" cy="990.53" r="0.74" fill="#2a7a26"/><circle cx="1378.5" cy="994.67" r="0.89" fill="#3aa032"/><circle cx="1397.1" cy="1023.56" r="0.88" fill="#46b03a"/><circle cx="1396.52" cy="998.71" r="0.67" fill="#2a7a26"/><circle cx="1354.03" cy="987.91" r="0.7" fill="#2a7a26"/><circle cx="1355.57" cy="988.71" r="1.05" fill="#3aa032"/><circle cx="1359.44" cy="954.7" r="0.6" fill="#3aa032"/><circle cx="1408.37" cy="1017.48" r="0.83" fill="#2f8a2a"/><circle cx="1376.19" cy="965.69" r="0.73" fill="#2f8a2a"/><circle cx="1366.53" cy="991.35" r="0.9" fill="#2a7a26"/><circle cx="1389.42" cy="987.78" r="0.69" fill="#2f8a2a"/><circle cx="1328.35" cy="950.19" r="0.77" fill="#3aa032"/><circle cx="1385.79" cy="981.59" r="0.88" fill="#3aa032"/><circle cx="1342.78" cy="983.29" r="0.7" fill="#3aa032"/><circle cx="1392.96" cy="1003.45" r="0.95" fill="#2f8a2a"/><circle cx="1390.14" cy="974.89" r="1.04" fill="#46b03a"/><circle cx="1378.12" cy="966.44" r="0.71" fill="#46b03a"/><circle cx="1342.66" cy="994.47" r="0.73" fill="#2a7a26"/><circle cx="1390.15" cy="1011.79" r="0.91" fill="#2f8a2a"/><circle cx="1379.19" cy="950.52" r="0.87" fill="#2f8a2a"/><circle cx="1384.73" cy="989.58" r="0.94" fill="#46b03a"/><circle cx="1354.94" cy="1002.94" r="0.65" fill="#3aa032"/><circle cx="1375.78" cy="1011.51" r="0.81" fill="#2f8a2a"/><circle cx="1406.65" cy="948.96" r="0.99" fill="#2f8a2a"/><circle cx="1398.25" cy="994.95" r="1.1" fill="#2a7a26"/><circle cx="1371.27" cy="997.43" r="0.74" fill="#3aa032"/><circle cx="1418" cy="966.51" r="0.72" fill="#2a7a26"/><circle cx="1407.15" cy="968.27" r="0.62" fill="#3aa032"/><circle cx="1369.81" cy="962.61" r="0.88" fill="#46b03a"/><circle cx="1375.07" cy="1005.16" r="0.78" fill="#46b03a"/><circle cx="1409.36" cy="998.13" r="0.65" fill="#2f8a2a"/><g filter="url(#speck5)"><path d="M1383 967 L1409 1003 Q1404 1013 1385 1011 L1360 1008 Q1354 998 1362 985 Z" fill="#72c83a"/><ellipse cx="1383" cy="989" rx="13" ry="11" fill="#dcee48"/><ellipse cx="1382" cy="973" rx="3" ry="3" fill="#e8321e"/></g></g><line x1="1379.7" y1="942.1" x2="1382.7" y2="1033.8" stroke="#fff" stroke-width="2.7" stroke-dasharray="6.7 3.4"/>
<text x="1326" y="1030.5" font-size="30" text-anchor="start" font-weight="bold" fill="#fff">3</text>
<rect x="269.8" y="2071.1" width="25.8" height="28.1" fill="#9a1f27"/>
<rect x="297.45" y="1878.4" width="25.8" height="220.8" fill="#9a1f27"/>
<rect x="325.1" y="1998.4" width="25.8" height="100.8" fill="#9a1f27"/>
<rect x="352.75" y="2052.9" width="25.8" height="46.3" fill="#9a1f27"/>
<rect x="380.4" y="2082.7" width="25.8" height="16.5" fill="#388a41"/>
<rect x="408.05" y="1764.5" width="25.8" height="334.7" fill="#388a41"/>
<rect x="435.7" y="1826.4" width="25.8" height="272.8" fill="#388a41"/>
<rect x="463.35" y="1986.4" width="25.8" height="112.8" fill="#388a41"/>
<rect x="491" y="2060.9" width="25.8" height="38.3" fill="#388a41"/>
<rect x="518.65" y="2092.9" width="25.8" height="6.3" fill="#388a41"/>
<line x1="174.2" y1="1660.2" x2="174.2" y2="2101.2" stroke="#000" stroke-width="4"/>
<line x1="157" y1="2099.2" x2="591" y2="2099.2" stroke="#000" stroke-width="4"/>
<line x1="157" y1="2099.2" x2="174.2" y2="2099.2" stroke="#000" stroke-width="4"/>
<text x="147.7" y="2112" font-size="36" text-anchor="end" fill="#000">0</text>
<line x1="157" y1="2011.8" x2="174.2" y2="2011.8" stroke="#000" stroke-width="4"/>
<text x="147.7" y="2024.6" font-size="36" text-anchor="end" fill="#000">1</text>
<line x1="157" y1="1924.4" x2="174.2" y2="1924.4" stroke="#000" stroke-width="4"/>
<text x="147.7" y="1937.2" font-size="36" text-anchor="end" fill="#000">2</text>
<line x1="157" y1="1837" x2="174.2" y2="1837" stroke="#000" stroke-width="4"/>
<text x="147.7" y="1849.8" font-size="36" text-anchor="end" fill="#000">3</text>
<line x1="157" y1="1749.6" x2="174.2" y2="1749.6" stroke="#000" stroke-width="4"/>
<text x="147.7" y="1762.4" font-size="36" text-anchor="end" fill="#000">4</text>
<line x1="157" y1="1662.2" x2="174.2" y2="1662.2" stroke="#000" stroke-width="4"/>
<text x="147.7" y="1675" font-size="36" text-anchor="end" fill="#000">5</text>
<line x1="178.5" y1="2099.2" x2="178.5" y2="2115.1" stroke="#000" stroke-width="4"/>
<text x="188.9" y="2140.8" font-size="36" text-anchor="end" fill="#000" transform="rotate(-45 188.9 2140.8)">-2.5</text>
<line x1="223.6" y1="2099.2" x2="223.6" y2="2115.1" stroke="#000" stroke-width="4"/>
<text x="234" y="2140.8" font-size="36" text-anchor="end" fill="#000" transform="rotate(-45 234 2140.8)">-2.0</text>
<line x1="269.8" y1="2099.2" x2="269.8" y2="2115.1" stroke="#000" stroke-width="4"/>
<text x="280.2" y="2140.8" font-size="36" text-anchor="end" fill="#000" transform="rotate(-45 280.2 2140.8)">-1.5</text>
<line x1="316.4" y1="2099.2" x2="316.4" y2="2115.1" stroke="#000" stroke-width="4"/>
<text x="326.8" y="2140.8" font-size="36" text-anchor="end" fill="#000" transform="rotate(-45 326.8 2140.8)">-1.0</text>
<line x1="361.7" y1="2099.2" x2="361.7" y2="2115.1" stroke="#000" stroke-width="4"/>
<text x="372.1" y="2140.8" font-size="36" text-anchor="end" fill="#000" transform="rotate(-45 372.1 2140.8)">-0.5</text>
<line x1="408" y1="2099.2" x2="408" y2="2115.1" stroke="#000" stroke-width="4"/>
<text x="406.8" y="2146.1" font-size="36" text-anchor="middle" fill="#000">0</text>
<line x1="453.9" y1="2099.2" x2="453.9" y2="2115.1" stroke="#000" stroke-width="4"/>
<text x="464.3" y="2140.8" font-size="36" text-anchor="end" fill="#000" transform="rotate(-45 464.3 2140.8)">0.5</text>
<line x1="499.7" y1="2099.2" x2="499.7" y2="2115.1" stroke="#000" stroke-width="4"/>
<text x="510.1" y="2140.8" font-size="36" text-anchor="end" fill="#000" transform="rotate(-45 510.1 2140.8)">1.0</text>
<line x1="544.4" y1="2099.2" x2="544.4" y2="2115.1" stroke="#000" stroke-width="4"/>
<text x="554.8" y="2140.8" font-size="36" text-anchor="end" fill="#000" transform="rotate(-45 554.8 2140.8)">1.5</text>
<line x1="589.1" y1="2099.2" x2="589.1" y2="2115.1" stroke="#000" stroke-width="4"/>
<text x="599.5" y="2140.8" font-size="36" text-anchor="end" fill="#000" transform="rotate(-45 599.5 2140.8)">2.0</text>
<text x="158.6" y="1640.8" font-size="35">x10<tspan font-size="25" dy="-17">3</tspan></text>
<text x="89" y="1878.3" font-size="42" text-anchor="middle" textLength="204.41" lengthAdjust="spacingAndGlyphs" transform="rotate(-90 89 1878.3)">Frequency</text>
<text x="371.35" y="2223.5" font-size="40" text-anchor="middle" textLength="239.76" lengthAdjust="spacingAndGlyphs">Distance(nm)</text>
<text x="528.7" y="2225.7" font-size="35">x10<tspan font-size="25" dy="-17">2</tspan></text>
<rect x="422" y="1660.2" width="24.8" height="17" fill="#9a1f27"/>
<text x="459" y="1675.4" font-size="29.5" text-anchor="start" fill="#000">Coro2B</text>
<rect x="422" y="1696.8" width="24.8" height="17" fill="#388a41"/>
<text x="459" y="1717.3" font-size="29.5" text-anchor="start" fill="#000">FBL</text>
<rect x="422" y="1735.1" width="24.8" height="17" fill="#c6893d"/>
<text x="459" y="1755.6" font-size="29.5" text-anchor="start" fill="#000">Merge</text>
<text x="5.5" y="1623.6" font-size="50" text-anchor="start" font-weight="bold" fill="#000">F</text>
<rect x="186.4" y="1662" width="109.6" height="106.6" fill="#000"/>
<g filter="url(#speck4)"><ellipse cx="222" cy="1687" rx="12.5" ry="15" fill="#78cc3c"/><ellipse cx="213" cy="1717" rx="14.5" ry="15.5" fill="#78cc3c"/><ellipse cx="218" cy="1702" rx="11" ry="8" fill="#78cc3c"/><ellipse cx="255.4" cy="1721" rx="10.5" ry="10" fill="#ea281e"/><ellipse cx="255" cy="1740" rx="6" ry="18" fill="#ea281e"/><ellipse cx="275" cy="1726" rx="8.5" ry="9" fill="#ea281e"/><ellipse cx="273" cy="1744" rx="4" ry="6" fill="#8a1812"/></g><line x1="197.5" y1="1677.6" x2="278.4" y2="1745.7" stroke="#fff" stroke-width="3" stroke-dasharray="8 4.7"/>
<text x="188" y="1762.9" font-size="30" text-anchor="start" font-weight="bold" fill="#fff">1</text>
<rect x="895" y="2063.4" width="25.1" height="35.1" fill="#388a41"/>
<rect x="921.65" y="1687.2" width="25.1" height="411.3" fill="#388a41"/>
<rect x="948.3" y="1826.9" width="25.1" height="271.6" fill="#388a41"/>
<rect x="948.3" y="2064.4" width="25.1" height="34.1" fill="#b7612a"/>
<rect x="974.95" y="1938.8" width="25.1" height="159.7" fill="#9a1f27"/>
<rect x="974.95" y="2060.2" width="25.1" height="38.3" fill="#b7612a"/>
<rect x="1001.6" y="2009.2" width="25.1" height="89.3" fill="#9a1f27"/>
<rect x="1001.6" y="2094.3" width="25.1" height="4.2" fill="#b7612a"/>
<rect x="1028.25" y="2073.2" width="25.1" height="25.3" fill="#9a1f27"/>
<rect x="1054.9" y="2096" width="25.1" height="2.5" fill="#555"/>
<line x1="748.2" y1="1659.5" x2="748.2" y2="2100.5" stroke="#000" stroke-width="4"/>
<line x1="730.5" y1="2098.5" x2="1174.7" y2="2098.5" stroke="#000" stroke-width="4"/>
<line x1="730.5" y1="2098.5" x2="748.2" y2="2098.5" stroke="#000" stroke-width="4"/>
<text x="721.2" y="2111.3" font-size="36" text-anchor="end" fill="#000">0</text>
<line x1="730.5" y1="2025.67" x2="748.2" y2="2025.67" stroke="#000" stroke-width="4"/>
<text x="721.2" y="2038.47" font-size="36" text-anchor="end" fill="#000">1</text>
<line x1="730.5" y1="1952.84" x2="748.2" y2="1952.84" stroke="#000" stroke-width="4"/>
<text x="721.2" y="1965.64" font-size="36" text-anchor="end" fill="#000">2</text>
<line x1="730.5" y1="1880.01" x2="748.2" y2="1880.01" stroke="#000" stroke-width="4"/>
<text x="721.2" y="1892.81" font-size="36" text-anchor="end" fill="#000">3</text>
<line x1="730.5" y1="1807.18" x2="748.2" y2="1807.18" stroke="#000" stroke-width="4"/>
<text x="721.2" y="1819.98" font-size="36" text-anchor="end" fill="#000">4</text>
<line x1="730.5" y1="1734.35" x2="748.2" y2="1734.35" stroke="#000" stroke-width="4"/>
<text x="721.2" y="1747.15" font-size="36" text-anchor="end" fill="#000">5</text>
<line x1="730.5" y1="1661.52" x2="748.2" y2="1661.52" stroke="#000" stroke-width="4"/>
<text x="721.2" y="1674.32" font-size="36" text-anchor="end" fill="#000">6</text>
<line x1="748.2" y1="2098.5" x2="748.2" y2="2116.7" stroke="#000" stroke-width="4"/>
<text x="758.8" y="2142" font-size="36" text-anchor="end" fill="#000" transform="rotate(-45 758.8 2142)">-2.5</text>
<line x1="800" y1="2098.5" x2="800" y2="2116.7" stroke="#000" stroke-width="4"/>
<text x="810.6" y="2142" font-size="36" text-anchor="end" fill="#000" transform="rotate(-45 810.6 2142)">-2.0</text>
<line x1="847.4" y1="2098.5" x2="847.4" y2="2116.7" stroke="#000" stroke-width="4"/>
<text x="858" y="2142" font-size="36" text-anchor="end" fill="#000" transform="rotate(-45 858 2142)">-1.5</text>
<line x1="893.2" y1="2098.5" x2="893.2" y2="2116.7" stroke="#000" stroke-width="4"/>
<text x="903.8" y="2142" font-size="36" text-anchor="end" fill="#000" transform="rotate(-45 903.8 2142)">-1.0</text>
<line x1="941.3" y1="2098.5" x2="941.3" y2="2116.7" stroke="#000" stroke-width="4"/>
<text x="951.9" y="2142" font-size="36" text-anchor="end" fill="#000" transform="rotate(-45 951.9 2142)">-0.5</text>
<line x1="988.2" y1="2098.5" x2="988.2" y2="2116.7" stroke="#000" stroke-width="4"/>
<text x="986.9" y="2147.2" font-size="36" text-anchor="middle" fill="#000">0</text>
<line x1="1035.2" y1="2098.5" x2="1035.2" y2="2116.7" stroke="#000" stroke-width="4"/>
<text x="1045.8" y="2142" font-size="36" text-anchor="end" fill="#000" transform="rotate(-45 1045.8 2142)">0.5</text>
<line x1="1082" y1="2098.5" x2="1082" y2="2116.7" stroke="#000" stroke-width="4"/>
<text x="1092.6" y="2142" font-size="36" text-anchor="end" fill="#000" transform="rotate(-45 1092.6 2142)">1.0</text>
<line x1="1129" y1="2098.5" x2="1129" y2="2116.7" stroke="#000" stroke-width="4"/>
<text x="1139.6" y="2142" font-size="36" text-anchor="end" fill="#000" transform="rotate(-45 1139.6 2142)">1.5</text>
<line x1="1173" y1="2098.5" x2="1173" y2="2116.7" stroke="#000" stroke-width="4"/>
<text x="1183.6" y="2142" font-size="36" text-anchor="end" fill="#000" transform="rotate(-45 1183.6 2142)">2.0</text>
<text x="732.7" y="1642.8" font-size="35">x10<tspan font-size="25" dy="-17">3</tspan></text>
<text x="662.6" y="1883.4" font-size="42" text-anchor="middle" textLength="197.32" lengthAdjust="spacingAndGlyphs" transform="rotate(-90 662.6 1883.4)">Frequency</text>
<text x="950.15" y="2224.1" font-size="40" text-anchor="middle" textLength="245.52" lengthAdjust="spacingAndGlyphs">Distance(nm)</text>
<text x="1112.1" y="2226.8" font-size="35">x10<tspan font-size="25" dy="-17">2</tspan></text>
<rect x="1003.9" y="1662" width="25.6" height="17" fill="#9a1f27"/>
<text x="1042" y="1677.2" font-size="30.3" text-anchor="start" fill="#000">Coro2B</text>
<rect x="1003.9" y="1698.4" width="25.6" height="17" fill="#388a41"/>
<text x="1042" y="1718.9" font-size="30.3" text-anchor="start" fill="#000">FBL</text>
<rect x="1003.9" y="1736.9" width="25.6" height="17" fill="#c6893d"/>
<text x="1042" y="1757.4" font-size="30.3" text-anchor="start" fill="#000">Merge</text>
<text x="626.6" y="1624.4" font-size="50" text-anchor="start" font-weight="bold" fill="#000">G</text>
<rect x="760.4" y="1659.7" width="109.6" height="107.3" fill="#000"/>
<g filter="url(#speck4)"><ellipse cx="818" cy="1690" rx="13.5" ry="20" fill="#78cc3c" transform="rotate(5 818 1690)"/><ellipse cx="812" cy="1713" rx="8" ry="10" fill="#78cc3c"/><ellipse cx="806.5" cy="1746.5" rx="7.3" ry="16.5" fill="#ea281e" transform="rotate(5 806.5 1746.5)"/></g><line x1="820.7" y1="1663.4" x2="802.2" y2="1766.6" stroke="#fff" stroke-width="2.7" stroke-dasharray="8 3.7"/>
<text x="765" y="1758.5" font-size="30" text-anchor="start" font-weight="bold" fill="#fff">2</text>
<rect x="1399.6" y="2098.9" width="25" height="3.1" fill="#9a1f27"/>
<rect x="1426.1" y="1950.8" width="25" height="151.2" fill="#388a41"/>
<rect x="1452.6" y="1727.7" width="25" height="374.3" fill="#388a41"/>
<rect x="1479.1" y="1700.2" width="25" height="401.8" fill="#388a41"/>
<rect x="1505.6" y="1967.7" width="25" height="134.3" fill="#388a41"/>
<rect x="1505.6" y="2097.8" width="25" height="4.2" fill="#b7612a"/>
<rect x="1532.1" y="1918.4" width="25" height="183.6" fill="#9a1f27"/>
<rect x="1532.1" y="2090.8" width="25" height="11.2" fill="#b7612a"/>
<rect x="1558.6" y="1804" width="25" height="298" fill="#9a1f27"/>
<rect x="1585.1" y="2011.6" width="25" height="90.4" fill="#9a1f27"/>
<rect x="1611.6" y="2096.1" width="25" height="5.9" fill="#9a1f27"/>
<line x1="1306.4" y1="1654.8" x2="1306.4" y2="2104" stroke="#000" stroke-width="4"/>
<line x1="1288.8" y1="2102" x2="1730.6" y2="2102" stroke="#000" stroke-width="4"/>
<line x1="1288.8" y1="2102" x2="1306.4" y2="2102" stroke="#000" stroke-width="4"/>
<text x="1280.2" y="2114.8" font-size="36" text-anchor="end" fill="#000">0</text>
<line x1="1288.8" y1="1990.7" x2="1306.4" y2="1990.7" stroke="#000" stroke-width="4"/>
<text x="1280.2" y="2003.5" font-size="36" text-anchor="end" fill="#000">1</text>
<line x1="1288.8" y1="1879.4" x2="1306.4" y2="1879.4" stroke="#000" stroke-width="4"/>
<text x="1280.2" y="1892.2" font-size="36" text-anchor="end" fill="#000">2</text>
<line x1="1288.8" y1="1768.1" x2="1306.4" y2="1768.1" stroke="#000" stroke-width="4"/>
<text x="1280.2" y="1780.9" font-size="36" text-anchor="end" fill="#000">3</text>
<line x1="1288.8" y1="1656.8" x2="1306.4" y2="1656.8" stroke="#000" stroke-width="4"/>
<text x="1280.2" y="1669.6" font-size="36" text-anchor="end" fill="#000">4</text>
<line x1="1306.6" y1="2102" x2="1306.6" y2="2120.3" stroke="#000" stroke-width="4"/>
<text x="1309" y="2145.8" font-size="36" text-anchor="end" fill="#000" transform="rotate(-45 1309 2145.8)">-2.5</text>
<line x1="1355.9" y1="2102" x2="1355.9" y2="2120.3" stroke="#000" stroke-width="4"/>
<text x="1358.3" y="2145.8" font-size="36" text-anchor="end" fill="#000" transform="rotate(-45 1358.3 2145.8)">-2.0</text>
<line x1="1402.7" y1="2102" x2="1402.7" y2="2120.3" stroke="#000" stroke-width="4"/>
<text x="1405.1" y="2145.8" font-size="36" text-anchor="end" fill="#000" transform="rotate(-45 1405.1 2145.8)">-1.5</text>
<line x1="1450.9" y1="2102" x2="1450.9" y2="2120.3" stroke="#000" stroke-width="4"/>
<text x="1453.3" y="2145.8" font-size="36" text-anchor="end" fill="#000" transform="rotate(-45 1453.3 2145.8)">-1.0</text>
<line x1="1499.4" y1="2102" x2="1499.4" y2="2120.3" stroke="#000" stroke-width="4"/>
<text x="1501.8" y="2145.8" font-size="36" text-anchor="end" fill="#000" transform="rotate(-45 1501.8 2145.8)">-0.5</text>
<line x1="1547.1" y1="2102" x2="1547.1" y2="2120.3" stroke="#000" stroke-width="4"/>
<text x="1537.4" y="2151.6" font-size="36" text-anchor="middle" fill="#000">0</text>
<line x1="1594.9" y1="2102" x2="1594.9" y2="2120.3" stroke="#000" stroke-width="4"/>
<text x="1597.3" y="2145.8" font-size="36" text-anchor="end" fill="#000" transform="rotate(-45 1597.3 2145.8)">0.5</text>
<line x1="1642.5" y1="2102" x2="1642.5" y2="2120.3" stroke="#000" stroke-width="4"/>
<text x="1644.9" y="2145.8" font-size="36" text-anchor="end" fill="#000" transform="rotate(-45 1644.9 2145.8)">1.0</text>
<line x1="1690.2" y1="2102" x2="1690.2" y2="2120.3" stroke="#000" stroke-width="4"/>
<text x="1692.6" y="2145.8" font-size="36" text-anchor="end" fill="#000" transform="rotate(-45 1692.6 2145.8)">1.5</text>
<line x1="1728.9" y1="2102" x2="1728.9" y2="2120.3" stroke="#000" stroke-width="4"/>
<text x="1731.3" y="2145.8" font-size="36" text-anchor="end" fill="#000" transform="rotate(-45 1731.3 2145.8)">2.0</text>
<text x="1288" y="1634" font-size="35">x10<tspan font-size="25" dy="-17">3</tspan></text>
<text x="1221.6" y="1881.7" font-size="42" text-anchor="middle" textLength="200.61" lengthAdjust="spacingAndGlyphs" transform="rotate(-90 1221.6 1881.7)">Frequency</text>
<text x="1500.75" y="2228.4" font-size="40" text-anchor="middle" textLength="247.79" lengthAdjust="spacingAndGlyphs">Distance(nm)</text>
<text x="1664.3" y="2229.5" font-size="35">x10<tspan font-size="25" dy="-17">2</tspan></text>
<rect x="1563.3" y="1661.8" width="25.7" height="17" fill="#9a1f27"/>
<text x="1602" y="1677" font-size="30.6" text-anchor="start" fill="#000">Coro2B</text>
<rect x="1563.3" y="1698.7" width="25.7" height="17" fill="#388a41"/>
<text x="1602" y="1719.2" font-size="30.6" text-anchor="start" fill="#000">FBL</text>
<rect x="1563.3" y="1737.3" width="25.7" height="17" fill="#c6893d"/>
<text x="1602" y="1757.8" font-size="30.6" text-anchor="start" fill="#000">Merge</text>
<text x="1180.5" y="1624" font-size="50" text-anchor="start" font-weight="bold" fill="#000">H</text>
<rect x="1318.4" y="1657" width="111.3" height="109.6" fill="#000"/>
<g filter="url(#speck4)"><ellipse cx="1360" cy="1714.7" rx="17.5" ry="21.5" fill="#78cc3c" transform="rotate(-10 1360 1714.7)"/><ellipse cx="1402" cy="1714.4" rx="10.8" ry="14.5" fill="#ea281e" transform="rotate(-30 1402 1714.4)"/></g><line x1="1320.7" y1="1713.4" x2="1426.6" y2="1718.8" stroke="#fff" stroke-width="2.7" stroke-dasharray="8 3.4"/>
<text x="1324" y="1758.2" font-size="30" text-anchor="start" font-weight="bold" fill="#fff">3</text>
<defs><radialGradient id="sg0"><stop offset="0" stop-color="#1e2d60" stop-opacity="1"/><stop offset="0.35" stop-color="#1e2d60" stop-opacity="0.92"/><stop offset="0.75" stop-color="#1e2d60" stop-opacity="0.35"/><stop offset="1" stop-color="#1e2d60" stop-opacity="0"/></radialGradient><radialGradient id="sg1"><stop offset="0" stop-color="#1a2855" stop-opacity="1"/><stop offset="0.35" stop-color="#1a2855" stop-opacity="0.92"/><stop offset="0.75" stop-color="#1a2855" stop-opacity="0.35"/><stop offset="1" stop-color="#1a2855" stop-opacity="0"/></radialGradient><radialGradient id="sg2"><stop offset="0" stop-color="#2a030b" stop-opacity="1"/><stop offset="0.5" stop-color="#2a030b" stop-opacity="0.92"/><stop offset="0.75" stop-color="#2a030b" stop-opacity="0.35"/><stop offset="1" stop-color="#2a030b" stop-opacity="0"/></radialGradient><radialGradient id="sg3"><stop offset="0" stop-color="#36050e" stop-opacity="0.9"/><stop offset="0.35" stop-color="#36050e" stop-opacity="0.83"/><stop offset="0.75" stop-color="#36050e" stop-opacity="0.32"/><stop offset="1" stop-color="#36050e" stop-opacity="0"/></radialGradient><radialGradient id="sg4"><stop offset="0" stop-color="#3e0614" stop-opacity="0.9"/><stop offset="0.35" stop-color="#3e0614" stop-opacity="0.83"/><stop offset="0.75" stop-color="#3e0614" stop-opacity="0.32"/><stop offset="1" stop-color="#3e0614" stop-opacity="0"/></radialGradient><radialGradient id="sg5"><stop offset="0" stop-color="#2e0409" stop-opacity="0.7"/><stop offset="0.35" stop-color="#2e0409" stop-opacity="0.64"/><stop offset="0.75" stop-color="#2e0409" stop-opacity="0.24"/><stop offset="1" stop-color="#2e0409" stop-opacity="0"/></radialGradient><radialGradient id="sg6"><stop offset="0" stop-color="#32050b" stop-opacity="0.7"/><stop offset="0.35" stop-color="#32050b" stop-opacity="0.64"/><stop offset="0.75" stop-color="#32050b" stop-opacity="0.24"/><stop offset="1" stop-color="#32050b" stop-opacity="0"/></radialGradient><radialGradient id="sg7"><stop offset="0" stop-color="#220308" stop-opacity="0.8"/><stop offset="0.35" stop-color="#220308" stop-opacity="0.74"/><stop offset="0.75" stop-color="#220308" stop-opacity="0.28"/><stop offset="1" stop-color="#220308" stop-opacity="0"/></radialGradient><radialGradient id="sg8"><stop offset="0" stop-color="#2e0612" stop-opacity="0.95"/><stop offset="0.35" stop-color="#2e0612" stop-opacity="0.87"/><stop offset="0.75" stop-color="#2e0612" stop-opacity="0.33"/><stop offset="1" stop-color="#2e0612" stop-opacity="0"/></radialGradient><radialGradient id="sg9"><stop offset="0" stop-color="#2a0610" stop-opacity="0.8"/><stop offset="0.35" stop-color="#2a0610" stop-opacity="0.74"/><stop offset="0.75" stop-color="#2a0610" stop-opacity="0.28"/><stop offset="1" stop-color="#2a0610" stop-opacity="0"/></radialGradient><radialGradient id="sg10"><stop offset="0" stop-color="#1a0408" stop-opacity="0.6"/><stop offset="0.35" stop-color="#1a0408" stop-opacity="0.55"/><stop offset="0.75" stop-color="#1a0408" stop-opacity="0.21"/><stop offset="1" stop-color="#1a0408" stop-opacity="0"/></radialGradient><radialGradient id="sg11"><stop offset="0" stop-color="#0a1030" stop-opacity="0.8"/><stop offset="0.35" stop-color="#0a1030" stop-opacity="0.74"/><stop offset="0.75" stop-color="#0a1030" stop-opacity="0.28"/><stop offset="1" stop-color="#0a1030" stop-opacity="0"/></radialGradient><radialGradient id="sg12"><stop offset="0" stop-color="#080c28" stop-opacity="0.8"/><stop offset="0.35" stop-color="#080c28" stop-opacity="0.74"/><stop offset="0.75" stop-color="#080c28" stop-opacity="0.28"/><stop offset="1" stop-color="#080c28" stop-opacity="0"/></radialGradient><radialGradient id="sg13"><stop offset="0" stop-color="#22306a" stop-opacity="0.9"/><stop offset="0.35" stop-color="#22306a" stop-opacity="0.83"/><stop offset="0.75" stop-color="#22306a" stop-opacity="0.32"/><stop offset="1" stop-color="#22306a" stop-opacity="0"/></radialGradient><radialGradient id="sg14"><stop offset="0" stop-color="#1c2a5a" stop-opacity="0.8"/><stop offset="0.35" stop-color="#1c2a5a" stop-opacity="0.74"/><stop offset="0.75" stop-color="#1c2a5a" stop-opacity="0.28"/><stop offset="1" stop-color="#1c2a5a" stop-opacity="0"/></radialGradient><radialGradient id="sg15"><stop offset="0" stop-color="#2a40b0" stop-opacity="0.9"/><stop offset="0.35" stop-color="#2a40b0" stop-opacity="0.83"/><stop offset="0.75" stop-color="#2a40b0" stop-opacity="0.32"/><stop offset="1" stop-color="#2a40b0" stop-opacity="0"/></radialGradient><radialGradient id="sg16"><stop offset="0" stop-color="#5a0818" stop-opacity="0.95"/><stop offset="0.55" stop-color="#5a0818" stop-opacity="0.87"/><stop offset="0.75" stop-color="#5a0818" stop-opacity="0.33"/><stop offset="1" stop-color="#5a0818" stop-opacity="0"/></radialGradient><radialGradient id="sg17"><stop offset="0" stop-color="#5a0a10" stop-opacity="0.6"/><stop offset="0.35" stop-color="#5a0a10" stop-opacity="0.55"/><stop offset="0.75" stop-color="#5a0a10" stop-opacity="0.21"/><stop offset="1" stop-color="#5a0a10" stop-opacity="0"/></radialGradient><radialGradient id="sg18"><stop offset="0" stop-color="#4a080e" stop-opacity="0.6"/><stop offset="0.35" stop-color="#4a080e" stop-opacity="0.55"/><stop offset="0.75" stop-color="#4a080e" stop-opacity="0.21"/><stop offset="1" stop-color="#4a080e" stop-opacity="0"/></radialGradient><radialGradient id="sg19"><stop offset="0" stop-color="#40060c" stop-opacity="0.6"/><stop offset="0.35" stop-color="#40060c" stop-opacity="0.55"/><stop offset="0.75" stop-color="#40060c" stop-opacity="0.21"/><stop offset="1" stop-color="#40060c" stop-opacity="0"/></radialGradient><radialGradient id="sg20"><stop offset="0" stop-color="#000" stop-opacity="0.7"/><stop offset="0.35" stop-color="#000" stop-opacity="0.64"/><stop offset="0.75" stop-color="#000" stop-opacity="0.24"/><stop offset="1" stop-color="#000" stop-opacity="0"/></radialGradient><radialGradient id="sg21"><stop offset="0" stop-color="#c02030" stop-opacity="1"/><stop offset="0.35" stop-color="#c02030" stop-opacity="0.92"/><stop offset="0.75" stop-color="#c02030" stop-opacity="0.35"/><stop offset="1" stop-color="#c02030" stop-opacity="0"/></radialGradient></defs>
</svg></body></html>
